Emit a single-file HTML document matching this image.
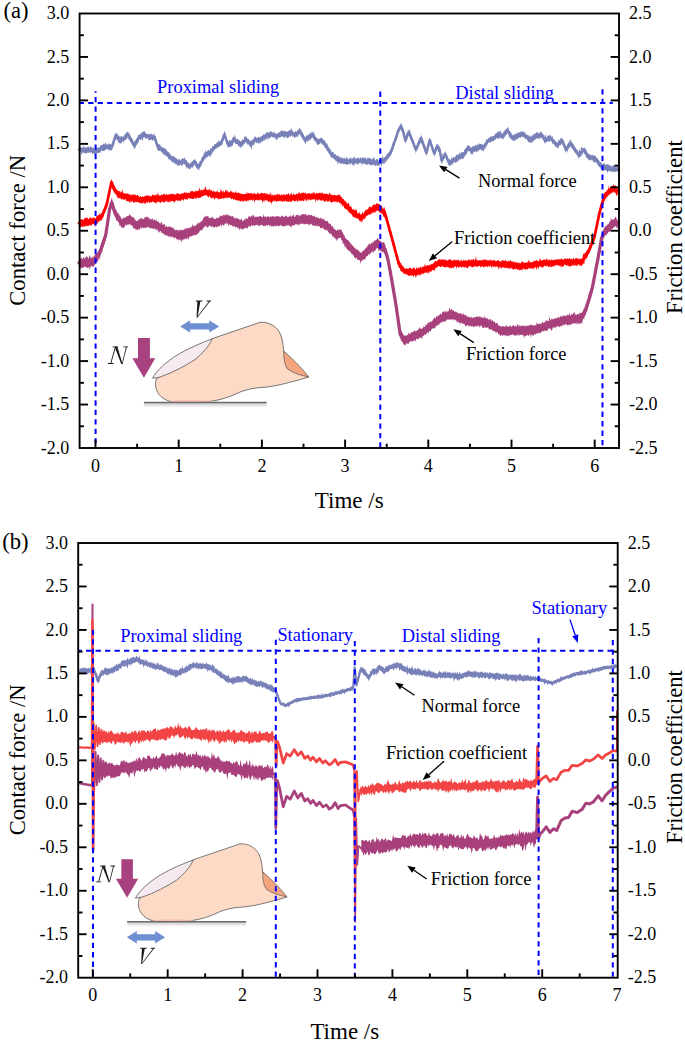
<!DOCTYPE html><html><head><meta charset="utf-8"><style>html,body{margin:0;padding:0;background:#fff;}svg{display:block;}text{font-variant-ligatures:none;font-feature-settings:"liga" 0;}</style></head><body>
<svg width="685" height="1043" viewBox="0 0 685 1043" font-family='"Liberation Serif", serif'>
<defs><linearGradient id="shd" x1="0" y1="0" x2="0" y2="1"><stop offset="0" stop-color="#c8c8c8"/><stop offset="1" stop-color="#ffffff"/></linearGradient></defs>
<rect width="685" height="1043" fill="#fff"/>
<g>
<path d="M79,147.58 79.61,146.82 80.22,147.89 80.83,146.4 81.44,147.79 82.05,147.15 82.66,147.55 83.27,147.48 83.88,145.12 84.49,147.35 85.1,148.71 85.72,146.64 86.34,148.05 86.96,146.08 87.58,147.57 88.2,146.83 88.82,146.47 89.44,148.16 90.06,146.7 90.68,145.65 91.3,147.34 91.87,147.1 92.44,148.49 93.01,147.02 93.59,148.08 94.16,148.92 94.73,148.87 95.3,148.9 95.89,148.3 96.47,147.44 97.06,146.5 97.64,148.54 98.23,148.12 98.81,146.49 99.4,147.84 99.97,147.31 100.53,144.84 101.1,145.17 101.67,145.26 102.23,144.99 102.8,144.52 103.37,143.24 103.93,144.49 104.5,144.29 105.1,142.67 105.7,142.73 106.3,144.32 106.9,144.77 107.5,144.12 108.1,145.36 108.7,143.6 109.3,143.56 109.9,144 110.5,143.99 111.1,145.31 111.7,145.02 111.9,143.86 112.09,142.36 112.29,142.25 112.48,141.68 112.68,142.78 112.87,140.17 113.07,139.81 113.26,139.56 113.46,139.62 113.65,138.26 113.85,137.13 114.04,137.73 114.24,135.93 114.43,136.95 114.63,134.79 114.82,134.18 115.02,135.32 115.21,135.16 115.41,133.21 115.6,133.45 115.8,131.46 116.21,132.72 116.62,134.45 117.03,133.61 117.44,133.57 117.85,135.96 118.26,134.3 118.67,135.94 119.08,135.81 119.49,136.26 119.9,137.04 120.5,136.78 121.1,135.99 121.7,136.06 122.3,137.28 122.9,136.33 123.33,136.97 123.75,135.89 124.18,135.22 124.6,134.24 125.03,135.03 125.45,132.95 125.88,133.5 126.3,132.18 126.72,132.98 127.15,131.39 127.58,132.6 128,130.78 128.3,132.3 128.59,133.57 128.89,133.56 129.18,132.87 129.48,134.2 129.77,133.87 130.07,136.03 130.36,135.43 130.66,135.53 130.95,137.88 131.25,137.97 131.54,137.59 131.84,137.59 132.13,138.01 132.43,139.92 132.72,139.34 133.02,139.33 133.31,141.45 133.61,142.73 133.9,142.31 134.2,142.25 134.54,141.82 134.88,140.35 135.22,140.39 135.56,140.15 135.9,140.08 136.24,138.8 136.58,138.23 136.92,138.5 137.26,137.06 137.6,136.95 137.94,135.76 138.28,134.25 138.62,135.77 138.96,133.97 139.3,134.25 139.87,134.75 140.43,134.22 141,133.23 141.57,133.04 142.13,132.3 142.7,131.59 143.27,132.11 143.83,131.42 144.4,130.66 144.97,131.84 145.53,133.27 146.1,133.32 146.67,133.94 147.23,134.05 147.8,134.28 148.37,132.79 148.93,135.12 149.5,134.51 150.14,133.73 150.78,133.98 151.41,133.31 152.05,134.93 152.69,134.74 153.32,133.51 153.96,135.56 154.6,132.66 154.79,136.17 154.99,136.78 155.18,135.4 155.38,135.67 155.57,136.33 155.76,137.81 155.96,138.73 156.15,138.71 156.34,139.07 156.54,139.25 156.73,140.07 156.92,142.5 157.12,142.23 157.31,143.53 157.51,142.57 157.7,142.96 158.21,144.68 158.71,143.75 159.22,144.43 159.73,144.35 160.24,144.73 160.74,145.84 161.25,147.35 161.76,147.1 162.26,146.98 162.77,147.76 163.28,147.76 163.79,147.31 164.29,149.31 164.8,148.12 165.24,148.17 165.69,148.52 166.13,149.66 166.57,149.66 167.01,151.54 167.46,151.35 167.9,151.51 168.34,151.45 168.79,152.49 169.23,152.74 169.67,153.05 170.11,154.75 170.56,154.5 171,154.7 171.54,155.98 172.08,156.05 172.62,155.82 173.16,156.16 173.7,156.29 174.24,156.73 174.78,156.95 175.32,157.94 175.86,157.55 176.4,158.58 176.94,158.04 177.48,159.9 178.02,159.9 178.56,158.47 179.1,159.54 179.68,159.26 180.26,160.54 180.83,160.47 181.41,159.35 181.99,158.62 182.57,159.03 183.14,158.32 183.72,158.79 184.3,157.14 184.69,158.73 185.08,157.97 185.48,159.68 185.87,160.08 186.26,160.36 186.65,160.19 187.05,160.91 187.44,161.66 187.83,162.87 188.22,163.58 188.62,162.06 189.01,163.84 189.4,164.79 189.83,163.42 190.25,163.17 190.68,162.48 191.1,162.42 191.53,162.56 191.95,161.4 192.38,160.96 192.8,161.17 193.22,159.84 193.65,159.81 194.07,160.02 194.5,158.46 194.91,160.59 195.32,158.98 195.73,161.07 196.14,161.39 196.55,161.3 196.96,161.77 197.37,162.82 197.78,164.15 198.19,163.75 198.6,164.03 198.89,163.87 199.18,162.21 199.47,162.06 199.76,161.06 200.05,161.83 200.34,161.18 200.63,160.92 200.92,161.01 201.21,159.59 201.5,158.1 201.8,156.62 202.09,158.9 202.38,157.15 202.67,155.65 202.96,156.71 203.25,155.91 203.54,155.48 203.83,151.55 204.12,154.46 204.41,150.88 204.7,153.69 205.21,149.38 205.72,151.42 206.22,152.27 206.73,151.63 207.24,150.66 207.75,150.68 208.26,149.76 208.77,149.53 209.28,150.65 209.78,150.64 210.29,148.15 210.8,147.64 211.2,148.96 211.6,148.65 212,146.7 212.4,146.49 212.8,145.81 213.2,145.87 213.6,146.18 214,145.62 214.4,144.13 214.8,144.16 215.2,143.97 215.71,144.15 216.22,142.63 216.74,143.13 217.25,142.99 217.76,141.04 218.28,140.48 218.79,141.72 219.3,141.66 219.97,140.38 220.63,141.22 221.3,139.43 221.49,139.52 221.69,138.66 221.88,138.13 222.08,138.89 222.27,136.98 222.46,136.3 222.66,136.56 222.85,135.23 223.04,133.77 223.24,134.22 223.43,134.83 223.62,133.69 223.82,133.31 224.01,133.44 224.21,131.2 224.4,130.64 224.59,130.88 224.79,132.5 224.98,131.97 225.18,133.8 225.37,131.41 225.56,134.04 225.76,134.6 225.95,136.07 226.14,136.63 226.34,137.99 226.53,136.85 226.72,137.1 226.92,138.7 227.11,139.77 227.31,140.06 227.5,139.38 228.1,141.49 228.7,141.44 229.3,139.33 229.9,140.63 230.5,141.42 230.91,140.04 231.32,140.04 231.73,140.12 232.14,138.42 232.55,138.03 232.96,137.34 233.37,137.1 233.78,136.62 234.19,137.93 234.6,134.25 235.08,135.78 235.55,137.06 236.03,138.85 236.51,139.18 236.98,138.48 237.46,139.59 237.94,138.21 238.42,140.59 238.89,140.19 239.37,140.61 239.85,140.02 240.32,141.26 240.8,141.72 241.23,141.12 241.65,141.33 242.08,139.38 242.5,138.88 242.93,139.63 243.35,140.23 243.78,139.79 244.2,137.31 244.62,136.6 245.05,136.25 245.47,136.44 245.9,136.32 246.33,136.86 246.75,138.07 247.18,137.46 247.6,139.04 248.03,139.82 248.45,138.63 248.88,138.58 249.3,139.7 249.72,141.5 250.15,140.75 250.57,140 251,142.55 251.41,140.08 251.82,140.02 252.23,139.15 252.64,140.05 253.05,139.74 253.46,138.65 253.87,137.69 254.28,136.55 254.69,137.86 255.1,136.87 255.69,136.25 256.27,137.71 256.86,137.44 257.44,138.19 258.03,137.32 258.61,136.48 259.2,136.71 259.75,138.11 260.29,136.79 260.84,136.86 261.38,136.31 261.93,135.76 262.48,135.71 263.02,135.02 263.57,134.12 264.12,133.73 264.66,135.38 265.21,133.49 265.75,133.7 266.3,133.1 266.87,132.1 267.43,131.84 268,133.15 268.57,132.04 269.13,132.6 269.7,132.52 270.27,130.88 270.83,131.43 271.4,131.56 271.97,132.5 272.53,132.93 273.1,131.19 273.67,132.67 274.23,131.35 274.8,133.85 275.37,133.83 275.93,133.02 276.5,133.23 277.09,134.16 277.67,133.24 278.26,133.01 278.84,131.94 279.43,132.65 280.01,131.5 280.6,131.76 281.24,130.5 281.88,130.27 282.51,130.82 283.15,130.92 283.79,131.41 284.43,130.82 285.06,130.63 285.7,131.87 286.32,132.05 286.94,130.92 287.56,132.1 288.18,130.74 288.8,131.17 289.42,129.45 290.04,130.45 290.66,129.84 291.28,127.64 291.9,130.09 292.4,130.38 292.9,131.74 293.4,131.24 293.9,132.65 294.4,132.23 294.9,132.17 295.41,131.31 295.92,130.82 296.43,132.36 296.94,130.9 297.45,129.62 297.96,131.03 298.47,129.06 298.98,129.19 299.49,127.63 300,128.12 300.32,128.64 300.64,129.9 300.96,129.57 301.27,130.36 301.59,131.49 301.91,132.62 302.23,131.88 302.55,132.04 302.87,133.26 303.19,134.71 303.51,134.34 303.83,134.2 304.14,136.52 304.46,135.89 304.78,137.93 305.1,136.94 305.58,137.27 306.06,135.6 306.54,135.23 307.02,135.78 307.5,134.9 307.98,135.56 308.46,134.87 308.94,134.3 309.42,133.14 309.9,133.63 310.38,132.34 310.86,133.69 311.34,133.5 311.82,130.99 312.3,132.66 312.66,132.5 313.03,131.59 313.39,130.46 313.76,134.92 314.12,133.37 314.49,132.24 314.85,135.14 315.21,136.3 315.58,137.33 315.94,137.79 316.31,137.31 316.67,137.54 317.04,138.01 317.4,138.65 317.99,138.22 318.57,139.23 319.16,139.12 319.74,138.43 320.33,138.07 320.91,137.37 321.5,137.93 321.89,138.53 322.28,138.25 322.68,138.31 323.07,139.18 323.46,140.93 323.85,139.58 324.25,140.74 324.64,140.12 325.03,140.81 325.42,142.18 325.82,142.84 326.21,142.76 326.6,143.45 326.94,144.37 327.28,143.22 327.62,145.79 327.96,144.98 328.3,146.25 328.64,147.54 328.98,148.63 329.32,148.17 329.66,149.68 330,148.26 330.34,148.46 330.68,150.5 331.02,151.3 331.36,152.2 331.7,153 332.21,150.95 332.72,152.77 333.23,151.95 333.73,152.24 334.24,154.47 334.75,154.19 335.26,154.35 335.77,154.23 336.27,155.37 336.78,155.77 337.29,156.5 337.8,155.22 338.35,155.15 338.91,156.9 339.46,157.75 340.02,155.72 340.57,158.22 341.12,156.92 341.68,157.93 342.23,158.27 342.78,157.19 343.34,158.88 343.89,158.04 344.45,157.33 345,158.32 345.6,159.53 346.21,157.92 346.81,156.56 347.41,158.34 348.02,158.75 348.62,159.76 349.23,158.55 349.83,158.55 350.43,158.34 351.04,156.62 351.64,159.61 352.24,159.07 352.85,157.45 353.45,158.17 354.06,156.35 354.66,157.3 355.26,159.43 355.87,157.3 356.47,158.92 357.07,157.28 357.68,158.31 358.28,157.23 358.89,158.86 359.49,159.03 360.09,156.91 360.7,157.79 361.3,157.85 361.9,159.04 362.5,158.01 363.1,157.27 363.7,157.19 364.3,158.13 364.9,157.4 365.5,157.12 366.1,159.32 366.7,159.47 367.3,157.89 367.9,157.53 368.5,158.24 369.1,157.92 369.7,158.3 370.3,157.78 370.9,158.66 371.5,159.82 372.1,159.22 372.7,158.38 373.3,158.85 373.9,156.41 374.5,158.27 375.1,160.61 375.7,160.18 376.3,159.32 376.9,158.63 377.5,158.94 378.1,159.8 378.7,160.91 379.27,159.78 379.85,159.31 380.42,159.54 380.99,158.61 381.56,157.52 382.14,158.72 382.71,154.62 383.28,158.41 383.85,157.16 384.43,157.06 385,157.63 385.41,156.51 385.82,156.15 386.22,155.49 386.63,153.76 387.04,154.25 387.45,153.16 387.85,154.16 388.26,152.41 388.67,152.86 389.08,152.48 389.48,151.49 389.89,150.29 390.3,149.8 390.51,151.39 390.73,149.85 390.94,148.02 391.16,148.69 391.37,147.4 391.59,147.76 391.8,146.2 392.01,146.52 392.23,144.86 392.44,144.45 392.66,140.73 392.87,143.48 393.09,144.23 393.3,142.26 393.51,141.41 393.73,140.92 393.94,140.97 394.16,139 394.37,139.57 394.59,139.25 394.8,137.83 395,137.21 395.2,136.5 395.4,135.94 395.6,136.99 395.8,134.67 396,133.69 396.2,134.06 396.4,132.85 396.6,132.64 396.8,129.67 397,131.39 397.2,130.22 397.4,131.58 397.6,129.4 397.8,129.8 398,128.47 398.2,128.98 398.4,127.42 398.6,127.99 398.8,127.43 399.13,126.69 399.47,125.8 399.8,125.76 400.13,124.9 400.47,123.43 400.8,124.11 401.07,123.31 401.35,123.48 401.62,124.05 401.9,124.72 402.18,126.61 402.45,125.86 402.73,127.88 403,127.49 403.15,127.97 403.3,127.59 403.45,130.69 403.6,129.66 403.75,131.93 403.9,130.66 404.05,131.29 404.2,131.87 404.35,134.1 404.5,134.5 404.65,133.7 404.8,135.8 404.95,136.17 405.1,136.51 405.25,135.97 405.4,137.9 405.61,138.02 405.83,136.72 406.04,136.14 406.25,134.7 406.47,133.7 406.68,133.86 406.89,132.75 407.11,133.2 407.32,131.89 407.53,132.67 407.75,132.49 407.96,130.23 408.17,130.05 408.39,130.25 408.6,129.9 408.87,130.95 409.14,129.84 409.41,130.53 409.69,129.93 409.96,128.15 410.23,132.75 410.5,132.99 410.73,133.45 410.95,134.83 411.18,135.16 411.4,133.2 411.62,136.4 411.85,136.82 412.07,136.48 412.3,138.18 412.52,137.99 412.75,138.89 412.97,140.48 413.2,139.13 413.43,140.3 413.65,141.33 413.88,142.46 414.1,143.31 414.32,142.71 414.55,144.53 414.77,143.57 415,145.57 415.22,144.3 415.45,146.51 415.67,147.24 415.9,146.1 416.15,147.23 416.4,145.03 416.64,144.97 416.89,145.44 417.14,143.65 417.39,142.43 417.63,142.36 417.88,142.34 418.13,141.71 418.38,141.15 418.62,141.04 418.87,137.03 419.12,138.72 419.37,139.34 419.61,138.99 419.86,137.11 420.11,138.03 420.36,137.5 420.6,136.92 420.85,136.28 421.1,132.14 421.3,135.56 421.51,136.42 421.71,135.73 421.92,138.54 422.12,138.78 422.32,138.12 422.53,136.64 422.73,138.66 422.93,140.71 423.14,140.18 423.34,140.52 423.55,140.89 423.75,142.58 423.95,144.09 424.16,144.68 424.36,143.25 424.57,144.65 424.77,144.75 424.97,145.51 425.18,145.67 425.38,144.92 425.58,146.76 425.79,147.52 425.99,148.05 426.2,150.17 426.4,150.67 426.55,148.56 426.7,148.51 426.85,147.48 427,146.99 427.15,148.1 427.3,147.36 427.45,146.93 427.6,146.62 427.75,144.95 427.9,145.12 428.05,144.15 428.2,142.22 428.35,141.28 428.5,141.36 428.65,141.93 428.8,141.35 428.95,140.44 429.1,140.19 429.25,138.39 429.4,139.06 429.55,136.67 429.7,138.15 429.89,137.99 430.08,139.27 430.27,139.18 430.47,139.85 430.66,139.46 430.85,141.59 431.04,140.05 431.23,140.4 431.43,142.23 431.62,143.7 431.81,144.43 432,144.71 432.19,145.15 432.38,145.9 432.57,144.55 432.77,147.37 432.96,146.25 433.15,147.15 433.34,149.06 433.53,147.42 433.73,149.58 433.92,149.14 434.11,150.84 434.3,151.48 434.52,150.06 434.73,150.6 434.95,148.71 435.17,147.21 435.38,146.97 435.6,148.37 435.82,146.96 436.03,146.91 436.25,144.34 436.47,145.07 436.68,144.17 436.9,143.59 437.33,144.51 437.77,144.06 438.2,145.58 438.63,144.39 439.07,146.28 439.5,146.33 439.61,146.05 439.72,148.05 439.83,148.28 439.94,149.72 440.06,148.6 440.17,150.45 440.28,150.15 440.39,150.74 440.5,148.86 440.61,151.26 440.72,152.9 440.83,152.66 440.94,153.34 441.06,155.3 441.17,156.69 441.28,153.25 441.39,157.04 441.5,157.4 441.85,156.93 442.21,156.93 442.56,153.09 442.92,154.25 443.27,155.72 443.63,153.8 443.98,152.75 444.34,153.61 444.69,151.82 445.05,151.98 445.4,150.71 445.65,152.91 445.9,152.75 446.15,153.49 446.4,153.45 446.65,155.27 446.9,155.49 447.15,155.79 447.4,156.76 447.65,155.71 447.9,156.93 448.15,158.08 448.4,159.42 448.65,160.03 448.9,159.16 449.15,160.34 449.4,158.49 449.89,159.65 450.38,159.47 450.86,159.88 451.35,157.14 451.84,158.34 452.32,158.81 452.81,157.81 453.3,157.06 453.87,156.89 454.44,157.56 455.01,157.52 455.59,156.15 456.16,154.81 456.73,155.05 457.3,154.29 457.84,155.15 458.38,154.63 458.93,154.08 459.47,151.04 460.01,154.81 460.55,153.57 461.09,152.85 461.63,151.82 462.18,151.9 462.72,152.56 463.26,152.55 463.8,151.97 464.15,150.02 464.51,150.25 464.86,149.06 465.22,148.87 465.57,148.02 465.92,149.07 466.28,147.74 466.63,147.33 466.98,146.44 467.34,145.51 467.69,144.82 468.05,145.94 468.4,145.01 468.87,145.34 469.34,146.77 469.81,145.77 470.29,146.62 470.76,148.12 471.23,147.74 471.7,147.45 472.25,146.62 472.8,146.13 473.35,146.62 473.9,145.76 474.45,146.48 475,145.52 475.7,144.91 476.4,144.98 477.1,146.08 477.8,143.51 478.15,144.38 478.5,145.06 478.85,143.17 479.2,143.65 479.81,143.56 480.43,144.26 481.04,144.09 481.66,143.5 482.27,145.11 482.89,144.18 483.5,145.17 483.85,144 484.2,144.48 484.55,142.97 484.9,142.51 485.25,142.37 485.6,142.59 485.95,141.4 486.3,139.62 486.65,139.1 487,138.59 487.35,139.76 487.7,139.15 488.3,138.43 488.9,137.36 489.5,138.14 490.1,136.64 490.7,136.02 491.3,136.59 491.9,137.17 492.43,135.75 492.97,135.96 493.5,136.06 494.03,135.63 494.57,135.33 495.1,134.18 495.63,133.51 496.17,132.95 496.7,133.15 497.23,131.76 497.77,132.39 498.3,131.95 498.9,130.47 499.5,131.83 500.1,132.09 500.7,130.26 501.3,132.72 501.9,133.71 502.5,133.85 502.94,133.68 503.38,131.43 503.82,132.3 504.27,130.17 504.71,130.76 505.15,130.52 505.59,129.28 506.03,128.87 506.48,129.39 506.92,127.73 507.36,127.51 507.8,127.76 508.1,129.25 508.4,125.39 508.7,128.31 509,130.54 509.3,130.6 509.6,131.35 509.9,130.97 510.2,132.27 510.5,133.26 510.8,131.81 511.1,131.36 511.4,133.18 511.7,135.51 512,135.87 512.59,135.3 513.18,134.44 513.77,134.35 514.36,134.13 514.94,134.77 515.53,134.01 516.12,134.07 516.71,132.24 517.3,133.36 517.89,133.5 518.48,131.65 519.07,132.75 519.66,132.4 520.24,131.52 520.83,131.82 521.42,132.38 522.01,131.61 522.6,130.95 523.06,131.4 523.52,132.09 523.99,132.81 524.45,132.9 524.91,130.64 525.38,133.27 525.84,134.24 526.3,134.43 526.76,134.63 527.23,135.1 527.69,135.19 528.15,134.51 528.61,136.08 529.08,135.52 529.54,135.79 530,137.46 530.53,135.29 531.07,137.51 531.6,135.77 532.13,135.19 532.67,134.84 533.2,136.19 533.73,133.7 534.27,133.37 534.8,134.41 535.33,133.04 535.87,133.69 536.4,131.91 536.99,132.48 537.58,132.07 538.17,132.99 538.76,133.68 539.34,133.35 539.93,131.16 540.52,132.41 541.11,130.98 541.7,132.97 542.02,133.12 542.34,133.49 542.66,133.99 542.98,133.24 543.3,134.51 543.62,134.98 543.94,136.59 544.26,134.33 544.58,136.82 544.9,138.11 545.48,133.19 546.06,137.57 546.63,137.38 547.21,136.02 547.79,134.95 548.37,136.39 548.94,134.67 549.52,135.63 550.1,134.28 550.54,135.41 550.98,136.01 551.42,136.31 551.86,137.7 552.31,136.1 552.75,136.74 553.19,139.15 553.63,138.95 554.07,140.15 554.51,138.43 554.95,140.94 555.39,140.72 555.84,141.96 556.28,142.39 556.72,142.31 557.16,141.12 557.6,143.29 557.98,143.08 558.36,140.49 558.75,139.95 559.13,139.6 559.51,140.45 559.89,140.26 560.27,139.68 560.65,137.59 561.04,138.5 561.42,138.4 561.8,137.84 562.05,137.13 562.29,139.29 562.54,139.57 562.79,138.59 563.04,140.94 563.28,139.84 563.53,141.3 563.78,140.82 564.02,140.57 564.27,142.87 564.52,144.2 564.76,143.81 565.01,144.58 565.26,145.68 565.51,144.86 565.75,146.5 566,146.94 566.36,146.61 566.72,145.63 567.08,146.05 567.43,143.95 567.79,143.25 568.15,144.55 568.51,141.95 568.87,141.66 569.22,142.5 569.58,141.38 569.94,138.99 570.3,140.92 570.67,140.2 571.03,140 571.4,140.57 571.76,143.25 572.13,143.02 572.49,142.41 572.86,143.21 573.22,144.35 573.59,143.8 573.95,145.62 574.32,145.05 574.68,147.07 575.05,147.97 575.41,148.28 575.78,146.73 576.14,148.52 576.51,149.2 576.87,150.43 577.24,149.37 577.6,151.35 577.97,149.83 578.33,150.96 578.7,152.93 579.14,151.08 579.58,147.58 580.03,151.32 580.47,151.17 580.91,148.66 581.35,146.73 581.79,146.7 582.23,147.73 582.67,148.61 583.12,148.7 583.56,147.45 584,147.74 584.31,147.72 584.61,146.92 584.92,149.01 585.23,148.68 585.54,148.82 585.84,149.37 586.15,149.28 586.46,150.25 586.76,152.65 587.07,152.92 587.38,151.66 587.69,152.73 587.99,153.73 588.3,154.6 588.92,153.46 589.53,154.01 590.15,155.1 590.77,155.16 591.38,154.67 592,155.77 592.62,154.22 593.23,155.87 593.85,155.57 594.47,155.55 595.08,155.87 595.7,155.8 596.09,156.85 596.49,158.17 596.88,158.39 597.28,157.21 597.67,158.27 598.06,159.91 598.46,159.67 598.85,159.67 599.24,161.25 599.64,161.92 600.03,161.86 600.42,162.29 600.82,163.1 601.21,160.06 601.61,163.16 602,164.86 602.61,164.6 603.21,163.54 603.82,163.21 604.43,163.31 605.04,165.27 605.64,164.26 606.25,164.69 606.86,164.59 607.46,163.98 608.07,164.39 608.68,164.48 609.29,164.97 609.89,166.3 610.5,164.76 611.12,166.4 611.73,166.64 612.35,166 612.97,165.25 613.58,165.37 614.2,165.33 614.82,165.11 615.43,167.05 616.05,166.98 616.67,166.31 617.28,166.58 617.9,166.69 L617.9,171.67 617.28,171.87 616.67,171.34 616.05,171.44 615.43,171.87 614.82,172.56 614.2,171.48 613.58,172.13 612.97,170.79 612.35,171.72 611.73,171.63 611.12,172.45 610.5,170.81 609.89,171.5 609.29,170.8 608.68,171.36 608.07,170.69 607.46,174 606.86,170.69 606.25,170.97 605.64,170.32 605.04,169.63 604.43,170.08 603.82,170.85 603.21,170.81 602.61,169.8 602,169.15 601.61,168.94 601.21,169.59 600.82,169.81 600.42,166.8 600.03,167.6 599.64,167.52 599.24,166.52 598.85,166.45 598.46,165.75 598.06,165.99 597.67,164.38 597.28,164.27 596.88,162.72 596.49,162.55 596.09,162.75 595.7,162.66 595.08,161.98 594.47,161.76 593.85,163.29 593.23,160.91 592.62,160.49 592,159.9 591.38,159.7 590.77,159.63 590.15,161.1 589.53,159.86 588.92,159.86 588.3,159.66 587.99,159.61 587.69,158.77 587.38,158.37 587.07,157.48 586.76,157.08 586.46,157.69 586.15,158.17 585.84,155.93 585.54,155.46 585.23,153.96 584.92,154.26 584.61,153.97 584.31,154.04 584,151.92 583.56,152.35 583.12,153.21 582.67,153.46 582.23,155.39 581.79,153.83 581.35,155.73 580.91,156.79 580.47,157.19 580.03,156.43 579.58,157.79 579.14,157.37 578.7,157.62 578.33,160.86 577.97,155.68 577.6,155.84 577.24,156.49 576.87,155.11 576.51,153.82 576.14,154.17 575.78,154.11 575.41,152.19 575.05,153.62 574.68,152.21 574.32,152.16 573.95,150.49 573.59,150.72 573.22,150.15 572.86,148.68 572.49,148.55 572.13,148.35 571.76,149.17 571.4,147.43 571.03,146.48 570.67,147.11 570.3,145.41 569.94,145.97 569.58,149.76 569.22,147 568.87,147.55 568.51,148.73 568.15,149.96 567.79,150.64 567.43,151.52 567.08,151.67 566.72,150.47 566.36,151.27 566,153.66 565.75,151.09 565.51,151.82 565.26,153.01 565.01,150.68 564.76,150.13 564.52,148.76 564.27,147.88 564.02,147.44 563.78,146.48 563.53,147.62 563.28,146.04 563.04,146.12 562.79,145.48 562.54,144.74 562.29,143.4 562.05,144.59 561.8,143.1 561.42,143.51 561.04,144.64 560.65,145.01 560.27,145.68 559.89,144.73 559.51,145.27 559.13,145.61 558.75,147.96 558.36,147.97 557.98,146.97 557.6,149.1 557.16,148.07 556.72,147.81 556.28,145.83 555.84,146.75 555.39,147.06 554.95,146.02 554.51,145.32 554.07,144.18 553.63,144.22 553.19,143.26 552.75,144.58 552.31,143.3 551.86,142.2 551.42,141.04 550.98,141.45 550.54,140.88 550.1,139.85 549.52,142.27 548.94,140.89 548.37,142.28 547.79,140.79 547.21,141.95 546.63,142.71 546.06,141.39 545.48,143.05 544.9,143.94 544.58,141.98 544.26,142.64 543.94,142.33 543.62,139.76 543.3,140.01 542.98,139.61 542.66,139.54 542.34,138.56 542.02,138.37 541.7,137.84 541.11,137.6 540.52,137.59 539.93,139.95 539.34,137.64 538.76,139.05 538.17,138.35 537.58,138.62 536.99,138.11 536.4,138.51 535.87,140.25 535.33,138.47 534.8,140.35 534.27,139.8 533.73,141.73 533.2,140.15 532.67,141.69 532.13,142.61 531.6,142.8 531.07,143.27 530.53,142.42 530,142.21 529.54,142.03 529.08,142.28 528.61,142.47 528.15,141.48 527.69,141.28 527.23,140.36 526.76,139.36 526.3,139.12 525.84,138.63 525.38,139.67 524.91,138.25 524.45,137.33 523.99,138.12 523.52,136.65 523.06,137.48 522.6,136.43 522.01,137.18 521.42,136.14 520.83,137.31 520.24,138.38 519.66,137.27 519.07,137.79 518.48,137.73 517.89,138.47 517.3,139.4 516.71,139.03 516.12,139.81 515.53,139.7 514.94,140.98 514.36,141.02 513.77,139.58 513.18,141.56 512.59,140.54 512,139.77 511.7,139.36 511.4,139.33 511.1,139.62 510.8,139.58 510.5,138.55 510.2,136.54 509.9,138.15 509.6,137.31 509.3,136.86 509,134.85 508.7,137.15 508.4,133.81 508.1,134.34 507.8,132.85 507.36,133.3 506.92,134.09 506.48,134.69 506.03,135.85 505.59,135.39 505.15,135.26 504.71,137.37 504.27,137.68 503.82,137.18 503.38,139.58 502.94,139.44 502.5,138.17 501.9,138.8 501.3,138.22 500.7,138.08 500.1,137.01 499.5,138.56 498.9,139 498.3,138.57 497.77,138.34 497.23,138.28 496.7,138.5 496.17,138.2 495.63,139.73 495.1,140.36 494.57,139.3 494.03,140.67 493.5,141.08 492.97,142.12 492.43,141.14 491.9,140.95 491.3,141.18 490.7,142.94 490.1,142.14 489.5,142.63 488.9,142.6 488.3,142.6 487.7,143.04 487.35,145.58 487,144.57 486.65,144.96 486.3,146.79 485.95,146.56 485.6,147.43 485.25,149.41 484.9,147.47 484.55,148.7 484.2,150.28 483.85,149.45 483.5,152.33 482.89,151.11 482.27,149.92 481.66,150.41 481.04,150.66 480.43,148.8 479.81,149.8 479.2,149.73 478.85,150.38 478.5,150.16 478.15,151.34 477.8,151.22 477.1,151.59 476.4,152.85 475.7,150.84 475,151.77 474.45,152.16 473.9,151.66 473.35,152.19 472.8,154.5 472.25,154.55 471.7,153.51 471.23,155.6 470.76,152.84 470.29,153.33 469.81,151.14 469.34,150.84 468.87,150.93 468.4,151.62 468.05,151.19 467.69,150.66 467.34,151.05 466.98,153.32 466.63,153.96 466.28,154.92 465.92,153.53 465.57,155.89 465.22,156.09 464.86,155.41 464.51,155.82 464.15,157.97 463.8,158.06 463.26,158.79 462.72,158.75 462.18,158.96 461.63,158.02 461.09,159.27 460.55,160.01 460.01,158.48 459.47,159.88 458.93,159.36 458.38,161.6 457.84,160.56 457.3,162.43 456.73,161.34 456.16,162.93 455.59,163.07 455.01,161.86 454.44,162.31 453.87,162.82 453.3,162.57 452.81,164.63 452.32,164.4 451.84,163.29 451.35,164.74 450.86,165.99 450.38,164.86 449.89,166.33 449.4,165.54 449.15,165.58 448.9,165 448.65,165.97 448.4,163.21 448.15,164.99 447.9,163.59 447.65,162.45 447.4,161.07 447.15,161.63 446.9,161.43 446.65,160.57 446.4,160.04 446.15,159.29 445.9,157.58 445.65,158.74 445.4,156.1 445.05,157.78 444.69,158.24 444.34,159.11 443.98,159.04 443.63,160.87 443.27,160.19 442.92,161.8 442.56,162.27 442.21,162.44 441.85,164.6 441.5,162.52 441.39,163.34 441.28,162.71 441.17,161.66 441.06,164.26 440.94,158.97 440.83,160.63 440.72,158.15 440.61,157.76 440.5,156.67 440.39,156.01 440.28,156.81 440.17,154.89 440.06,154.44 439.94,153.69 439.83,152.74 439.72,152.42 439.61,153.44 439.5,152.44 439.07,152.45 438.63,151.89 438.2,151.88 437.77,150.46 437.33,148.96 436.9,150.36 436.68,149.18 436.47,150.3 436.25,152 436.03,152.25 435.82,151.46 435.6,152.44 435.38,154.15 435.17,154.54 434.95,154.09 434.73,154.27 434.52,156.51 434.3,156.11 434.11,157.02 433.92,155.28 433.73,153.98 433.53,155.19 433.34,154.07 433.15,152.08 432.96,151.63 432.77,152.14 432.57,151.84 432.38,150.26 432.19,150.39 432,150.25 431.81,149.71 431.62,149.78 431.43,148.62 431.23,147.39 431.04,147.39 430.85,146.71 430.66,146.03 430.47,145.59 430.27,143.7 430.08,144.99 429.89,143.05 429.7,143.3 429.55,143.76 429.4,143.13 429.25,144.52 429.1,145.99 428.95,144.97 428.8,145.49 428.65,147.91 428.5,148.39 428.35,147.07 428.2,148.85 428.05,150.75 427.9,149.87 427.75,151.16 427.6,150.39 427.45,150.71 427.3,151.56 427.15,152.16 427,153.75 426.85,153.85 426.7,155.83 426.55,154.84 426.4,155.81 426.2,156.34 425.99,153.67 425.79,155.37 425.58,152.57 425.38,152.02 425.18,151.84 424.97,151.47 424.77,151.65 424.57,150.52 424.36,149.45 424.16,150.66 423.95,149.14 423.75,147.68 423.55,148.49 423.34,146.6 423.14,146.98 422.93,146.6 422.73,144.75 422.53,144.65 422.32,144.41 422.12,142.96 421.92,144.06 421.71,143.01 421.51,145.31 421.3,141.3 421.1,141.94 420.85,140.51 420.6,140.85 420.36,143.06 420.11,143.96 419.86,142.72 419.61,143.57 419.37,144.01 419.12,145.31 418.87,147.15 418.62,146.38 418.38,146.16 418.13,147.82 417.88,147.44 417.63,148.94 417.39,149.44 417.14,149.28 416.89,149.41 416.64,150.33 416.4,150.55 416.15,152.66 415.9,151.63 415.67,154.72 415.45,151.56 415.22,150.68 415,150.03 414.77,149.55 414.55,149.51 414.32,149.17 414.1,148.64 413.88,147.36 413.65,146.63 413.43,147.06 413.2,146.96 412.97,144.65 412.75,143.82 412.52,143.56 412.3,144.34 412.07,143.8 411.85,141.77 411.62,140.97 411.4,141.29 411.18,141.16 410.95,141.18 410.73,140.24 410.5,139.75 410.23,137.52 409.96,138.6 409.69,136.07 409.41,136.75 409.14,135.09 408.87,135.27 408.6,135.8 408.39,134.5 408.17,136.75 407.96,136.18 407.75,137.6 407.53,138.91 407.32,138.17 407.11,138.25 406.89,140.73 406.68,140.48 406.47,139.86 406.25,141.51 406.04,141 405.83,143.81 405.61,141.76 405.4,142.56 405.25,142.46 405.1,143.56 404.95,142.12 404.8,141.82 404.65,140.68 404.5,139.47 404.35,139.66 404.2,138.84 404.05,139.06 403.9,137.49 403.75,137.11 403.6,136.12 403.45,136.31 403.3,134.58 403.15,135.33 403,133.36 402.73,133.51 402.45,132.31 402.18,132.85 401.9,130.48 401.62,131.62 401.35,132.2 401.07,129.86 400.8,128.55 400.47,130.41 400.13,129.49 399.8,131.34 399.47,132.12 399.13,131.07 398.8,131.23 398.6,133.3 398.4,132.84 398.2,135.1 398,134.14 397.8,135.78 397.6,135.89 397.4,137.58 397.2,138.13 397,138.55 396.8,137.17 396.6,138.43 396.4,139.2 396.2,140.94 396,140.9 395.8,140.3 395.6,142.43 395.4,141.31 395.2,142.07 395,143.02 394.8,143.38 394.59,144.53 394.37,145.72 394.16,146.97 393.94,145.71 393.73,147.82 393.51,147.94 393.3,149.11 393.09,149.95 392.87,150.14 392.66,151.29 392.44,151.06 392.23,150.21 392.01,152.8 391.8,152.32 391.59,153.71 391.37,152.51 391.16,153.62 390.94,154.26 390.73,155.52 390.51,154.87 390.3,156.73 389.89,156.05 389.48,157.33 389.08,157.14 388.67,159.44 388.26,158.39 387.85,159.6 387.45,158.85 387.04,161.36 386.63,159.65 386.22,163.38 385.82,161.42 385.41,161.04 385,163.46 384.43,163.37 383.85,164.45 383.28,163.1 382.71,163.07 382.14,164.86 381.56,166.94 380.99,164.02 380.42,164.46 379.85,164.33 379.27,166.21 378.7,166.5 378.1,165.08 377.5,165.81 376.9,165.9 376.3,164.6 375.7,167.05 375.1,165.29 374.5,164.82 373.9,165.56 373.3,163.89 372.7,165.13 372.1,165.64 371.5,164.52 370.9,165.15 370.3,165.16 369.7,165.16 369.1,163.65 368.5,163.93 367.9,164.29 367.3,165.29 366.7,164.06 366.1,164.63 365.5,164.27 364.9,163.9 364.3,163.64 363.7,162.84 363.1,164.86 362.5,162.97 361.9,166.46 361.3,162.53 360.7,163.73 360.09,162.54 359.49,163 358.89,163.56 358.28,164.73 357.68,164.78 357.07,162.77 356.47,163.91 355.87,164.07 355.26,163.52 354.66,163.09 354.06,166.38 353.45,165.32 352.85,164.52 352.24,165.15 351.64,163.3 351.04,163.23 350.43,165.38 349.83,163.71 349.23,163.31 348.62,163.89 348.02,165.28 347.41,164.17 346.81,163.97 346.21,165.56 345.6,164.04 345,163.95 344.45,164.09 343.89,163.87 343.34,164.33 342.78,163.06 342.23,163.7 341.68,163.78 341.12,164.09 340.57,163.62 340.02,162.63 339.46,162.61 338.91,162.9 338.35,162.59 337.8,164.97 337.29,162.04 336.78,161.25 336.27,160.95 335.77,161.4 335.26,160.12 334.75,159.99 334.24,158.69 333.73,159.45 333.23,157.74 332.72,157.17 332.21,158.9 331.7,157.15 331.36,157.5 331.02,156.98 330.68,156.86 330.34,156.13 330,154.55 329.66,154.69 329.32,154.56 328.98,153.55 328.64,153.59 328.3,151.64 327.96,150.68 327.62,151.8 327.28,151.83 326.94,150.31 326.6,149.83 326.21,149.18 325.82,147.37 325.42,148.72 325.03,147.69 324.64,147.96 324.25,146.17 323.85,145.58 323.46,144.84 323.07,145.15 322.68,145.13 322.28,143.49 321.89,142.99 321.5,144.43 320.91,143.31 320.33,142.51 319.74,144.04 319.16,143.96 318.57,145.06 317.99,145.12 317.4,144.96 317.04,143.7 316.67,143.85 316.31,142.87 315.94,141.42 315.58,141.08 315.21,141.82 314.85,141.2 314.49,140.72 314.12,140.5 313.76,139.38 313.39,139.22 313.03,137.94 312.66,137.77 312.3,137.29 311.82,138.03 311.34,138.12 310.86,139.45 310.38,140.46 309.9,140.43 309.42,139.52 308.94,139.4 308.46,141.65 307.98,140.24 307.5,141.89 307.02,140.89 306.54,141.35 306.06,143.6 305.58,143.02 305.1,144.47 304.78,142.53 304.46,141.7 304.14,140.61 303.83,141.35 303.51,139.77 303.19,139.34 302.87,139.23 302.55,138.53 302.23,139.32 301.91,137.08 301.59,137 301.27,136.27 300.96,137.23 300.64,135.69 300.32,134.27 300,134.03 299.49,134.34 298.98,134.29 298.47,134.93 297.96,137.11 297.45,136.93 296.94,135.91 296.43,137.01 295.92,137.32 295.41,136.79 294.9,137.43 294.4,138.76 293.9,136.6 293.4,136.14 292.9,137 292.4,136.79 291.9,135.97 291.28,134.93 290.66,137.01 290.04,135.98 289.42,136.52 288.8,137.58 288.18,137.73 287.56,138.28 286.94,138.01 286.32,136.9 285.7,136.21 285.06,137.05 284.43,138.73 283.79,136.03 283.15,138.2 282.51,136.09 281.88,136.58 281.24,136.95 280.6,136.95 280.01,137.75 279.43,137.43 278.84,136.97 278.26,138.31 277.67,138.18 277.09,140.55 276.5,139.15 275.93,140.17 275.37,137.72 274.8,137.46 274.23,137.15 273.67,138.27 273.1,136.88 272.53,137.31 271.97,136.72 271.4,136.18 270.83,137.36 270.27,137.75 269.7,137.89 269.13,139.03 268.57,137.13 268,141.07 267.43,138.06 266.87,137.86 266.3,139.6 265.75,140.4 265.21,139.09 264.66,139.39 264.12,141.46 263.57,140.32 263.02,140.46 262.48,141.71 261.93,142.61 261.38,140.88 260.84,142.25 260.29,143.68 259.75,141.96 259.2,144.21 258.61,142.88 258.03,143.91 257.44,142.28 256.86,142.13 256.27,143.67 255.69,141.53 255.1,142.51 254.69,145.08 254.28,142.35 253.87,144.46 253.46,145.2 253.05,145.78 252.64,145.48 252.23,144.71 251.82,149.19 251.41,149.06 251,147.44 250.57,146.41 250.15,147.44 249.72,145.67 249.3,145.2 248.88,145.31 248.45,143.72 248.03,144.92 247.6,145.17 247.18,142.96 246.75,144.2 246.33,142.63 245.9,141.98 245.47,141.96 245.05,143.41 244.62,143.92 244.2,143.3 243.78,144.04 243.35,145.45 242.93,145.62 242.5,146.17 242.08,145.48 241.65,147.9 241.23,147.13 240.8,147.33 240.32,147.44 239.85,146.77 239.37,146.71 238.89,146.33 238.42,145.74 237.94,145.81 237.46,143.89 236.98,143.95 236.51,143.94 236.03,144.11 235.55,144.24 235.08,143.23 234.6,141.57 234.19,141.92 233.78,143.14 233.37,142.73 232.96,144.93 232.55,145.71 232.14,146.13 231.73,146.44 231.32,145.81 230.91,146.33 230.5,147.68 229.9,146.64 229.3,147.26 228.7,146.82 228.1,147.55 227.5,147.14 227.31,146.15 227.11,145.37 226.92,143.51 226.72,144.8 226.53,144.21 226.34,143.16 226.14,142.2 225.95,142.84 225.76,141.58 225.56,140.4 225.37,139.56 225.18,140.3 224.98,139.59 224.79,137.62 224.59,138 224.4,137.63 224.21,137.87 224.01,139.82 223.82,138.38 223.62,140.35 223.43,140.41 223.24,140.36 223.04,140.64 222.85,141.52 222.66,141.47 222.46,143.27 222.27,144.62 222.08,143.04 221.88,144.9 221.69,144.55 221.49,145.46 221.3,146.06 220.63,146.12 219.97,145.51 219.3,146.99 218.79,147.09 218.28,147.36 217.76,147.65 217.25,147.06 216.74,147.98 216.22,149.28 215.71,149.27 215.2,148.78 214.8,149.77 214.4,149.99 214,150.69 213.6,150.18 213.2,152.16 212.8,151.37 212.4,153.11 212,154.25 211.6,153.88 211.2,154.8 210.8,155.58 210.29,157.52 209.78,155.04 209.28,156.76 208.77,156.37 208.26,155.37 207.75,157.67 207.24,156.26 206.73,157.26 206.22,158.8 205.72,157.24 205.21,159.5 204.7,159.04 204.41,159.28 204.12,160.53 203.83,160.95 203.54,161.74 203.25,160.55 202.96,162.64 202.67,162.81 202.38,162.62 202.09,162.4 201.8,166.58 201.5,164.8 201.21,165.25 200.92,166.72 200.63,166.57 200.34,166.56 200.05,168.17 199.76,167.09 199.47,167.47 199.18,170.88 198.89,169.74 198.6,169.84 198.19,169.5 197.78,168.9 197.37,169.33 196.96,167.93 196.55,168.24 196.14,167.57 195.73,166.37 195.32,166.15 194.91,164.18 194.5,163.85 194.07,166.93 193.65,164.51 193.22,167.24 192.8,166.78 192.38,168.79 191.95,167.79 191.53,166.79 191.1,167.79 190.68,169.37 190.25,167.99 189.83,168.71 189.4,169.58 189.01,168.9 188.62,169.04 188.22,167.76 187.83,167.48 187.44,167.41 187.05,168.11 186.65,169.08 186.26,167.09 185.87,166.61 185.48,166.18 185.08,163.82 184.69,164.67 184.3,164.49 183.72,163.49 183.14,164.05 182.57,165.54 181.99,165.88 181.41,165.45 180.83,164.54 180.26,164.47 179.68,165.56 179.1,165.64 178.56,164.88 178.02,165.98 177.48,165.67 176.94,164.4 176.4,164.01 175.86,164.72 175.32,163.19 174.78,164.27 174.24,162.86 173.7,161.94 173.16,162.82 172.62,161.89 172.08,162.31 171.54,161.7 171,159.6 170.56,160.03 170.11,160.42 169.67,160.15 169.23,159.06 168.79,159.4 168.34,158.59 167.9,158.49 167.46,156.2 167.01,155.84 166.57,156.89 166.13,156.06 165.69,155.55 165.24,155.38 164.8,155.09 164.29,154.29 163.79,154.89 163.28,154.5 162.77,152.73 162.26,152.84 161.76,152.06 161.25,152.81 160.74,150.72 160.24,150.82 159.73,151.44 159.22,150.47 158.71,151.32 158.21,150 157.7,150.35 157.51,148.48 157.31,150.73 157.12,150.21 156.92,147.28 156.73,146.55 156.54,147.98 156.34,144.88 156.15,145.41 155.96,143.6 155.76,143.8 155.57,143.39 155.38,142.94 155.18,142.42 154.99,141.78 154.79,140.33 154.6,141.27 153.96,140.01 153.32,139.14 152.69,141.21 152.05,140.02 151.41,139.21 150.78,139.89 150.14,140.21 149.5,140.01 148.93,140.46 148.37,139.97 147.8,138.28 147.23,138.03 146.67,138.55 146.1,139.02 145.53,138.72 144.97,137.33 144.4,137.46 143.83,137.16 143.27,137.76 142.7,141.68 142.13,139.68 141.57,138.46 141,139.91 140.43,139.73 139.87,138.98 139.3,139.6 138.96,141.3 138.62,142.94 138.28,141.84 137.94,142.57 137.6,142.64 137.26,144.37 136.92,144.39 136.58,144.96 136.24,146.11 135.9,145.47 135.56,147.98 135.22,147.95 134.88,147.23 134.54,148.78 134.2,149.56 133.9,148.55 133.61,147.19 133.31,146.81 133.02,145.39 132.72,145.84 132.43,144.26 132.13,145.31 131.84,145.27 131.54,143 131.25,142.55 130.95,142.84 130.66,142.6 130.36,141.25 130.07,141.91 129.77,140.24 129.48,140.89 129.18,140.15 128.89,139.79 128.59,139.42 128.3,137.77 128,136.13 127.58,137.03 127.15,139 126.72,138.96 126.3,138.45 125.88,140.23 125.45,140.25 125.03,139.96 124.6,139.97 124.18,141.38 123.75,143.67 123.33,141.3 122.9,141.25 122.3,141.36 121.7,142.59 121.1,143.64 120.5,143.5 119.9,142.53 119.49,143.77 119.08,143.27 118.67,142.78 118.26,142.03 117.85,141.83 117.44,139.41 117.03,139.23 116.62,139.34 116.21,140.32 115.8,137.73 115.6,138.37 115.41,139.72 115.21,139.43 115.02,140.64 114.82,141.23 114.63,140.78 114.43,141.25 114.24,142.4 114.04,143.43 113.85,145.04 113.65,143.69 113.46,144.31 113.26,146.74 113.07,145.23 112.87,146.88 112.68,147.01 112.48,147.86 112.29,149.53 112.09,148.38 111.9,151 111.7,150.12 111.1,151.04 110.5,149.34 109.9,150.21 109.3,151.2 108.7,149.7 108.1,149.28 107.5,149.5 106.9,148.88 106.3,149.04 105.7,150.16 105.1,149.75 104.5,150.84 103.93,150.89 103.37,151.07 102.8,151.56 102.23,150.17 101.67,150.5 101.1,150.68 100.53,152.59 99.97,153.13 99.4,152.23 98.81,152.69 98.23,153.17 97.64,153.7 97.06,152.54 96.47,153.41 95.89,155.17 95.3,153.47 94.73,154.39 94.16,154.01 93.59,152.63 93.01,154.14 92.44,153.78 91.87,152.25 91.3,152.53 90.68,153.26 90.06,152.46 89.44,151.73 88.82,152.99 88.2,152.75 87.58,152.38 86.96,153.48 86.34,153.59 85.72,153.3 85.1,153.2 84.49,152.74 83.88,152.88 83.27,152.63 82.66,152.03 82.05,154.1 81.44,154.96 80.83,151.64 80.22,151.59 79.61,152.49 79,153.33Z" fill="#7880b8"/>
<path d="M79,149.6 79.61,149.71 80.22,149.82 80.83,149.93 81.44,150.04 82.05,150.15 82.66,150.26 83.27,150.37 83.88,150.48 84.49,150.59 85.1,150.7 85.72,150.59 86.34,150.48 86.96,150.37 87.58,150.26 88.2,150.15 88.82,150.04 89.44,149.93 90.06,149.82 90.68,149.71 91.3,149.6 91.87,149.9 92.44,150.2 93.01,150.5 93.59,150.8 94.16,151.1 94.73,151.4 95.3,151.7 95.89,151.4 96.47,151.1 97.06,150.8 97.64,150.5 98.23,150.2 98.81,149.9 99.4,149.6 99.97,149.27 100.53,148.93 101.1,148.6 101.67,148.27 102.23,147.93 102.8,147.6 103.37,147.27 103.93,146.93 104.5,146.6 105.1,146.68 105.7,146.77 106.3,146.85 106.9,146.93 107.5,147.02 108.1,147.1 108.7,147.18 109.3,147.27 109.9,147.35 110.5,147.43 111.1,147.52 111.7,147.6 111.9,147.01 112.09,146.43 112.29,145.84 112.48,145.26 112.68,144.67 112.87,144.09 113.07,143.5 113.26,142.91 113.46,142.33 113.65,141.74 113.85,141.16 114.04,140.57 114.24,139.99 114.43,139.4 114.63,138.81 114.82,138.23 115.02,137.64 115.21,137.06 115.41,136.47 115.6,135.89 115.8,135.3 116.21,135.81 116.62,136.32 117.03,136.83 117.44,137.34 117.85,137.85 118.26,138.36 118.67,138.87 119.08,139.38 119.49,139.89 119.9,140.4 120.5,140.2 121.1,140 121.7,139.8 122.3,139.6 122.9,139.4 123.33,138.97 123.75,138.55 124.18,138.12 124.6,137.7 125.03,137.28 125.45,136.85 125.88,136.43 126.3,136 126.72,135.58 127.15,135.15 127.58,134.73 128,134.3 128.3,134.83 128.59,135.37 128.89,135.9 129.18,136.43 129.48,136.97 129.77,137.5 130.07,138.03 130.36,138.57 130.66,139.1 130.95,139.63 131.25,140.17 131.54,140.7 131.84,141.23 132.13,141.77 132.43,142.3 132.72,142.83 133.02,143.37 133.31,143.9 133.61,144.43 133.9,144.97 134.2,145.5 134.54,144.96 134.88,144.42 135.22,143.88 135.56,143.34 135.9,142.8 136.24,142.26 136.58,141.72 136.92,141.18 137.26,140.64 137.6,140.1 137.94,139.56 138.28,139.02 138.62,138.48 138.96,137.94 139.3,137.4 139.87,137.1 140.43,136.8 141,136.5 141.57,136.2 142.13,135.9 142.7,135.6 143.27,135.3 143.83,135 144.4,134.7 144.97,135 145.53,135.3 146.1,135.6 146.67,135.9 147.23,136.2 147.8,136.5 148.37,136.8 148.93,137.1 149.5,137.4 150.14,137.4 150.78,137.4 151.41,137.4 152.05,137.4 152.69,137.4 153.32,137.4 153.96,137.4 154.6,137.4 154.79,137.97 154.99,138.55 155.18,139.12 155.38,139.7 155.57,140.28 155.76,140.85 155.96,141.43 156.15,142 156.34,142.57 156.54,143.15 156.73,143.72 156.92,144.3 157.12,144.88 157.31,145.45 157.51,146.03 157.7,146.6 158.21,146.96 158.71,147.33 159.22,147.69 159.73,148.06 160.24,148.42 160.74,148.79 161.25,149.15 161.76,149.51 162.26,149.88 162.77,150.24 163.28,150.61 163.79,150.97 164.29,151.34 164.8,151.7 165.24,152.14 165.69,152.57 166.13,153.01 166.57,153.44 167.01,153.88 167.46,154.31 167.9,154.75 168.34,155.19 168.79,155.62 169.23,156.06 169.67,156.49 170.11,156.93 170.56,157.36 171,157.8 171.54,158.14 172.08,158.48 172.62,158.82 173.16,159.16 173.7,159.5 174.24,159.84 174.78,160.18 175.32,160.52 175.86,160.86 176.4,161.2 176.94,161.54 177.48,161.88 178.02,162.22 178.56,162.56 179.1,162.9 179.68,162.68 180.26,162.46 180.83,162.23 181.41,162.01 181.99,161.79 182.57,161.57 183.14,161.34 183.72,161.12 184.3,160.9 184.69,161.37 185.08,161.84 185.48,162.31 185.87,162.78 186.26,163.25 186.65,163.72 187.05,164.18 187.44,164.65 187.83,165.12 188.22,165.59 188.62,166.06 189.01,166.53 189.4,167 189.83,166.57 190.25,166.15 190.68,165.72 191.1,165.3 191.53,164.88 191.95,164.45 192.38,164.03 192.8,163.6 193.22,163.18 193.65,162.75 194.07,162.33 194.5,161.9 194.91,162.41 195.32,162.92 195.73,163.43 196.14,163.94 196.55,164.45 196.96,164.96 197.37,165.47 197.78,165.98 198.19,166.49 198.6,167 198.89,166.47 199.18,165.93 199.47,165.4 199.76,164.87 200.05,164.33 200.34,163.8 200.63,163.27 200.92,162.73 201.21,162.2 201.5,161.67 201.8,161.13 202.09,160.6 202.38,160.07 202.67,159.53 202.96,159 203.25,158.47 203.54,157.93 203.83,157.4 204.12,156.87 204.41,156.33 204.7,155.8 205.21,155.46 205.72,155.12 206.22,154.78 206.73,154.43 207.24,154.09 207.75,153.75 208.26,153.41 208.77,153.07 209.28,152.72 209.78,152.38 210.29,152.04 210.8,151.7 211.2,151.24 211.6,150.77 212,150.31 212.4,149.85 212.8,149.38 213.2,148.92 213.6,148.45 214,147.99 214.4,147.53 214.8,147.06 215.2,146.6 215.71,146.21 216.22,145.82 216.74,145.44 217.25,145.05 217.76,144.66 218.28,144.28 218.79,143.89 219.3,143.5 219.97,143.5 220.63,143.5 221.3,143.5 221.49,142.93 221.69,142.35 221.88,141.78 222.08,141.2 222.27,140.62 222.46,140.05 222.66,139.47 222.85,138.9 223.04,138.33 223.24,137.75 223.43,137.18 223.62,136.6 223.82,136.03 224.01,135.45 224.21,134.88 224.4,134.3 224.59,134.88 224.79,135.45 224.98,136.03 225.18,136.6 225.37,137.18 225.56,137.75 225.76,138.33 225.95,138.9 226.14,139.47 226.34,140.05 226.53,140.62 226.72,141.2 226.92,141.78 227.11,142.35 227.31,142.93 227.5,143.5 228.1,143.7 228.7,143.9 229.3,144.1 229.9,144.3 230.5,144.5 230.91,143.99 231.32,143.48 231.73,142.97 232.14,142.46 232.55,141.95 232.96,141.44 233.37,140.93 233.78,140.42 234.19,139.91 234.6,139.4 235.08,139.79 235.55,140.18 236.03,140.58 236.51,140.97 236.98,141.36 237.46,141.75 237.94,142.15 238.42,142.54 238.89,142.93 239.37,143.32 239.85,143.72 240.32,144.11 240.8,144.5 241.23,144.07 241.65,143.65 242.08,143.22 242.5,142.8 242.93,142.38 243.35,141.95 243.78,141.53 244.2,141.1 244.62,140.68 245.05,140.25 245.47,139.83 245.9,139.4 246.33,139.83 246.75,140.25 247.18,140.68 247.6,141.1 248.03,141.53 248.45,141.95 248.88,142.38 249.3,142.8 249.72,143.22 250.15,143.65 250.57,144.07 251,144.5 251.41,143.99 251.82,143.48 252.23,142.97 252.64,142.46 253.05,141.95 253.46,141.44 253.87,140.93 254.28,140.42 254.69,139.91 255.1,139.4 255.69,139.54 256.27,139.69 256.86,139.83 257.44,139.97 258.03,140.11 258.61,140.26 259.2,140.4 259.75,140.08 260.29,139.77 260.84,139.45 261.38,139.14 261.93,138.82 262.48,138.51 263.02,138.19 263.57,137.88 264.12,137.56 264.66,137.25 265.21,136.93 265.75,136.62 266.3,136.3 266.87,136.08 267.43,135.86 268,135.63 268.57,135.41 269.13,135.19 269.7,134.97 270.27,134.74 270.83,134.52 271.4,134.3 271.97,134.52 272.53,134.74 273.1,134.97 273.67,135.19 274.23,135.41 274.8,135.63 275.37,135.86 275.93,136.08 276.5,136.3 277.09,136.01 277.67,135.73 278.26,135.44 278.84,135.16 279.43,134.87 280.01,134.59 280.6,134.3 281.24,134.3 281.88,134.3 282.51,134.3 283.15,134.3 283.79,134.3 284.43,134.3 285.06,134.3 285.7,134.3 286.32,134.14 286.94,133.98 287.56,133.82 288.18,133.66 288.8,133.5 289.42,133.34 290.04,133.18 290.66,133.02 291.28,132.86 291.9,132.7 292.4,133.13 292.9,133.57 293.4,134 293.9,134.43 294.4,134.87 294.9,135.3 295.41,134.93 295.92,134.56 296.43,134.19 296.94,133.82 297.45,133.45 297.96,133.08 298.47,132.71 298.98,132.34 299.49,131.97 300,131.6 300.32,132.15 300.64,132.7 300.96,133.25 301.27,133.8 301.59,134.35 301.91,134.9 302.23,135.45 302.55,136 302.87,136.55 303.19,137.1 303.51,137.65 303.83,138.2 304.14,138.75 304.46,139.3 304.78,139.85 305.1,140.4 305.58,140.02 306.06,139.64 306.54,139.26 307.02,138.88 307.5,138.5 307.98,138.12 308.46,137.74 308.94,137.36 309.42,136.98 309.9,136.6 310.38,136.22 310.86,135.84 311.34,135.46 311.82,135.08 312.3,134.7 312.66,135.19 313.03,135.67 313.39,136.16 313.76,136.64 314.12,137.13 314.49,137.61 314.85,138.1 315.21,138.59 315.58,139.07 315.94,139.56 316.31,140.04 316.67,140.53 317.04,141.01 317.4,141.5 317.99,141.34 318.57,141.19 319.16,141.03 319.74,140.87 320.33,140.71 320.91,140.56 321.5,140.4 321.89,140.88 322.28,141.35 322.68,141.83 323.07,142.31 323.46,142.78 323.85,143.26 324.25,143.74 324.64,144.22 325.03,144.69 325.42,145.17 325.82,145.65 326.21,146.12 326.6,146.6 326.94,147.14 327.28,147.68 327.62,148.22 327.96,148.76 328.3,149.3 328.64,149.84 328.98,150.38 329.32,150.92 329.66,151.46 330,152 330.34,152.54 330.68,153.08 331.02,153.62 331.36,154.16 331.7,154.7 332.21,155.04 332.72,155.38 333.23,155.72 333.73,156.07 334.24,156.41 334.75,156.75 335.26,157.09 335.77,157.43 336.27,157.78 336.78,158.12 337.29,158.46 337.8,158.8 338.35,159.04 338.91,159.28 339.46,159.52 340.02,159.75 340.57,159.99 341.12,160.23 341.68,160.47 342.23,160.71 342.78,160.95 343.34,161.18 343.89,161.42 344.45,161.66 345,161.9 345.6,161.86 346.21,161.81 346.81,161.77 347.41,161.72 348.02,161.68 348.62,161.63 349.23,161.59 349.83,161.54 350.43,161.5 351.04,161.46 351.64,161.41 352.24,161.37 352.85,161.32 353.45,161.28 354.06,161.23 354.66,161.19 355.26,161.14 355.87,161.1 356.47,161.06 357.07,161.01 357.68,160.97 358.28,160.92 358.89,160.88 359.49,160.83 360.09,160.79 360.7,160.74 361.3,160.7 361.9,160.77 362.5,160.84 363.1,160.92 363.7,160.99 364.3,161.06 364.9,161.13 365.5,161.21 366.1,161.28 366.7,161.35 367.3,161.42 367.9,161.5 368.5,161.57 369.1,161.64 369.7,161.71 370.3,161.79 370.9,161.86 371.5,161.93 372.1,162 372.7,162.08 373.3,162.15 373.9,162.22 374.5,162.29 375.1,162.37 375.7,162.44 376.3,162.51 376.9,162.58 377.5,162.66 378.1,162.73 378.7,162.8 379.27,162.51 379.85,162.22 380.42,161.93 380.99,161.64 381.56,161.35 382.14,161.05 382.71,160.76 383.28,160.47 383.85,160.18 384.43,159.89 385,159.6 385.41,159.15 385.82,158.69 386.22,158.24 386.63,157.78 387.04,157.33 387.45,156.88 387.85,156.42 388.26,155.97 388.67,155.52 389.08,155.06 389.48,154.61 389.89,154.15 390.3,153.7 390.51,153.11 390.73,152.52 390.94,151.93 391.16,151.34 391.37,150.75 391.59,150.16 391.8,149.57 392.01,148.98 392.23,148.39 392.44,147.8 392.66,147.2 392.87,146.61 393.09,146.02 393.3,145.43 393.51,144.84 393.73,144.25 393.94,143.66 394.16,143.07 394.37,142.48 394.59,141.89 394.8,141.3 395,140.71 395.2,140.11 395.4,139.52 395.6,138.92 395.8,138.33 396,137.73 396.2,137.14 396.4,136.54 396.6,135.95 396.8,135.35 397,134.75 397.2,134.16 397.4,133.56 397.6,132.97 397.8,132.38 398,131.78 398.2,131.19 398.4,130.59 398.6,130 398.8,129.4 399.13,128.87 399.47,128.33 399.8,127.8 400.13,127.27 400.47,126.73 400.8,126.2 401.07,126.8 401.35,127.4 401.62,128 401.9,128.6 402.18,129.2 402.45,129.8 402.73,130.4 403,131 403.15,131.6 403.3,132.2 403.45,132.8 403.6,133.4 403.75,134 403.9,134.6 404.05,135.2 404.2,135.8 404.35,136.4 404.5,137 404.65,137.6 404.8,138.2 404.95,138.8 405.1,139.4 405.25,140 405.4,140.6 405.61,140.03 405.83,139.47 406.04,138.9 406.25,138.33 406.47,137.77 406.68,137.2 406.89,136.63 407.11,136.07 407.32,135.5 407.53,134.93 407.75,134.37 407.96,133.8 408.17,133.23 408.39,132.67 408.6,132.1 408.87,132.66 409.14,133.21 409.41,133.77 409.69,134.33 409.96,134.89 410.23,135.44 410.5,136 410.73,136.57 410.95,137.15 411.18,137.72 411.4,138.3 411.62,138.88 411.85,139.45 412.07,140.03 412.3,140.6 412.52,141.18 412.75,141.75 412.97,142.33 413.2,142.9 413.43,143.47 413.65,144.05 413.88,144.62 414.1,145.2 414.32,145.78 414.55,146.35 414.77,146.93 415,147.5 415.22,148.08 415.45,148.65 415.67,149.23 415.9,149.8 416.15,149.24 416.4,148.68 416.64,148.11 416.89,147.55 417.14,146.99 417.39,146.43 417.63,145.87 417.88,145.3 418.13,144.74 418.38,144.18 418.62,143.62 418.87,143.06 419.12,142.5 419.37,141.93 419.61,141.37 419.86,140.81 420.11,140.25 420.36,139.69 420.6,139.12 420.85,138.56 421.1,138 421.3,138.58 421.51,139.16 421.71,139.74 421.92,140.32 422.12,140.9 422.32,141.48 422.53,142.07 422.73,142.65 422.93,143.23 423.14,143.81 423.34,144.39 423.55,144.97 423.75,145.55 423.95,146.13 424.16,146.71 424.36,147.29 424.57,147.87 424.77,148.45 424.97,149.03 425.18,149.62 425.38,150.2 425.58,150.78 425.79,151.36 425.99,151.94 426.2,152.52 426.4,153.1 426.55,152.5 426.7,151.91 426.85,151.31 427,150.72 427.15,150.12 427.3,149.53 427.45,148.93 427.6,148.34 427.75,147.74 427.9,147.15 428.05,146.55 428.2,145.95 428.35,145.36 428.5,144.76 428.65,144.17 428.8,143.57 428.95,142.98 429.1,142.38 429.25,141.79 429.4,141.19 429.55,140.6 429.7,140 429.89,140.57 430.08,141.14 430.27,141.71 430.47,142.28 430.66,142.85 430.85,143.43 431.04,144 431.23,144.57 431.43,145.14 431.62,145.71 431.81,146.28 432,146.85 432.19,147.42 432.38,147.99 432.57,148.56 432.77,149.13 432.96,149.7 433.15,150.27 433.34,150.85 433.53,151.42 433.73,151.99 433.92,152.56 434.11,153.13 434.3,153.7 434.52,153.1 434.73,152.5 434.95,151.9 435.17,151.3 435.38,150.7 435.6,150.1 435.82,149.5 436.03,148.9 436.25,148.3 436.47,147.7 436.68,147.1 436.9,146.5 437.33,146.93 437.77,147.37 438.2,147.8 438.63,148.23 439.07,148.67 439.5,149.1 439.61,149.72 439.72,150.34 439.83,150.97 439.94,151.59 440.06,152.21 440.17,152.83 440.28,153.46 440.39,154.08 440.5,154.7 440.61,155.32 440.72,155.94 440.83,156.57 440.94,157.19 441.06,157.81 441.17,158.43 441.28,159.06 441.39,159.68 441.5,160.3 441.85,159.76 442.21,159.23 442.56,158.69 442.92,158.15 443.27,157.62 443.63,157.08 443.98,156.55 444.34,156.01 444.69,155.47 445.05,154.94 445.4,154.4 445.65,154.97 445.9,155.55 446.15,156.12 446.4,156.7 446.65,157.28 446.9,157.85 447.15,158.43 447.4,159 447.65,159.57 447.9,160.15 448.15,160.72 448.4,161.3 448.65,161.88 448.9,162.45 449.15,163.03 449.4,163.6 449.89,163.19 450.38,162.78 450.86,162.36 451.35,161.95 451.84,161.54 452.32,161.12 452.81,160.71 453.3,160.3 453.87,160.01 454.44,159.73 455.01,159.44 455.59,159.16 456.16,158.87 456.73,158.59 457.3,158.3 457.84,157.98 458.38,157.65 458.93,157.33 459.47,157 460.01,156.68 460.55,156.35 461.09,156.03 461.63,155.7 462.18,155.38 462.72,155.05 463.26,154.72 463.8,154.4 464.15,153.89 464.51,153.38 464.86,152.88 465.22,152.37 465.57,151.86 465.92,151.35 466.28,150.85 466.63,150.34 466.98,149.83 467.34,149.32 467.69,148.82 468.05,148.31 468.4,147.8 468.87,148.27 469.34,148.74 469.81,149.21 470.29,149.69 470.76,150.16 471.23,150.63 471.7,151.1 472.25,150.77 472.8,150.43 473.35,150.1 473.9,149.77 474.45,149.43 475,149.1 475.7,148.95 476.4,148.8 477.1,148.65 477.8,148.5 478.15,148 478.5,147.5 478.85,147 479.2,146.5 479.81,146.64 480.43,146.79 481.04,146.93 481.66,147.07 482.27,147.21 482.89,147.36 483.5,147.5 483.85,146.97 484.2,146.45 484.55,145.93 484.9,145.4 485.25,144.88 485.6,144.35 485.95,143.82 486.3,143.3 486.65,142.77 487,142.25 487.35,141.72 487.7,141.2 488.3,140.89 488.9,140.57 489.5,140.26 490.1,139.94 490.7,139.63 491.3,139.31 491.9,139 492.43,138.65 492.97,138.3 493.5,137.95 494.03,137.6 494.57,137.25 495.1,136.9 495.63,136.55 496.17,136.2 496.7,135.85 497.23,135.5 497.77,135.15 498.3,134.8 498.9,134.96 499.5,135.11 500.1,135.27 500.7,135.43 501.3,135.59 501.9,135.74 502.5,135.9 502.94,135.46 503.38,135.02 503.82,134.57 504.27,134.13 504.71,133.69 505.15,133.25 505.59,132.81 506.03,132.37 506.48,131.93 506.92,131.48 507.36,131.04 507.8,130.6 508.1,131.13 508.4,131.66 508.7,132.19 509,132.71 509.3,133.24 509.6,133.77 509.9,134.3 510.2,134.83 510.5,135.36 510.8,135.89 511.1,136.41 511.4,136.94 511.7,137.47 512,138 512.59,137.77 513.18,137.53 513.77,137.3 514.36,137.07 514.94,136.83 515.53,136.6 516.12,136.37 516.71,136.13 517.3,135.9 517.89,135.67 518.48,135.43 519.07,135.2 519.66,134.97 520.24,134.73 520.83,134.5 521.42,134.27 522.01,134.03 522.6,133.8 523.06,134.19 523.52,134.59 523.99,134.98 524.45,135.38 524.91,135.77 525.38,136.16 525.84,136.56 526.3,136.95 526.76,137.34 527.23,137.74 527.69,138.13 528.15,138.53 528.61,138.92 529.08,139.31 529.54,139.71 530,140.1 530.53,139.75 531.07,139.4 531.6,139.05 532.13,138.7 532.67,138.35 533.2,138 533.73,137.65 534.27,137.3 534.8,136.95 535.33,136.6 535.87,136.25 536.4,135.9 536.99,135.78 537.58,135.66 538.17,135.53 538.76,135.41 539.34,135.29 539.93,135.17 540.52,135.04 541.11,134.92 541.7,134.8 542.02,135.33 542.34,135.86 542.66,136.39 542.98,136.92 543.3,137.45 543.62,137.98 543.94,138.51 544.26,139.04 544.58,139.57 544.9,140.1 545.48,139.87 546.06,139.63 546.63,139.4 547.21,139.17 547.79,138.93 548.37,138.7 548.94,138.47 549.52,138.23 550.1,138 550.54,138.44 550.98,138.87 551.42,139.31 551.86,139.74 552.31,140.18 552.75,140.61 553.19,141.05 553.63,141.48 554.07,141.92 554.51,142.35 554.95,142.79 555.39,143.22 555.84,143.66 556.28,144.09 556.72,144.53 557.16,144.96 557.6,145.4 557.98,144.92 558.36,144.44 558.75,143.95 559.13,143.47 559.51,142.99 559.89,142.51 560.27,142.03 560.65,141.55 561.04,141.06 561.42,140.58 561.8,140.1 562.05,140.66 562.29,141.22 562.54,141.78 562.79,142.34 563.04,142.89 563.28,143.45 563.53,144.01 563.78,144.57 564.02,145.13 564.27,145.69 564.52,146.25 564.76,146.81 565.01,147.36 565.26,147.92 565.51,148.48 565.75,149.04 566,149.6 566.36,149.07 566.72,148.55 567.08,148.03 567.43,147.5 567.79,146.97 568.15,146.45 568.51,145.93 568.87,145.4 569.22,144.88 569.58,144.35 569.94,143.83 570.3,143.3 570.67,143.8 571.03,144.31 571.4,144.81 571.76,145.32 572.13,145.82 572.49,146.33 572.86,146.83 573.22,147.33 573.59,147.84 573.95,148.34 574.32,148.85 574.68,149.35 575.05,149.86 575.41,150.36 575.78,150.87 576.14,151.37 576.51,151.87 576.87,152.38 577.24,152.88 577.6,153.39 577.97,153.89 578.33,154.4 578.7,154.9 579.14,154.46 579.58,154.02 580.03,153.57 580.47,153.13 580.91,152.69 581.35,152.25 581.79,151.81 582.23,151.37 582.67,150.93 583.12,150.48 583.56,150.04 584,149.6 584.31,150.13 584.61,150.66 584.92,151.19 585.23,151.71 585.54,152.24 585.84,152.77 586.15,153.3 586.46,153.83 586.76,154.36 587.07,154.89 587.38,155.41 587.69,155.94 587.99,156.47 588.3,157 588.92,157.18 589.53,157.37 590.15,157.55 590.77,157.73 591.38,157.92 592,158.1 592.62,158.28 593.23,158.47 593.85,158.65 594.47,158.83 595.08,159.02 595.7,159.2 596.09,159.66 596.49,160.12 596.88,160.59 597.28,161.05 597.67,161.51 598.06,161.97 598.46,162.44 598.85,162.9 599.24,163.36 599.64,163.82 600.03,164.29 600.42,164.75 600.82,165.21 601.21,165.67 601.61,166.14 602,166.6 602.61,166.72 603.21,166.84 603.82,166.96 604.43,167.09 605.04,167.21 605.64,167.33 606.25,167.45 606.86,167.57 607.46,167.69 608.07,167.81 608.68,167.94 609.29,168.06 609.89,168.18 610.5,168.3 611.12,168.42 611.73,168.53 612.35,168.65 612.97,168.77 613.58,168.88 614.2,169 614.82,169.12 615.43,169.23 616.05,169.35 616.67,169.47 617.28,169.58 617.9,169.7" fill="none" stroke="#7880b8" stroke-width="2.5" stroke-linejoin="round" stroke-linecap="round"/>
<path d="M79,217.54 79.61,219.06 80.21,219.29 80.82,219.72 81.43,219.28 82.04,219.4 82.64,219.17 83.25,220.03 83.86,219.84 84.47,218.02 85.07,217.77 85.68,218.33 86.29,217.75 86.9,217.77 87.5,217.6 88.11,218.95 88.72,219.01 89.33,217.88 89.93,218.09 90.54,217.18 91.15,217.6 91.76,219.13 92.36,217.09 92.97,218.52 93.58,217.31 94.19,217.34 94.79,218.83 95.4,218.36 95.92,218.09 96.43,216.33 96.95,215.94 97.47,215.36 97.98,215.51 98.5,214.65 99.02,215.17 99.53,212.61 100.05,215.59 100.57,213.86 101.08,212.65 101.6,213.28 101.83,213.53 102.06,212.61 102.3,212.8 102.53,211.23 102.76,211.42 102.99,210.33 103.22,209.56 103.45,209.38 103.69,209.01 103.92,208.91 104.15,208.56 104.38,207.55 104.61,206.6 104.85,206.47 105.08,204.57 105.31,205.63 105.54,203.61 105.77,202.98 106,202.25 106.24,201.32 106.47,202.34 106.7,201.47 106.82,199.95 106.95,200.96 107.07,198.57 107.19,199.42 107.32,198.49 107.44,196.67 107.57,196.64 107.69,196.08 107.81,195.79 107.94,194.46 108.06,195.02 108.18,194.26 108.31,193.22 108.43,192.72 108.56,192.09 108.68,190.91 108.8,190.68 108.93,191.6 109.05,189.46 109.17,190.33 109.3,188.71 109.42,189.3 109.54,187.3 109.67,187.49 109.79,185.89 109.92,186.13 110.04,186.19 110.16,185.21 110.29,184.45 110.41,182.65 110.53,182.85 110.66,182.82 110.78,182.02 110.91,181.43 111.03,180.27 111.15,180.63 111.28,178.63 111.4,179.81 111.64,179.91 111.88,179.68 112.12,181.26 112.36,181.59 112.6,181.53 112.84,181.55 113.08,181.99 113.32,182.63 113.56,184 113.8,185.68 114.14,184.47 114.48,187.07 114.83,185.53 115.17,187.6 115.51,187.15 115.85,188.97 116.19,188.71 116.53,189.66 116.88,188.91 117.22,190.24 117.56,189.75 117.9,191.35 118.5,190.99 119.1,191.24 119.7,190.81 120.3,192.9 120.9,190.93 121.5,191.52 122.1,193.12 122.7,188.7 123.3,192.73 123.9,193.92 124.5,192.99 125.1,193.24 125.7,194.09 126.3,193.28 126.9,193.73 127.5,193.16 128.1,194.59 128.72,193.49 129.33,194.83 129.94,193.93 130.56,195.24 131.18,194.32 131.79,195.82 132.41,194.6 133.02,194.61 133.63,193.9 134.25,195.85 134.87,194.29 135.48,194.83 136.09,194.98 136.71,195.97 137.32,194.66 137.94,195.09 138.56,195.95 139.17,196.73 139.78,196.89 140.4,195.92 141,196.62 141.61,197.29 142.21,196.51 142.81,196.18 143.42,196.88 144.02,197 144.63,195.93 145.23,196.36 145.83,195.34 146.44,195.74 147.04,195.35 147.64,195.86 148.25,195.96 148.85,194.87 149.46,196.66 150.06,196.51 150.66,195.31 151.27,196.61 151.87,195.85 152.47,194.32 153.08,194.94 153.68,194.92 154.29,195.65 154.89,194.54 155.49,194.45 156.1,196.28 156.7,193.9 157.3,194.97 157.91,192.27 158.51,194.23 159.11,196.09 159.71,195.19 160.32,195.96 160.92,194.89 161.52,194.8 162.13,195.01 162.73,194.63 163.33,193.69 163.94,194.52 164.54,193.57 165.14,194.83 165.74,195.33 166.35,194.34 166.95,193.47 167.55,195.18 168.16,194.63 168.76,194.61 169.36,194.47 169.96,193.35 170.57,194.53 171.17,194.12 171.77,193.65 172.38,193.98 172.98,193.57 173.58,194.5 174.19,193.84 174.79,195.14 175.39,193.63 175.99,195.17 176.6,193.3 177.2,193.59 177.8,193.06 178.4,193.74 179,194.31 179.6,193.83 180.2,194.28 180.8,194.19 181.4,193.28 182,193.37 182.6,193.64 183.2,192.2 183.8,194.01 184.4,192.37 185,192.14 185.6,192.69 186.2,193.55 186.8,191.58 187.4,193.62 188,193.02 188.6,192.62 189.2,193.06 189.8,193.08 190.4,191.43 191,191.06 191.6,191.32 192.2,190.81 192.8,191.25 193.4,191.38 194,192.5 194.6,191.59 195.2,190.34 195.8,191.72 196.4,191.12 197,190.16 197.6,191.5 198.19,191.16 198.77,189.78 199.36,187.3 199.94,190.69 200.53,190.25 201.11,189.67 201.7,189.55 202.29,190.53 202.87,190.39 203.46,189.01 204.04,190.11 204.63,188.51 205.21,187.89 205.8,185.72 206.38,189.64 206.95,189.97 207.53,190.04 208.1,189.14 208.68,190.46 209.25,187.85 209.83,190.45 210.4,190.62 210.97,189.99 211.55,189.81 212.12,191.94 212.7,191.29 213.28,190.83 213.85,191.6 214.43,191.21 215,191.32 215.63,192.62 216.26,191 216.88,192.36 217.51,190.33 218.14,191.96 218.77,191.96 219.39,192.59 220.02,192.44 220.65,188.85 221.28,191.18 221.91,190.51 222.53,192.62 223.16,189.77 223.79,192.48 224.42,192.21 225.04,191.42 225.67,189.19 226.3,191.72 226.91,189.2 227.51,190.97 228.12,192.14 228.73,192.49 229.34,192.17 229.94,191.4 230.55,190.68 231.16,192.05 231.77,190.99 232.37,191.86 232.98,192.96 233.59,192.18 234.2,192.84 234.8,193.04 235.41,190.13 236.02,193.37 236.63,192.57 237.23,192.95 237.84,192.61 238.45,192.32 239.06,193.39 239.66,192.81 240.27,193.74 240.88,193.4 241.49,193.67 242.09,194.39 242.7,193.48 243.31,194.25 243.93,194.58 244.54,193.79 245.15,194 245.77,194.03 246.38,193.4 246.99,191.32 247.61,194.07 248.22,192.88 248.83,192.98 249.45,193.13 250.06,193.86 250.67,193.33 251.29,192.64 251.9,193.6 252.51,193.44 253.13,194.72 253.74,192.45 254.35,193.49 254.97,193.37 255.58,194.36 256.19,194.15 256.81,194.23 257.42,193.03 258.03,192.12 258.65,193.83 259.26,194.27 259.87,193.91 260.49,192.88 261.1,193.53 261.7,192.45 262.3,193.37 262.9,192.78 263.5,193.65 264.1,192.95 264.7,193.32 265.3,192.81 265.9,194.79 266.5,193.17 267.1,193.39 267.7,193.92 268.3,194.48 268.9,194.58 269.5,194.63 270.1,191.63 270.7,194.29 271.3,195.88 271.91,193.57 272.51,195.31 273.12,195 273.73,195.88 274.34,194.53 274.94,194.49 275.55,195.62 276.16,193.58 276.77,195.73 277.37,193.94 277.98,193.7 278.59,194.7 279.2,193.54 279.8,195.18 280.41,195.78 281.02,195.08 281.63,193.64 282.23,195.09 282.84,195.18 283.45,194.04 284.06,195.83 284.66,193.79 285.27,195.58 285.88,194.26 286.49,194.26 287.09,194.5 287.7,194.28 288.31,193.32 288.93,193.61 289.54,195.71 290.15,194.25 290.77,194.24 291.38,192.01 291.99,195.09 292.61,195.29 293.22,193.75 293.83,193.68 294.45,194.98 295.06,194.74 295.67,194.77 296.29,193.16 296.9,194.51 297.51,194.01 298.13,193.49 298.74,192.63 299.35,191.54 299.97,193.91 300.58,193.66 301.19,192.38 301.81,193.2 302.42,192.92 303.03,192.79 303.65,192.34 304.26,193.5 304.87,192.56 305.49,192.5 306.1,193.8 306.7,194.21 307.31,193.53 307.91,193.03 308.51,193.31 309.12,193.12 309.72,193.55 310.33,194.12 310.93,193.83 311.53,193.15 312.14,193.69 312.74,192.98 313.34,191.23 313.95,194.2 314.55,192.3 315.16,192.95 315.76,194.39 316.36,192.27 316.97,193.38 317.57,193.18 318.17,192.93 318.78,193.52 319.38,192.48 319.99,193.32 320.59,192.83 321.19,193.83 321.8,192.33 322.4,192.6 323,193.81 323.6,194.16 324.2,193.41 324.8,193.49 325.4,193.92 326,193.48 326.6,194.18 327.2,193.7 327.8,194.02 328.4,194.92 329,193.53 329.6,192.68 330.2,193.78 330.8,194.82 331.4,194.49 332,194.74 332.6,195.21 333.25,195.5 333.91,194.39 334.56,194.95 335.22,195.09 335.87,195.61 336.53,195.57 337.18,194.82 337.84,196.01 338.49,194.18 339.15,195.02 339.8,194.86 340.18,195.01 340.55,196.84 340.93,196.72 341.3,196.77 341.68,196.69 342.05,197.64 342.43,199.53 342.8,198.32 343.24,199.3 343.68,198.47 344.12,200.77 344.56,200.27 345,200.68 345.43,201.85 345.86,201.29 346.29,201.67 346.73,203.74 347.16,203.05 347.59,204.08 348.02,203.61 348.45,202.09 348.88,203.14 349.32,205.23 349.75,206.5 350.18,205.35 350.61,206.77 351.04,207.04 351.47,206.56 351.91,208.68 352.34,208.98 352.77,209.68 353.2,208.57 353.71,209.65 354.21,211.12 354.72,209.21 355.23,210.04 355.73,209.86 356.24,210.5 356.74,208.81 357.25,213.11 357.76,213.3 358.26,213.82 358.77,212.47 359.27,211.54 359.78,213.79 360.29,213.23 360.79,215.06 361.3,213.87 361.76,215.32 362.21,212.08 362.67,212.29 363.12,214.14 363.58,212.64 364.03,213.32 364.49,210.66 364.94,211.86 365.4,210.2 365.86,209.73 366.31,209.2 366.77,210.41 367.22,208.71 367.68,209.43 368.13,209.16 368.59,207.77 369.04,206.89 369.5,206.97 370.05,206.06 370.59,207.16 371.14,207.56 371.69,207.14 372.23,206.1 372.78,204.74 373.33,205.59 373.87,204.23 374.42,204.59 374.97,203.95 375.51,205.56 376.06,203.14 376.61,203.48 377.15,203.51 377.7,203.97 378.18,203.61 378.66,203.97 379.14,204.54 379.62,203.81 380.1,205.89 380.58,204.86 381.06,205.82 381.54,206.47 382.02,206.53 382.5,208.07 382.98,208.89 383.46,207.21 383.94,209.51 384.42,208.48 384.9,205.91 385.06,209.8 385.23,208.69 385.39,210.9 385.56,210.98 385.72,211.79 385.89,212.63 386.05,214.2 386.22,215.17 386.38,213.76 386.55,216.33 386.71,216.58 386.87,217.14 387.04,217.21 387.2,216.75 387.37,217.13 387.53,218.09 387.7,220.21 387.86,220.83 388.03,220.73 388.19,222.16 388.35,221.68 388.52,222.84 388.68,222.93 388.85,222.91 389.01,223.2 389.18,225.79 389.34,224.3 389.51,226.99 389.67,226.04 389.84,227.02 390,227.77 390.16,229.38 390.32,228.67 390.48,230.5 390.64,230.32 390.8,229.92 390.96,231.88 391.12,230.91 391.28,232.75 391.44,231.19 391.61,232.91 391.77,232.73 391.93,234.76 392.09,234.38 392.25,236.7 392.41,236.97 392.57,236.22 392.73,238.79 392.89,238.53 393.05,238.29 393.21,240.62 393.37,240.59 393.53,240.13 393.69,242.24 393.85,242.08 394.01,243.26 394.17,240.15 394.33,244.56 394.49,245.54 394.66,242.47 394.82,244.61 394.98,245.59 395.14,243.31 395.3,246.45 395.46,247.09 395.62,249.69 395.78,249.38 395.94,249.89 396.1,251.29 396.26,250.18 396.43,251.49 396.59,251.85 396.75,253.36 396.92,253.76 397.08,254.84 397.24,254.71 397.41,255.4 397.57,255.39 397.73,255.97 397.89,256.55 398.06,256.47 398.22,258.02 398.38,258.96 398.55,258.04 398.71,258.62 398.87,259.46 399.04,260.82 399.2,261.47 399.59,261.18 399.98,262.43 400.38,262.43 400.77,262.71 401.16,263.2 401.55,265.32 401.95,264.46 402.34,265.5 402.73,266.85 403.12,265.21 403.52,266.92 403.91,267.81 404.3,267.85 404.91,268.67 405.52,268.63 406.13,268.31 406.74,268.52 407.35,268.97 407.96,268.28 408.57,269.03 409.18,267.65 409.79,267.87 410.4,268.1 411.01,268.35 411.62,268.62 412.23,269.54 412.84,267.96 413.45,267.58 414.06,267.53 414.67,267.89 415.28,269.48 415.89,269.21 416.5,266.42 417.1,268.48 417.69,268.75 418.29,267.14 418.88,268.45 419.48,267.52 420.07,267.37 420.67,266.42 421.27,267.58 421.86,267.99 422.46,266.73 423.05,265.68 423.65,267.11 424.25,266.72 424.84,263.41 425.44,265.85 426.03,266.56 426.63,265.17 427.23,264.75 427.82,265.61 428.42,265.2 429.01,265.74 429.61,264.69 430.2,264.14 430.8,265.18 431.31,263.41 431.82,264.5 432.34,264.26 432.85,263.73 433.36,263.06 433.88,262.58 434.39,262.53 434.9,260.87 435.41,261.27 435.93,260.41 436.44,262.26 436.95,260.72 437.46,260.97 437.98,259.62 438.49,259.52 439,259.6 439.61,259.27 440.23,259.21 440.84,260.18 441.45,258.87 442.07,260.35 442.68,259.52 443.29,258.94 443.91,259.8 444.52,259.82 445.13,260.57 445.75,259.19 446.36,259.73 446.97,260.51 447.59,260.93 448.2,259.47 448.81,260.11 449.43,258.99 450.04,260.23 450.65,259.03 451.27,259.5 451.88,261.14 452.49,260.43 453.11,260.8 453.72,259.46 454.33,259.87 454.95,259.81 455.56,260.59 456.17,260.11 456.79,260.44 457.4,259.51 458,260.83 458.6,259.7 459.2,259.93 459.8,261.39 460.4,261.31 461,259.83 461.6,259.82 462.2,261.43 462.8,260.67 463.4,259.38 464,260.77 464.6,260.5 465.2,259.31 465.8,261.14 466.4,260.63 467,259.85 467.6,260.96 468.2,259.11 468.8,260.17 469.4,258.9 470,261.15 470.6,259.47 471.2,260.29 471.8,258.99 472.4,260.81 473,258.77 473.6,259.12 474.2,259.38 474.8,260.92 475.4,259.11 476,256.1 476.6,260.13 477.2,259.78 477.8,260.91 478.4,260.36 479,260.14 479.6,260.54 480.2,259.28 480.8,260.71 481.4,260.5 482,260.67 482.6,259.2 483.2,260.18 483.8,259.61 484.4,259.76 485,259.53 485.6,259.94 486.2,259.05 486.8,260.73 487.4,259.79 488,260.91 488.6,259.74 489.2,261.03 489.8,259.91 490.4,259.1 491,261.03 491.6,259.97 492.2,260.4 492.8,260.87 493.4,259.35 494,260.77 494.6,259.77 495.2,261.38 495.8,260.68 496.4,261.1 497,260.89 497.6,260.32 498.2,259.6 498.8,260.75 499.4,261.49 500,261.35 500.6,261.28 501.2,261.92 501.8,260.42 502.41,259.75 503.01,260.56 503.61,260.54 504.21,260.65 504.82,260.63 505.42,260.26 506.02,260.2 506.63,261.38 507.23,261.59 507.83,261.82 508.43,260.35 509.04,261.11 509.64,261.56 510.24,260.92 510.85,259.83 511.45,262.21 512.05,260.8 512.65,261.9 513.26,261.1 513.86,262.7 514.46,261.61 515.07,262.41 515.67,262.76 516.27,261.14 516.87,263.29 517.48,262.92 518.08,261.95 518.68,263.13 519.29,262.16 519.89,263.65 520.49,263.6 521.09,262.2 521.7,261.72 522.3,261.17 522.91,262.02 523.51,262.33 524.12,263.17 524.72,262.81 525.33,262.01 525.93,262.4 526.54,263.03 527.15,261.68 527.75,262.51 528.36,260.91 528.96,259.33 529.57,262.7 530.17,262.27 530.78,261.97 531.39,262.25 531.99,262.04 532.6,262.39 533.2,260.33 533.81,261.82 534.41,261.53 535.02,260.04 535.63,261.2 536.23,260.73 536.84,259.52 537.44,261.02 538.05,260.78 538.65,261.44 539.26,261.01 539.87,257.76 540.47,258.97 541.08,260.32 541.68,260.76 542.29,260.46 542.89,260.03 543.5,259.64 544.11,259.08 544.71,260.36 545.32,259.06 545.92,260.38 546.53,258.68 547.13,258.39 547.74,260.69 548.35,260.21 548.95,259.1 549.56,259.78 550.16,260.28 550.77,260.55 551.37,259.07 551.98,259.89 552.59,260.22 553.19,259.97 553.8,259.65 554.4,260.04 555.01,259.73 555.61,259.08 556.22,259.77 556.83,259.7 557.43,258.72 558.04,259.97 558.64,258.83 559.25,259.72 559.85,258.9 560.46,259.57 561.07,258.67 561.67,258.46 562.28,259.52 562.88,259.28 563.49,259.77 564.09,259.71 564.7,257.83 565.3,258.71 565.91,258.78 566.51,258.83 567.11,258.55 567.72,258.43 568.32,259.28 568.93,258.27 569.53,258.33 570.13,258.62 570.74,259.59 571.34,258.65 571.94,259.3 572.55,259.66 573.15,257.75 573.75,258.09 574.36,259.43 574.96,259.37 575.56,258.01 576.17,258.07 576.77,258.13 577.38,258.23 577.98,258.75 578.58,259.43 579.19,257.67 579.79,259.41 580.39,259.05 581,258.14 581.6,259.13 581.94,258.2 582.27,258.19 582.61,257.16 582.95,255.71 583.28,253.9 583.62,252.83 583.96,254.27 584.29,252.72 584.63,254.38 584.97,252.58 585.31,252.54 585.64,252.13 585.98,253.12 586.32,251.16 586.65,250.02 586.99,250.32 587.33,250.78 587.66,249.42 588,250 588.24,248.32 588.48,247.85 588.73,247.8 588.97,246.04 589.21,247.13 589.45,244.7 589.7,245.43 589.94,243.84 590.18,243.18 590.42,244.51 590.67,242.04 590.91,241.98 591.15,241.6 591.39,241.68 591.63,240.23 591.88,240 592.12,239.99 592.36,239.04 592.6,238.76 592.85,238.28 593.09,237.72 593.33,236.83 593.57,236.02 593.82,235.96 594.06,233.86 594.3,235.41 594.42,232.68 594.55,232.34 594.67,231.49 594.79,232.67 594.92,231.25 595.04,231.86 595.16,229.85 595.29,228.87 595.41,229.23 595.53,229.18 595.66,226.88 595.78,226.5 595.9,227.74 596.03,226.34 596.15,224.58 596.27,223.85 596.4,223.33 596.52,224.61 596.64,223.37 596.77,220.46 596.89,222.96 597.01,222.46 597.13,221.43 597.26,221.04 597.38,219.08 597.5,218.57 597.63,217.95 597.75,218.75 597.87,217.87 598,216.92 598.12,217.07 598.24,213.97 598.37,213.69 598.49,213.83 598.61,214.56 598.74,212.43 598.86,212.53 598.98,211.96 599.11,211.55 599.23,210.99 599.35,209.7 599.48,208.95 599.6,207.88 599.77,208.63 599.94,208.81 600.1,207.78 600.27,206.77 600.44,205.26 600.61,204.32 600.78,203.94 600.94,204.42 601.11,203.63 601.28,203.95 601.45,202.94 601.62,201.26 601.78,200.46 601.95,201.52 602.12,199.32 602.29,199.6 602.46,198.44 602.62,198.69 602.79,198.12 602.96,197.02 603.13,192.57 603.3,197.06 603.46,194.11 603.63,194.14 603.8,195.26 604.21,193.39 604.62,192.87 605.02,191.99 605.43,192.12 605.84,191.47 606.25,191.81 606.65,189.74 607.06,191.21 607.47,189.09 607.88,189.77 608.28,189.35 608.69,184.73 609.1,188.48 609.64,187.4 610.17,187.45 610.71,186.09 611.25,187.35 611.79,185.56 612.33,186.55 612.86,186 613.4,184.16 613.89,184.75 614.38,186.2 614.87,185.58 615.36,184.93 615.84,186.43 616.33,186.43 616.82,187.25 617.31,187.59 617.8,187.28 L617.8,195.64 617.31,194.35 616.82,194.92 616.33,196.19 615.84,193.87 615.36,192.53 614.87,193.46 614.38,191.41 613.89,192.82 613.4,191.52 612.86,192.77 612.33,192.48 611.79,192.47 611.25,193.67 610.71,193 610.17,194.4 609.64,194.69 609.1,194.35 608.69,195.26 608.28,195.22 607.88,197.18 607.47,195.47 607.06,196.65 606.65,196.95 606.25,198.98 605.84,200.49 605.43,197.94 605.02,198.64 604.62,200.41 604.21,201.05 603.8,202.07 603.63,200.75 603.46,201.2 603.3,202.94 603.13,203.97 602.96,202.82 602.79,205.08 602.62,204.6 602.46,207.13 602.29,206.54 602.12,209.84 601.95,207.15 601.78,207.71 601.62,209.55 601.45,209.5 601.28,211.69 601.11,211.51 600.94,209.82 600.78,211.31 600.61,212.24 600.44,213.66 600.27,212.69 600.1,212.76 599.94,214.09 599.77,215.79 599.6,214.5 599.48,215.44 599.35,217.26 599.23,216.84 599.11,218.96 598.98,219.46 598.86,220.05 598.74,219.98 598.61,219.3 598.49,222.14 598.37,220.66 598.24,221.51 598.12,223.29 598,223.33 597.87,224.46 597.75,225.72 597.63,224.87 597.5,226.91 597.38,227 597.26,227.54 597.13,226.88 597.01,227.69 596.89,230.4 596.77,228.8 596.64,230.5 596.52,229.76 596.4,230.33 596.27,231.6 596.15,231.85 596.03,231.94 595.9,232.32 595.78,234.9 595.66,234.14 595.53,235.92 595.41,235.85 595.29,237.28 595.16,236.1 595.04,236.37 594.92,238.64 594.79,239.59 594.67,239.38 594.55,239.94 594.42,239.8 594.3,242.19 594.06,242.1 593.82,241.57 593.57,243.81 593.33,245.4 593.09,244.59 592.85,245.47 592.6,244.14 592.36,245.02 592.12,245.62 591.88,246.24 591.63,248.1 591.39,247.1 591.15,249.34 590.91,248.14 590.67,248.6 590.42,250.23 590.18,251.27 589.94,250.37 589.7,253.18 589.45,251.55 589.21,252.64 588.97,253.63 588.73,254.16 588.48,253.75 588.24,255.07 588,254.97 587.66,257.17 587.33,256.57 586.99,257.47 586.65,258.73 586.32,258.02 585.98,260.13 585.64,258.79 585.31,258.95 584.97,259.67 584.63,261.09 584.29,265.13 583.96,262.08 583.62,264.54 583.28,263.65 582.95,263.49 582.61,264.59 582.27,265.52 581.94,264.72 581.6,266.53 581,265.24 580.39,265.66 579.79,266.18 579.19,264.35 578.58,264.37 577.98,264.42 577.38,266.34 576.77,264.91 576.17,266.58 575.56,264.79 574.96,265.47 574.36,265.68 573.75,265.5 573.15,264.46 572.55,265.29 571.94,266.46 571.34,265.56 570.74,266.58 570.13,266.25 569.53,266.09 568.93,266.99 568.32,265.42 567.72,265.73 567.11,264.74 566.51,266.35 565.91,265.26 565.3,264.82 564.7,264.47 564.09,265 563.49,266.54 562.88,266.72 562.28,266.66 561.67,265.77 561.07,268.36 560.46,265.19 559.85,266.46 559.25,265.56 558.64,264.9 558.04,266.08 557.43,265.19 556.83,264.74 556.22,265.57 555.61,265.15 555.01,265.37 554.4,266.49 553.8,266.14 553.19,266.25 552.59,266.54 551.98,266.29 551.37,267.32 550.77,267.29 550.16,265.44 549.56,266.89 548.95,267.2 548.35,267.21 547.74,265.18 547.13,266.1 546.53,266.63 545.92,266.02 545.32,266.19 544.71,265.53 544.11,266.31 543.5,266.68 542.89,267.62 542.29,267.19 541.68,267.61 541.08,267.46 540.47,266.2 539.87,266.81 539.26,266.06 538.65,267.97 538.05,269.26 537.44,266.29 536.84,268.38 536.23,269.76 535.63,266.97 535.02,267.24 534.41,267.82 533.81,270.55 533.2,267.16 532.6,268.78 531.99,268.66 531.39,268.56 530.78,268.74 530.17,267.58 529.57,269.33 528.96,267.97 528.36,268.21 527.75,269.43 527.15,269.57 526.54,268.81 525.93,269.32 525.33,270.29 524.72,269.22 524.12,268.9 523.51,268.43 522.91,268.55 522.3,270.71 521.7,269.48 521.09,270.22 520.49,269.85 519.89,270.34 519.29,270.51 518.68,268.6 518.08,270.16 517.48,269.64 516.87,269.5 516.27,268.45 515.67,268.7 515.07,269.17 514.46,268.94 513.86,269.52 513.26,269.73 512.65,268.87 512.05,268.73 511.45,267.48 510.85,269.57 510.24,267.31 509.64,269.59 509.04,267.33 508.43,269.01 507.83,267.87 507.23,268.46 506.63,267.42 506.02,268.36 505.42,267.63 504.82,267.37 504.21,268.53 503.61,266.89 503.01,267.86 502.41,267.22 501.8,268.84 501.2,267.89 500.6,266.39 500,268.49 499.4,266.62 498.8,270.27 498.2,267.2 497.6,266.46 497,267.49 496.4,266.18 495.8,265.98 495.2,268.28 494.6,265.97 494,266.9 493.4,266.77 492.8,265.73 492.2,267.43 491.6,267.92 491,265.68 490.4,265.54 489.8,267.03 489.2,266.77 488.6,266.09 488,266.08 487.4,267.64 486.8,265.75 486.2,266.72 485.6,267.12 485,265.76 484.4,267.26 483.8,267.32 483.2,267.34 482.6,265.66 482,266.81 481.4,266.78 480.8,267.63 480.2,266.16 479.6,265.63 479,266.14 478.4,265.75 477.8,267.62 477.2,266.33 476.6,266.47 476,266.78 475.4,266.21 474.8,266.54 474.2,266.06 473.6,266.7 473,267.3 472.4,267.14 471.8,267.76 471.2,265.77 470.6,267.2 470,266.03 469.4,265.96 468.8,266 468.2,267.92 467.6,268.39 467,267.65 466.4,268.03 465.8,266.27 465.2,267.55 464.6,267.19 464,267.8 463.4,266.68 462.8,266.29 462.2,267.97 461.6,267.71 461,266.67 460.4,266.46 459.8,266.7 459.2,267.32 458.6,267.88 458,267.12 457.4,266.34 456.79,269.12 456.17,266.82 455.56,266.12 454.95,266.53 454.33,267.38 453.72,267.7 453.11,267.52 452.49,267.53 451.88,268.58 451.27,267.95 450.65,267.01 450.04,268.88 449.43,268.02 448.81,267.43 448.2,267.01 447.59,267.36 446.97,267.21 446.36,266.24 445.75,267.49 445.13,267.8 444.52,267.14 443.91,266.81 443.29,267.08 442.68,265.53 442.07,267.06 441.45,266.3 440.84,266.89 440.23,266.95 439.61,266.45 439,266.24 438.49,266.2 437.98,266.06 437.46,268.01 436.95,266.69 436.44,267.9 435.93,268 435.41,267.71 434.9,271.61 434.39,269.68 433.88,270.65 433.36,269.82 432.85,270.41 432.34,269.43 431.82,270.68 431.31,271.86 430.8,271.48 430.2,271.78 429.61,271.12 429.01,274.03 428.42,272.6 427.82,273.39 427.23,271.45 426.63,272.48 426.03,273.55 425.44,272.36 424.84,273.26 424.25,272.36 423.65,274.46 423.05,273.24 422.46,273.82 421.86,273.14 421.27,275.2 420.67,273.65 420.07,276.55 419.48,274.36 418.88,275.68 418.29,274.03 417.69,275.11 417.1,275.76 416.5,275.41 415.89,278.32 415.28,276.06 414.67,274.71 414.06,275.84 413.45,276.71 412.84,276.19 412.23,274.65 411.62,276.27 411.01,274.76 410.4,275.3 409.79,275.67 409.18,276.04 408.57,275.71 407.96,275.33 407.35,274.23 406.74,275.88 406.13,273.51 405.52,274.08 404.91,274.45 404.3,273.34 403.91,274.52 403.52,272.43 403.12,273.63 402.73,272.29 402.34,271.14 401.95,271.67 401.55,272.22 401.16,270.84 400.77,270.96 400.38,270.46 399.98,268.21 399.59,267.96 399.2,267.95 399.04,267.59 398.87,268.03 398.71,267.18 398.55,265.04 398.38,264.24 398.22,264.19 398.06,263.07 397.89,264.43 397.73,263.75 397.57,262.54 397.41,260.87 397.24,261.26 397.08,261.69 396.92,260.85 396.75,258.82 396.59,259.1 396.43,258.49 396.26,256.92 396.1,256.54 395.94,257.59 395.78,256.91 395.62,254.73 395.46,254.86 395.3,254.96 395.14,252.81 394.98,254.11 394.82,252.2 394.66,252.1 394.49,251.7 394.33,250.45 394.17,249.91 394.01,249.04 393.85,248.99 393.69,247.28 393.53,247.25 393.37,246.58 393.21,245.74 393.05,248.65 392.89,245.38 392.73,243.8 392.57,244.24 392.41,243.84 392.25,246.09 392.09,243.27 391.93,241.35 391.77,241.23 391.61,240.52 391.44,240.54 391.28,238.3 391.12,238.67 390.96,237.31 390.8,237.79 390.64,236.87 390.48,237.06 390.32,235.2 390.16,234.8 390,234.23 389.84,233.91 389.67,232.89 389.51,232.42 389.34,232.01 389.18,231.67 389.01,230.57 388.85,231.41 388.68,229.41 388.52,229.15 388.35,229.74 388.19,228.89 388.03,227.97 387.86,227.56 387.7,225.87 387.53,224.84 387.37,223.94 387.2,225.44 387.04,224.09 386.87,223.31 386.71,223.22 386.55,222.98 386.38,220.74 386.22,220.05 386.05,220.05 385.89,219.1 385.72,220.15 385.56,217.82 385.39,218.72 385.23,217.57 385.06,217.1 384.9,219.31 384.42,216.47 383.94,216.54 383.46,217.01 382.98,215.31 382.5,213.93 382.02,213.32 381.54,214.22 381.06,212.55 380.58,212.68 380.1,212.96 379.62,212.56 379.14,211.53 378.66,210.51 378.18,212.12 377.7,209.63 377.15,211.4 376.61,211.4 376.06,210.31 375.51,212.93 374.97,211.44 374.42,212.41 373.87,212.82 373.33,213.11 372.78,212.16 372.23,212.53 371.69,213.74 371.14,213.91 370.59,214.6 370.05,213.72 369.5,215.09 369.04,214.53 368.59,215.41 368.13,214.22 367.68,214.78 367.22,215.91 366.77,216.34 366.31,216.09 365.86,216.56 365.4,217.89 364.94,218.85 364.49,219.42 364.03,218.73 363.58,218.62 363.12,219.74 362.67,219.48 362.21,223.04 361.76,222.16 361.3,220.45 360.79,222.24 360.29,220.5 359.78,221.61 359.27,220.39 358.77,219.12 358.26,219.59 357.76,217.97 357.25,219.1 356.74,218.58 356.24,218.06 355.73,217.02 355.23,218.34 354.72,218.3 354.21,216.44 353.71,217.28 353.2,216.8 352.77,216.85 352.34,215.31 351.91,215.58 351.47,213.57 351.04,213.76 350.61,214.27 350.18,213.25 349.75,212.58 349.32,212.03 348.88,212.95 348.45,211.24 348.02,211.85 347.59,209.9 347.16,209.5 346.73,209.89 346.29,209.22 345.86,209.05 345.43,209.35 345,208.29 344.56,208.16 344.12,208.24 343.68,206.35 343.24,205.36 342.8,206.99 342.43,205.68 342.05,204.27 341.68,204.33 341.3,203.33 340.93,206.5 340.55,202.82 340.18,203.55 339.8,202.44 339.15,202.83 338.49,201.35 337.84,201.99 337.18,203.09 336.53,201.67 335.87,201.11 335.22,202.4 334.56,201.43 333.91,201.48 333.25,201.76 332.6,202.36 332,201.83 331.4,203.05 330.8,202.13 330.2,201.68 329.6,200.59 329,200.66 328.4,201.97 327.8,201.21 327.2,202.17 326.6,199.8 326,201.53 325.4,201.62 324.8,201.72 324.2,201.39 323.6,199.96 323,201.49 322.4,199.39 321.8,200.68 321.19,200.38 320.59,200.29 319.99,200.66 319.38,199.52 318.78,199.2 318.17,200.85 317.57,200.8 316.97,200.07 316.36,199.34 315.76,202.93 315.16,199.26 314.55,199.76 313.95,199.01 313.34,199.04 312.74,199.57 312.14,199.9 311.53,199.2 310.93,200.73 310.33,199.72 309.72,199.94 309.12,198.85 308.51,200.04 307.91,201.12 307.31,198.82 306.7,200.47 306.1,201.76 305.49,199.47 304.87,198.86 304.26,200.82 303.65,201.15 303.03,201.16 302.42,200.12 301.81,200.51 301.19,200.9 300.58,200.85 299.97,201.06 299.35,200.71 298.74,199.59 298.13,201.79 297.51,201.67 296.9,201.49 296.29,199.62 295.67,201.42 295.06,201.32 294.45,201.06 293.83,201.73 293.22,200.3 292.61,200 291.99,201.54 291.38,201.92 290.77,201.54 290.15,201.9 289.54,201.47 288.93,201.36 288.31,201.63 287.7,202.16 287.09,201.34 286.49,201.55 285.88,200.38 285.27,200.96 284.66,201.73 284.06,201.31 283.45,201.11 282.84,201.47 282.23,202.11 281.63,200.48 281.02,202.24 280.41,200.53 279.8,200.82 279.2,201.2 278.59,200.96 277.98,201.32 277.37,201.26 276.77,201.39 276.16,201.92 275.55,201.04 274.94,200.35 274.34,202.12 273.73,200.35 273.12,200.95 272.51,201.89 271.91,201.88 271.3,204.81 270.7,202.34 270.1,202.06 269.5,201.1 268.9,201.76 268.3,202.22 267.7,201.07 267.1,200.27 266.5,200.16 265.9,201.07 265.3,200.21 264.7,199.78 264.1,202.69 263.5,200.55 262.9,200.75 262.3,203.35 261.7,199.62 261.1,199.97 260.49,200.42 259.87,198.91 259.26,200.74 258.65,200.24 258.03,200.3 257.42,200.36 256.81,199.38 256.19,200.45 255.58,200.11 254.97,200.59 254.35,203.08 253.74,199.62 253.13,199.63 252.51,201.21 251.9,200.04 251.29,199.84 250.67,199.41 250.06,201.05 249.45,200 248.83,199.76 248.22,201.77 247.61,199.72 246.99,201.54 246.38,201.6 245.77,200.56 245.15,201.14 244.54,200.14 243.93,201.13 243.31,201.69 242.7,201.78 242.09,199.76 241.49,201.5 240.88,201.73 240.27,200.89 239.66,200.99 239.06,200.32 238.45,200.91 237.84,200.6 237.23,200.12 236.63,200.6 236.02,200.37 235.41,200.28 234.8,199 234.2,199.71 233.59,199.18 232.98,199.42 232.37,198.05 231.77,199.2 231.16,199.17 230.55,197.58 229.94,198.07 229.34,197.46 228.73,198.32 228.12,197.35 227.51,197.6 226.91,198.98 226.3,197.22 225.67,198.06 225.04,197.38 224.42,198.46 223.79,198.33 223.16,199.11 222.53,197.53 221.91,198.56 221.28,198.96 220.65,198.6 220.02,199.15 219.39,198.98 218.77,197.91 218.14,200.58 217.51,197.92 216.88,198.24 216.26,197.71 215.63,197.71 215,198.9 214.43,199.66 213.85,198.04 213.28,197.22 212.7,198.69 212.12,196.9 211.55,198.67 210.97,198.11 210.4,197.68 209.83,196.17 209.25,195.94 208.68,196.95 208.1,197.74 207.53,196.18 206.95,195.55 206.38,195.16 205.8,195.06 205.21,195.77 204.63,195.31 204.04,195.39 203.46,195.82 202.87,196.18 202.29,196.59 201.7,196.94 201.11,196.23 200.53,198.12 199.94,197.94 199.36,197.83 198.77,197.97 198.19,198.13 197.6,196.92 197,198.16 196.4,198.99 195.8,198.99 195.2,197.33 194.6,197.85 194,199 193.4,199.04 192.8,198.81 192.2,198.97 191.6,198.79 191,197.74 190.4,199.31 189.8,198.4 189.2,198.03 188.6,198.33 188,198.18 187.4,200.14 186.8,198.44 186.2,200.31 185.6,199.6 185,198.58 184.4,199.11 183.8,200.3 183.2,200.84 182.6,199.34 182,199.38 181.4,199.65 180.8,201.12 180.2,201.29 179.6,200.02 179,201.43 178.4,200.06 177.8,201.94 177.2,199.82 176.6,199.96 175.99,201.2 175.39,200.22 174.79,202.08 174.19,203.25 173.58,201.43 172.98,200.88 172.38,200.92 171.77,200.8 171.17,201.83 170.57,202.34 169.96,200.33 169.36,202.24 168.76,202.4 168.16,201.73 167.55,201.88 166.95,201.51 166.35,200.3 165.74,202.06 165.14,201.4 164.54,201.85 163.94,202.95 163.33,202.29 162.73,201.65 162.13,201.54 161.52,201.43 160.92,203.09 160.32,202.79 159.71,202.73 159.11,201.17 158.51,202.23 157.91,201.03 157.3,202.13 156.7,202.42 156.1,203.79 155.49,202.93 154.89,201.69 154.29,203.08 153.68,202.04 153.08,201.99 152.47,201.23 151.87,202.32 151.27,202.22 150.66,202.8 150.06,202.37 149.46,202.89 148.85,201.45 148.25,201.79 147.64,203.64 147.04,201.68 146.44,201.96 145.83,203.53 145.23,203.79 144.63,203.44 144.02,202.97 143.42,201.96 142.81,204.69 142.21,202.29 141.61,203.81 141,202.26 140.4,203.38 139.78,203.15 139.17,202.72 138.56,202.1 137.94,202.45 137.32,201.76 136.71,202.46 136.09,201.72 135.48,202.05 134.87,202.22 134.25,202.73 133.63,202.8 133.02,201.85 132.41,200.53 131.79,202.18 131.18,202.01 130.56,200.59 129.94,203.69 129.33,201.75 128.72,201.75 128.1,200.73 127.5,201.03 126.9,201.55 126.3,201.23 125.7,199.12 125.1,199.13 124.5,200.28 123.9,198.94 123.3,199.63 122.7,199.67 122.1,198.29 121.5,199.67 120.9,199.21 120.3,197.67 119.7,198.32 119.1,198.35 118.5,197.64 117.9,199.09 117.56,196.99 117.22,197.54 116.88,195.3 116.53,196.1 116.19,194.72 115.85,193.94 115.51,193.44 115.17,194.57 114.83,193.88 114.48,192.38 114.14,191.46 113.8,192.8 113.56,191.5 113.32,191.09 113.08,190.45 112.84,190.28 112.6,188.41 112.36,188.75 112.12,186.68 111.88,187.85 111.64,187.16 111.4,185.5 111.28,185.9 111.15,186.25 111.03,186.92 110.91,188.04 110.78,189.38 110.66,189.5 110.53,190.74 110.41,189.88 110.29,191.02 110.16,190.35 110.04,191.3 109.92,193.13 109.79,192.51 109.67,194.39 109.54,195.09 109.42,193.88 109.3,195.59 109.17,196.53 109.05,197.06 108.93,198.2 108.8,198.29 108.68,201.75 108.56,198.05 108.43,199.58 108.31,201.03 108.18,202.1 108.06,202.09 107.94,201.41 107.81,204 107.69,203.13 107.57,203.37 107.44,205.16 107.32,205.2 107.19,205.09 107.07,207.5 106.95,206.72 106.82,206.54 106.7,208.53 106.47,208.01 106.24,209.94 106,209.21 105.77,210.31 105.54,209.73 105.31,212.27 105.08,211.73 104.85,212.71 104.61,214.14 104.38,213.86 104.15,214.08 103.92,214.29 103.69,218.73 103.45,215.91 103.22,215.65 102.99,218.73 102.76,218.5 102.53,218 102.3,217.87 102.06,218.26 101.83,220.53 101.6,220.6 101.08,220 100.57,221 100.05,220.21 99.53,221.47 99.02,221.15 98.5,221.46 97.98,222.25 97.47,223.53 96.95,223.95 96.43,224.58 95.92,222.95 95.4,227.72 94.79,223.89 94.19,225.9 93.58,223.51 92.97,224.02 92.36,223.84 91.76,225.23 91.15,225.92 90.54,225.32 89.93,224.65 89.33,225.19 88.72,226.24 88.11,225.81 87.5,225.95 86.9,226.45 86.29,225.57 85.68,225.55 85.07,226.83 84.47,226.43 83.86,226.82 83.25,225.98 82.64,227.72 82.04,225.68 81.43,227.01 80.82,226.8 80.21,226.54 79.61,226.83 79,227.57Z" fill="#ff0000"/>
<path d="M79,223.1 79.61,223.02 80.21,222.94 80.82,222.87 81.43,222.79 82.04,222.71 82.64,222.63 83.25,222.56 83.86,222.48 84.47,222.4 85.07,222.32 85.68,222.24 86.29,222.17 86.9,222.09 87.5,222.01 88.11,221.93 88.72,221.86 89.33,221.78 89.93,221.7 90.54,221.62 91.15,221.54 91.76,221.47 92.36,221.39 92.97,221.31 93.58,221.23 94.19,221.16 94.79,221.08 95.4,221 95.92,220.66 96.43,220.32 96.95,219.97 97.47,219.63 97.98,219.29 98.5,218.95 99.02,218.61 99.53,218.27 100.05,217.93 100.57,217.58 101.08,217.24 101.6,216.9 101.83,216.35 102.06,215.79 102.3,215.24 102.53,214.68 102.76,214.13 102.99,213.57 103.22,213.02 103.45,212.46 103.69,211.91 103.92,211.35 104.15,210.8 104.38,210.25 104.61,209.69 104.85,209.14 105.08,208.58 105.31,208.03 105.54,207.47 105.77,206.92 106,206.36 106.24,205.81 106.47,205.25 106.7,204.7 106.82,204.11 106.95,203.52 107.07,202.92 107.19,202.33 107.32,201.74 107.44,201.15 107.57,200.56 107.69,199.96 107.81,199.37 107.94,198.78 108.06,198.19 108.18,197.59 108.31,197 108.43,196.41 108.56,195.82 108.68,195.23 108.8,194.63 108.93,194.04 109.05,193.45 109.17,192.86 109.3,192.27 109.42,191.67 109.54,191.08 109.67,190.49 109.79,189.9 109.92,189.31 110.04,188.71 110.16,188.12 110.29,187.53 110.41,186.94 110.53,186.34 110.66,185.75 110.78,185.16 110.91,184.57 111.03,183.98 111.15,183.38 111.28,182.79 111.4,182.2 111.64,182.81 111.88,183.42 112.12,184.03 112.36,184.64 112.6,185.25 112.84,185.86 113.08,186.47 113.32,187.08 113.56,187.69 113.8,188.3 114.14,188.82 114.48,189.33 114.83,189.85 115.17,190.37 115.51,190.88 115.85,191.4 116.19,191.92 116.53,192.43 116.88,192.95 117.22,193.47 117.56,193.98 117.9,194.5 118.5,194.68 119.1,194.85 119.7,195.03 120.3,195.21 120.9,195.38 121.5,195.56 122.1,195.74 122.7,195.91 123.3,196.09 123.9,196.26 124.5,196.44 125.1,196.62 125.7,196.79 126.3,196.97 126.9,197.15 127.5,197.32 128.1,197.5 128.72,197.6 129.33,197.71 129.94,197.81 130.56,197.92 131.18,198.03 131.79,198.13 132.41,198.23 133.02,198.34 133.63,198.44 134.25,198.55 134.87,198.66 135.48,198.76 136.09,198.87 136.71,198.97 137.32,199.07 137.94,199.18 138.56,199.28 139.17,199.39 139.78,199.5 140.4,199.6 141,199.56 141.61,199.52 142.21,199.48 142.81,199.44 143.42,199.4 144.02,199.36 144.63,199.31 145.23,199.27 145.83,199.23 146.44,199.19 147.04,199.15 147.64,199.11 148.25,199.07 148.85,199.03 149.46,198.99 150.06,198.95 150.66,198.91 151.27,198.87 151.87,198.83 152.47,198.79 153.08,198.74 153.68,198.7 154.29,198.66 154.89,198.62 155.49,198.58 156.1,198.54 156.7,198.5 157.3,198.47 157.91,198.44 158.51,198.41 159.11,198.38 159.71,198.35 160.32,198.32 160.92,198.29 161.52,198.26 162.13,198.24 162.73,198.21 163.33,198.18 163.94,198.15 164.54,198.12 165.14,198.09 165.74,198.06 166.35,198.03 166.95,198 167.55,197.97 168.16,197.94 168.76,197.91 169.36,197.88 169.96,197.85 170.57,197.82 171.17,197.79 171.77,197.76 172.38,197.74 172.98,197.71 173.58,197.68 174.19,197.65 174.79,197.62 175.39,197.59 175.99,197.56 176.6,197.53 177.2,197.5 177.8,197.41 178.4,197.32 179,197.24 179.6,197.15 180.2,197.06 180.8,196.97 181.4,196.88 182,196.79 182.6,196.71 183.2,196.62 183.8,196.53 184.4,196.44 185,196.35 185.6,196.26 186.2,196.18 186.8,196.09 187.4,196 188,195.91 188.6,195.82 189.2,195.74 189.8,195.65 190.4,195.56 191,195.47 191.6,195.38 192.2,195.29 192.8,195.21 193.4,195.12 194,195.03 194.6,194.94 195.2,194.85 195.8,194.76 196.4,194.68 197,194.59 197.6,194.5 198.19,194.35 198.77,194.2 199.36,194.05 199.94,193.9 200.53,193.75 201.11,193.6 201.7,193.45 202.29,193.3 202.87,193.15 203.46,193 204.04,192.85 204.63,192.7 205.21,192.55 205.8,192.4 206.38,192.59 206.95,192.79 207.53,192.98 208.1,193.18 208.68,193.37 209.25,193.56 209.83,193.76 210.4,193.95 210.97,194.14 211.55,194.34 212.12,194.53 212.7,194.72 213.28,194.92 213.85,195.11 214.43,195.31 215,195.5 215.63,195.44 216.26,195.39 216.88,195.33 217.51,195.28 218.14,195.22 218.77,195.17 219.39,195.11 220.02,195.06 220.65,195 221.28,194.94 221.91,194.89 222.53,194.83 223.16,194.78 223.79,194.72 224.42,194.67 225.04,194.61 225.67,194.56 226.3,194.5 226.91,194.61 227.51,194.72 228.12,194.83 228.73,194.94 229.34,195.06 229.94,195.17 230.55,195.28 231.16,195.39 231.77,195.5 232.37,195.61 232.98,195.72 233.59,195.83 234.2,195.94 234.8,196.06 235.41,196.17 236.02,196.28 236.63,196.39 237.23,196.5 237.84,196.61 238.45,196.72 239.06,196.83 239.66,196.94 240.27,197.06 240.88,197.17 241.49,197.28 242.09,197.39 242.7,197.5 243.31,197.47 243.93,197.43 244.54,197.4 245.15,197.37 245.77,197.33 246.38,197.3 246.99,197.27 247.61,197.23 248.22,197.2 248.83,197.17 249.45,197.13 250.06,197.1 250.67,197.07 251.29,197.03 251.9,197 252.51,196.97 253.13,196.93 253.74,196.9 254.35,196.87 254.97,196.83 255.58,196.8 256.19,196.77 256.81,196.73 257.42,196.7 258.03,196.67 258.65,196.63 259.26,196.6 259.87,196.57 260.49,196.53 261.1,196.5 261.7,196.59 262.3,196.69 262.9,196.78 263.5,196.88 264.1,196.97 264.7,197.06 265.3,197.16 265.9,197.25 266.5,197.35 267.1,197.44 267.7,197.54 268.3,197.63 268.9,197.72 269.5,197.82 270.1,197.91 270.7,198.01 271.3,198.1 271.91,198.1 272.51,198.1 273.12,198.1 273.73,198.1 274.34,198.1 274.94,198.1 275.55,198.1 276.16,198.1 276.77,198.1 277.37,198.1 277.98,198.1 278.59,198.1 279.2,198.1 279.8,198.1 280.41,198.1 281.02,198.1 281.63,198.1 282.23,198.1 282.84,198.1 283.45,198.1 284.06,198.1 284.66,198.1 285.27,198.1 285.88,198.1 286.49,198.1 287.09,198.1 287.7,198.1 288.31,198.05 288.93,197.99 289.54,197.94 290.15,197.89 290.77,197.83 291.38,197.78 291.99,197.73 292.61,197.67 293.22,197.62 293.83,197.57 294.45,197.51 295.06,197.46 295.67,197.41 296.29,197.35 296.9,197.3 297.51,197.25 298.13,197.19 298.74,197.14 299.35,197.09 299.97,197.03 300.58,196.98 301.19,196.93 301.81,196.87 302.42,196.82 303.03,196.77 303.65,196.71 304.26,196.66 304.87,196.61 305.49,196.55 306.1,196.5 306.7,196.51 307.31,196.53 307.91,196.54 308.51,196.56 309.12,196.57 309.72,196.59 310.33,196.6 310.93,196.62 311.53,196.63 312.14,196.65 312.74,196.66 313.34,196.68 313.95,196.69 314.55,196.71 315.16,196.72 315.76,196.74 316.36,196.75 316.97,196.77 317.57,196.78 318.17,196.8 318.78,196.81 319.38,196.83 319.99,196.84 320.59,196.86 321.19,196.87 321.8,196.89 322.4,196.9 323,196.99 323.6,197.09 324.2,197.18 324.8,197.28 325.4,197.37 326,197.46 326.6,197.56 327.2,197.65 327.8,197.75 328.4,197.84 329,197.94 329.6,198.03 330.2,198.12 330.8,198.22 331.4,198.31 332,198.41 332.6,198.5 333.25,198.5 333.91,198.5 334.56,198.5 335.22,198.5 335.87,198.5 336.53,198.5 337.18,198.5 337.84,198.5 338.49,198.5 339.15,198.5 339.8,198.5 340.18,199.01 340.55,199.53 340.93,200.04 341.3,200.55 341.68,201.06 342.05,201.57 342.43,202.09 342.8,202.6 343.24,203.02 343.68,203.44 344.12,203.86 344.56,204.28 345,204.7 345.43,205.13 345.86,205.55 346.29,205.98 346.73,206.41 347.16,206.83 347.59,207.26 348.02,207.68 348.45,208.11 348.88,208.54 349.32,208.96 349.75,209.39 350.18,209.82 350.61,210.24 351.04,210.67 351.47,211.09 351.91,211.52 352.34,211.95 352.77,212.37 353.2,212.8 353.71,213.12 354.21,213.45 354.72,213.78 355.23,214.1 355.73,214.43 356.24,214.75 356.74,215.08 357.25,215.4 357.76,215.72 358.26,216.05 358.77,216.38 359.27,216.7 359.78,217.03 360.29,217.35 360.79,217.68 361.3,218 361.76,217.6 362.21,217.2 362.67,216.8 363.12,216.4 363.58,216 364.03,215.6 364.49,215.2 364.94,214.8 365.4,214.4 365.86,214 366.31,213.6 366.77,213.2 367.22,212.8 367.68,212.4 368.13,212 368.59,211.6 369.04,211.2 369.5,210.8 370.05,210.53 370.59,210.25 371.14,209.98 371.69,209.71 372.23,209.43 372.78,209.16 373.33,208.89 373.87,208.61 374.42,208.34 374.97,208.07 375.51,207.79 376.06,207.52 376.61,207.25 377.15,206.97 377.7,206.7 378.18,207.11 378.66,207.51 379.14,207.92 379.62,208.33 380.1,208.73 380.58,209.14 381.06,209.55 381.54,209.95 382.02,210.36 382.5,210.77 382.98,211.17 383.46,211.58 383.94,211.99 384.42,212.39 384.9,212.8 385.06,213.39 385.23,213.99 385.39,214.58 385.56,215.17 385.72,215.77 385.89,216.36 386.05,216.95 386.22,217.55 386.38,218.14 386.55,218.74 386.71,219.33 386.87,219.92 387.04,220.52 387.2,221.11 387.37,221.7 387.53,222.3 387.7,222.89 387.86,223.48 388.03,224.08 388.19,224.67 388.35,225.26 388.52,225.86 388.68,226.45 388.85,227.05 389.01,227.64 389.18,228.23 389.34,228.83 389.51,229.42 389.67,230.01 389.84,230.61 390,231.2 390.16,231.79 390.32,232.38 390.48,232.98 390.64,233.57 390.8,234.16 390.96,234.75 391.12,235.34 391.28,235.94 391.44,236.53 391.61,237.12 391.77,237.71 391.93,238.31 392.09,238.9 392.25,239.49 392.41,240.08 392.57,240.67 392.73,241.27 392.89,241.86 393.05,242.45 393.21,243.04 393.37,243.63 393.53,244.23 393.69,244.82 393.85,245.41 394.01,246 394.17,246.59 394.33,247.19 394.49,247.78 394.66,248.37 394.82,248.96 394.98,249.56 395.14,250.15 395.3,250.74 395.46,251.33 395.62,251.92 395.78,252.52 395.94,253.11 396.1,253.7 396.26,254.29 396.43,254.89 396.59,255.48 396.75,256.08 396.92,256.67 397.08,257.27 397.24,257.86 397.41,258.46 397.57,259.05 397.73,259.65 397.89,260.24 398.06,260.84 398.22,261.43 398.38,262.03 398.55,262.62 398.71,263.22 398.87,263.81 399.04,264.41 399.2,265 399.59,265.47 399.98,265.94 400.38,266.41 400.77,266.88 401.16,267.35 401.55,267.82 401.95,268.28 402.34,268.75 402.73,269.22 403.12,269.69 403.52,270.16 403.91,270.63 404.3,271.1 404.91,271.15 405.52,271.2 406.13,271.25 406.74,271.3 407.35,271.35 407.96,271.4 408.57,271.45 409.18,271.5 409.79,271.55 410.4,271.6 411.01,271.65 411.62,271.7 412.23,271.75 412.84,271.8 413.45,271.85 414.06,271.9 414.67,271.95 415.28,272 415.89,272.05 416.5,272.1 417.1,271.93 417.69,271.76 418.29,271.59 418.88,271.42 419.48,271.25 420.07,271.08 420.67,270.9 421.27,270.73 421.86,270.56 422.46,270.39 423.05,270.22 423.65,270.05 424.25,269.88 424.84,269.71 425.44,269.54 426.03,269.37 426.63,269.2 427.23,269.02 427.82,268.85 428.42,268.68 429.01,268.51 429.61,268.34 430.2,268.17 430.8,268 431.31,267.68 431.82,267.36 432.34,267.04 432.85,266.73 433.36,266.41 433.88,266.09 434.39,265.77 434.9,265.45 435.41,265.13 435.93,264.81 436.44,264.49 436.95,264.17 437.46,263.86 437.98,263.54 438.49,263.22 439,262.9 439.61,262.93 440.23,262.97 440.84,263 441.45,263.03 442.07,263.07 442.68,263.1 443.29,263.13 443.91,263.17 444.52,263.2 445.13,263.23 445.75,263.27 446.36,263.3 446.97,263.33 447.59,263.37 448.2,263.4 448.81,263.43 449.43,263.47 450.04,263.5 450.65,263.53 451.27,263.57 451.88,263.6 452.49,263.63 453.11,263.67 453.72,263.7 454.33,263.73 454.95,263.77 455.56,263.8 456.17,263.83 456.79,263.87 457.4,263.9 458,263.88 458.6,263.86 459.2,263.83 459.8,263.81 460.4,263.79 461,263.77 461.6,263.75 462.2,263.73 462.8,263.7 463.4,263.68 464,263.66 464.6,263.64 465.2,263.62 465.8,263.6 466.4,263.57 467,263.55 467.6,263.53 468.2,263.51 468.8,263.49 469.4,263.47 470,263.44 470.6,263.42 471.2,263.4 471.8,263.38 472.4,263.36 473,263.33 473.6,263.31 474.2,263.29 474.8,263.27 475.4,263.25 476,263.23 476.6,263.2 477.2,263.18 477.8,263.16 478.4,263.14 479,263.12 479.6,263.1 480.2,263.07 480.8,263.05 481.4,263.03 482,263.01 482.6,262.99 483.2,262.97 483.8,262.94 484.4,262.92 485,262.9 485.6,262.95 486.2,263 486.8,263.04 487.4,263.09 488,263.14 488.6,263.19 489.2,263.24 489.8,263.29 490.4,263.33 491,263.38 491.6,263.43 492.2,263.48 492.8,263.53 493.4,263.57 494,263.62 494.6,263.67 495.2,263.72 495.8,263.77 496.4,263.81 497,263.86 497.6,263.91 498.2,263.96 498.8,264.01 499.4,264.06 500,264.1 500.6,264.15 501.2,264.2 501.8,264.26 502.41,264.32 503.01,264.38 503.61,264.44 504.21,264.5 504.82,264.56 505.42,264.62 506.02,264.68 506.63,264.74 507.23,264.8 507.83,264.86 508.43,264.92 509.04,264.98 509.64,265.04 510.24,265.1 510.85,265.16 511.45,265.22 512.05,265.28 512.65,265.34 513.26,265.4 513.86,265.46 514.46,265.52 515.07,265.58 515.67,265.64 516.27,265.7 516.87,265.76 517.48,265.82 518.08,265.88 518.68,265.94 519.29,266 519.89,266.06 520.49,266.12 521.09,266.18 521.7,266.24 522.3,266.3 522.91,266.21 523.51,266.12 524.12,266.03 524.72,265.93 525.33,265.84 525.93,265.75 526.54,265.66 527.15,265.57 527.75,265.48 528.36,265.39 528.96,265.29 529.57,265.2 530.17,265.11 530.78,265.02 531.39,264.93 531.99,264.84 532.6,264.75 533.2,264.65 533.81,264.56 534.41,264.47 535.02,264.38 535.63,264.29 536.23,264.2 536.84,264.11 537.44,264.01 538.05,263.92 538.65,263.83 539.26,263.74 539.87,263.65 540.47,263.56 541.08,263.47 541.68,263.37 542.29,263.28 542.89,263.19 543.5,263.1 544.11,263.07 544.71,263.04 545.32,263.01 545.92,262.99 546.53,262.96 547.13,262.93 547.74,262.9 548.35,262.87 548.95,262.84 549.56,262.81 550.16,262.79 550.77,262.76 551.37,262.73 551.98,262.7 552.59,262.67 553.19,262.64 553.8,262.61 554.4,262.59 555.01,262.56 555.61,262.53 556.22,262.5 556.83,262.47 557.43,262.44 558.04,262.41 558.64,262.39 559.25,262.36 559.85,262.33 560.46,262.3 561.07,262.27 561.67,262.24 562.28,262.21 562.88,262.19 563.49,262.16 564.09,262.13 564.7,262.1 565.3,262.1 565.91,262.1 566.51,262.1 567.11,262.1 567.72,262.1 568.32,262.1 568.93,262.1 569.53,262.1 570.13,262.1 570.74,262.1 571.34,262.1 571.94,262.1 572.55,262.1 573.15,262.1 573.75,262.1 574.36,262.1 574.96,262.1 575.56,262.1 576.17,262.1 576.77,262.1 577.38,262.1 577.98,262.1 578.58,262.1 579.19,262.1 579.79,262.1 580.39,262.1 581,262.1 581.6,262.1 581.94,261.6 582.27,261.1 582.61,260.6 582.95,260.1 583.28,259.6 583.62,259.1 583.96,258.6 584.29,258.1 584.63,257.6 584.97,257.1 585.31,256.6 585.64,256.1 585.98,255.6 586.32,255.1 586.65,254.6 586.99,254.1 587.33,253.6 587.66,253.1 588,252.6 588.24,252.03 588.48,251.45 588.73,250.88 588.97,250.31 589.21,249.73 589.45,249.16 589.7,248.59 589.94,248.02 590.18,247.44 590.42,246.87 590.67,246.3 590.91,245.72 591.15,245.15 591.39,244.58 591.63,244 591.88,243.43 592.12,242.86 592.36,242.28 592.6,241.71 592.85,241.14 593.09,240.57 593.33,239.99 593.57,239.42 593.82,238.85 594.06,238.27 594.3,237.7 594.42,237.11 594.55,236.52 594.67,235.93 594.79,235.34 594.92,234.75 595.04,234.16 595.16,233.57 595.29,232.97 595.41,232.38 595.53,231.79 595.66,231.2 595.78,230.61 595.9,230.02 596.03,229.43 596.15,228.84 596.27,228.25 596.4,227.66 596.52,227.07 596.64,226.48 596.77,225.89 596.89,225.3 597.01,224.7 597.13,224.11 597.26,223.52 597.38,222.93 597.5,222.34 597.63,221.75 597.75,221.16 597.87,220.57 598,219.98 598.12,219.39 598.24,218.8 598.37,218.21 598.49,217.62 598.61,217.03 598.74,216.43 598.86,215.84 598.98,215.25 599.11,214.66 599.23,214.07 599.35,213.48 599.48,212.89 599.6,212.3 599.77,211.71 599.94,211.12 600.1,210.52 600.27,209.93 600.44,209.34 600.61,208.75 600.78,208.16 600.94,207.56 601.11,206.97 601.28,206.38 601.45,205.79 601.62,205.2 601.78,204.6 601.95,204.01 602.12,203.42 602.29,202.83 602.46,202.24 602.62,201.64 602.79,201.05 602.96,200.46 603.13,199.87 603.3,199.28 603.46,198.68 603.63,198.09 603.8,197.5 604.21,197.02 604.62,196.53 605.02,196.05 605.43,195.56 605.84,195.08 606.25,194.59 606.65,194.11 607.06,193.62 607.47,193.14 607.88,192.65 608.28,192.17 608.69,191.68 609.1,191.2 609.64,190.8 610.17,190.4 610.71,190 611.25,189.6 611.79,189.2 612.33,188.8 612.86,188.4 613.4,188 613.89,188.36 614.38,188.71 614.87,189.07 615.36,189.42 615.84,189.78 616.33,190.13 616.82,190.49 617.31,190.84 617.8,191.2" fill="none" stroke="#ff0000" stroke-width="2.75" stroke-linejoin="round" stroke-linecap="round"/>
<path d="M79,258.93 79.6,255.4 80.2,258.85 80.8,258.23 81.4,257.25 82,259.14 82.6,259.18 83.2,257.1 83.8,257.24 84.4,258.89 85,258.04 85.6,258.12 86.2,256.83 86.8,256.58 87.4,256.6 88,258.37 88.6,258.68 89.2,256.87 89.8,254.79 90.4,257.91 91,256.27 91.6,258.55 92.2,258.21 92.8,256.24 93.4,257.25 93.76,256.53 94.12,255.81 94.48,254.08 94.84,256.52 95.19,254.58 95.55,252.89 95.91,252.81 96.27,253.87 96.63,252.73 96.99,253.61 97.35,252.66 97.71,251.67 98.06,251.43 98.42,251.34 98.78,250.18 99.14,250.32 99.5,249.63 99.69,248.9 99.89,248.5 100.08,247.59 100.28,245.89 100.47,245.2 100.66,245.26 100.86,245.73 101.05,243.76 101.24,242.91 101.44,244.52 101.63,242.38 101.83,241.93 102.02,241.68 102.21,240.97 102.41,239.46 102.6,239.03 102.79,239.26 102.99,239.95 103.18,239.21 103.38,237.59 103.57,236.67 103.76,236.86 103.96,236.16 104.15,235.05 104.34,234.43 104.54,233.66 104.73,234.19 104.92,233.18 105.12,232.73 105.31,231.94 105.51,230.35 105.7,230.55 105.79,229.44 105.88,226.02 105.97,228.07 106.06,225.68 106.15,227.17 106.25,228.14 106.34,227.1 106.43,225.27 106.52,225.64 106.61,223.54 106.7,223.62 106.79,223.51 106.88,223.84 106.97,222.4 107.06,222.39 107.15,220.6 107.25,220.67 107.34,220.54 107.43,220.04 107.52,219.51 107.61,218.13 107.7,217.49 107.79,216.29 107.88,216.88 107.97,214.79 108.06,215.79 108.15,215.03 108.25,213.29 108.34,213.73 108.43,213.82 108.52,212.73 108.61,211.32 108.7,211.75 108.79,209.16 108.88,210.11 108.97,209.58 109.06,208.33 109.15,207.29 109.25,206.86 109.34,206.24 109.43,206.41 109.52,205.05 109.61,205.84 109.7,203.62 109.91,202.69 110.12,202.31 110.33,202.24 110.54,202.65 110.75,200.43 110.96,200.68 111.17,199.64 111.38,199.17 111.59,197.94 111.8,196.92 111.98,198.28 112.16,198.34 112.35,200.99 112.53,200.34 112.71,202.11 112.89,201.44 113.08,199.89 113.26,203.81 113.44,202.51 113.62,203.76 113.81,204.98 113.99,205.35 114.17,206.9 114.35,206.41 114.54,206.64 114.72,207.84 114.9,208.52 115.22,209.38 115.55,210.08 115.87,210.53 116.19,210.11 116.51,209.29 116.84,212.42 117.16,211.86 117.48,213.21 117.8,212.13 118.13,213.94 118.45,214.22 118.77,213.06 119.1,215.99 119.42,216.11 119.74,213.4 120.06,215.35 120.39,217.86 120.71,216.42 121.03,217.15 121.35,218.68 121.68,219.54 122,218.99 122.51,218.63 123.03,218.35 123.54,218.07 124.06,217.09 124.57,218.71 125.09,217.15 125.6,217.57 126.11,216.38 126.63,216.89 127.14,215.61 127.66,216.27 128.17,216.27 128.69,215.76 129.2,214.12 129.67,215.18 130.15,214.41 130.62,215.53 131.09,216.4 131.57,215.87 132.04,217.53 132.51,217.41 132.99,216.62 133.46,217.79 133.93,217.39 134.41,218.22 134.88,219.78 135.35,219.15 135.83,221.2 136.3,220.87 136.9,221.27 137.5,220.97 138.1,218.8 138.7,220.22 139.3,219.92 139.9,218.48 140.5,218.49 141.1,217.65 141.7,218.94 142.3,218.04 142.9,219.57 143.5,218.92 144.1,219.22 144.7,216.96 145.3,217.14 145.9,217.46 146.5,216.45 147.1,216.55 147.7,217.72 148.3,216.77 148.9,218.24 149.5,219.14 150.1,217.65 150.7,219.8 151.3,219.39 151.9,218.64 152.5,218.12 153.1,220.17 153.7,220.14 154.3,220.03 154.9,218.8 155.5,221.14 156.1,218.54 156.7,221.53 157.24,220.71 157.78,222 158.33,221.04 158.87,222.56 159.41,223.19 159.95,223.37 160.49,223.63 161.04,222.07 161.58,222.2 162.12,222.63 162.66,225.18 163.21,224.19 163.75,224.59 164.29,223.96 164.83,224.5 165.37,226.71 165.92,226.88 166.46,225.1 167,227.58 167.57,226.54 168.15,227.39 168.72,226.09 169.3,226.17 169.87,226.93 170.44,226.55 171.02,226.95 171.59,227.74 172.17,227.54 172.74,227.23 173.31,227.64 173.89,229.07 174.46,229.22 175.03,229.94 175.61,230.14 176.18,230.58 176.76,229.06 177.33,229.95 177.9,230.28 178.48,230.91 179.05,228.93 179.63,231.06 180.2,230.39 180.77,229.36 181.35,229.72 181.92,230.32 182.5,230.14 183.07,230.02 183.65,229.52 184.22,229.46 184.8,228.04 185.38,229.5 185.95,228.54 186.53,227.78 187.1,228.9 187.68,227.49 188.25,228.32 188.83,228.17 189.4,227.97 189.99,227.01 190.57,227.4 191.16,227.72 191.74,226.21 192.33,223.83 192.91,226.4 193.5,225.7 194.09,226.3 194.67,225.19 195.26,226.43 195.84,225.17 196.43,224.84 197.01,224.19 197.6,223.68 198.03,221.33 198.46,224.1 198.89,222.83 199.33,222.74 199.76,222.7 200.19,222.95 200.62,221.57 201.05,220.13 201.48,221.76 201.92,221.2 202.35,220.42 202.78,219.4 203.21,218.29 203.64,218.07 204.07,216.99 204.51,217.29 204.94,216.37 205.37,217.01 205.8,214.96 206.41,217.23 207.03,215.85 207.64,216.23 208.25,215.81 208.87,217.94 209.48,218.05 210.09,218.25 210.71,217.78 211.32,216.77 211.93,218.59 212.55,216.81 213.16,217.35 213.77,218.88 214.39,219.01 215,218.33 215.56,219.44 216.13,217.92 216.69,217.5 217.26,218.14 217.82,218.44 218.39,217.42 218.96,217.39 219.52,216.91 220.09,215.52 220.65,215.48 221.22,216.31 221.78,215.74 222.34,216.58 222.91,214.98 223.48,215.01 224.04,214.8 224.61,214.87 225.17,215.94 225.74,214.67 226.3,213.82 226.87,215 227.43,214.55 228,215.8 228.56,215.09 229.13,214.85 229.69,216.34 230.26,215.53 230.82,216.13 231.39,217.01 231.96,215.51 232.52,216.2 233.09,215.97 233.65,217.63 234.22,218.2 234.78,218 235.35,218.92 235.91,216.83 236.48,218.8 237.04,217.43 237.61,218.51 238.18,219.3 238.74,218.26 239.31,220.07 239.87,219.31 240.44,220.22 241,218.85 241.57,219.12 242.13,220.07 242.7,221.64 243.25,220.64 243.79,220.18 244.34,219.01 244.89,220.32 245.43,219.42 245.98,217.21 246.53,218.6 247.07,219.07 247.62,218.82 248.17,217.67 248.71,216.34 249.26,216.61 249.81,215.75 250.35,217.68 250.9,215.61 251.5,215.88 252.1,217.09 252.7,214.48 253.3,215.27 253.9,215.57 254.5,217.27 255.1,216.92 255.7,216.55 256.3,216.84 256.9,216.89 257.5,216.17 258.1,217.08 258.7,216.73 259.3,216.02 259.9,216.34 260.5,215.71 261.1,216.44 261.7,216.97 262.3,217.6 262.9,216.51 263.5,213.88 264.1,217.49 264.7,216.1 265.3,216.35 265.9,216.73 266.5,217.22 267.1,217.03 267.7,215.8 268.3,216.91 268.9,216.21 269.5,217.46 270.1,215.92 270.7,216.87 271.3,217.37 271.92,215.78 272.54,216.72 273.15,215.82 273.77,216.38 274.39,216.75 275.01,217.6 275.63,216.23 276.25,216.19 276.86,215.61 277.48,216.66 278.1,215.78 278.72,216.87 279.34,216.25 279.95,216.91 280.57,216.93 281.19,216.03 281.81,216.7 282.43,215.8 283.05,215.33 283.66,217.52 284.28,216.85 284.9,216.98 285.52,215.79 286.14,215.54 286.75,215.63 287.37,217.46 287.99,216.85 288.61,216.64 289.23,216.99 289.85,215.54 290.46,215.62 291.08,216.62 291.7,217.06 292.3,215.68 292.9,215.28 293.5,214.06 294.1,216.54 294.7,216.97 295.3,216.73 295.9,214.89 296.5,214.96 297.1,215.35 297.7,214.66 298.3,214.58 298.9,216.54 299.5,216.23 300.1,214.29 300.7,215.71 301.3,214.35 301.9,215.62 302.5,213.87 303.1,214.05 303.7,214.26 304.3,213.73 304.9,215.01 305.5,213.98 306.1,213.63 306.71,215.38 307.32,215.13 307.93,215.68 308.54,214.59 309.15,214.88 309.76,214.86 310.37,215.54 310.98,214.85 311.59,214.7 312.2,216.21 312.81,216.2 313.42,215.5 314.03,215.77 314.64,216.24 315.25,217.3 315.86,217.61 316.47,216.44 317.08,217.61 317.69,218 318.3,217.13 318.89,218.45 319.47,218.79 320.06,218.37 320.64,217.21 321.23,218.96 321.81,218.75 322.4,217.8 322.99,220.17 323.57,219.08 324.16,218.6 324.74,220.67 325.33,220.98 325.91,220.41 326.5,220.88 326.94,221.72 327.37,220.6 327.81,220.91 328.24,222.9 328.68,222.38 329.11,223.85 329.55,224.15 329.99,223.68 330.42,223.27 330.86,224.16 331.29,225.53 331.73,226.81 332.16,226.64 332.6,225.75 333.06,226.61 333.51,227.98 333.97,228.91 334.42,228.81 334.88,229.42 335.33,230.1 335.79,229.73 336.24,230.7 336.7,230.9 337.29,229.22 337.87,229.27 338.46,230.86 339.04,229.49 339.63,229.38 340.21,230.05 340.8,229.24 341.06,229.6 341.32,230.47 341.59,229.23 341.85,231.29 342.11,232.11 342.38,232.09 342.64,233.65 342.9,231.95 343.16,233.74 343.43,234.73 343.69,233.9 343.95,236.3 344.21,235.4 344.48,234.75 344.74,236.47 345,237.95 345.41,237.84 345.82,238.66 346.23,238.99 346.64,239.19 347.05,240.11 347.46,239.63 347.87,239.57 348.28,240.87 348.69,240.6 349.1,241.68 349.51,241.9 349.92,242.06 350.33,243.78 350.74,243.23 351.15,244.29 351.56,243.69 351.97,245.96 352.38,245.43 352.79,245.3 353.2,246.1 353.68,246.52 354.15,247.86 354.63,248.25 355.11,247.22 355.58,248.74 356.06,249.52 356.54,250.09 357.01,248.78 357.49,250.01 357.96,249.34 358.44,250.65 358.92,250.63 359.39,251.56 359.87,252.62 360.35,251.64 360.82,252.73 361.3,253.18 361.73,252.37 362.16,252.13 362.59,250.67 363.03,250.88 363.46,249.63 363.89,251 364.32,249.38 364.75,249.83 365.18,249.01 365.62,247.72 366.05,247.29 366.48,248.16 366.91,246.9 367.34,246.56 367.77,245.06 368.21,245.43 368.64,244.31 369.07,243.64 369.5,243.47 370.01,243.95 370.52,244.22 371.04,244.55 371.55,242.02 372.06,242.62 372.57,242.9 373.09,243.02 373.6,241.15 374.11,240.59 374.62,240.69 375.14,241.13 375.65,239.38 376.16,239.91 376.68,239.5 377.19,238.36 377.7,237.84 378.18,239.68 378.66,239.3 379.14,238.91 379.62,240.92 380.1,241.3 380.58,241.06 381.06,241.16 381.54,241.82 382.02,242.92 382.5,242.68 382.98,241.77 383.46,242.22 383.94,242.56 384.42,243.11 384.9,244.24 385.08,244.85 385.25,244.74 385.43,246.06 385.61,246.63 385.78,246.42 385.96,248.48 386.14,248.31 386.31,249.64 386.49,249.48 386.66,250.83 386.84,249.92 387.02,251.21 387.19,251.97 387.37,251.47 387.55,253.21 387.72,254.35 387.9,254.91 388.01,253.96 388.12,255.05 388.23,255.59 388.34,257.85 388.45,258.34 388.56,257.75 388.68,257.78 388.79,260.06 388.9,260.22 389.01,261 389.12,261.82 389.23,261.29 389.34,261.65 389.45,263.13 389.56,263.34 389.67,260.59 389.78,263.53 389.89,266.1 390.01,265.11 390.12,266.86 390.23,266.91 390.34,267.85 390.45,267.49 390.56,268.63 390.67,269.96 390.78,269.84 390.89,271.26 391,270.31 391.11,269.12 391.22,273.49 391.34,272.08 391.45,273.31 391.56,274.27 391.67,275.73 391.78,275.66 391.89,276.74 392,276.1 392.1,277.91 392.2,277.89 392.3,277.96 392.4,279.71 392.5,279.03 392.6,278.57 392.7,280.41 392.8,282.66 392.9,281.16 393,281.97 393.1,283.51 393.2,284.62 393.3,283.76 393.4,285.19 393.5,285.84 393.6,285.2 393.7,286 393.8,287.53 393.9,287 394,286.77 394.1,288.61 394.2,290.61 394.3,289.77 394.4,291.65 394.5,291.27 394.6,291.73 394.7,292.33 394.8,292.91 394.9,293.7 395,295.51 395.1,295.12 395.2,295.97 395.3,295.59 395.4,297.21 395.5,298.31 395.6,295.71 395.7,299.74 395.8,298.39 395.9,300.13 396,299.93 396.1,299.59 396.19,302.38 396.27,303.53 396.36,302.38 396.44,302.65 396.53,305.31 396.61,304.43 396.7,304.9 396.78,304.16 396.87,305.42 396.95,307.7 397.04,307.74 397.12,308.3 397.21,309.01 397.3,308.44 397.38,310.25 397.47,311.05 397.55,311.18 397.64,313.1 397.72,312.87 397.81,313.97 397.89,314.25 397.98,313.21 398.06,314.99 398.15,313.28 398.24,316.48 398.32,315.72 398.41,316.5 398.49,317.82 398.58,317.44 398.66,320.18 398.75,319.84 398.83,321.28 398.92,321.91 399,320.8 399.09,318.34 399.18,323.49 399.26,324.37 399.35,323.64 399.43,324.87 399.52,325.92 399.6,325.82 399.69,325.97 399.77,326.31 399.86,326.61 399.94,327.51 400.03,328.3 400.11,329.48 400.2,330.3 400.54,330.66 400.88,331.87 401.23,330.55 401.57,331.13 401.91,332.08 402.25,332.73 402.59,333.6 402.93,333.06 403.27,334.34 403.62,334.89 403.96,335.81 404.3,335.3 404.84,335.7 405.38,335.23 405.92,335.87 406.46,335.88 407,334.25 407.54,335.22 408.08,334.84 408.62,332.43 409.16,333.2 409.7,334.31 410.24,334.17 410.78,332.54 411.32,332.8 411.86,331.65 412.4,332.14 412.97,331.74 413.54,331.68 414.12,331.13 414.69,330.08 415.26,331.21 415.83,331.4 416.41,331.36 416.98,330.16 417.55,330.05 418.12,330.28 418.69,328.74 419.27,328.36 419.84,326.73 420.41,328.77 420.98,329.03 421.56,328.8 422.13,328.54 422.7,328.25 423.19,327.44 423.67,326.1 424.16,326.41 424.64,327.09 425.13,326.67 425.61,324.6 426.1,324 426.59,325.11 427.07,325.25 427.56,322.82 428.04,323.25 428.53,321.99 429.01,322.65 429.5,322.48 429.99,322.35 430.47,320.88 430.96,321.48 431.44,321.66 431.93,321.42 432.41,320.63 432.9,319.58 433.38,318.31 433.86,320.04 434.35,316.57 434.83,317.55 435.31,318.8 435.79,318.16 436.28,316 436.76,316.27 437.24,317.25 437.72,315.18 438.21,316.46 438.69,315.32 439.17,314.58 439.65,314.92 440.14,314.37 440.62,313.27 441.1,314.45 441.67,314.46 442.23,312.05 442.8,312.21 443.37,311.46 443.93,310.88 444.5,311.77 445.07,312.84 445.63,310.77 446.2,310.48 446.77,312.23 447.33,311.42 447.9,311.55 448.47,311.29 449.03,309.58 449.6,307.17 450.17,309.16 450.73,310.77 451.3,309.05 451.85,309.32 452.39,310.75 452.94,309.26 453.49,311.27 454.03,310.4 454.58,312.2 455.13,311.06 455.67,311.98 456.22,312.75 456.77,311.82 457.31,311.53 457.86,313.62 458.41,313.14 458.95,313.45 459.5,313.47 460.08,313.51 460.66,313.01 461.24,313.43 461.82,314.5 462.4,314.91 462.99,312.24 463.57,314.2 464.15,314.39 464.73,315.19 465.31,314.32 465.89,316.59 466.47,315.01 467.05,316.65 467.63,317.33 468.21,315.6 468.8,317.68 469.38,317.2 469.96,316.25 470.54,318.2 471.12,317.62 471.7,316.87 472.34,317.81 472.98,318.4 473.62,316.81 474.25,317.39 474.89,317.22 475.53,316.9 476.17,316.85 476.81,316.43 477.45,315.9 478.08,317.16 478.72,317.11 479.36,316.09 480,317.04 480.59,316.82 481.18,317.76 481.77,316.56 482.36,318.22 482.94,317.18 483.53,317.72 484.12,318.29 484.71,315.34 485.3,318.48 485.89,317.54 486.48,318.75 487.07,317.87 487.66,319.07 488.24,318.86 488.83,320.47 489.42,319.05 490.01,319.41 490.6,319.17 491.13,319.21 491.66,321.61 492.19,320.11 492.72,320.19 493.25,321.78 493.78,321.67 494.31,321.16 494.84,321.74 495.37,323.79 495.9,323.33 496.43,322.6 496.96,323.48 497.49,323.32 498.02,324.19 498.55,325.67 499.08,325.06 499.61,326.37 500.14,326.23 500.67,325.96 501.2,326.3 501.8,327.14 502.41,326.08 503.01,325.66 503.61,326.5 504.21,326.89 504.82,326.06 505.42,327.29 506.02,325.08 506.63,325.84 507.23,326.08 507.83,326.92 508.43,326.56 509.04,326.74 509.64,326.01 510.24,325.52 510.85,326.05 511.45,327.41 512.05,325.7 512.65,325.94 513.26,325.3 513.86,325.13 514.46,326.97 515.07,325.25 515.67,326.44 516.27,326.87 516.87,325.22 517.48,323.69 518.08,325.11 518.68,326.87 519.29,325.92 519.89,324.15 520.49,326.46 521.09,326.31 521.7,325.26 522.3,326.06 522.9,325.56 523.51,325.47 524.11,325.4 524.72,326.45 525.32,325.99 525.93,326.3 526.53,325.1 527.14,325.99 527.74,325.77 528.35,326.6 528.95,324.83 529.56,325.18 530.16,325.22 530.77,324.87 531.37,325.35 531.98,323.92 532.58,325.5 533.19,325.63 533.79,325.42 534.4,325.28 535,324.95 535.57,325.29 536.15,325.71 536.72,321.8 537.29,323.66 537.87,324.03 538.44,323.62 539.01,324.68 539.58,323.71 540.16,323.42 540.73,323.47 541.3,323.81 541.88,323.58 542.45,321.37 543.02,322.36 543.6,323.24 544.17,322.41 544.74,322.32 545.32,321.72 545.89,320.29 546.46,320.96 547.03,320.09 547.61,321.09 548.18,321.31 548.75,321.02 549.33,316.27 549.9,318.33 550.49,320.81 551.08,319.86 551.68,318.24 552.27,319.49 552.86,318.41 553.45,319.69 554.04,318.1 554.64,318.86 555.23,318.79 555.82,318.02 556.41,317.63 557,318.25 557.6,318.34 558.19,316.45 558.78,316.44 559.37,318.39 559.96,317.11 560.56,315.87 561.15,317.14 561.74,315.76 562.33,315.49 562.92,317.26 563.52,315.36 564.11,315.46 564.7,316.05 565.3,315.96 565.91,314.81 566.51,316.53 567.11,314.21 567.72,314.88 568.32,315.67 568.93,314.36 569.53,313.05 570.13,315.23 570.74,315.73 571.34,314.42 571.94,313.78 572.55,315.09 573.15,312.61 573.75,313.53 574.36,311.08 574.96,315.15 575.56,313.94 576.17,314.53 576.77,315.19 577.38,314.1 577.98,313.79 578.58,314.28 579.19,314.59 579.79,312.26 580.39,313.12 581,313.23 581.6,312.16 581.88,313.28 582.16,312.72 582.44,311.7 582.72,310.81 583,311.83 583.28,310.3 583.56,308.58 583.84,308.96 584.12,309.44 584.4,308.29 584.68,306.51 584.96,306.8 585.24,306.72 585.52,305.53 585.8,303.66 585.98,304.29 586.16,302.84 586.33,302.85 586.51,302.61 586.69,301.89 586.87,301.22 587.04,300.25 587.22,300.59 587.4,298.6 587.58,300.28 587.76,299.15 587.93,299.13 588.11,298.51 588.29,296.85 588.47,295.91 588.64,294.8 588.82,294.13 589,295.59 589.18,294.34 589.36,294.08 589.53,291.69 589.71,291.81 589.89,292.1 590.07,291.08 590.24,289.49 590.42,289.06 590.6,287.78 590.78,288.85 590.96,288.04 591.13,287.43 591.31,286.53 591.49,287.22 591.67,285.48 591.84,286.1 592.02,284.08 592.2,284.28 592.32,283.96 592.43,281.82 592.55,281.18 592.66,281.9 592.78,281.02 592.89,279.96 593.01,279.03 593.12,278.68 593.24,279.22 593.35,278.19 593.47,277.85 593.58,276.2 593.7,277.03 593.81,276.35 593.93,274.63 594.04,272.19 594.16,274.71 594.27,273.36 594.39,272.61 594.5,272.16 594.62,272.11 594.73,269.76 594.85,270.25 594.97,268.37 595.08,269.89 595.2,269.24 595.31,268.61 595.43,267.68 595.54,266.65 595.66,265.59 595.77,264.9 595.89,265.41 596,263.3 596.12,264.62 596.23,263.13 596.35,261.33 596.46,262.11 596.58,262.31 596.69,261.54 596.81,259.11 596.92,258.24 597.04,258.32 597.15,258.85 597.27,256.47 597.38,256.72 597.5,255.22 597.61,255.44 597.72,252 597.82,255.48 597.93,254.1 598.04,253.81 598.15,252.47 598.25,252.22 598.36,252.17 598.47,250.23 598.58,251.51 598.68,250.25 598.79,249.64 598.9,249.23 599.01,246.84 599.12,248.64 599.22,247.23 599.33,247.26 599.44,245.66 599.55,245.52 599.65,243.42 599.76,244.34 599.87,244.25 599.98,241.83 600.08,242.37 600.19,242.33 600.3,240.13 600.41,241.33 600.52,239.13 600.62,239.61 600.73,238.5 600.84,237.57 600.95,237.38 601.05,236.53 601.16,235.63 601.27,234.73 601.38,233.02 601.48,231.76 601.59,233.26 601.7,234.22 601.99,233.53 602.28,231.79 602.57,231.47 602.86,230.62 603.15,231.34 603.45,229.06 603.74,229.03 604.03,228.44 604.32,227.67 604.61,226.38 604.9,227.32 605.35,226.67 605.8,225.86 606.25,225.63 606.7,225.18 607.15,225.4 607.6,224.36 608.05,223.79 608.5,224.19 608.95,223.18 609.4,221.71 609.85,221.44 610.3,222.06 610.75,217.25 611.2,220.45 611.74,218.9 612.28,220.06 612.81,219.17 613.35,219.38 613.89,219.57 614.42,218.74 614.96,217.82 615.5,216.57 615.96,217.37 616.42,218.02 616.88,219.59 617.34,219.86 617.8,220.3 L617.8,228.29 617.34,227.85 616.88,228.49 616.42,226.15 615.96,228.05 615.5,226.1 614.96,226.09 614.42,227.29 613.89,227.2 613.35,227.68 612.81,228.8 612.28,229.13 611.74,229.56 611.2,228.45 610.75,231.69 610.3,230.18 609.85,231.3 609.4,232.05 608.95,231.95 608.5,231.79 608.05,233.07 607.6,233.99 607.15,233.33 606.7,234.94 606.25,234.64 605.8,235.24 605.35,234.98 604.9,235.85 604.61,236.48 604.32,236.78 604.03,237.68 603.74,238.74 603.45,238.11 603.15,239.97 602.86,238.98 602.57,241.58 602.28,242.27 601.99,242.45 601.7,243.47 601.59,242.44 601.48,242.85 601.38,244.45 601.27,244.97 601.16,245.97 601.05,246.7 600.95,246.3 600.84,247.61 600.73,246.93 600.62,248.45 600.52,248.5 600.41,250.6 600.3,249.9 600.19,252.93 600.08,252.15 599.98,252.59 599.87,253.64 599.76,253.75 599.65,254.46 599.55,254.15 599.44,256.03 599.33,255.46 599.22,255.13 599.12,259.67 599.01,256.38 598.9,257.84 598.79,257.33 598.68,261.47 598.58,260.08 598.47,259.97 598.36,260.39 598.25,260.57 598.15,261.25 598.04,262.73 597.93,264.17 597.82,263.39 597.72,264.75 597.61,265.88 597.5,265.04 597.38,267.19 597.27,267.78 597.15,266.48 597.04,268.4 596.92,269.11 596.81,269.41 596.69,269.6 596.58,270.18 596.46,269.88 596.35,270.55 596.23,272.07 596.12,273.21 596,272.56 595.89,273.24 595.77,274.29 595.66,274.93 595.54,276.04 595.43,276.9 595.31,276.51 595.2,278.52 595.08,277.35 594.97,279.07 594.85,278.28 594.73,279.98 594.62,279.81 594.5,280.63 594.39,281.93 594.27,283.16 594.16,283.57 594.04,283.45 593.93,283.76 593.81,285.04 593.7,285.26 593.58,286.37 593.47,285.49 593.35,286.52 593.24,286.78 593.12,288.86 593.01,289 592.89,290.43 592.78,290.88 592.66,289.97 592.55,291.02 592.43,293.4 592.32,292.31 592.2,293.77 592.02,293.15 591.84,293.87 591.67,295.47 591.49,294.67 591.31,298.81 591.13,295.61 590.96,296.87 590.78,298.78 590.6,299.29 590.42,298.12 590.24,300.64 590.07,299.18 589.89,299.83 589.71,301.22 589.53,302.91 589.36,303.59 589.18,302.95 589,304.3 588.82,303.92 588.64,303.86 588.47,306.07 588.29,307.01 588.11,306.83 587.93,307.44 587.76,308.25 587.58,309.07 587.4,310.04 587.22,310.3 587.04,311.06 586.87,311.32 586.69,310.52 586.51,311.65 586.33,311.97 586.16,312.89 585.98,314.6 585.8,314.17 585.52,315.73 585.24,315.23 584.96,317.05 584.68,315.81 584.4,316.8 584.12,319.42 583.84,319.21 583.56,317.97 583.28,318.75 583,319.26 582.72,319.93 582.44,321.35 582.16,324.56 581.88,322.8 581.6,322.96 581,322.77 580.39,323.82 579.79,323.22 579.19,324.13 578.58,324.29 577.98,322.07 577.38,324.44 576.77,322.54 576.17,324.65 575.56,323.39 574.96,322.94 574.36,323.27 573.75,323.94 573.15,322.76 572.55,323.85 571.94,324.68 571.34,323.51 570.74,325.03 570.13,325.37 569.53,325.09 568.93,323.88 568.32,325.6 567.72,325.48 567.11,325.09 566.51,324.43 565.91,323.82 565.3,324.49 564.7,324.82 564.11,326.02 563.52,324.12 562.92,325.27 562.33,325.31 561.74,326.48 561.15,326.34 560.56,325.46 559.96,326.88 559.37,326.9 558.78,326.5 558.19,326.28 557.6,326.36 557,326.08 556.41,327.07 555.82,326.81 555.23,328.73 554.64,327.19 554.04,327.85 553.45,327.03 552.86,327.46 552.27,329.62 551.68,331.32 551.08,329.5 550.49,328.8 549.9,328.67 549.33,328.27 548.75,328.71 548.18,328.53 547.61,330.64 547.03,330.62 546.46,330.9 545.89,331.6 545.32,330.61 544.74,329.81 544.17,331.55 543.6,331.36 543.02,330.64 542.45,331.31 541.88,331.7 541.3,331.7 540.73,333.16 540.16,333.02 539.58,333.2 539.01,331.9 538.44,333.7 537.87,332.66 537.29,334.33 536.72,333.7 536.15,333.11 535.57,335.03 535,334.13 534.4,333.64 533.79,335.58 533.19,335.45 532.58,335.55 531.98,334.56 531.37,335.36 530.77,337.96 530.16,333.68 529.56,334.65 528.95,335.48 528.35,336.04 527.74,334.17 527.14,335.63 526.53,335.1 525.93,336.19 525.32,336.06 524.72,335.72 524.11,338.86 523.51,334.61 522.9,335.83 522.3,334.87 521.7,334.76 521.09,335.16 520.49,334.8 519.89,334.33 519.29,335.43 518.68,336.14 518.08,334.36 517.48,334.52 516.87,336.31 516.27,335.02 515.67,335.07 515.07,336.04 514.46,335.56 513.86,334.49 513.26,335.5 512.65,334.31 512.05,334.48 511.45,335.07 510.85,334.95 510.24,335.18 509.64,334.83 509.04,336.57 508.43,335.71 507.83,335.28 507.23,336.62 506.63,334.78 506.02,336.33 505.42,336.36 504.82,334.95 504.21,335.1 503.61,335.48 503.01,334.81 502.41,336.6 501.8,334.8 501.2,334.9 500.67,336.27 500.14,335.58 499.61,334.91 499.08,334.06 498.55,333.92 498.02,333.91 497.49,332.09 496.96,332.54 496.43,331.96 495.9,332.81 495.37,332.16 494.84,330.92 494.31,330.96 493.78,331.07 493.25,331.63 492.72,329.38 492.19,330.88 491.66,329.67 491.13,328.94 490.6,329.05 490.01,330.01 489.42,328.73 488.83,329.76 488.24,327.29 487.66,327.04 487.07,328.17 486.48,327.58 485.89,328.04 485.3,327.69 484.71,326.21 484.12,327.94 483.53,328.11 482.94,328.05 482.36,327.5 481.77,325.93 481.18,325.19 480.59,325.86 480,327.05 479.36,327.15 478.72,325.15 478.08,325.13 477.45,326.76 476.81,326.81 476.17,325.7 475.53,326.42 474.89,325.77 474.25,327.34 473.62,326.82 472.98,327.06 472.34,325.57 471.7,325.91 471.12,327.26 470.54,325.39 469.96,325.72 469.38,326.57 468.8,325.24 468.21,326.65 467.63,324.73 467.05,325.2 466.47,325.72 465.89,326.74 465.31,325.69 464.73,324.46 464.15,324.1 463.57,323.71 462.99,324.27 462.4,323.27 461.82,322.68 461.24,322.95 460.66,323.3 460.08,323.76 459.5,322.97 458.95,321.96 458.41,321.82 457.86,323.64 457.31,321.11 456.77,322.25 456.22,320.19 455.67,319.96 455.13,319.53 454.58,319.53 454.03,321.36 453.49,319.13 452.94,319.71 452.39,318.69 451.85,320.03 451.3,319.17 450.73,319.87 450.17,319.25 449.6,320.14 449.03,318.46 448.47,320.35 447.9,318.8 447.33,320.16 446.77,320.29 446.2,319.5 445.63,322 445.07,320.81 444.5,321.81 443.93,322.24 443.37,321.33 442.8,322.45 442.23,321.19 441.67,321.8 441.1,323.75 440.62,322.86 440.14,322.55 439.65,323.15 439.17,324.97 438.69,325.63 438.21,323.68 437.72,325.67 437.24,324.9 436.76,325.79 436.28,325.64 435.79,326.58 435.31,327.38 434.83,328.14 434.35,328.43 433.86,328.11 433.38,328.15 432.9,328.15 432.41,328.83 431.93,329.27 431.44,329.31 430.96,330.3 430.47,331.8 429.99,331.09 429.5,331.26 429.01,331.25 428.53,333.18 428.04,333.5 427.56,331.92 427.07,332.38 426.59,333.58 426.1,334.56 425.61,335.6 425.13,333.96 424.64,334.34 424.16,335.48 423.67,336.57 423.19,335.59 422.7,336.07 422.13,338.58 421.56,337.84 420.98,339.36 420.41,337.06 419.84,337.85 419.27,337.52 418.69,338.95 418.12,339.21 417.55,339.32 416.98,338.88 416.41,338.33 415.83,340.74 415.26,341.03 414.69,340.93 414.12,339.4 413.54,341.26 412.97,341.58 412.4,341.21 411.86,341.87 411.32,340.88 410.78,341.54 410.24,341.38 409.7,342.06 409.16,341.86 408.62,343.95 408.08,344.09 407.54,343.71 407,342.93 406.46,343.6 405.92,343.88 405.38,345.61 404.84,345.25 404.3,344.8 403.96,344.9 403.62,343.19 403.27,344.32 402.93,342.92 402.59,341.59 402.25,342.92 401.91,340.56 401.57,341.05 401.23,341.33 400.88,340.63 400.54,338.34 400.2,337.98 400.11,337.98 400.03,337.47 399.94,336.67 399.86,339.96 399.77,336.45 399.69,334.82 399.6,335.51 399.52,335.23 399.43,334.73 399.35,333.8 399.26,331.43 399.18,333.02 399.09,332.14 399,330.02 398.92,330.22 398.83,328.54 398.75,328.71 398.66,329.06 398.58,328.32 398.49,327.45 398.41,327.46 398.32,325.57 398.24,324.23 398.15,324.95 398.06,325.14 397.98,322.99 397.89,323.31 397.81,323.28 397.72,321.1 397.64,320.93 397.55,324.11 397.47,320.84 397.38,319.03 397.3,318.89 397.21,318.05 397.12,317.71 397.04,317.49 396.95,316.23 396.87,315.63 396.78,314.08 396.7,314.65 396.61,313.24 396.53,314.32 396.44,312.83 396.36,313.16 396.27,312.22 396.19,311.68 396.1,309.67 396,310.22 395.9,308.07 395.8,309.32 395.7,307.75 395.6,306.43 395.5,307.59 395.4,307.03 395.3,306.5 395.2,305.56 395.1,304.37 395,303.13 394.9,304.39 394.8,302.2 394.7,301.16 394.6,300.52 394.5,302.47 394.4,299.6 394.3,302.78 394.2,297.89 394.1,297.8 394,297.57 393.9,297.24 393.8,297.16 393.7,296.32 393.6,295.62 393.5,294.61 393.4,295.17 393.3,293.35 393.2,292.48 393.1,293.48 393,293.51 392.9,291.13 392.8,291.27 392.7,289.78 392.6,289.33 392.5,288.01 392.4,289.33 392.3,288.78 392.2,286.22 392.1,286.03 392,285.55 391.89,286.49 391.78,285.4 391.67,284.28 391.56,282.43 391.45,283.32 391.34,282.84 391.22,282.72 391.11,280.5 391,280.75 390.89,279.03 390.78,278.26 390.67,278 390.56,278.39 390.45,276.69 390.34,276.99 390.23,276.42 390.12,275.48 390.01,274.71 389.89,275.43 389.78,275.01 389.67,274.11 389.56,271.62 389.45,272.56 389.34,271.83 389.23,271.79 389.12,270.23 389.01,270.05 388.9,268.25 388.79,269.26 388.68,268.03 388.56,267.93 388.45,267.07 388.34,266.69 388.23,265.78 388.12,265.34 388.01,265.24 387.9,263.68 387.72,262.54 387.55,261.32 387.37,261.19 387.19,261.13 387.02,259.9 386.84,259.63 386.66,259.84 386.49,259.06 386.31,258.93 386.14,257.45 385.96,257.43 385.78,255.76 385.61,258.47 385.43,256.05 385.25,255.53 385.08,253.87 384.9,253.15 384.42,254.42 383.94,252.88 383.46,251.5 382.98,253.26 382.5,251.65 382.02,251.42 381.54,251.27 381.06,251.76 380.58,250.61 380.1,250.39 379.62,250.18 379.14,250.05 378.66,251.82 378.18,249.28 377.7,247.77 377.19,248.17 376.68,248.85 376.16,248.12 375.65,249.92 375.14,250.86 374.62,251.04 374.11,250.99 373.6,253.9 373.09,250.43 372.57,251.54 372.06,252.39 371.55,252.57 371.04,251.82 370.52,253.7 370.01,253.93 369.5,254.75 369.07,254.68 368.64,253.51 368.21,254.42 367.77,255.95 367.34,256.18 366.91,255.86 366.48,257.21 366.05,256 365.62,259.59 365.18,258.56 364.75,258.96 364.32,259.68 363.89,259.52 363.46,260.25 363.03,259.01 362.59,260.12 362.16,261.25 361.73,260.64 361.3,261.37 360.82,261.84 360.35,264.22 359.87,260.2 359.39,260.46 358.92,259.51 358.44,260 357.96,259.81 357.49,260.02 357.01,259.52 356.54,257.21 356.06,258.19 355.58,258.14 355.11,258.11 354.63,257.75 354.15,256.96 353.68,255.54 353.2,255.13 352.79,253.95 352.38,254.91 351.97,253.26 351.56,253.72 351.15,253.92 350.74,251.93 350.33,251.71 349.92,251.11 349.51,251.63 349.1,250.75 348.69,250.18 348.28,250.62 347.87,250.44 347.46,248.93 347.05,250 346.64,248.64 346.23,247.59 345.82,246.76 345.41,246.29 345,248.41 344.74,246.84 344.48,245.84 344.21,244.14 343.95,244.26 343.69,243.76 343.43,243.97 343.16,242.49 342.9,244.63 342.64,242.53 342.38,241.09 342.11,240 341.85,240.09 341.59,240.65 341.32,239.91 341.06,237.78 340.8,238.28 340.21,237.56 339.63,237.93 339.04,237.9 338.46,237.88 337.87,238.81 337.29,240.44 336.7,240.75 336.24,239.02 335.79,238.66 335.33,238.4 334.88,239.07 334.42,236.78 333.97,238.31 333.51,235.99 333.06,236.44 332.6,236.66 332.16,236.03 331.73,234.82 331.29,233.32 330.86,234.67 330.42,232.8 329.99,233.98 329.55,233.74 329.11,233.08 328.68,231.93 328.24,232.34 327.81,230.87 327.37,230.27 326.94,230.94 326.5,229.64 325.91,229.6 325.33,230.12 324.74,229.65 324.16,229.77 323.57,227.41 322.99,229.13 322.4,227.04 321.81,228.53 321.23,228.04 320.64,228.19 320.06,227.69 319.47,226.27 318.89,225.63 318.3,226.3 317.69,225.35 317.08,226.99 316.47,225.67 315.86,225.06 315.25,226.66 314.64,225.12 314.03,226.46 313.42,224.93 312.81,225.4 312.2,225.59 311.59,223.76 310.98,223.94 310.37,225.03 309.76,223.77 309.15,225.42 308.54,225.32 307.93,223.47 307.32,224.09 306.71,223.86 306.1,224.12 305.5,224.86 304.9,224.19 304.3,224.07 303.7,223.43 303.1,224.78 302.5,222.97 301.9,223.99 301.3,224.05 300.7,223.45 300.1,223.78 299.5,225.65 298.9,223.62 298.3,225.16 297.7,225.62 297.1,223.71 296.5,224.58 295.9,223.96 295.3,224.47 294.7,224.82 294.1,226.07 293.5,224.68 292.9,226.2 292.3,224.72 291.7,226.3 291.08,228.07 290.46,225.79 289.85,225.82 289.23,226.25 288.61,224.59 287.99,226.35 287.37,225.41 286.75,224.43 286.14,226.23 285.52,225.32 284.9,226.64 284.28,225.89 283.66,226.3 283.05,225.98 282.43,226.76 281.81,225.81 281.19,224.91 280.57,224.87 279.95,226.75 279.34,225.45 278.72,226.57 278.1,225.78 277.48,224.9 276.86,226.4 276.25,226.49 275.63,225.54 275.01,225.96 274.39,225.87 273.77,226.2 273.15,226.63 272.54,225.43 271.92,227.47 271.3,226.19 270.7,224.7 270.1,225.88 269.5,226.61 268.9,224.76 268.3,225 267.7,224.95 267.1,226.11 266.5,224.63 265.9,226.66 265.3,225.22 264.7,225.8 264.1,226.3 263.5,226.01 262.9,225.76 262.3,224.83 261.7,224.72 261.1,225.46 260.5,225.12 259.9,225.58 259.3,225.84 258.7,226.67 258.1,224.64 257.5,225.37 256.9,224.58 256.3,225.21 255.7,225.34 255.1,224.96 254.5,226.15 253.9,225.47 253.3,224.92 252.7,226.08 252.1,226.09 251.5,224.49 250.9,226.39 250.35,226.81 249.81,226.57 249.26,226.3 248.71,225.62 248.17,227.78 247.62,227.95 247.07,228.67 246.53,227.67 245.98,227.74 245.43,228.37 244.89,227.82 244.34,228.73 243.79,228.76 243.25,228.5 242.7,230.59 242.13,228.89 241.57,229.04 241,228.62 240.44,228.35 239.87,230.42 239.31,229.56 238.74,227.2 238.18,228.83 237.61,227.95 237.04,227.2 236.48,226.72 235.91,226.65 235.35,228.04 234.78,226.62 234.22,225.86 233.65,227.19 233.09,225.22 232.52,227.06 231.96,224.97 231.39,225.24 230.82,224.99 230.26,225.62 229.69,224.21 229.13,224.32 228.56,226.41 228,224.23 227.43,223.4 226.87,222.75 226.3,224.7 225.74,223.22 225.17,223.54 224.61,223.95 224.04,225.44 223.48,225.69 222.91,224.85 222.34,224.04 221.78,227.06 221.22,224.97 220.65,224.57 220.09,225.79 219.52,225.45 218.96,227.46 218.39,225.57 217.82,227.7 217.26,225.83 216.69,227.65 216.13,226.73 215.56,226.36 215,227.81 214.39,227.36 213.77,227.31 213.16,227.15 212.55,226.18 211.93,225.88 211.32,227.34 210.71,226.61 210.09,225.4 209.48,225.57 208.87,226.41 208.25,226.73 207.64,227.03 207.03,228.43 206.41,226.36 205.8,225.33 205.37,226.76 204.94,227.05 204.51,226.34 204.07,226.91 203.64,228.36 203.21,228.75 202.78,227.9 202.35,230.16 201.92,230.56 201.48,229.38 201.05,231.23 200.62,229.98 200.19,230.14 199.76,230.91 199.33,231.64 198.89,232.66 198.46,232.89 198.03,232.87 197.6,233.9 197.01,234.15 196.43,235.02 195.84,235.34 195.26,234.75 194.67,234.52 194.09,236.32 193.5,234.68 192.91,235.76 192.33,235.65 191.74,235.76 191.16,236.65 190.57,236.61 189.99,236.3 189.4,236.13 188.83,239.63 188.25,238.47 187.68,238.51 187.1,236.92 186.53,240.17 185.95,237.68 185.38,239.17 184.8,238.79 184.22,239.45 183.65,238.95 183.07,240.73 182.5,239.35 181.92,240.28 181.35,242.56 180.77,240.17 180.2,240.28 179.63,239.45 179.05,239.19 178.48,240.14 177.9,239.13 177.33,239.45 176.76,239.62 176.18,238.75 175.61,237.47 175.03,237.62 174.46,238.48 173.89,237.46 173.31,237.6 172.74,237.26 172.17,236.35 171.59,236.19 171.02,238.22 170.44,236.76 169.87,236.31 169.3,235.96 168.72,237.2 168.15,235.82 167.57,235.55 167,235.9 166.46,235.92 165.92,233.99 165.37,235.98 164.83,233.72 164.29,235.03 163.75,234.67 163.21,233.47 162.66,232.86 162.12,232.87 161.58,233.74 161.04,231.25 160.49,231.1 159.95,231.36 159.41,232.41 158.87,230.24 158.33,233.42 157.78,231.32 157.24,228.93 156.7,229.14 156.1,230.28 155.5,229.4 154.9,228.14 154.3,228.45 153.7,229.87 153.1,228.33 152.5,228.77 151.9,227.93 151.3,228.56 150.7,228.06 150.1,228.48 149.5,227.07 148.9,228.06 148.3,227.26 147.7,226.17 147.1,227.54 146.5,227.57 145.9,228.43 145.3,227.66 144.7,227.89 144.1,227.16 143.5,228.24 142.9,227.8 142.3,227.12 141.7,229.21 141.1,227.44 140.5,227.25 139.9,229.34 139.3,229.63 138.7,228.88 138.1,230.06 137.5,229.97 136.9,229.04 136.3,230.28 135.83,229.88 135.35,228.39 134.88,229.52 134.41,227.85 133.93,228.63 133.46,228.3 132.99,227.4 132.51,225.45 132.04,225.68 131.57,225.45 131.09,225.19 130.62,224.73 130.15,224.64 129.67,224.25 129.2,223.94 128.69,223.88 128.17,225.45 127.66,223.68 127.14,225.75 126.63,225.57 126.11,224.61 125.6,225.07 125.09,225.58 124.57,226.64 124.06,227.8 123.54,228.52 123.03,227 122.51,227.19 122,228.43 121.68,227.39 121.35,227.02 121.03,227.29 120.71,225.86 120.39,225.87 120.06,224.63 119.74,226.16 119.42,225.73 119.1,223.01 118.77,222.37 118.45,222.07 118.13,221.97 117.8,221.94 117.48,220.43 117.16,220.19 116.84,221.6 116.51,220.46 116.19,219.43 115.87,219.83 115.55,218.33 115.22,216.72 114.9,217.09 114.72,216.03 114.54,215.73 114.35,216.08 114.17,213.99 113.99,215.02 113.81,214.54 113.62,214.22 113.44,213.07 113.26,212.09 113.08,211.7 112.89,211.9 112.71,210.2 112.53,209.51 112.35,209.65 112.16,208.36 111.98,208.94 111.8,206.92 111.59,206.69 111.38,208.6 111.17,208.21 110.96,210.26 110.75,210.85 110.54,210.37 110.33,212.19 110.12,211.81 109.91,211.68 109.7,213.06 109.61,214.52 109.52,214.5 109.43,215.74 109.34,214.9 109.25,216.73 109.15,217.44 109.06,216.69 108.97,218.83 108.88,219.24 108.79,219.12 108.7,220.95 108.61,219.71 108.52,221.43 108.43,221.44 108.34,222.09 108.25,222.04 108.15,224.51 108.06,224.73 107.97,224.22 107.88,225.97 107.79,227.15 107.7,227.18 107.61,228.06 107.52,229.03 107.43,228.12 107.34,227.91 107.25,230.51 107.15,231.35 107.06,231.07 106.97,231.99 106.88,232.67 106.79,233.02 106.7,233.89 106.61,233.67 106.52,234.28 106.43,234.83 106.34,234.92 106.25,235.86 106.15,235.94 106.06,238.21 105.97,238.51 105.88,237.93 105.79,238.2 105.7,240.13 105.51,241.18 105.31,240.15 105.12,242.58 104.92,242.02 104.73,242.86 104.54,243.16 104.34,243.76 104.15,245.18 103.96,244.07 103.76,244.75 103.57,246.43 103.38,246.36 103.18,248.51 102.99,246.88 102.79,248.34 102.6,248.02 102.41,252.55 102.21,251.01 102.02,251.5 101.83,251.02 101.63,252.03 101.44,253.14 101.24,254.08 101.05,252.61 100.86,253.24 100.66,254.9 100.47,254.76 100.28,257.17 100.08,260.35 99.89,256.78 99.69,256.84 99.5,259.04 99.14,259.52 98.78,258.6 98.42,259.36 98.06,261.03 97.71,261.19 97.35,261.92 96.99,261.84 96.63,261.68 96.27,262.31 95.91,262.53 95.55,264.18 95.19,264.01 94.84,264.85 94.48,265.17 94.12,264.91 93.76,267.08 93.4,266.85 92.8,267.49 92.2,265.49 91.6,265.9 91,266.21 90.4,267.62 89.8,269.97 89.2,266.58 88.6,267.68 88,267.67 87.4,267.89 86.8,267.37 86.2,267.44 85.6,266.68 85,267.39 84.4,266.25 83.8,267.03 83.2,267.72 82.6,268.13 82,267.91 81.4,267.39 80.8,267.71 80.2,268.61 79.6,266.42 79,267.61Z" fill="#a8407c"/>
<path d="M79,262.9 79.6,262.86 80.2,262.82 80.8,262.77 81.4,262.73 82,262.69 82.6,262.65 83.2,262.61 83.8,262.57 84.4,262.52 85,262.48 85.6,262.44 86.2,262.4 86.8,262.36 87.4,262.32 88,262.27 88.6,262.23 89.2,262.19 89.8,262.15 90.4,262.11 91,262.07 91.6,262.02 92.2,261.98 92.8,261.94 93.4,261.9 93.76,261.42 94.12,260.94 94.48,260.45 94.84,259.97 95.19,259.49 95.55,259.01 95.91,258.52 96.27,258.04 96.63,257.56 96.99,257.08 97.35,256.59 97.71,256.11 98.06,255.63 98.42,255.15 98.78,254.66 99.14,254.18 99.5,253.7 99.69,253.12 99.89,252.55 100.08,251.97 100.28,251.4 100.47,250.82 100.66,250.25 100.86,249.67 101.05,249.1 101.24,248.53 101.44,247.95 101.63,247.38 101.83,246.8 102.02,246.22 102.21,245.65 102.41,245.07 102.6,244.5 102.79,243.93 102.99,243.35 103.18,242.78 103.38,242.2 103.57,241.62 103.76,241.05 103.96,240.47 104.15,239.9 104.34,239.33 104.54,238.75 104.73,238.18 104.92,237.6 105.12,237.03 105.31,236.45 105.51,235.88 105.7,235.3 105.79,234.7 105.88,234.1 105.97,233.49 106.06,232.89 106.15,232.29 106.25,231.69 106.34,231.08 106.43,230.48 106.52,229.88 106.61,229.28 106.7,228.68 106.79,228.07 106.88,227.47 106.97,226.87 107.06,226.27 107.15,225.66 107.25,225.06 107.34,224.46 107.43,223.86 107.52,223.25 107.61,222.65 107.7,222.05 107.79,221.45 107.88,220.85 107.97,220.24 108.06,219.64 108.15,219.04 108.25,218.44 108.34,217.83 108.43,217.23 108.52,216.63 108.61,216.03 108.7,215.43 108.79,214.82 108.88,214.22 108.97,213.62 109.06,213.02 109.15,212.41 109.25,211.81 109.34,211.21 109.43,210.61 109.52,210 109.61,209.4 109.7,208.8 109.91,208.18 110.12,207.56 110.33,206.94 110.54,206.32 110.75,205.7 110.96,205.08 111.17,204.46 111.38,203.84 111.59,203.22 111.8,202.6 111.98,203.2 112.16,203.8 112.35,204.4 112.53,205 112.71,205.6 112.89,206.2 113.08,206.8 113.26,207.4 113.44,208 113.62,208.6 113.81,209.2 113.99,209.8 114.17,210.4 114.35,211 114.54,211.6 114.72,212.2 114.9,212.8 115.22,213.31 115.55,213.83 115.87,214.34 116.19,214.85 116.51,215.37 116.84,215.88 117.16,216.4 117.48,216.91 117.8,217.42 118.13,217.94 118.45,218.45 118.77,218.96 119.1,219.48 119.42,219.99 119.74,220.5 120.06,221.02 120.39,221.53 120.71,222.05 121.03,222.56 121.35,223.07 121.68,223.59 122,224.1 122.51,223.74 123.03,223.37 123.54,223.01 124.06,222.64 124.57,222.28 125.09,221.91 125.6,221.55 126.11,221.19 126.63,220.82 127.14,220.46 127.66,220.09 128.17,219.73 128.69,219.36 129.2,219 129.67,219.41 130.15,219.81 130.62,220.22 131.09,220.63 131.57,221.03 132.04,221.44 132.51,221.85 132.99,222.25 133.46,222.66 133.93,223.07 134.41,223.47 134.88,223.88 135.35,224.29 135.83,224.69 136.3,225.1 136.9,224.92 137.5,224.74 138.1,224.55 138.7,224.37 139.3,224.19 139.9,224.01 140.5,223.82 141.1,223.64 141.7,223.46 142.3,223.28 142.9,223.09 143.5,222.91 144.1,222.73 144.7,222.55 145.3,222.36 145.9,222.18 146.5,222 147.1,222.18 147.7,222.36 148.3,222.55 148.9,222.73 149.5,222.91 150.1,223.09 150.7,223.28 151.3,223.46 151.9,223.64 152.5,223.82 153.1,224.01 153.7,224.19 154.3,224.37 154.9,224.55 155.5,224.74 156.1,224.92 156.7,225.1 157.24,225.42 157.78,225.74 158.33,226.06 158.87,226.38 159.41,226.71 159.95,227.03 160.49,227.35 161.04,227.67 161.58,227.99 162.12,228.31 162.66,228.63 163.21,228.95 163.75,229.27 164.29,229.59 164.83,229.92 165.37,230.24 165.92,230.56 166.46,230.88 167,231.2 167.57,231.38 168.15,231.56 168.72,231.73 169.3,231.91 169.87,232.09 170.44,232.27 171.02,232.45 171.59,232.63 172.17,232.8 172.74,232.98 173.31,233.16 173.89,233.34 174.46,233.52 175.03,233.7 175.61,233.87 176.18,234.05 176.76,234.23 177.33,234.41 177.9,234.59 178.48,234.77 179.05,234.94 179.63,235.12 180.2,235.3 180.77,235.11 181.35,234.93 181.92,234.74 182.5,234.55 183.07,234.36 183.65,234.18 184.22,233.99 184.8,233.8 185.38,233.61 185.95,233.43 186.53,233.24 187.1,233.05 187.68,232.86 188.25,232.68 188.83,232.49 189.4,232.3 189.99,232.08 190.57,231.86 191.16,231.64 191.74,231.41 192.33,231.19 192.91,230.97 193.5,230.75 194.09,230.53 194.67,230.31 195.26,230.09 195.84,229.86 196.43,229.64 197.01,229.42 197.6,229.2 198.03,228.77 198.46,228.34 198.89,227.91 199.33,227.47 199.76,227.04 200.19,226.61 200.62,226.18 201.05,225.75 201.48,225.32 201.92,224.88 202.35,224.45 202.78,224.02 203.21,223.59 203.64,223.16 204.07,222.73 204.51,222.29 204.94,221.86 205.37,221.43 205.8,221 206.41,221.14 207.03,221.28 207.64,221.42 208.25,221.56 208.87,221.7 209.48,221.84 210.09,221.98 210.71,222.12 211.32,222.26 211.93,222.4 212.55,222.54 213.16,222.68 213.77,222.82 214.39,222.96 215,223.1 215.56,222.89 216.13,222.69 216.69,222.48 217.26,222.28 217.82,222.07 218.39,221.87 218.96,221.66 219.52,221.46 220.09,221.25 220.65,221.05 221.22,220.84 221.78,220.64 222.34,220.44 222.91,220.23 223.48,220.03 224.04,219.82 224.61,219.62 225.17,219.41 225.74,219.21 226.3,219 226.87,219.21 227.43,219.42 228,219.63 228.56,219.84 229.13,220.05 229.69,220.26 230.26,220.47 230.82,220.68 231.39,220.89 231.96,221.1 232.52,221.31 233.09,221.52 233.65,221.73 234.22,221.94 234.78,222.16 235.35,222.37 235.91,222.58 236.48,222.79 237.04,223 237.61,223.21 238.18,223.42 238.74,223.63 239.31,223.84 239.87,224.05 240.44,224.26 241,224.47 241.57,224.68 242.13,224.89 242.7,225.1 243.25,224.83 243.79,224.55 244.34,224.28 244.89,224.01 245.43,223.73 245.98,223.46 246.53,223.19 247.07,222.91 247.62,222.64 248.17,222.37 248.71,222.09 249.26,221.82 249.81,221.55 250.35,221.27 250.9,221 251.5,221 252.1,221 252.7,221 253.3,221 253.9,221 254.5,221 255.1,221 255.7,221 256.3,221 256.9,221 257.5,221 258.1,221 258.7,221 259.3,221 259.9,221 260.5,221 261.1,221 261.7,221 262.3,221 262.9,221 263.5,221 264.1,221 264.7,221 265.3,221 265.9,221 266.5,221 267.1,221 267.7,221 268.3,221 268.9,221 269.5,221 270.1,221 270.7,221 271.3,221 271.92,221 272.54,221 273.15,221 273.77,221 274.39,221 275.01,221 275.63,221 276.25,221 276.86,221 277.48,221 278.1,221 278.72,221 279.34,221 279.95,221 280.57,221 281.19,221 281.81,221 282.43,221 283.05,221 283.66,221 284.28,221 284.9,221 285.52,221 286.14,221 286.75,221 287.37,221 287.99,221 288.61,221 289.23,221 289.85,221 290.46,221 291.08,221 291.7,221 292.3,220.92 292.9,220.83 293.5,220.75 294.1,220.67 294.7,220.58 295.3,220.5 295.9,220.42 296.5,220.33 297.1,220.25 297.7,220.17 298.3,220.08 298.9,220 299.5,219.92 300.1,219.83 300.7,219.75 301.3,219.67 301.9,219.58 302.5,219.5 303.1,219.42 303.7,219.33 304.3,219.25 304.9,219.17 305.5,219.08 306.1,219 306.71,219.15 307.32,219.3 307.93,219.45 308.54,219.6 309.15,219.75 309.76,219.9 310.37,220.05 310.98,220.2 311.59,220.35 312.2,220.5 312.81,220.65 313.42,220.8 314.03,220.95 314.64,221.1 315.25,221.25 315.86,221.4 316.47,221.55 317.08,221.7 317.69,221.85 318.3,222 318.89,222.22 319.47,222.44 320.06,222.66 320.64,222.89 321.23,223.11 321.81,223.33 322.4,223.55 322.99,223.77 323.57,223.99 324.16,224.21 324.74,224.44 325.33,224.66 325.91,224.88 326.5,225.1 326.94,225.54 327.37,225.97 327.81,226.41 328.24,226.84 328.68,227.28 329.11,227.71 329.55,228.15 329.99,228.59 330.42,229.02 330.86,229.46 331.29,229.89 331.73,230.33 332.16,230.76 332.6,231.2 333.06,231.66 333.51,232.11 333.97,232.57 334.42,233.02 334.88,233.48 335.33,233.93 335.79,234.39 336.24,234.84 336.7,235.3 337.29,235.01 337.87,234.73 338.46,234.44 339.04,234.16 339.63,233.87 340.21,233.59 340.8,233.3 341.06,233.84 341.32,234.39 341.59,234.93 341.85,235.48 342.11,236.02 342.38,236.56 342.64,237.11 342.9,237.65 343.16,238.19 343.43,238.74 343.69,239.28 343.95,239.82 344.21,240.37 344.48,240.91 344.74,241.46 345,242 345.41,242.45 345.82,242.9 346.23,243.35 346.64,243.8 347.05,244.25 347.46,244.7 347.87,245.15 348.28,245.6 348.69,246.05 349.1,246.5 349.51,246.95 349.92,247.4 350.33,247.85 350.74,248.3 351.15,248.75 351.56,249.2 351.97,249.65 352.38,250.1 352.79,250.55 353.2,251 353.68,251.37 354.15,251.74 354.63,252.11 355.11,252.48 355.58,252.85 356.06,253.22 356.54,253.59 357.01,253.96 357.49,254.34 357.96,254.71 358.44,255.08 358.92,255.45 359.39,255.82 359.87,256.19 360.35,256.56 360.82,256.93 361.3,257.3 361.73,256.86 362.16,256.43 362.59,255.99 363.03,255.55 363.46,255.12 363.89,254.68 364.32,254.24 364.75,253.81 365.18,253.37 365.62,252.93 366.05,252.49 366.48,252.06 366.91,251.62 367.34,251.18 367.77,250.75 368.21,250.31 368.64,249.87 369.07,249.44 369.5,249 370.01,248.66 370.52,248.31 371.04,247.97 371.55,247.62 372.06,247.28 372.57,246.94 373.09,246.59 373.6,246.25 374.11,245.91 374.62,245.56 375.14,245.22 375.65,244.88 376.16,244.53 376.68,244.19 377.19,243.84 377.7,243.5 378.18,243.87 378.66,244.23 379.14,244.6 379.62,244.97 380.1,245.33 380.58,245.7 381.06,246.07 381.54,246.43 382.02,246.8 382.5,247.17 382.98,247.53 383.46,247.9 383.94,248.27 384.42,248.63 384.9,249 385.08,249.59 385.25,250.18 385.43,250.76 385.61,251.35 385.78,251.94 385.96,252.53 386.14,253.12 386.31,253.71 386.49,254.29 386.66,254.88 386.84,255.47 387.02,256.06 387.19,256.65 387.37,257.24 387.55,257.82 387.72,258.41 387.9,259 388.01,259.6 388.12,260.21 388.23,260.81 388.34,261.41 388.45,262.01 388.56,262.62 388.68,263.22 388.79,263.82 388.9,264.42 389.01,265.03 389.12,265.63 389.23,266.23 389.34,266.84 389.45,267.44 389.56,268.04 389.67,268.64 389.78,269.25 389.89,269.85 390.01,270.45 390.12,271.05 390.23,271.66 390.34,272.26 390.45,272.86 390.56,273.46 390.67,274.07 390.78,274.67 390.89,275.27 391,275.88 391.11,276.48 391.22,277.08 391.34,277.68 391.45,278.29 391.56,278.89 391.67,279.49 391.78,280.09 391.89,280.7 392,281.3 392.1,281.9 392.2,282.5 392.3,283.09 392.4,283.69 392.5,284.29 392.6,284.89 392.7,285.48 392.8,286.08 392.9,286.68 393,287.28 393.1,287.87 393.2,288.47 393.3,289.07 393.4,289.67 393.5,290.26 393.6,290.86 393.7,291.46 393.8,292.06 393.9,292.65 394,293.25 394.1,293.85 394.2,294.45 394.3,295.04 394.4,295.64 394.5,296.24 394.6,296.84 394.7,297.43 394.8,298.03 394.9,298.63 395,299.23 395.1,299.82 395.2,300.42 395.3,301.02 395.4,301.62 395.5,302.21 395.6,302.81 395.7,303.41 395.8,304.01 395.9,304.6 396,305.2 396.1,305.8 396.19,306.4 396.27,306.99 396.36,307.59 396.44,308.18 396.53,308.78 396.61,309.38 396.7,309.97 396.78,310.57 396.87,311.16 396.95,311.76 397.04,312.35 397.12,312.95 397.21,313.55 397.3,314.14 397.38,314.74 397.47,315.33 397.55,315.93 397.64,316.52 397.72,317.12 397.81,317.72 397.89,318.31 397.98,318.91 398.06,319.5 398.15,320.1 398.24,320.7 398.32,321.29 398.41,321.89 398.49,322.48 398.58,323.08 398.66,323.68 398.75,324.27 398.83,324.87 398.92,325.46 399,326.06 399.09,326.65 399.18,327.25 399.26,327.85 399.35,328.44 399.43,329.04 399.52,329.63 399.6,330.23 399.69,330.82 399.77,331.42 399.86,332.02 399.94,332.61 400.03,333.21 400.11,333.8 400.2,334.4 400.54,334.92 400.88,335.43 401.23,335.95 401.57,336.47 401.91,336.98 402.25,337.5 402.59,338.02 402.93,338.53 403.27,339.05 403.62,339.57 403.96,340.08 404.3,340.6 404.84,340.33 405.38,340.05 405.92,339.78 406.46,339.51 407,339.23 407.54,338.96 408.08,338.69 408.62,338.41 409.16,338.14 409.7,337.87 410.24,337.59 410.78,337.32 411.32,337.05 411.86,336.77 412.4,336.5 412.97,336.27 413.54,336.04 414.12,335.82 414.69,335.59 415.26,335.36 415.83,335.13 416.41,334.91 416.98,334.68 417.55,334.45 418.12,334.22 418.69,333.99 419.27,333.77 419.84,333.54 420.41,333.31 420.98,333.08 421.56,332.86 422.13,332.63 422.7,332.4 423.19,332.01 423.67,331.62 424.16,331.23 424.64,330.84 425.13,330.45 425.61,330.06 426.1,329.67 426.59,329.28 427.07,328.89 427.56,328.5 428.04,328.1 428.53,327.71 429.01,327.32 429.5,326.93 429.99,326.54 430.47,326.15 430.96,325.76 431.44,325.37 431.93,324.98 432.41,324.59 432.9,324.2 433.38,323.84 433.86,323.48 434.35,323.12 434.83,322.76 435.31,322.41 435.79,322.05 436.28,321.69 436.76,321.33 437.24,320.97 437.72,320.61 438.21,320.25 438.69,319.89 439.17,319.54 439.65,319.18 440.14,318.82 440.62,318.46 441.1,318.1 441.67,317.87 442.23,317.64 442.8,317.42 443.37,317.19 443.93,316.96 444.5,316.73 445.07,316.51 445.63,316.28 446.2,316.05 446.77,315.82 447.33,315.59 447.9,315.37 448.47,315.14 449.03,314.91 449.6,314.68 450.17,314.46 450.73,314.23 451.3,314 451.85,314.27 452.39,314.55 452.94,314.82 453.49,315.09 454.03,315.37 454.58,315.64 455.13,315.91 455.67,316.19 456.22,316.46 456.77,316.73 457.31,317.01 457.86,317.28 458.41,317.55 458.95,317.83 459.5,318.1 460.08,318.3 460.66,318.49 461.24,318.69 461.82,318.88 462.4,319.08 462.99,319.27 463.57,319.47 464.15,319.66 464.73,319.86 465.31,320.05 465.89,320.25 466.47,320.44 467.05,320.64 467.63,320.83 468.21,321.03 468.8,321.22 469.38,321.42 469.96,321.61 470.54,321.81 471.12,322 471.7,322.2 472.34,322.14 472.98,322.08 473.62,322.02 474.25,321.95 474.89,321.89 475.53,321.83 476.17,321.77 476.81,321.71 477.45,321.65 478.08,321.58 478.72,321.52 479.36,321.46 480,321.4 480.59,321.57 481.18,321.74 481.77,321.92 482.36,322.09 482.94,322.26 483.53,322.43 484.12,322.61 484.71,322.78 485.3,322.95 485.89,323.12 486.48,323.29 487.07,323.47 487.66,323.64 488.24,323.81 488.83,323.98 489.42,324.16 490.01,324.33 490.6,324.5 491.13,324.82 491.66,325.14 492.19,325.46 492.72,325.78 493.25,326.1 493.78,326.42 494.31,326.74 494.84,327.06 495.37,327.38 495.9,327.7 496.43,328.02 496.96,328.34 497.49,328.66 498.02,328.98 498.55,329.3 499.08,329.62 499.61,329.94 500.14,330.26 500.67,330.58 501.2,330.9 501.8,330.9 502.41,330.9 503.01,330.9 503.61,330.9 504.21,330.9 504.82,330.9 505.42,330.9 506.02,330.9 506.63,330.9 507.23,330.9 507.83,330.9 508.43,330.9 509.04,330.9 509.64,330.9 510.24,330.9 510.85,330.9 511.45,330.9 512.05,330.9 512.65,330.9 513.26,330.9 513.86,330.9 514.46,330.9 515.07,330.9 515.67,330.9 516.27,330.9 516.87,330.9 517.48,330.9 518.08,330.9 518.68,330.9 519.29,330.9 519.89,330.9 520.49,330.9 521.09,330.9 521.7,330.9 522.3,330.9 522.9,330.85 523.51,330.8 524.11,330.74 524.72,330.69 525.32,330.64 525.93,330.59 526.53,330.53 527.14,330.48 527.74,330.43 528.35,330.38 528.95,330.32 529.56,330.27 530.16,330.22 530.77,330.17 531.37,330.11 531.98,330.06 532.58,330.01 533.19,329.96 533.79,329.9 534.4,329.85 535,329.8 535.57,329.6 536.15,329.39 536.72,329.19 537.29,328.98 537.87,328.78 538.44,328.58 539.01,328.37 539.58,328.17 540.16,327.97 540.73,327.76 541.3,327.56 541.88,327.35 542.45,327.15 543.02,326.95 543.6,326.74 544.17,326.54 544.74,326.33 545.32,326.13 545.89,325.93 546.46,325.72 547.03,325.52 547.61,325.32 548.18,325.11 548.75,324.91 549.33,324.7 549.9,324.5 550.49,324.33 551.08,324.16 551.68,324 552.27,323.83 552.86,323.66 553.45,323.49 554.04,323.32 554.64,323.16 555.23,322.99 555.82,322.82 556.41,322.65 557,322.48 557.6,322.32 558.19,322.15 558.78,321.98 559.37,321.81 559.96,321.64 560.56,321.48 561.15,321.31 561.74,321.14 562.33,320.97 562.92,320.8 563.52,320.64 564.11,320.47 564.7,320.3 565.3,320.23 565.91,320.15 566.51,320.07 567.11,320 567.72,319.93 568.32,319.85 568.93,319.77 569.53,319.7 570.13,319.62 570.74,319.55 571.34,319.48 571.94,319.4 572.55,319.32 573.15,319.25 573.75,319.18 574.36,319.1 574.96,319.02 575.56,318.95 576.17,318.88 576.77,318.8 577.38,318.73 577.98,318.65 578.58,318.57 579.19,318.5 579.79,318.43 580.39,318.35 581,318.27 581.6,318.2 581.88,317.63 582.16,317.07 582.44,316.5 582.72,315.93 583,315.37 583.28,314.8 583.56,314.23 583.84,313.67 584.12,313.1 584.4,312.53 584.68,311.97 584.96,311.4 585.24,310.83 585.52,310.27 585.8,309.7 585.98,309.11 586.16,308.52 586.33,307.93 586.51,307.34 586.69,306.76 586.87,306.17 587.04,305.58 587.22,304.99 587.4,304.4 587.58,303.81 587.76,303.22 587.93,302.63 588.11,302.04 588.29,301.46 588.47,300.87 588.64,300.28 588.82,299.69 589,299.1 589.18,298.51 589.36,297.92 589.53,297.33 589.71,296.74 589.89,296.16 590.07,295.57 590.24,294.98 590.42,294.39 590.6,293.8 590.78,293.21 590.96,292.62 591.13,292.03 591.31,291.44 591.49,290.86 591.67,290.27 591.84,289.68 592.02,289.09 592.2,288.5 592.32,287.9 592.43,287.3 592.55,286.71 592.66,286.11 592.78,285.51 592.89,284.91 593.01,284.32 593.12,283.72 593.24,283.12 593.35,282.52 593.47,281.92 593.58,281.33 593.7,280.73 593.81,280.13 593.93,279.53 594.04,278.93 594.16,278.34 594.27,277.74 594.39,277.14 594.5,276.54 594.62,275.95 594.73,275.35 594.85,274.75 594.97,274.15 595.08,273.55 595.2,272.96 595.31,272.36 595.43,271.76 595.54,271.16 595.66,270.57 595.77,269.97 595.89,269.37 596,268.77 596.12,268.17 596.23,267.58 596.35,266.98 596.46,266.38 596.58,265.78 596.69,265.18 596.81,264.59 596.92,263.99 597.04,263.39 597.15,262.79 597.27,262.2 597.38,261.6 597.5,261 597.61,260.4 597.72,259.81 597.82,259.21 597.93,258.61 598.04,258.01 598.15,257.42 598.25,256.82 598.36,256.22 598.47,255.62 598.58,255.03 598.68,254.43 598.79,253.83 598.9,253.23 599.01,252.64 599.12,252.04 599.22,251.44 599.33,250.84 599.44,250.25 599.55,249.65 599.65,249.05 599.76,248.45 599.87,247.86 599.98,247.26 600.08,246.66 600.19,246.06 600.3,245.47 600.41,244.87 600.52,244.27 600.62,243.67 600.73,243.08 600.84,242.48 600.95,241.88 601.05,241.28 601.16,240.69 601.27,240.09 601.38,239.49 601.48,238.89 601.59,238.3 601.7,237.7 601.99,237.13 602.28,236.55 602.57,235.98 602.86,235.41 603.15,234.84 603.45,234.26 603.74,233.69 604.03,233.12 604.32,232.55 604.61,231.97 604.9,231.4 605.35,230.94 605.8,230.49 606.25,230.03 606.7,229.57 607.15,229.11 607.6,228.66 608.05,228.2 608.5,227.74 608.95,227.29 609.4,226.83 609.85,226.37 610.3,225.91 610.75,225.46 611.2,225 611.74,224.61 612.28,224.22 612.81,223.84 613.35,223.45 613.89,223.06 614.42,222.68 614.96,222.29 615.5,221.9 615.96,222.32 616.42,222.74 616.88,223.16 617.34,223.58 617.8,224" fill="none" stroke="#a8407c" stroke-width="3.25" stroke-linejoin="round" stroke-linecap="round"/>
</g>
<line x1="79.9" y1="102.9" x2="612.8" y2="102.9" stroke="#0000ff" stroke-width="2" stroke-dasharray="5.3 4.18" stroke-dashoffset="1.2"/>
<line x1="95.6" y1="91.3" x2="95.6" y2="447" stroke="#0000ff" stroke-width="2" stroke-dasharray="5.3 4.18" stroke-dashoffset="3.8"/>
<line x1="380.3" y1="91.6" x2="380.3" y2="447" stroke="#0000ff" stroke-width="2" stroke-dasharray="5.3 4.18" stroke-dashoffset="0"/>
<line x1="602.5" y1="89.3" x2="602.5" y2="447" stroke="#0000ff" stroke-width="2" stroke-dasharray="5.3 4.18" stroke-dashoffset="0"/>
<rect x="79.6" y="13.5" width="539.4" height="434.5" fill="none" stroke="#000" stroke-width="1.9"/>
<text x="69.3" y="19.1" text-anchor="end" font-size="18">3.0</text>
<text x="629" y="19.1" text-anchor="start" font-size="18">2.5</text>
<line x1="79.6" y1="35.23" x2="83.9" y2="35.23" stroke="#000" stroke-width="1.9"/>
<line x1="619" y1="35.23" x2="614.7" y2="35.23" stroke="#000" stroke-width="1.9"/>
<line x1="79.6" y1="56.95" x2="88" y2="56.95" stroke="#000" stroke-width="1.9"/>
<line x1="619" y1="56.95" x2="610.6" y2="56.95" stroke="#000" stroke-width="1.9"/>
<text x="69.3" y="62.55" text-anchor="end" font-size="18">2.5</text>
<text x="629" y="62.55" text-anchor="start" font-size="18">2.0</text>
<line x1="79.6" y1="78.68" x2="83.9" y2="78.68" stroke="#000" stroke-width="1.9"/>
<line x1="619" y1="78.68" x2="614.7" y2="78.68" stroke="#000" stroke-width="1.9"/>
<line x1="79.6" y1="100.4" x2="88" y2="100.4" stroke="#000" stroke-width="1.9"/>
<line x1="619" y1="100.4" x2="610.6" y2="100.4" stroke="#000" stroke-width="1.9"/>
<text x="69.3" y="106" text-anchor="end" font-size="18">2.0</text>
<text x="629" y="106" text-anchor="start" font-size="18">1.5</text>
<line x1="79.6" y1="122.12" x2="83.9" y2="122.12" stroke="#000" stroke-width="1.9"/>
<line x1="619" y1="122.12" x2="614.7" y2="122.12" stroke="#000" stroke-width="1.9"/>
<line x1="79.6" y1="143.85" x2="88" y2="143.85" stroke="#000" stroke-width="1.9"/>
<line x1="619" y1="143.85" x2="610.6" y2="143.85" stroke="#000" stroke-width="1.9"/>
<text x="69.3" y="149.45" text-anchor="end" font-size="18">1.5</text>
<text x="629" y="149.45" text-anchor="start" font-size="18">1.0</text>
<line x1="79.6" y1="165.58" x2="83.9" y2="165.58" stroke="#000" stroke-width="1.9"/>
<line x1="619" y1="165.58" x2="614.7" y2="165.58" stroke="#000" stroke-width="1.9"/>
<line x1="79.6" y1="187.3" x2="88" y2="187.3" stroke="#000" stroke-width="1.9"/>
<line x1="619" y1="187.3" x2="610.6" y2="187.3" stroke="#000" stroke-width="1.9"/>
<text x="69.3" y="192.9" text-anchor="end" font-size="18">1.0</text>
<text x="629" y="192.9" text-anchor="start" font-size="18">0.5</text>
<line x1="79.6" y1="209.03" x2="83.9" y2="209.03" stroke="#000" stroke-width="1.9"/>
<line x1="619" y1="209.03" x2="614.7" y2="209.03" stroke="#000" stroke-width="1.9"/>
<line x1="79.6" y1="230.75" x2="88" y2="230.75" stroke="#000" stroke-width="1.9"/>
<line x1="619" y1="230.75" x2="610.6" y2="230.75" stroke="#000" stroke-width="1.9"/>
<text x="69.3" y="236.35" text-anchor="end" font-size="18">0.5</text>
<text x="629" y="236.35" text-anchor="start" font-size="18">0.0</text>
<line x1="79.6" y1="252.48" x2="83.9" y2="252.48" stroke="#000" stroke-width="1.9"/>
<line x1="619" y1="252.48" x2="614.7" y2="252.48" stroke="#000" stroke-width="1.9"/>
<line x1="79.6" y1="274.2" x2="88" y2="274.2" stroke="#000" stroke-width="1.9"/>
<line x1="619" y1="274.2" x2="610.6" y2="274.2" stroke="#000" stroke-width="1.9"/>
<text x="69.3" y="279.8" text-anchor="end" font-size="18">0.0</text>
<text x="629" y="279.8" text-anchor="start" font-size="18">-0.5</text>
<line x1="79.6" y1="295.93" x2="83.9" y2="295.93" stroke="#000" stroke-width="1.9"/>
<line x1="619" y1="295.93" x2="614.7" y2="295.93" stroke="#000" stroke-width="1.9"/>
<line x1="79.6" y1="317.65" x2="88" y2="317.65" stroke="#000" stroke-width="1.9"/>
<line x1="619" y1="317.65" x2="610.6" y2="317.65" stroke="#000" stroke-width="1.9"/>
<text x="69.3" y="323.25" text-anchor="end" font-size="18">-0.5</text>
<text x="629" y="323.25" text-anchor="start" font-size="18">-1.0</text>
<line x1="79.6" y1="339.38" x2="83.9" y2="339.38" stroke="#000" stroke-width="1.9"/>
<line x1="619" y1="339.38" x2="614.7" y2="339.38" stroke="#000" stroke-width="1.9"/>
<line x1="79.6" y1="361.1" x2="88" y2="361.1" stroke="#000" stroke-width="1.9"/>
<line x1="619" y1="361.1" x2="610.6" y2="361.1" stroke="#000" stroke-width="1.9"/>
<text x="69.3" y="366.7" text-anchor="end" font-size="18">-1.0</text>
<text x="629" y="366.7" text-anchor="start" font-size="18">-1.5</text>
<line x1="79.6" y1="382.83" x2="83.9" y2="382.83" stroke="#000" stroke-width="1.9"/>
<line x1="619" y1="382.83" x2="614.7" y2="382.83" stroke="#000" stroke-width="1.9"/>
<line x1="79.6" y1="404.55" x2="88" y2="404.55" stroke="#000" stroke-width="1.9"/>
<line x1="619" y1="404.55" x2="610.6" y2="404.55" stroke="#000" stroke-width="1.9"/>
<text x="69.3" y="410.15" text-anchor="end" font-size="18">-1.5</text>
<text x="629" y="410.15" text-anchor="start" font-size="18">-2.0</text>
<line x1="79.6" y1="426.28" x2="83.9" y2="426.28" stroke="#000" stroke-width="1.9"/>
<line x1="619" y1="426.28" x2="614.7" y2="426.28" stroke="#000" stroke-width="1.9"/>
<text x="69.3" y="453.6" text-anchor="end" font-size="18">-2.0</text>
<text x="629" y="453.6" text-anchor="start" font-size="18">-2.5</text>
<line x1="95.5" y1="448" x2="95.5" y2="439.6" stroke="#000" stroke-width="1.9"/>
<text x="95.5" y="471.5" text-anchor="middle" font-size="18">0</text>
<line x1="137.1" y1="448" x2="137.1" y2="443.7" stroke="#000" stroke-width="1.9"/>
<line x1="178.7" y1="448" x2="178.7" y2="439.6" stroke="#000" stroke-width="1.9"/>
<text x="178.7" y="471.5" text-anchor="middle" font-size="18">1</text>
<line x1="220.3" y1="448" x2="220.3" y2="443.7" stroke="#000" stroke-width="1.9"/>
<line x1="261.9" y1="448" x2="261.9" y2="439.6" stroke="#000" stroke-width="1.9"/>
<text x="261.9" y="471.5" text-anchor="middle" font-size="18">2</text>
<line x1="303.5" y1="448" x2="303.5" y2="443.7" stroke="#000" stroke-width="1.9"/>
<line x1="345.1" y1="448" x2="345.1" y2="439.6" stroke="#000" stroke-width="1.9"/>
<text x="345.1" y="471.5" text-anchor="middle" font-size="18">3</text>
<line x1="386.7" y1="448" x2="386.7" y2="443.7" stroke="#000" stroke-width="1.9"/>
<line x1="428.3" y1="448" x2="428.3" y2="439.6" stroke="#000" stroke-width="1.9"/>
<text x="428.3" y="471.5" text-anchor="middle" font-size="18">4</text>
<line x1="469.9" y1="448" x2="469.9" y2="443.7" stroke="#000" stroke-width="1.9"/>
<line x1="511.5" y1="448" x2="511.5" y2="439.6" stroke="#000" stroke-width="1.9"/>
<text x="511.5" y="471.5" text-anchor="middle" font-size="18">5</text>
<line x1="553.1" y1="448" x2="553.1" y2="443.7" stroke="#000" stroke-width="1.9"/>
<line x1="594.7" y1="448" x2="594.7" y2="439.6" stroke="#000" stroke-width="1.9"/>
<text x="594.7" y="471.5" text-anchor="middle" font-size="18">6</text>
<text transform="translate(24.9,230.3) rotate(-90)" text-anchor="middle" font-size="22.65">Contact force /N</text>
<text transform="translate(682.4,227.1) rotate(-90)" text-anchor="middle" font-size="22.65">Friction coefficient</text>
<text x="349.2" y="508.2" text-anchor="middle" font-size="23">Time /s</text>
<text x="3.5" y="18.3" font-size="22.6">(a)</text>
<text x="157.1" y="92.6" font-size="18.4" fill="#0000ff">Proximal sliding</text>
<text x="455.3" y="98.5" font-size="18.4" fill="#0000ff">Distal sliding</text>
<text x="478.1" y="186.9" font-size="18.4" fill="#000">Normal force</text>
<text x="454.1" y="243.7" font-size="18.4" fill="#000">Friction coefficient</text>
<text x="465.9" y="360" font-size="18.4" fill="#000">Friction force</text>
<line x1="459.5" y1="178.1" x2="445.8" y2="169.61" stroke="#000" stroke-width="1.3"/>
<path d="M439,165.4 L447.49,166.89 L444.12,172.33 Z" fill="#000"/>
<line x1="452.3" y1="241.5" x2="434.97" y2="255.81" stroke="#000" stroke-width="1.3"/>
<path d="M428.8,260.9 L432.93,253.34 L437.01,258.27 Z" fill="#000"/>
<line x1="473.8" y1="342.6" x2="460.01" y2="333.65" stroke="#000" stroke-width="1.3"/>
<path d="M453.3,329.3 L461.75,330.97 L458.27,336.34 Z" fill="#000"/>
<g transform="translate(0,0) scale(1.0)">
<rect x="144" y="402.8" width="122.6" height="5" fill="url(#shd)"/>
<path d="M156.4,378.9 C154.6,384 155.2,391 161,396.6 C165,400 170,402.3 177,402.6 L205.7,401.9 C214,401.2 222,399.5 231.5,395.8 C237,393.5 241,391.2 245,390.4 C252,388.2 258,387.6 266.6,387.1 C276,386 286,383.4 298.1,380.1 L308.6,377.2 L283.7,351.2 C283,343 282,336 278.8,331 C275,326 270,322.6 263.1,322.3 C260,322 258,322.8 256.1,323.7 L212.3,338.6 Z" fill="#fddac5" stroke="#555" stroke-width="0.8"/>
<path d="M170,401.2 C180,399.8 200,399.8 212,401 L212,402.4 L170,402.4 Z" fill="#f7b9b4" opacity="0.8"/>
<path d="M283.7,351.2 C292,358 301,367 308.6,376.8 C302,376 293,373 287.5,369 C284.5,365 283.5,358 283.7,351.2 Z" fill="#f4a57f" stroke="#555" stroke-width="0.7"/>
<path d="M152.5,378.2 C157,370 166,362 178,354.5 C189,348 201,343 212.3,338.8 C209,346 203,353 195,359.6 C185,366 172,373 160,377 C157,377.8 155,378 152.5,378.2 Z" fill="#f6eaf1" stroke="#555" stroke-width="0.8"/>
<line x1="143.9" y1="402.5" x2="266.6" y2="402.5" stroke="#6c6c6c" stroke-width="1.5"/>
<path d="M138,338.1 L149.9,338.1 L149.9,358.2 L155.3,358.2 L143.9,377.8 L132.4,358.2 L138,358.2 Z" fill="#a8417f"/>
</g>
<path d="M180.1,326.4 L190.1,320.2 L190.1,323.3 L209.2,323.3 L209.2,320.2 L219.2,326.4 L209.2,332.6 L209.2,329.5 L190.1,329.5 L190.1,332.6 Z" fill="#6e8fd2"/>
<g transform="translate(108,346.4) scale(1.0)" fill="#1a1416">
<path d="M7.0,0.3 L7.9,0.3 L3.2,17.1 L2.3,17.1 Z"/>
<path d="M6.6,0.3 L9.3,0.3 L14.6,17.5 L13.3,17.5 Z"/>
<path d="M18.0,0.3 L18.9,0.3 L14.6,17.5 L13.9,17.5 Z"/>
<path d="M4.6,0 L10.2,0 L10.1,0.9 L4.5,0.9 Z"/>
<path d="M15.4,0 L20.2,0 L20.1,0.9 L15.3,0.9 Z"/>
<path d="M0,16.6 L5.6,16.6 L5.5,17.5 L-0.1,17.5 Z"/>
</g>
<g transform="translate(195.8,300.5) scale(1.0)" fill="#1a1416">
<path d="M1.6,0.4 L4.6,0.4 L1.6,17.0 L0.8,17.0 Z"/>
<path d="M13.4,0.4 L14.5,0.4 L1.7,17.0 L0.9,17.0 Z"/>
<path d="M0,0 L6.6,0 L6.5,0.9 L-0.1,0.9 Z"/>
<path d="M10.8,0 L15.2,0 L15.1,0.9 L10.7,0.9 Z"/>
</g>
<g>
<path d="M79.1,669.12 79.72,669.49 80.34,667.81 80.97,669.17 81.59,667.59 82.21,668.78 82.83,667.4 83.46,668.25 84.08,667.21 84.7,667.24 85.32,668.15 85.94,668.93 86.57,667.8 87.19,668.44 87.81,668.74 88.43,667.42 89.06,668.91 89.68,667.66 90.3,668 90.74,666.4 91.19,665.94 91.63,666.33 92.07,666.32 92.51,664.94 92.96,665.65 93.4,664.09 93.6,663.25 93.8,664.95 94,666.94 94.2,667.55 94.4,667.03 94.6,669.17 94.8,670.02 95,668.62 95.2,669.7 95.4,671.68 95.64,671.94 95.88,671.36 96.12,673.21 96.35,672.1 96.59,674.65 96.83,675.11 97.07,671.19 97.31,676.34 97.55,675.87 97.78,676.94 98.02,674.99 98.26,676.79 98.5,675.05 98.64,678.52 98.78,677.33 98.92,677.18 99.06,675.53 99.2,675.92 99.47,673.56 99.73,672.93 100,673.65 100.27,673.89 100.53,671.67 100.8,670.81 101.07,670.79 101.33,669.57 101.6,669.13 102.17,670.65 102.73,670.47 103.3,670.16 103.89,669.65 104.49,668.17 105.08,666.84 105.67,668.29 106.26,668.7 106.86,668.19 107.45,668.29 108.04,669.07 108.64,667.56 109.23,668.81 109.82,668.54 110.41,668.41 111.01,667.64 111.6,667.71 112.13,666.52 112.66,668.31 113.19,666.09 113.71,667.16 114.24,665.93 114.77,665.97 115.3,666.59 115.83,664.45 116.36,663.97 116.89,664.26 117.41,665.2 117.94,664.84 118.47,663.3 119,663.58 119.53,663.89 120.06,663.38 120.59,663.16 121.11,661.09 121.64,660.97 122.17,660.46 122.7,660.86 123.28,660.08 123.86,660.45 124.44,659.65 125.02,660.15 125.6,661.21 126.17,659.82 126.75,659.21 127.33,658.57 127.91,656.92 128.49,660.19 129.07,658.43 129.65,660.1 130.23,657.97 130.81,658.17 131.39,657.46 131.97,658 132.55,657.3 133.12,656.97 133.7,656.63 134.28,656.58 134.86,658.34 135.44,658.04 136.02,655.96 136.6,655.94 137.18,656.62 137.76,658.06 138.34,656.46 138.92,658.61 139.5,654.99 140.07,657.9 140.65,659.39 141.23,659.09 141.81,660.09 142.39,659.06 142.97,659.79 143.55,660.06 144.13,659.17 144.71,661.25 145.29,661.25 145.87,658.35 146.45,661.06 147.03,660.17 147.6,662.09 148.18,661.04 148.76,662.65 149.34,662.19 149.92,662.63 150.5,661.47 151.08,662.54 151.67,662.85 152.25,661.78 152.84,664.13 153.42,662.17 154.01,663.91 154.59,664.18 155.17,662.55 155.76,664.95 156.34,664.93 156.93,663.09 157.51,663.45 158.09,661.72 158.68,664.67 159.26,664.32 159.85,665.8 160.43,664.3 161.02,664.85 161.6,664.13 162.17,665.61 162.75,665.61 163.32,666.68 163.9,665.94 164.47,665.93 165.05,666.99 165.62,667.27 166.2,667.38 166.78,666.6 167.35,667.59 167.93,668.94 168.5,668.6 169.07,668.37 169.65,666.89 170.22,668.86 170.8,669.3 171.38,668.55 171.95,669.56 172.53,668.46 173.1,669.97 173.68,670.53 174.25,669.36 174.83,669.43 175.4,670.29 176,669.6 176.6,670.09 177.2,670.25 177.8,670.19 178.4,670.95 179,669.03 179.6,669.95 180.2,668.08 180.8,667.99 181.4,668.2 182,668.2 182.6,665.31 183.2,668.66 183.8,668.81 184.34,668.23 184.88,666.87 185.42,668.11 185.96,664.26 186.49,666.3 187.03,666.55 187.57,666.81 188.11,664.67 188.65,665.27 189.19,664.62 189.73,663.87 190.27,663.35 190.81,664.13 191.34,664.04 191.88,663.96 192.42,662.21 192.96,663.61 193.5,662.05 194.12,662.3 194.75,663.64 195.38,663.65 196,662.13 196.62,661.71 197.25,663.69 197.88,662.46 198.5,663.81 199.12,662.55 199.75,663.92 200.38,663.33 201,662.68 201.62,664.26 202.25,662.42 202.88,664.45 203.5,663.28 204.12,663.88 204.75,663.91 205.38,664.2 206,662.28 206.59,663.23 207.19,663.55 207.78,664.59 208.37,664.42 208.96,663.65 209.56,665.13 210.15,664.57 210.74,664.76 211.34,666.69 211.93,664.67 212.52,663.71 213.11,665.48 213.71,665.64 214.3,666.05 214.76,668.12 215.22,668.42 215.68,668.71 216.14,668.68 216.61,667.89 217.07,669.73 217.53,669.68 217.99,669.67 218.45,670.58 218.91,670.76 219.37,671.29 219.83,671.63 220.29,670.5 220.76,671.69 221.22,671.58 221.68,671.91 222.14,674.15 222.6,673.35 223.15,672.83 223.71,674.94 224.26,674.29 224.81,674.44 225.37,675.18 225.92,675.71 226.47,675.34 227.03,675.93 227.58,675.96 228.13,675.95 228.69,673.96 229.24,677.02 229.79,677.93 230.35,678.39 230.9,678.71 231.5,677.21 232.11,678.41 232.71,677.29 233.32,676.3 233.92,677.72 234.53,677.24 235.13,678.3 235.73,676.4 236.34,676.74 236.94,676.23 237.55,675.88 238.15,676.08 238.76,676.33 239.36,676.33 239.97,676.83 240.57,677.36 241.17,677.45 241.78,677.08 242.38,675.67 242.99,676.59 243.59,675.41 244.2,675.68 244.8,676.64 245.38,675.98 245.97,675.6 246.55,676.03 247.14,677.11 247.72,677.02 248.31,678.08 248.89,678.88 249.47,678.13 250.06,677.48 250.64,678 251.23,679.13 251.81,679.81 252.39,678.28 252.98,678.87 253.56,680.19 254.15,678.9 254.73,680.39 255.32,679.73 255.9,680.88 256.49,680.29 257.09,681.58 257.68,681.67 258.27,680.79 258.86,681.36 259.46,681.96 260.05,680.44 260.64,680.62 261.24,681.88 261.83,680.49 262.42,681.45 263.01,682.46 263.61,681.87 264.2,682.44 264.75,683.22 265.31,682.42 265.86,682.89 266.41,682.66 266.97,684.21 267.52,683.67 268.07,684.1 268.63,685.03 269.18,685.4 269.73,684.47 270.29,683.97 270.84,684.52 271.39,684.4 271.95,685.92 272.5,685.29 273.08,686.81 273.66,686.93 274.24,687.7 274.82,687.61 275.4,688.22 275.62,688.94 275.84,689.22 276.07,690.12 276.29,690.62 276.51,691.58 276.73,691.3 276.95,693.16 277.17,692.93 277.4,694.04 277.62,694.43 277.84,694.04 278.06,693.67 278.28,695.36 278.5,695.48 278.73,696.72 278.95,697.02 279.17,698.34 279.39,698.57 279.61,698.93 279.83,700.12 280.06,700.49 280.28,701.61 280.5,702.47 281.07,702.69 281.63,702.66 282.2,702.4 282.77,702.71 283.33,703.08 283.9,702.51 284.47,702.61 285.03,703.89 285.6,704.13 286.14,703.41 286.67,703.13 287.21,703.34 287.75,702.1 288.28,702.03 288.82,702.57 289.36,702.3 289.89,701.94 290.43,701.13 290.97,701.5 291.51,700.9 292.04,700.4 292.58,700.24 293.12,700.59 293.65,699.33 294.19,699.5 294.73,699.29 295.26,698.85 295.8,698.44 296.42,698.24 297.03,697.86 297.65,697.91 298.26,698.22 298.88,697.68 299.49,698.24 300.11,697.58 300.72,698.01 301.34,698.32 301.95,697.4 302.56,697.08 303.18,697.86 303.8,696.95 304.41,697.49 305.03,697.03 305.64,697.41 306.25,697.24 306.87,696.68 307.49,697.15 308.1,696.82 308.7,695.99 309.29,697.07 309.89,695.77 310.48,695.83 311.08,695.84 311.68,696 312.27,696.33 312.87,696.38 313.46,695.29 314.06,696.36 314.65,695.22 315.25,695.17 315.85,695.37 316.44,696.01 317.04,694.71 317.63,694.83 318.23,694.76 318.82,694.45 319.42,695.03 320.02,695.58 320.61,694.66 321.21,695.53 321.8,692.44 322.4,694.49 323,694.98 323.59,694.46 324.19,694.31 324.78,693.69 325.38,693.82 325.97,694.48 326.57,693.49 327.17,694.34 327.76,694.1 328.36,694.01 328.95,693.13 329.55,692.69 330.15,692.25 330.74,693.31 331.34,692.6 331.93,691.9 332.53,691.93 333.12,692.62 333.72,692.81 334.32,691.41 334.91,691.37 335.51,691.33 336.1,691.83 336.7,690.89 337.29,690.59 337.89,691.1 338.48,690.91 339.07,690.79 339.66,690.57 340.26,690.24 340.85,688.87 341.44,690 342.04,689.51 342.63,687.94 343.22,689.5 343.81,689.62 344.41,688.93 345,689.8 345.59,688.87 346.17,689.34 346.76,687.75 347.34,687.83 347.93,688.06 348.51,687.98 349.1,687.57 349.69,688.19 350.27,686.92 350.86,686.74 351.44,686.31 352.03,686.38 352.61,686.79 353.2,686.97 353.24,685.56 353.28,684.74 353.32,683.88 353.36,683.91 353.41,683.17 353.45,681.45 353.49,682.73 353.53,682.08 353.57,679.89 353.61,680.52 353.65,679.9 353.69,678.31 353.74,677.57 353.78,678.24 353.82,677.01 353.86,676.16 353.9,675.59 353.94,675.65 353.98,675.02 354.02,673.16 354.06,673.37 354.11,671.52 354.15,670.77 354.19,671.06 354.23,669.8 354.27,669.88 354.31,670.07 354.35,668.34 354.39,668.78 354.44,666.89 354.48,667.42 354.52,666.02 354.56,665.98 354.6,665.72 354.67,665.23 354.73,664.88 354.8,665.62 354.86,666.2 354.93,667.84 354.99,667.49 355.06,668.17 355.12,670.56 355.19,669.83 355.26,669.08 355.32,670.97 355.39,672.51 355.45,671.73 355.52,672.68 355.58,674.52 355.65,675.01 355.71,674.91 355.78,674.81 355.84,676.22 355.91,676.22 355.98,676.7 356.04,679.06 356.11,678.43 356.17,679.38 356.24,679.78 356.3,679.37 356.37,681.58 356.43,681.71 356.5,682.72 356.65,680.53 356.81,680.59 356.96,680.21 357.12,678.84 357.27,678.78 357.42,677.8 357.58,679.14 357.73,677.17 357.88,677.47 358.04,675.41 358.19,675.85 358.35,675.08 358.5,675.55 358.65,670.73 358.81,672.73 358.96,673.86 359.12,673.14 359.27,670.34 359.42,671.38 359.58,671.08 359.73,669.03 359.88,669.6 360.04,669.89 360.19,667.38 360.35,666.89 360.5,666.41 361.07,668.48 361.65,666.58 362.23,667.74 362.8,667.31 363.38,668.5 363.95,668.65 364.53,669.61 365.1,668.49 365.42,669.14 365.74,671.06 366.05,671.91 366.37,672.02 366.69,673.12 367.01,673.36 367.33,672.92 367.65,674.76 367.96,674.35 368.28,674.33 368.6,674.93 368.92,674.7 369.24,673.53 369.55,674.22 369.87,672.73 370.19,672.44 370.51,670.85 370.83,670.83 371.15,670.61 371.46,670.91 371.78,670.63 372.1,669.46 372.69,668.22 373.28,668.78 373.86,668.98 374.45,668.01 375.04,669.37 375.62,668.33 376.21,668.91 376.8,667.33 377.14,667.04 377.49,666.06 377.83,666.02 378.17,666.01 378.51,665.15 378.86,664.39 379.2,665.02 379.71,664.56 380.22,666.37 380.73,665.35 381.24,666.04 381.76,666.24 382.27,666.84 382.78,667.23 383.29,666.54 383.8,668.33 384.34,668.57 384.87,668.54 385.41,666.52 385.95,666.72 386.48,666.32 387.02,665.56 387.55,666.96 388.09,664.61 388.63,666.31 389.16,663.93 389.7,665.53 390.29,664.41 390.87,665.53 391.46,664.28 392.04,664.74 392.63,663.67 393.21,664.05 393.8,662.43 394.39,663.02 394.97,664.06 395.56,662.65 396.14,662.98 396.73,661.94 397.31,662.57 397.9,661.66 398.47,663.41 399.05,663.15 399.62,662.88 400.2,663.54 400.77,663.14 401.35,663.36 401.93,663.44 402.5,665.59 403.04,664.93 403.58,665.86 404.12,666.22 404.65,666.75 405.19,666.93 405.73,665.49 406.27,667.46 406.81,667.3 407.35,663.93 407.88,668.22 408.42,668.69 408.96,668.19 409.5,667.5 410.12,667.42 410.74,668.99 411.35,668.06 411.97,665.87 412.59,667.11 413.21,669.76 413.82,669.55 414.44,668.75 415.06,667.84 415.68,668.16 416.29,670.03 416.91,668.65 417.53,667.99 418.15,668.24 418.76,668.63 419.38,669.47 420,668.56 420.61,669.63 421.22,670.72 421.83,670.9 422.44,670.17 423.05,671.14 423.65,669.75 424.26,668.76 424.87,671.46 425.48,670.29 426.09,671.6 426.7,670.43 427.31,672.23 427.91,670.69 428.52,670.66 429.12,668.75 429.73,671.28 430.34,671.47 430.94,671.54 431.55,671 432.15,672.96 432.76,671.61 433.36,671.63 433.97,671.54 434.58,673.18 435.18,672.71 435.79,673.28 436.39,673.65 437,673.7 437.6,673.5 438.2,672.65 438.8,671.89 439.4,669.93 440,672.62 440.6,671.54 441.2,672.14 441.8,673.52 442.4,672.85 443,672.05 443.6,670.91 444.2,673.21 444.8,671.49 445.4,671.3 446,671.79 446.6,673.09 447.2,673.03 447.81,671.15 448.43,672.33 449.05,673.33 449.66,671.28 450.27,672.44 450.89,673.18 451.5,672.97 452.12,672.07 452.74,673.69 453.35,672.21 453.96,673.12 454.58,673.51 455.19,671.45 455.81,673.32 456.43,674.08 457.04,671.05 457.65,672.88 458.27,674 458.88,673.42 459.5,671.59 460.08,673.21 460.66,673.86 461.24,673.65 461.81,674.22 462.39,672.59 462.97,673.05 463.55,673.32 464.13,672.54 464.71,672.86 465.29,672.26 465.86,671.32 466.44,672.11 467.02,672.1 467.6,670.13 468.22,670.38 468.84,671.1 469.46,671.49 470.08,670.49 470.7,671.85 471.32,671.45 471.94,671.98 472.56,671.66 473.18,670.6 473.8,672.46 474.42,671.16 475.04,669.84 475.66,671.4 476.28,672.06 476.9,672.55 477.52,670.86 478.14,672.91 478.76,672.25 479.38,672.16 480,672.48 480.61,671.58 481.21,671.94 481.82,671.78 482.42,671.42 483.03,672.76 483.63,672.8 484.24,673.05 484.85,672.3 485.45,671.65 486.06,672.42 486.66,673.13 487.27,671.96 487.87,673.3 488.48,673.55 489.09,673.2 489.69,672.12 490.3,671.89 490.9,673.24 491.51,673.42 492.11,672.7 492.72,673.34 493.33,673.32 493.93,673.62 494.54,674.38 495.14,672.82 495.75,673.28 496.35,672.5 496.96,672.96 497.57,672.61 498.17,672.91 498.78,674.01 499.38,673.43 499.99,673.09 500.59,674.09 501.2,675.11 501.8,674.07 502.41,674.62 503.01,674.19 503.61,673.21 504.21,673.57 504.82,675.19 505.42,673.04 506.02,673.34 506.63,673.79 507.23,673.25 507.83,674.74 508.43,675.13 509.04,674.57 509.64,674.73 510.24,675.27 510.85,673.72 511.45,675.51 512.05,673.85 512.65,674.93 513.26,674.3 513.86,675.4 514.46,675.3 515.07,673.87 515.67,674.38 516.27,674.78 516.87,675.68 517.48,675.08 518.08,675.77 518.68,673.67 519.29,673.87 519.89,674.98 520.49,673.74 521.09,674.48 521.7,675.87 522.3,676.05 522.92,675.82 523.54,676.03 524.16,674.58 524.78,674.95 525.4,675.13 526.02,675.89 526.65,675.21 527.27,674.7 527.89,675.61 528.51,674.9 529.13,676.86 529.75,676.6 530.37,675.41 530.99,676.11 531.61,676.64 532.23,676.48 532.85,676.27 533.48,676.36 534.1,676.59 534.72,677.52 535.34,676.09 535.96,676.47 536.58,677.89 537.2,676.92 537.79,676.66 538.38,676.77 538.98,677.08 539.57,677.67 540.16,677.33 540.75,678 541.34,678.48 541.94,678.77 542.53,678.86 543.12,679.01 543.71,679.02 544.3,678.6 544.9,678.84 545.49,679.64 546.08,679.6 546.67,679.48 547.26,680.77 547.86,680.79 548.45,680.09 549.04,680.07 549.63,681.11 550.22,681.08 550.82,680.75 551.41,680.76 552,681.38 552.58,681.92 553.15,681.61 553.73,680.18 554.31,680.98 554.89,680.23 555.46,680.07 556.04,679.64 556.62,679.97 557.2,678.6 557.77,678.13 558.35,678.95 558.93,679.21 559.5,678.91 560.08,676.15 560.66,677.16 561.24,675.98 561.81,678.02 562.39,676.83 562.97,676.5 563.55,677.34 564.12,675.96 564.7,676.58 565.28,676.55 565.85,676.24 566.43,675.4 567.01,674.7 567.59,675.62 568.16,675.49 568.74,675.31 569.32,674.96 569.9,674.33 570.47,673.79 571.05,673.6 571.63,673.44 572.2,672.96 572.78,673.56 573.36,673.12 573.94,672.35 574.51,672.31 575.09,672.57 575.67,672.83 576.25,671.96 576.82,672.32 577.4,672.04 578,671.74 578.61,671.84 579.21,671.67 579.82,670.91 580.42,671 581.03,671 581.63,669.08 582.24,671.72 582.84,671.58 583.45,671.27 584.05,671.31 584.66,670.87 585.26,671.06 585.87,670.69 586.47,670.81 587.08,670.63 587.68,670.48 588.29,669.41 588.89,669.18 589.5,670.03 590.1,670.08 590.7,669.81 591.31,669.35 591.91,668.69 592.52,667.15 593.12,669.01 593.73,668.99 594.33,668.02 594.94,669.26 595.54,667.85 596.15,668.21 596.75,668.21 597.36,667.88 597.96,667.81 598.57,667.12 599.17,667.24 599.78,667.78 600.38,667.27 600.99,666.46 601.59,666.95 602.2,667.12 602.8,666.02 603.4,665.71 603.99,665.74 604.59,666.16 605.18,665.84 605.78,665.89 606.37,666.31 606.97,665.6 607.57,665.44 608.16,665.74 608.76,666.06 609.35,665.4 609.95,665.03 610.54,666.21 611.14,664.96 611.73,664.82 612.33,665.85 612.93,665.52 613.52,665.31 614.12,664.09 614.71,664.51 615.31,663.99 615.9,664.67 616.5,664.7 L616.5,667.26 615.9,668.02 615.31,667.63 614.71,668.66 614.12,668.98 613.52,668.77 612.93,668.11 612.33,668.1 611.73,667.86 611.14,668.86 610.54,669.48 609.95,668.21 609.35,668.35 608.76,669.57 608.16,668.99 607.57,668.54 606.97,669.54 606.37,669.04 605.78,668.99 605.18,669.63 604.59,669.2 603.99,669.1 603.4,669.62 602.8,670.33 602.2,670.34 601.59,670.87 600.99,670.3 600.38,671.15 599.78,670.32 599.17,672.29 598.57,671.74 597.96,671.45 597.36,671.09 596.75,670.89 596.15,671.76 595.54,671.75 594.94,672.72 594.33,671.58 593.73,672.62 593.12,672.53 592.52,672.15 591.91,672.82 591.31,672.41 590.7,673.73 590.1,674.5 589.5,673.93 588.89,672.87 588.29,672.86 587.68,673.25 587.08,673.93 586.47,674.16 585.87,675.06 585.26,673.94 584.66,674.69 584.05,674.16 583.45,674.37 582.84,674.65 582.24,675.28 581.63,675.08 581.03,675.16 580.42,674.96 579.82,674.91 579.21,675.76 578.61,675.81 578,674.78 577.4,676 576.82,674.89 576.25,675.11 575.67,676.22 575.09,676.47 574.51,675.97 573.94,676.41 573.36,676.97 572.78,676.29 572.2,676.95 571.63,677.61 571.05,678.14 570.47,677.76 569.9,679.3 569.32,677.32 568.74,678.38 568.16,678.91 567.59,678.3 567.01,678.14 566.43,678.28 565.85,679.01 565.28,679.8 564.7,679.21 564.12,679.49 563.55,680.22 562.97,679.63 562.39,680.44 561.81,680.94 561.24,681.63 560.66,681.39 560.08,680.91 559.5,682.41 558.93,682.1 558.35,682.82 557.77,681.71 557.2,682.35 556.62,683.54 556.04,683.79 555.46,682.89 554.89,683.83 554.31,684.52 553.73,683.55 553.15,684.16 552.58,686.07 552,685.79 551.41,685.04 550.82,683.74 550.22,684.25 549.63,683.48 549.04,684.66 548.45,683.23 547.86,684.22 547.26,684.55 546.67,683.02 546.08,683.28 545.49,683.1 544.9,683.45 544.3,685.25 543.71,682.59 543.12,681.54 542.53,681.73 541.94,682.51 541.34,681.61 540.75,681.61 540.16,682.09 539.57,681.61 538.98,681.33 538.38,681.67 537.79,681.37 537.2,680.83 536.58,679.81 535.96,681.24 535.34,681.07 534.72,681.09 534.1,679.92 533.48,680.69 532.85,680.08 532.23,680.55 531.61,680.26 530.99,680.92 530.37,681.3 529.75,681.5 529.13,680.32 528.51,680.31 527.89,681.46 527.27,679.65 526.65,681.13 526.02,680.66 525.4,680.61 524.78,680.8 524.16,681.18 523.54,681.54 522.92,681.13 522.3,681.41 521.7,679.85 521.09,680.63 520.49,680.53 519.89,679.94 519.29,681.2 518.68,680.79 518.08,679.32 517.48,679.54 516.87,682.49 516.27,681.04 515.67,682.39 515.07,680.02 514.46,681.37 513.86,679.96 513.26,680.58 512.65,680.96 512.05,680.74 511.45,680.35 510.85,680.16 510.24,679.12 509.64,679.17 509.04,680.11 508.43,681.03 507.83,680.79 507.23,680.5 506.63,680.97 506.02,679.05 505.42,678.85 504.82,680.75 504.21,679.11 503.61,679.35 503.01,678.53 502.41,679.76 501.8,678.78 501.2,678.57 500.59,678.81 499.99,679.93 499.38,680.05 498.78,679.95 498.17,679.67 497.57,678.79 496.96,678.6 496.35,680.24 495.75,681.29 495.14,679.82 494.54,679.04 493.93,679.42 493.33,678.79 492.72,678.86 492.11,678.24 491.51,677.81 490.9,677.4 490.3,678.85 489.69,679.55 489.09,679.01 488.48,679.24 487.87,677.86 487.27,677.47 486.66,677.62 486.06,677.14 485.45,678.22 484.85,678.55 484.24,678.54 483.63,676.8 483.03,677.25 482.42,678.76 481.82,677.33 481.21,678.44 480.61,677.45 480,677.05 479.38,678.88 478.76,678.51 478.14,677.78 477.52,677.03 476.9,676.62 476.28,676.44 475.66,677.92 475.04,677.26 474.42,677.87 473.8,677.63 473.18,676.22 472.56,678.71 471.94,676.62 471.32,677.5 470.7,677.01 470.08,676.84 469.46,676.21 468.84,675.59 468.22,677.37 467.6,677.52 467.02,677.41 466.44,676.63 465.86,677.05 465.29,678.35 464.71,676.57 464.13,676.93 463.55,678.57 462.97,678.87 462.39,677.46 461.81,679.2 461.24,679.29 460.66,678.56 460.08,678.62 459.5,679.83 458.88,681.5 458.27,678.95 457.65,680.54 457.04,680.16 456.43,678.55 455.81,678.86 455.19,678.39 454.58,679.08 453.96,682.17 453.35,679.09 452.74,677.62 452.12,677.34 451.5,678.18 450.89,678.55 450.27,678.69 449.66,677.48 449.05,678.64 448.43,677.04 447.81,678.4 447.2,677.52 446.6,677.35 446,678.7 445.4,677.76 444.8,678.07 444.2,678.57 443.6,676.96 443,678.65 442.4,677.67 441.8,677.97 441.2,677.49 440.6,679.23 440,677.13 439.4,677.39 438.8,677.31 438.2,677.38 437.6,679.51 437,677.62 436.39,678.76 435.79,678.14 435.18,678.38 434.58,678.05 433.97,678.33 433.36,677.78 432.76,677.27 432.15,678.39 431.55,677.29 430.94,678.16 430.34,677.46 429.73,677.01 429.12,676.55 428.52,675.99 427.91,677.65 427.31,676.78 426.7,676.66 426.09,676.68 425.48,676.11 424.87,677.32 424.26,675.94 423.65,675.37 423.05,674.99 422.44,676.63 421.83,675.15 421.22,675.56 420.61,675.43 420,674.25 419.38,675.97 418.76,675.51 418.15,674.71 417.53,673.99 416.91,675.41 416.29,675.18 415.68,675.31 415.06,674.41 414.44,675.1 413.82,673.26 413.21,674.67 412.59,675.15 411.97,674.91 411.35,674.49 410.74,675.02 410.12,674.12 409.5,674.12 408.96,673.46 408.42,672.29 407.88,673.8 407.35,675.05 406.81,673.4 406.27,671.24 405.73,672.78 405.19,672.52 404.65,671.41 404.12,672.12 403.58,671.13 403.04,671.3 402.5,670.99 401.93,670.87 401.35,669.78 400.77,669.65 400.2,669.14 399.62,671.35 399.05,669.22 398.47,667.14 397.9,668.72 397.31,667.35 396.73,668.28 396.14,669.5 395.56,668.07 394.97,667.97 394.39,668.57 393.8,670.11 393.21,670.69 392.63,668.52 392.04,668.57 391.46,669.01 390.87,669.06 390.29,669 389.7,671.23 389.16,670.02 388.63,671.49 388.09,672.42 387.55,672.01 387.02,671.95 386.48,672.33 385.95,671.47 385.41,673.17 384.87,673.05 384.34,674.56 383.8,674.81 383.29,673.32 382.78,672.99 382.27,671.73 381.76,672.14 381.24,670.8 380.73,671.07 380.22,670.63 379.71,670.1 379.2,669.79 378.86,671.88 378.51,673.09 378.17,672.42 377.83,673.28 377.49,672.28 377.14,675.19 376.8,674.84 376.21,673.65 375.62,673.76 375.04,673.69 374.45,675.37 373.86,675.23 373.28,674.49 372.69,674.3 372.1,673.86 371.78,675.75 371.46,676.19 371.15,675.98 370.83,676.33 370.51,678.22 370.19,677.11 369.87,678.4 369.55,678.7 369.24,679.98 368.92,679.92 368.6,681.13 368.28,680.86 367.96,678.62 367.65,678.16 367.33,678.12 367.01,677.61 366.69,678.16 366.37,678.26 366.05,675.82 365.74,676.09 365.42,676.48 365.1,675.52 364.53,674.95 363.95,675.68 363.38,674.39 362.8,673.19 362.23,672.62 361.65,672.8 361.07,672.46 360.5,671.55 360.35,672.43 360.19,673.33 360.04,674.61 359.88,675.25 359.73,674.9 359.58,675.68 359.42,676.74 359.27,678.02 359.12,678.38 358.96,678.85 358.81,678.21 358.65,678.71 358.5,681.02 358.35,681.23 358.19,681.41 358.04,681.83 357.88,681.57 357.73,683.09 357.58,684.31 357.42,684.59 357.27,684.97 357.12,686.57 356.96,686.98 356.81,686.47 356.65,687.25 356.5,688.01 356.43,686.03 356.37,686.67 356.3,685.52 356.24,685.12 356.17,684.76 356.11,683.42 356.04,684.1 355.98,681.87 355.91,681.31 355.84,682.74 355.78,681.67 355.71,683.98 355.65,679.26 355.58,679.1 355.52,678.46 355.45,678.53 355.39,677.11 355.32,677.74 355.26,677.28 355.19,675.56 355.12,674.89 355.06,673.97 354.99,674.53 354.93,672.68 354.86,671.69 354.8,671.38 354.73,672.32 354.67,671.77 354.6,670.83 354.56,671.2 354.52,671.11 354.48,672.96 354.44,672.7 354.39,673.72 354.35,674.57 354.31,674.21 354.27,675.97 354.23,675.66 354.19,676.95 354.15,675.6 354.11,677.24 354.06,677.11 354.02,677.92 353.98,678.7 353.94,680.86 353.9,679.28 353.86,681.31 353.82,681.58 353.78,681.58 353.74,681.61 353.69,682.88 353.65,683.64 353.61,684.3 353.57,685.31 353.53,684.88 353.49,685.08 353.45,686.06 353.41,686.21 353.36,687.28 353.32,687.95 353.28,688.38 353.24,689.01 353.2,689.01 352.61,691.26 352.03,690.25 351.44,691.11 350.86,691.34 350.27,690.14 349.69,691.41 349.1,691.01 348.51,690.82 347.93,691.21 347.34,691.28 346.76,692.38 346.17,692.08 345.59,692.5 345,692.42 344.41,694.72 343.81,693.29 343.22,692.55 342.63,692.84 342.04,694.21 341.44,694.2 340.85,693.19 340.26,694.68 339.66,694.57 339.07,694.18 338.48,693.76 337.89,694.17 337.29,694.24 336.7,695 336.1,694.95 335.51,694.71 334.91,695.6 334.32,695.66 333.72,696.03 333.12,696.17 332.53,695.55 331.93,695.41 331.34,696.85 330.74,697.45 330.15,696.84 329.55,696.95 328.95,696.81 328.36,696.27 327.76,697.2 327.17,697.19 326.57,696.54 325.97,697.44 325.38,697.28 324.78,698.22 324.19,696.89 323.59,697.99 323,697.95 322.4,698.25 321.8,699.17 321.21,698.83 320.61,697.97 320.02,698.83 319.42,698.29 318.82,698.87 318.23,699.19 317.63,698.68 317.04,698.32 316.44,698.45 315.85,698.91 315.25,698.51 314.65,699.63 314.06,698.81 313.46,698.64 312.87,699.11 312.27,698.92 311.68,699.87 311.08,698.91 310.48,699.38 309.89,699.66 309.29,699.51 308.7,699.97 308.1,699.9 307.49,700.07 306.87,699.5 306.25,700.06 305.64,700.8 305.03,700.24 304.41,700.17 303.8,700.02 303.18,700.12 302.56,701.02 301.95,700.61 301.34,700.6 300.72,702.05 300.11,700.86 299.49,700.8 298.88,702.35 298.26,701.82 297.65,701.57 297.03,702.62 296.42,702.75 295.8,701.8 295.26,701.63 294.73,702.74 294.19,702.61 293.65,702.5 293.12,703.41 292.58,703.46 292.04,703.82 291.51,704.06 290.97,704 290.43,704.4 289.89,706.51 289.36,706.08 288.82,705.64 288.28,707.43 287.75,705.95 287.21,705.88 286.67,707.17 286.14,706.82 285.6,707.31 285.03,707.22 284.47,706.44 283.9,705.91 283.33,705.58 282.77,705.93 282.2,705.83 281.63,704.98 281.07,705.13 280.5,705.79 280.28,704.64 280.06,703.65 279.83,702.76 279.61,703.06 279.39,702.83 279.17,702.33 278.95,701.2 278.73,700.14 278.5,700.34 278.28,699.07 278.06,698.53 277.84,698.14 277.62,697.71 277.4,697.6 277.17,696.43 276.95,695.98 276.73,694.96 276.51,695.46 276.29,695.67 276.07,693.5 275.84,692.63 275.62,691.79 275.4,692.59 274.82,692.35 274.24,691.58 273.66,692.49 273.08,692.67 272.5,691.99 271.95,691.07 271.39,692 270.84,690.79 270.29,691.24 269.73,690.06 269.18,689.57 268.63,689.38 268.07,690 267.52,689.61 266.97,687.99 266.41,689.27 265.86,688.92 265.31,688.23 264.75,686.75 264.2,687.75 263.61,686.25 263.01,688.48 262.42,687.39 261.83,687.56 261.24,686.06 260.64,685.92 260.05,685.64 259.46,686.95 258.86,687.37 258.27,685.81 257.68,686.65 257.09,687.08 256.49,686.89 255.9,685.95 255.32,686.3 254.73,686.78 254.15,684.33 253.56,685.8 252.98,684.27 252.39,684.15 251.81,685.3 251.23,685.13 250.64,684.29 250.06,684.99 249.47,684.32 248.89,683.27 248.31,683.84 247.72,682.76 247.14,682.85 246.55,681.44 245.97,682.32 245.38,681.4 244.8,681.17 244.2,681.92 243.59,681.01 242.99,681.58 242.38,683.24 241.78,682.87 241.17,681.71 240.57,682.47 239.97,681.55 239.36,682.83 238.76,682.38 238.15,683.12 237.55,681.96 236.94,682.35 236.34,682.94 235.73,682.79 235.13,682.67 234.53,683.95 233.92,683.48 233.32,683.45 232.71,685.1 232.11,684.12 231.5,682.86 230.9,683.48 230.35,682.17 229.79,681.74 229.24,683.02 228.69,683.05 228.13,682.88 227.58,681.05 227.03,682.9 226.47,682.13 225.92,681.15 225.37,681.4 224.81,680.26 224.26,680.15 223.71,679.38 223.15,678.48 222.6,678.37 222.14,678.8 221.68,677.85 221.22,678.96 220.76,677.66 220.29,678.3 219.83,676.21 219.37,676.76 218.91,676.16 218.45,676.09 217.99,675.66 217.53,674.4 217.07,675.36 216.61,674.2 216.14,674.69 215.68,673.54 215.22,673.24 214.76,672.21 214.3,672.71 213.71,672.89 213.11,672.48 212.52,672.6 211.93,670.23 211.34,671.63 210.74,669.97 210.15,669.97 209.56,670.27 208.96,671.03 208.37,669.94 207.78,669.7 207.19,672.75 206.59,668.5 206,669.81 205.38,668.8 204.75,668.49 204.12,668.45 203.5,668.33 202.88,668.78 202.25,669.02 201.62,669.32 201,669.6 200.38,668.41 199.75,668.43 199.12,668.6 198.5,670.54 197.88,667.82 197.25,668.47 196.62,669.4 196,667.62 195.38,668.37 194.75,667.77 194.12,667.43 193.5,667.84 192.96,669.06 192.42,668.21 191.88,667.85 191.34,669.48 190.81,670.49 190.27,669.01 189.73,670.72 189.19,671.42 188.65,670.58 188.11,670.88 187.57,672.32 187.03,672.09 186.49,672.25 185.96,671.72 185.42,674.21 184.88,673.32 184.34,672.25 183.8,674.35 183.2,672.73 182.6,673.24 182,673.62 181.4,675.08 180.8,675.17 180.2,675.44 179.6,675.51 179,674.68 178.4,675.87 177.8,676.41 177.2,676.69 176.6,676.41 176,678.29 175.4,677.29 174.83,676.95 174.25,675 173.68,676.1 173.1,676.03 172.53,674.55 171.95,675.54 171.38,674.94 170.8,675.77 170.22,674.86 169.65,673.11 169.07,674.38 168.5,674.7 167.93,673.73 167.35,674.3 166.78,672.5 166.2,673.05 165.62,671.75 165.05,671.74 164.47,672.5 163.9,671.9 163.32,671.46 162.75,671.35 162.17,670.57 161.6,669.99 161.02,669.76 160.43,670.1 159.85,670.22 159.26,670.26 158.68,669.13 158.09,668.79 157.51,669.1 156.93,669.15 156.34,669.36 155.76,669.45 155.17,670.15 154.59,669.03 154.01,667.91 153.42,669.48 152.84,669.42 152.25,667.68 151.67,667.49 151.08,667.93 150.5,667.53 149.92,668.28 149.34,667.2 148.76,666.32 148.18,666.04 147.6,667.2 147.03,666.66 146.45,665.56 145.87,665.37 145.29,665.71 144.71,665.31 144.13,666.08 143.55,667.69 142.97,665.56 142.39,664.11 141.81,663.78 141.23,664.94 140.65,664.08 140.07,664.71 139.5,664.8 138.92,662.76 138.34,663.45 137.76,661.87 137.18,661.62 136.6,661.5 136.02,662.19 135.44,662.25 134.86,662.65 134.28,663.6 133.7,662.59 133.12,662.68 132.55,663.75 131.97,664.71 131.39,663.55 130.81,666.71 130.23,663.95 129.65,664.39 129.07,664.3 128.49,664.62 127.91,667.23 127.33,668.6 126.75,666.44 126.17,665.06 125.6,666.33 125.02,666.06 124.44,667.08 123.86,665.97 123.28,666.91 122.7,665.61 122.17,666.57 121.64,667.56 121.11,668.72 120.59,668.78 120.06,668.47 119.53,667.86 119,670.64 118.47,670.18 117.94,670.54 117.41,670.8 116.89,670.84 116.36,671.54 115.83,671.45 115.3,670.26 114.77,672.32 114.24,672.07 113.71,673.34 113.19,673.27 112.66,672.37 112.13,674.26 111.6,672.79 111.01,673.97 110.41,672.65 109.82,673.67 109.23,674.3 108.64,674.58 108.04,675.21 107.45,674.88 106.86,675.51 106.26,674.49 105.67,675.33 105.08,673.57 104.49,674.04 103.89,675.19 103.3,675.95 102.73,674.21 102.17,676.04 101.6,676.28 101.33,676.07 101.07,677.11 100.8,676.9 100.53,677.74 100.27,677.88 100,678.97 99.73,678.65 99.47,679.77 99.2,681.4 99.06,681 98.92,680.91 98.78,681.85 98.64,683.24 98.5,683.85 98.26,683.5 98.02,681.57 97.78,683.06 97.55,682.48 97.31,681.76 97.07,682.4 96.83,680.24 96.59,680.47 96.35,682.54 96.12,679.26 95.88,677.77 95.64,677.52 95.4,677.48 95.2,676.57 95,675.15 94.8,673.71 94.6,673.47 94.4,675.71 94.2,671.85 94,673.48 93.8,670.83 93.6,670.28 93.4,669.81 92.96,670.43 92.51,670.2 92.07,670.93 91.63,672.96 91.19,673.29 90.74,675.07 90.3,672.42 89.68,672.91 89.06,672.53 88.43,673.18 87.81,673.95 87.19,674.84 86.57,673.18 85.94,674.25 85.32,673.56 84.7,673.97 84.08,674.7 83.46,673.11 82.83,672.92 82.21,674.23 81.59,674.69 80.97,673.07 80.34,673.38 79.72,673.83 79.1,673.16Z" fill="#7880b8"/>
<path d="M79.1,671.3 79.72,671.27 80.34,671.23 80.97,671.2 81.59,671.17 82.21,671.13 82.83,671.1 83.46,671.07 84.08,671.03 84.7,671 85.32,670.97 85.94,670.93 86.57,670.9 87.19,670.87 87.81,670.83 88.43,670.8 89.06,670.77 89.68,670.73 90.3,670.7 90.74,670.27 91.19,669.84 91.63,669.41 92.07,668.99 92.51,668.56 92.96,668.13 93.4,667.7 93.6,668.31 93.8,668.92 94,669.53 94.2,670.14 94.4,670.75 94.6,671.36 94.8,671.97 95,672.58 95.2,673.19 95.4,673.8 95.64,674.35 95.88,674.91 96.12,675.46 96.35,676.02 96.59,676.57 96.83,677.12 97.07,677.68 97.31,678.23 97.55,678.78 97.78,679.34 98.02,679.89 98.26,680.45 98.5,681 98.64,680.34 98.78,679.68 98.92,679.02 99.06,678.36 99.2,677.7 99.47,677.16 99.73,676.61 100,676.07 100.27,675.52 100.53,674.98 100.8,674.43 101.07,673.89 101.33,673.34 101.6,672.8 102.17,672.6 102.73,672.4 103.3,672.2 103.89,672.1 104.49,672 105.08,671.9 105.67,671.8 106.26,671.7 106.86,671.6 107.45,671.5 108.04,671.4 108.64,671.3 109.23,671.2 109.82,671.1 110.41,671 111.01,670.9 111.6,670.8 112.13,670.47 112.66,670.14 113.19,669.81 113.71,669.49 114.24,669.16 114.77,668.83 115.3,668.5 115.83,668.17 116.36,667.84 116.89,667.51 117.41,667.19 117.94,666.86 118.47,666.53 119,666.2 119.53,665.87 120.06,665.54 120.59,665.21 121.11,664.89 121.64,664.56 122.17,664.23 122.7,663.9 123.28,663.73 123.86,663.55 124.44,663.38 125.02,663.2 125.6,663.02 126.17,662.85 126.75,662.67 127.33,662.5 127.91,662.33 128.49,662.15 129.07,661.98 129.65,661.8 130.23,661.62 130.81,661.45 131.39,661.27 131.97,661.1 132.55,660.93 133.12,660.75 133.7,660.58 134.28,660.4 134.86,660.23 135.44,660.05 136.02,659.88 136.6,659.7 137.18,659.93 137.76,660.17 138.34,660.4 138.92,660.63 139.5,660.87 140.07,661.1 140.65,661.33 141.23,661.57 141.81,661.8 142.39,662.03 142.97,662.27 143.55,662.5 144.13,662.73 144.71,662.97 145.29,663.2 145.87,663.43 146.45,663.67 147.03,663.9 147.6,664.13 148.18,664.37 148.76,664.6 149.34,664.83 149.92,665.07 150.5,665.3 151.08,665.44 151.67,665.58 152.25,665.73 152.84,665.87 153.42,666.01 154.01,666.15 154.59,666.29 155.17,666.44 155.76,666.58 156.34,666.72 156.93,666.86 157.51,667.01 158.09,667.15 158.68,667.29 159.26,667.43 159.85,667.57 160.43,667.72 161.02,667.86 161.6,668 162.17,668.23 162.75,668.47 163.32,668.7 163.9,668.93 164.47,669.17 165.05,669.4 165.62,669.63 166.2,669.87 166.78,670.1 167.35,670.33 167.93,670.57 168.5,670.8 169.07,671.03 169.65,671.27 170.22,671.5 170.8,671.73 171.38,671.97 171.95,672.2 172.53,672.43 173.1,672.67 173.68,672.9 174.25,673.13 174.83,673.37 175.4,673.6 176,673.4 176.6,673.2 177.2,673 177.8,672.8 178.4,672.6 179,672.4 179.6,672.2 180.2,672 180.8,671.8 181.4,671.6 182,671.4 182.6,671.2 183.2,671 183.8,670.8 184.34,670.49 184.88,670.19 185.42,669.88 185.96,669.58 186.49,669.27 187.03,668.97 187.57,668.66 188.11,668.36 188.65,668.05 189.19,667.74 189.73,667.44 190.27,667.13 190.81,666.83 191.34,666.52 191.88,666.22 192.42,665.91 192.96,665.61 193.5,665.3 194.12,665.37 194.75,665.43 195.38,665.5 196,665.56 196.62,665.62 197.25,665.69 197.88,665.75 198.5,665.82 199.12,665.88 199.75,665.95 200.38,666.01 201,666.08 201.62,666.14 202.25,666.21 202.88,666.27 203.5,666.34 204.12,666.4 204.75,666.47 205.38,666.53 206,666.6 206.59,666.8 207.19,667 207.78,667.2 208.37,667.4 208.96,667.6 209.56,667.8 210.15,668 210.74,668.2 211.34,668.4 211.93,668.6 212.52,668.8 213.11,669 213.71,669.2 214.3,669.4 214.76,669.79 215.22,670.18 215.68,670.57 216.14,670.96 216.61,671.34 217.07,671.73 217.53,672.12 217.99,672.51 218.45,672.9 218.91,673.29 219.37,673.68 219.83,674.07 220.29,674.46 220.76,674.84 221.22,675.23 221.68,675.62 222.14,676.01 222.6,676.4 223.15,676.67 223.71,676.95 224.26,677.22 224.81,677.49 225.37,677.77 225.92,678.04 226.47,678.31 227.03,678.59 227.58,678.86 228.13,679.13 228.69,679.41 229.24,679.68 229.79,679.95 230.35,680.23 230.9,680.5 231.5,680.44 232.11,680.38 232.71,680.32 233.32,680.26 233.92,680.2 234.53,680.13 235.13,680.07 235.73,680.01 236.34,679.95 236.94,679.89 237.55,679.83 238.15,679.77 238.76,679.71 239.36,679.65 239.97,679.59 240.57,679.53 241.17,679.47 241.78,679.4 242.38,679.34 242.99,679.28 243.59,679.22 244.2,679.16 244.8,679.1 245.38,679.32 245.97,679.54 246.55,679.76 247.14,679.98 247.72,680.21 248.31,680.43 248.89,680.65 249.47,680.87 250.06,681.09 250.64,681.31 251.23,681.53 251.81,681.75 252.39,681.97 252.98,682.19 253.56,682.42 254.15,682.64 254.73,682.86 255.32,683.08 255.9,683.3 256.49,683.4 257.09,683.5 257.68,683.6 258.27,683.7 258.86,683.8 259.46,683.9 260.05,684 260.64,684.1 261.24,684.2 261.83,684.3 262.42,684.4 263.01,684.5 263.61,684.6 264.2,684.7 264.75,684.97 265.31,685.25 265.86,685.52 266.41,685.79 266.97,686.07 267.52,686.34 268.07,686.61 268.63,686.89 269.18,687.16 269.73,687.43 270.29,687.71 270.84,687.98 271.39,688.25 271.95,688.53 272.5,688.8 273.08,689.06 273.66,689.32 274.24,689.58 274.82,689.84 275.4,690.1 275.62,690.68 275.84,691.26 276.07,691.83 276.29,692.41 276.51,692.99 276.73,693.57 276.95,694.15 277.17,694.73 277.4,695.3 277.62,695.88 277.84,696.46 278.06,697.04 278.28,697.62 278.5,698.2 278.73,698.77 278.95,699.35 279.17,699.93 279.39,700.51 279.61,701.09 279.83,701.67 280.06,702.24 280.28,702.82 280.5,703.4 281.07,703.63 281.63,703.87 282.2,704.1 282.77,704.33 283.33,704.57 283.9,704.8 284.47,705.03 285.03,705.27 285.6,705.5 286.14,705.23 286.67,704.96 287.21,704.69 287.75,704.43 288.28,704.16 288.82,703.89 289.36,703.62 289.89,703.35 290.43,703.08 290.97,702.82 291.51,702.55 292.04,702.28 292.58,702.01 293.12,701.74 293.65,701.47 294.19,701.21 294.73,700.94 295.26,700.67 295.8,700.4 296.42,700.29 297.03,700.19 297.65,700.08 298.26,699.98 298.88,699.88 299.49,699.77 300.11,699.66 300.72,699.56 301.34,699.45 301.95,699.35 302.56,699.25 303.18,699.14 303.8,699.03 304.41,698.93 305.03,698.82 305.64,698.72 306.25,698.62 306.87,698.51 307.49,698.4 308.1,698.3 308.7,698.22 309.29,698.13 309.89,698.05 310.48,697.97 311.08,697.88 311.68,697.8 312.27,697.72 312.87,697.63 313.46,697.55 314.06,697.47 314.65,697.38 315.25,697.3 315.85,697.22 316.44,697.13 317.04,697.05 317.63,696.97 318.23,696.88 318.82,696.8 319.42,696.72 320.02,696.63 320.61,696.55 321.21,696.47 321.8,696.38 322.4,696.3 323,696.17 323.59,696.04 324.19,695.91 324.78,695.78 325.38,695.65 325.97,695.52 326.57,695.4 327.17,695.27 327.76,695.14 328.36,695.01 328.95,694.88 329.55,694.75 330.15,694.62 330.74,694.49 331.34,694.36 331.93,694.23 332.53,694.1 333.12,693.98 333.72,693.85 334.32,693.72 334.91,693.59 335.51,693.46 336.1,693.33 336.7,693.2 337.29,693.04 337.89,692.89 338.48,692.73 339.07,692.57 339.66,692.41 340.26,692.26 340.85,692.1 341.44,691.94 342.04,691.79 342.63,691.63 343.22,691.47 343.81,691.31 344.41,691.16 345,691 345.59,690.79 346.17,690.59 346.76,690.38 347.34,690.17 347.93,689.96 348.51,689.76 349.1,689.55 349.69,689.34 350.27,689.14 350.86,688.93 351.44,688.72 352.03,688.51 352.61,688.31 353.2,688.1 353.24,687.49 353.28,686.89 353.32,686.28 353.36,685.68 353.41,685.07 353.45,684.46 353.49,683.86 353.53,683.25 353.57,682.65 353.61,682.04 353.65,681.44 353.69,680.83 353.74,680.22 353.78,679.62 353.82,679.01 353.86,678.41 353.9,677.8 353.94,677.19 353.98,676.59 354.02,675.98 354.06,675.38 354.11,674.77 354.15,674.16 354.19,673.56 354.23,672.95 354.27,672.35 354.31,671.74 354.35,671.14 354.39,670.53 354.44,669.92 354.48,669.32 354.52,668.71 354.56,668.11 354.6,667.5 354.67,668.1 354.73,668.71 354.8,669.31 354.86,669.91 354.93,670.52 354.99,671.12 355.06,671.72 355.12,672.33 355.19,672.93 355.26,673.53 355.32,674.14 355.39,674.74 355.45,675.34 355.52,675.95 355.58,676.55 355.65,677.16 355.71,677.76 355.78,678.36 355.84,678.97 355.91,679.57 355.98,680.17 356.04,680.78 356.11,681.38 356.17,681.98 356.24,682.59 356.3,683.19 356.37,683.79 356.43,684.4 356.5,685 356.65,684.42 356.81,683.84 356.96,683.26 357.12,682.68 357.27,682.1 357.42,681.52 357.58,680.93 357.73,680.35 357.88,679.77 358.04,679.19 358.19,678.61 358.35,678.03 358.5,677.45 358.65,676.87 358.81,676.29 358.96,675.71 359.12,675.13 359.27,674.55 359.42,673.97 359.58,673.38 359.73,672.8 359.88,672.22 360.04,671.64 360.19,671.06 360.35,670.48 360.5,669.9 361.07,670.19 361.65,670.48 362.23,670.76 362.8,671.05 363.38,671.34 363.95,671.62 364.53,671.91 365.1,672.2 365.42,672.73 365.74,673.25 366.05,673.78 366.37,674.31 366.69,674.84 367.01,675.36 367.33,675.89 367.65,676.42 367.96,676.95 368.28,677.47 368.6,678 368.92,677.47 369.24,676.95 369.55,676.42 369.87,675.89 370.19,675.36 370.51,674.84 370.83,674.31 371.15,673.78 371.46,673.25 371.78,672.73 372.1,672.2 372.69,672.05 373.28,671.9 373.86,671.75 374.45,671.6 375.04,671.45 375.62,671.3 376.21,671.15 376.8,671 377.14,670.5 377.49,670 377.83,669.5 378.17,669 378.51,668.5 378.86,668 379.2,667.5 379.71,667.89 380.22,668.28 380.73,668.67 381.24,669.06 381.76,669.44 382.27,669.83 382.78,670.22 383.29,670.61 383.8,671 384.34,670.68 384.87,670.36 385.41,670.05 385.95,669.73 386.48,669.41 387.02,669.09 387.55,668.77 388.09,668.45 388.63,668.14 389.16,667.82 389.7,667.5 390.29,667.34 390.87,667.17 391.46,667.01 392.04,666.84 392.63,666.68 393.21,666.51 393.8,666.35 394.39,666.19 394.97,666.02 395.56,665.86 396.14,665.69 396.73,665.53 397.31,665.36 397.9,665.2 398.47,665.49 399.05,665.78 399.62,666.06 400.2,666.35 400.77,666.64 401.35,666.92 401.93,667.21 402.5,667.5 403.04,667.77 403.58,668.04 404.12,668.31 404.65,668.58 405.19,668.85 405.73,669.12 406.27,669.38 406.81,669.65 407.35,669.92 407.88,670.19 408.42,670.46 408.96,670.73 409.5,671 410.12,671.07 410.74,671.14 411.35,671.21 411.97,671.28 412.59,671.35 413.21,671.42 413.82,671.49 414.44,671.56 415.06,671.64 415.68,671.71 416.29,671.78 416.91,671.85 417.53,671.92 418.15,671.99 418.76,672.06 419.38,672.13 420,672.2 420.61,672.35 421.22,672.49 421.83,672.64 422.44,672.78 423.05,672.93 423.65,673.07 424.26,673.22 424.87,673.36 425.48,673.51 426.09,673.65 426.7,673.8 427.31,673.92 427.91,674.04 428.52,674.15 429.12,674.27 429.73,674.39 430.34,674.51 430.94,674.62 431.55,674.74 432.15,674.86 432.76,674.98 433.36,675.09 433.97,675.21 434.58,675.33 435.18,675.45 435.79,675.56 436.39,675.68 437,675.8 437.6,675.74 438.2,675.68 438.8,675.62 439.4,675.56 440,675.51 440.6,675.45 441.2,675.39 441.8,675.33 442.4,675.27 443,675.21 443.6,675.15 444.2,675.09 444.8,675.04 445.4,674.98 446,674.92 446.6,674.86 447.2,674.8 447.81,674.9 448.43,675.01 449.05,675.12 449.66,675.22 450.27,675.32 450.89,675.43 451.5,675.53 452.12,675.64 452.74,675.75 453.35,675.85 453.96,675.95 454.58,676.06 455.19,676.16 455.81,676.27 456.43,676.38 457.04,676.48 457.65,676.58 458.27,676.69 458.88,676.79 459.5,676.9 460.08,676.68 460.66,676.46 461.24,676.24 461.81,676.01 462.39,675.79 462.97,675.57 463.55,675.35 464.13,675.13 464.71,674.91 465.29,674.69 465.86,674.46 466.44,674.24 467.02,674.02 467.6,673.8 468.22,673.84 468.84,673.89 469.46,673.93 470.08,673.98 470.7,674.02 471.32,674.07 471.94,674.12 472.56,674.16 473.18,674.21 473.8,674.25 474.42,674.29 475.04,674.34 475.66,674.38 476.28,674.43 476.9,674.48 477.52,674.52 478.14,674.57 478.76,674.61 479.38,674.66 480,674.7 480.61,674.76 481.21,674.82 481.82,674.88 482.42,674.94 483.03,675 483.63,675.06 484.24,675.12 484.85,675.18 485.45,675.24 486.06,675.3 486.66,675.36 487.27,675.42 487.87,675.48 488.48,675.54 489.09,675.6 489.69,675.66 490.3,675.72 490.9,675.78 491.51,675.84 492.11,675.9 492.72,675.96 493.33,676.02 493.93,676.08 494.54,676.14 495.14,676.2 495.75,676.26 496.35,676.32 496.96,676.38 497.57,676.44 498.17,676.5 498.78,676.56 499.38,676.62 499.99,676.68 500.59,676.74 501.2,676.8 501.8,676.83 502.41,676.86 503.01,676.89 503.61,676.91 504.21,676.94 504.82,676.97 505.42,677 506.02,677.03 506.63,677.06 507.23,677.09 507.83,677.11 508.43,677.14 509.04,677.17 509.64,677.2 510.24,677.23 510.85,677.26 511.45,677.29 512.05,677.31 512.65,677.34 513.26,677.37 513.86,677.4 514.46,677.43 515.07,677.46 515.67,677.49 516.27,677.51 516.87,677.54 517.48,677.57 518.08,677.6 518.68,677.63 519.29,677.66 519.89,677.69 520.49,677.71 521.09,677.74 521.7,677.77 522.3,677.8 522.92,677.85 523.54,677.89 524.16,677.94 524.78,677.98 525.4,678.03 526.02,678.07 526.65,678.12 527.27,678.17 527.89,678.21 528.51,678.26 529.13,678.3 529.75,678.35 530.37,678.4 530.99,678.44 531.61,678.49 532.23,678.53 532.85,678.58 533.48,678.62 534.1,678.67 534.72,678.72 535.34,678.76 535.96,678.81 536.58,678.85 537.2,678.9 537.79,679.07 538.38,679.24 538.98,679.4 539.57,679.57 540.16,679.74 540.75,679.91 541.34,680.08 541.94,680.24 542.53,680.41 543.12,680.58 543.71,680.75 544.3,680.92 544.9,681.08 545.49,681.25 546.08,681.42 546.67,681.59 547.26,681.76 547.86,681.92 548.45,682.09 549.04,682.26 549.63,682.43 550.22,682.6 550.82,682.76 551.41,682.93 552,683.1 552.58,682.86 553.15,682.62 553.73,682.38 554.31,682.14 554.89,681.9 555.46,681.65 556.04,681.41 556.62,681.17 557.2,680.93 557.77,680.69 558.35,680.45 558.93,680.21 559.5,679.97 560.08,679.73 560.66,679.49 561.24,679.25 561.81,679 562.39,678.76 562.97,678.52 563.55,678.28 564.12,678.04 564.7,677.8 565.28,677.61 565.85,677.42 566.43,677.23 567.01,677.04 567.59,676.85 568.16,676.65 568.74,676.46 569.32,676.27 569.9,676.08 570.47,675.89 571.05,675.7 571.63,675.51 572.2,675.32 572.78,675.13 573.36,674.94 573.94,674.75 574.51,674.55 575.09,674.36 575.67,674.17 576.25,673.98 576.82,673.79 577.4,673.6 578,673.5 578.61,673.4 579.21,673.3 579.82,673.2 580.42,673.1 581.03,673 581.63,672.9 582.24,672.8 582.84,672.7 583.45,672.6 584.05,672.5 584.66,672.4 585.26,672.3 585.87,672.2 586.47,672.1 587.08,672 587.68,671.9 588.29,671.8 588.89,671.7 589.5,671.6 590.1,671.5 590.7,671.35 591.31,671.2 591.91,671.04 592.52,670.89 593.12,670.74 593.73,670.59 594.33,670.43 594.94,670.28 595.54,670.13 596.15,669.98 596.75,669.82 597.36,669.67 597.96,669.52 598.57,669.37 599.17,669.21 599.78,669.06 600.38,668.91 600.99,668.76 601.59,668.6 602.2,668.45 602.8,668.3 603.4,668.21 603.99,668.12 604.59,668.03 605.18,667.93 605.78,667.84 606.37,667.75 606.97,667.66 607.57,667.57 608.16,667.48 608.76,667.39 609.35,667.3 609.95,667.2 610.54,667.11 611.14,667.02 611.73,666.93 612.33,666.84 612.93,666.75 613.52,666.66 614.12,666.57 614.71,666.47 615.31,666.38 615.9,666.29 616.5,666.2" fill="none" stroke="#7880b8" stroke-width="2.25" stroke-linejoin="round" stroke-linecap="round"/>
<path d="M79.1,783.1 79.72,783.22 80.34,783.33 80.97,783.45 81.59,783.57 82.21,783.68 82.83,783.8 83.46,783.92 84.08,784.03 84.7,784.15 85.32,784.27 85.94,784.38 86.57,784.5 87.19,784.62 87.81,784.73 88.43,784.85 89.06,784.97 89.68,785.08 90.3,785.2 91.15,785.1" fill="none" stroke="#a8407c" stroke-width="2.5" stroke-linejoin="round" stroke-linecap="round"/>
<path d="M90.3,785.2 91.15,785.1 92,785" fill="none" stroke="#a8407c" stroke-width="2.25" stroke-linejoin="round" stroke-linecap="round"/>
<path d="M91.15,785.1 92,785 92,784.4 92,783.8 92,783.2 92.01,782.59 92.01,781.99 92.01,781.39 92.01,780.79 92.01,780.19 92.02,779.59 92.02,778.98 92.02,778.38 92.02,777.78 92.02,777.18 92.02,776.58 92.03,775.98 92.03,775.37 92.03,774.77 92.03,774.17 92.03,773.57 92.03,772.97 92.03,772.37 92.04,771.76 92.04,771.16 92.04,770.56 92.04,769.96 92.04,769.36 92.05,768.75 92.05,768.15 92.05,767.55 92.05,766.95 92.05,766.35 92.05,765.75 92.06,765.14 92.06,764.54 92.06,763.94 92.06,763.34 92.06,762.74 92.06,762.14 92.06,761.53 92.07,760.93 92.07,760.33 92.07,759.73 92.07,759.13 92.07,758.53 92.08,757.92 92.08,757.32 92.08,756.72 92.08,756.12 92.08,755.52 92.08,754.92 92.08,754.32 92.09,753.71 92.09,753.11 92.09,752.51 92.09,751.91 92.09,751.31 92.09,750.71 92.1,750.1 92.1,749.5 92.1,748.9 92.1,748.3 92.1,747.7 92.11,747.1 92.11,746.49 92.11,745.89 92.11,745.29 92.11,744.69 92.11,744.09 92.11,743.49 92.12,742.88 92.12,742.28 92.12,741.68 92.12,741.08 92.12,740.48 92.12,739.88 92.13,739.27 92.13,738.67 92.13,738.07 92.13,737.47 92.13,736.87 92.14,736.26 92.14,735.66 92.14,735.06 92.14,734.46 92.14,733.86 92.14,733.26 92.14,732.65 92.15,732.05 92.15,731.45 92.15,730.85 92.15,730.25 92.15,729.65 92.16,729.04 92.16,728.44 92.16,727.84 92.16,727.24 92.16,726.64 92.16,726.04 92.17,725.43 92.17,724.83 92.17,724.23 92.17,723.63 92.17,723.03 92.17,722.43 92.17,721.83 92.18,721.22 92.18,720.62 92.18,720.02 92.18,719.42 92.18,718.82 92.19,718.22 92.19,717.61 92.19,717.01 92.19,716.41 92.19,715.81 92.19,715.21 92.19,714.61 92.2,714 92.2,713.4 92.2,712.8 92.2,712.2 92.2,711.6 92.2,711 92.21,710.39 92.21,709.79 92.21,709.19 92.21,708.59 92.21,707.99 92.22,707.38 92.22,706.78 92.22,706.18 92.22,705.58 92.22,704.98 92.22,704.38 92.22,703.77 92.23,703.17 92.23,702.57 92.23,701.97 92.23,701.37 92.23,700.77 92.23,700.16 92.24,699.56 92.24,698.96 92.24,698.36 92.24,697.76 92.24,697.16 92.25,696.56 92.25,695.95 92.25,695.35 92.25,694.75 92.25,694.15 92.25,693.55 92.25,692.94 92.26,692.34 92.26,691.74 92.26,691.14 92.26,690.54 92.26,689.94 92.27,689.34 92.27,688.73 92.27,688.13 92.27,687.53 92.27,686.93 92.27,686.33 92.28,685.73 92.28,685.12 92.28,684.52 92.28,683.92 92.28,683.32 92.28,682.72 92.28,682.12 92.29,681.51 92.29,680.91 92.29,680.31 92.29,679.71 92.29,679.11 92.3,678.5 92.3,677.9 92.3,677.3 92.3,676.7 92.3,676.1 92.3,675.5 92.31,674.89 92.31,674.29 92.31,673.69 92.31,673.09 92.31,672.49 92.31,671.89 92.31,671.28 92.32,670.68 92.32,670.08 92.32,669.48 92.32,668.88 92.32,668.28 92.33,667.67 92.33,667.07 92.33,666.47 92.33,665.87 92.33,665.27 92.33,664.67 92.33,664.07 92.34,663.46 92.34,662.86 92.34,662.26 92.34,661.66 92.34,661.06 92.34,660.46 92.35,659.85 92.35,659.25 92.35,658.65 92.35,658.05 92.35,657.45 92.36,656.85 92.36,656.24 92.36,655.64 92.36,655.04 92.36,654.44 92.36,653.84 92.36,653.24 92.37,652.63 92.37,652.03 92.37,651.43 92.37,650.83 92.37,650.23 92.38,649.62 92.38,649.02 92.38,648.42 92.38,647.82 92.38,647.22 92.38,646.62 92.39,646.01 92.39,645.41 92.39,644.81 92.39,644.21 92.39,643.61 92.39,643.01 92.39,642.4 92.4,641.8 92.4,641.2 92.4,640.6 92.4,640 92.4,639.4 92.41,638.79 92.41,638.19 92.41,637.59 92.41,636.99 92.41,636.39 92.41,635.79 92.42,635.18 92.42,634.58 92.42,633.98 92.42,633.38 92.42,632.78 92.42,632.18 92.42,631.58 92.43,630.97 92.43,630.37 92.43,629.77 92.43,629.17 92.43,628.57 92.44,627.97 92.44,627.36 92.44,626.76 92.44,626.16 92.44,625.56 92.44,624.96 92.44,624.36 92.45,623.75 92.45,623.15 92.45,622.55 92.45,621.95 92.45,621.35 92.45,620.75 92.46,620.14 92.46,619.54 92.46,618.94 92.46,618.34 92.46,617.74 92.47,617.13 92.47,616.53 92.47,615.93 92.47,615.33 92.47,614.73 92.47,614.13 92.47,613.52 92.48,612.92 92.48,612.32 92.48,611.72 92.48,611.12 92.48,610.52 92.48,609.91 92.49,609.31 92.49,608.71 92.49,608.11 92.49,607.51 92.49,606.91 92.5,606.31 92.5,605.7 92.5,605.1 92.5,604.5 92.5,605.1 92.5,605.7 92.51,606.3 92.51,606.9 92.51,607.5 92.51,608.1 92.51,608.71 92.51,609.31 92.52,609.91 92.52,610.51 92.52,611.11 92.52,611.71 92.52,612.31 92.52,612.91 92.53,613.51 92.53,614.11 92.53,614.71 92.53,615.31 92.53,615.91 92.53,616.51 92.54,617.12 92.54,617.72 92.54,618.32 92.54,618.92 92.54,619.52 92.54,620.12 92.55,620.72 92.55,621.32 92.55,621.92 92.55,622.52 92.55,623.12 92.55,623.72 92.56,624.32 92.56,624.92 92.56,625.53 92.56,626.13 92.56,626.73 92.56,627.33 92.57,627.93 92.57,628.53 92.57,629.13 92.57,629.73 92.57,630.33 92.57,630.93 92.58,631.53 92.58,632.13 92.58,632.73 92.58,633.33 92.58,633.94 92.58,634.54 92.59,635.14 92.59,635.74 92.59,636.34 92.59,636.94 92.59,637.54 92.6,638.14 92.6,638.74 92.6,639.34 92.6,639.94 92.6,640.54 92.6,641.14 92.61,641.75 92.61,642.35 92.61,642.95 92.61,643.55 92.61,644.15 92.61,644.75 92.62,645.35 92.62,645.95 92.62,646.55 92.62,647.15 92.62,647.75 92.62,648.35 92.63,648.95 92.63,649.55 92.63,650.16 92.63,650.76 92.63,651.36 92.63,651.96 92.64,652.56 92.64,653.16 92.64,653.76 92.64,654.36 92.64,654.96 92.64,655.56 92.65,656.16 92.65,656.76 92.65,657.36 92.65,657.96 92.65,658.57 92.65,659.17 92.66,659.77 92.66,660.37 92.66,660.97 92.66,661.57 92.66,662.17 92.66,662.77 92.67,663.37 92.67,663.97 92.67,664.57 92.67,665.17 92.67,665.77 92.67,666.38 92.68,666.98 92.68,667.58 92.68,668.18 92.68,668.78 92.68,669.38 92.69,669.98 92.69,670.58 92.69,671.18 92.69,671.78 92.69,672.38 92.69,672.98 92.7,673.58 92.7,674.18 92.7,674.79 92.7,675.39 92.7,675.99 92.7,676.59 92.71,677.19 92.71,677.79 92.71,678.39 92.71,678.99 92.71,679.59 92.71,680.19 92.72,680.79 92.72,681.39 92.72,681.99 92.72,682.59 92.72,683.2 92.72,683.8 92.73,684.4 92.73,685 92.73,685.6 92.73,686.2 92.73,686.8 92.73,687.4 92.74,688 92.74,688.6 92.74,689.2 92.74,689.8 92.74,690.4 92.74,691 92.75,691.61 92.75,692.21 92.75,692.81 92.75,693.41 92.75,694.01 92.75,694.61 92.76,695.21 92.76,695.81 92.76,696.41 92.76,697.01 92.76,697.61 92.77,698.21 92.77,698.81 92.77,699.42 92.77,700.02 92.77,700.62 92.77,701.22 92.78,701.82 92.78,702.42 92.78,703.02 92.78,703.62 92.78,704.22 92.78,704.82 92.79,705.42 92.79,706.02 92.79,706.62 92.79,707.22 92.79,707.83 92.79,708.43 92.8,709.03 92.8,709.63 92.8,710.23 92.8,710.83 92.8,711.43 92.8,712.03 92.81,712.63 92.81,713.23 92.81,713.83 92.81,714.43 92.81,715.03 92.81,715.63 92.82,716.24 92.82,716.84 92.82,717.44 92.82,718.04 92.82,718.64 92.82,719.24 92.83,719.84 92.83,720.44 92.83,721.04 92.83,721.64 92.83,722.24 92.83,722.84 92.84,723.44 92.84,724.04 92.84,724.65 92.84,725.25 92.84,725.85 92.84,726.45 92.85,727.05 92.85,727.65 92.85,728.25 92.85,728.85 92.85,729.45 92.86,730.05 92.86,730.65 92.86,731.25 92.86,731.85 92.86,732.46 92.86,733.06 92.87,733.66 92.87,734.26 92.87,734.86 92.87,735.46 92.87,736.06 92.87,736.66 92.88,737.26 92.88,737.86 92.88,738.46 92.88,739.06 92.88,739.66 92.88,740.26 92.89,740.87 92.89,741.47 92.89,742.07 92.89,742.67 92.89,743.27 92.89,743.87 92.9,744.47 92.9,745.07 92.9,745.67 92.9,746.27 92.9,746.87 92.9,747.47 92.91,748.07 92.91,748.67 92.91,749.28 92.91,749.88 92.91,750.48 92.91,751.08 92.92,751.68 92.92,752.28 92.92,752.88 92.92,753.48 92.92,754.08 92.92,754.68 92.93,755.28 92.93,755.88 92.93,756.48 92.93,757.08 92.93,757.69 92.93,758.29 92.94,758.89 92.94,759.49 92.94,760.09 92.94,760.69 92.94,761.29 92.95,761.89 92.95,762.49 92.95,763.09 92.95,763.69 92.95,764.29 92.95,764.89 92.96,765.5 92.96,766.1 92.96,766.7 92.96,767.3 92.96,767.9 92.96,768.5 92.97,769.1 92.97,769.7 92.97,770.3 92.97,770.9 92.97,771.5 92.97,772.1 92.98,772.7 92.98,773.3 92.98,773.91 92.98,774.51 92.98,775.11 92.98,775.71 92.99,776.31 92.99,776.91 92.99,777.51 92.99,778.11 92.99,778.71 92.99,779.31 93,779.91 93,780.51 93,781.11 93,781.71 93,782.32 93,782.92 93.01,783.52 93.01,784.12 93.01,784.72 93.01,785.32 93.01,785.92 93.01,786.52 93.02,787.12 93.02,787.72 93.02,788.32 93.02,788.92 93.02,789.52 93.03,790.12 93.03,790.73 93.03,791.33 93.03,791.93 93.03,792.53 93.03,793.13 93.04,793.73 93.04,794.33 93.04,794.93 93.04,795.53 93.04,796.13 93.04,796.73 93.05,797.33 93.05,797.93 93.05,798.54 93.05,799.14 93.05,799.74 93.05,800.34 93.06,800.94 93.06,801.54 93.06,802.14 93.06,802.74 93.06,803.34 93.06,803.94 93.07,804.54 93.07,805.14 93.07,805.74 93.07,806.34 93.07,806.95 93.07,807.55 93.08,808.15 93.08,808.75 93.08,809.35 93.08,809.95 93.08,810.55 93.08,811.15 93.09,811.75 93.09,812.35 93.09,812.95 93.09,813.55 93.09,814.15 93.09,814.75 93.1,815.36 93.1,815.96 93.1,816.56 93.1,817.16 93.1,817.76 93.1,818.36 93.11,818.96 93.11,819.56 93.11,820.16 93.11,820.76 93.11,821.36 93.12,821.96 93.12,822.56 93.12,823.17 93.12,823.77 93.12,824.37 93.12,824.97 93.13,825.57 93.13,826.17 93.13,826.77 93.13,827.37 93.13,827.97 93.13,828.57 93.14,829.17 93.14,829.77 93.14,830.37 93.14,830.97 93.14,831.58 93.14,832.18 93.15,832.78 93.15,833.38 93.15,833.98 93.15,834.58 93.15,835.18 93.15,835.78 93.16,836.38 93.16,836.98 93.16,837.58 93.16,838.18 93.16,838.78 93.16,839.38 93.17,839.99 93.17,840.59 93.17,841.19 93.17,841.79 93.17,842.39 93.17,842.99 93.18,843.59 93.18,844.19 93.18,844.79 93.18,845.39 93.18,845.99 93.18,846.59 93.19,847.19 93.19,847.79 93.19,848.4 93.19,849 93.19,849.6 93.19,850.2 93.2,850.8 93.2,851.4 93.2,852 93.21,851.4 93.21,850.79 93.22,850.19 93.23,849.59 93.24,848.99 93.24,848.38 93.25,847.78 93.26,847.18 93.27,846.57 93.27,845.97 93.28,845.37 93.29,844.76 93.3,844.16 93.3,843.56 93.31,842.96 93.32,842.35 93.33,841.75 93.33,841.15 93.34,840.54 93.35,839.94 93.35,839.34 93.36,838.74 93.37,838.13 93.38,837.53 93.38,836.93 93.39,836.32 93.4,835.72 93.41,835.12 93.41,834.51 93.42,833.91 93.43,833.31 93.44,832.71 93.44,832.1 93.45,831.5 93.46,830.9 93.46,830.29 93.47,829.69 93.48,829.09 93.49,828.49 93.49,827.88 93.5,827.28 93.51,826.68 93.52,826.07 93.52,825.47 93.53,824.87 93.54,824.26 93.55,823.66 93.55,823.06 93.56,822.46 93.57,821.85 93.58,821.25 93.58,820.65 93.59,820.04 93.6,819.44 93.6,818.84 93.61,818.24 93.62,817.63 93.63,817.03 93.63,816.43 93.64,815.82 93.65,815.22 93.66,814.62 93.66,814.01 93.67,813.41 93.68,812.81 93.69,812.21 93.69,811.6 93.7,811 93.71,810.4 93.71,809.79 93.72,809.19 93.73,808.59 93.74,807.99 93.74,807.38 93.75,806.78 93.76,806.18 93.77,805.57 93.77,804.97 93.78,804.37 93.79,803.76 93.8,803.16 93.8,802.56 93.81,801.96 93.82,801.35 93.83,800.75 93.83,800.15" fill="none" stroke="#a8407c" stroke-width="2" stroke-linejoin="round" stroke-linecap="round"/>
<path d="M93.83,800.75 93.83,800.15 93.84,799.54 93.85,798.94 93.85,798.34 93.86,797.74 93.87,797.13 93.88,796.53 93.88,795.93 93.89,795.32 93.9,794.72 93.91,794.12 93.91,793.51 93.92,792.91 93.93,792.31 93.94,791.71 93.94,791.1 93.95,790.5 93.96,789.9 93.96,789.29 93.97,788.69 93.98,788.09 93.99,787.49 93.99,786.88 94,786.28 94.01,785.68 94.02,785.07 94.02,784.47 94.03,783.87 94.04,783.26 94.05,782.66 94.05,782.06 94.06,781.46 94.07,780.85 94.08,780.25 94.08,779.65 94.09,779.04 94.1,778.44 94.1,777.84 94.11,777.24 94.12,776.63 94.13,776.03 94.13,775.43 94.14,774.82 94.15,774.22 94.16,773.62 94.16,773.01 94.17,772.41 94.18,771.81 94.19,771.21 94.19,770.6 94.2,770" fill="none" stroke="#a8407c" stroke-width="1.75" stroke-linejoin="round" stroke-linecap="round"/>
<path d="M94.2,789.5 94.22,788.89 94.24,788.28 94.26,787.67 94.28,787.06 94.3,786.45 94.33,785.84 94.35,785.24 94.37,784.63 94.39,784.02 94.41,783.41 94.43,782.8 94.45,782.19 94.47,781.58 94.49,780.97 94.51,780.36 94.54,779.75 94.56,779.14 94.58,778.53 94.6,777.93 94.62,777.32 94.64,776.71 94.66,776.1 94.68,775.49 94.7,774.88 94.72,774.27 94.75,773.66 94.77,773.05 94.79,772.44 94.81,771.83 94.83,771.22 94.85,770.61 94.87,770.01 94.89,769.4 94.91,768.79 94.93,768.18 94.95,767.57 94.98,766.96 95,766.35 95.02,765.74 95.04,765.13 95.06,764.52 95.08,763.91 95.1,763.3 95.12,762.69 95.14,762.09 95.16,761.48 95.19,760.87 95.21,760.26 95.23,759.65 95.25,759.04 95.27,758.43 95.29,757.82 95.31,757.21 95.33,756.6 95.35,755.99 95.37,755.38 95.4,754.78 95.42,754.17 95.44,753.56 95.46,752.95 95.48,752.34 95.5,751.73 95.52,752.34 95.55,752.95 95.57,753.56 95.59,754.17 95.62,754.78 95.64,755.39 95.67,756 95.69,756.61 95.71,757.22 95.74,757.83 95.76,758.44 95.78,759.05 95.81,759.66 95.83,760.27 95.85,760.88 95.88,761.49 95.9,762.1 95.93,762.71 95.95,763.32 95.97,763.93 96,764.54 96.02,765.15 96.04,765.76 96.07,766.37 96.09,766.98 96.11,767.59 96.14,768.2 96.16,768.81 96.19,769.42 96.21,770.04 96.23,770.65 96.26,771.26 96.28,771.87 96.3,772.48 96.33,773.09 96.35,773.7 96.37,774.31 96.4,774.92 96.42,775.53 96.45,776.14 96.47,776.75 96.49,777.36 96.52,777.97 96.54,778.58 96.56,779.19 96.59,779.8 96.61,780.41 96.63,781.02 96.66,781.63 96.68,782.24 96.71,782.85 96.73,783.46 96.75,784.07 96.78,784.68 96.8,785.29 96.83,784.68 96.85,784.07 96.88,783.46 96.91,782.86 96.93,782.25 96.96,781.64 96.99,781.03 97.01,780.42 97.04,779.81 97.07,779.2 97.09,778.6 97.12,777.99 97.14,777.38 97.17,776.77 97.2,776.16 97.22,775.55 97.25,774.94 97.28,774.34 97.3,773.73 97.33,773.12 97.36,772.51 97.38,771.9 97.41,771.29 97.44,770.68 97.46,770.08 97.49,769.47 97.52,768.86 97.54,768.25 97.57,767.64 97.6,767.03 97.62,766.42 97.65,765.82 97.68,765.21 97.7,764.6 97.73,763.99 97.76,763.38 97.78,762.77 97.81,762.16 97.83,761.56 97.86,760.95 97.89,760.34 97.91,759.73 97.94,759.12 97.97,758.51 97.99,757.9 98.02,757.3 98.05,756.69 98.07,756.08 98.1,755.47 98.13,756.07 98.16,756.67 98.19,757.28 98.22,757.88 98.25,758.48 98.28,759.08 98.31,759.69 98.34,760.29 98.37,760.89 98.4,761.49 98.43,762.09 98.45,762.7 98.48,763.3 98.51,763.9 98.54,764.5 98.57,765.11 98.6,765.71 98.63,766.31 98.66,766.91 98.69,767.51 98.72,768.12 98.75,768.72 98.78,769.32 98.81,769.92 98.84,770.52 98.87,771.13 98.9,771.73 98.93,772.33 98.96,772.93 98.99,773.54 99.02,774.14 99.05,774.74 99.08,775.34 99.1,775.94 99.13,776.55 99.16,777.15 99.19,777.75 99.22,778.35 99.25,778.96 99.28,779.56 99.31,780.16 99.34,780.76 99.37,781.36 99.4,781.97 99.43,781.36 99.47,780.76 99.5,780.16 99.53,779.55 99.57,778.95 99.6,778.34 99.63,777.74 99.67,777.14 99.7,776.53 99.73,775.93 99.77,775.33 99.8,774.72 99.83,774.12 99.87,773.51 99.9,772.91 99.93,772.31 99.97,771.7 100,771.1 100.03,770.5 100.07,769.89 100.1,769.29 100.13,768.69 100.17,768.08 100.2,767.48 100.23,766.87 100.27,766.27 100.3,765.67 100.33,765.06 100.37,764.46 100.4,763.86 100.43,763.25 100.47,762.65 100.5,762.05 100.53,761.44 100.57,760.84 100.6,760.23 100.63,759.63 100.67,759.03 100.7,758.42 100.74,759.04 100.78,759.65 100.81,760.27 100.85,760.88 100.89,761.5 100.93,762.11 100.97,762.73 101.01,763.35 101.04,763.96 101.08,764.58 101.12,765.19 101.16,765.81 101.2,766.42 101.24,767.04 101.27,767.65 101.31,768.27 101.35,768.88 101.39,769.5 101.43,770.11 101.46,770.73 101.5,771.34 101.54,771.96 101.58,772.57 101.62,773.19 101.66,773.8 101.69,774.42 101.73,775.04 101.77,775.65 101.81,776.27 101.85,776.88 101.89,777.5 101.92,778.11 101.96,778.73 102,779.34 102.04,778.74 102.08,778.14 102.13,777.54 102.17,776.94 102.21,776.34 102.25,775.74 102.29,775.14 102.34,774.55 102.38,773.95 102.42,773.35 102.46,772.75 102.5,772.15 102.55,771.55 102.59,770.95 102.63,770.35 102.67,769.75 102.71,769.15 102.75,768.55 102.8,767.95 102.84,767.35 102.88,766.75 102.92,766.15 102.96,765.55 103.01,764.95 103.05,764.35 103.09,763.75 103.13,763.15 103.17,762.55 103.22,761.95 103.26,761.35 103.3,760.76 103.35,761.37 103.4,761.98 103.44,762.59 103.49,763.2 103.54,763.81 103.59,764.43 103.64,765.04 103.69,765.65 103.73,766.26 103.78,766.87 103.83,767.48 103.88,768.1 103.93,768.71 103.97,769.32 104.02,769.93 104.07,770.54 104.12,771.15 104.17,771.77 104.21,772.38 104.26,772.99 104.31,773.6 104.36,774.21 104.41,774.82 104.46,775.44 104.5,776.05 104.55,776.66 104.6,777.27 104.65,776.66 104.71,776.05 104.76,775.44 104.82,774.82 104.87,774.21 104.93,773.6 104.98,772.99 105.03,772.38 105.09,771.77 105.14,771.16 105.2,770.54 105.25,769.93 105.3,769.32 105.36,768.71 105.41,768.1 105.47,767.49 105.52,766.88 105.58,766.26 105.63,765.65 105.68,765.04 105.74,764.43 105.79,763.82 105.85,763.21 105.9,762.6 105.96,763.22 106.02,763.84 106.09,764.46 106.15,765.08 106.21,765.7 106.27,766.32 106.33,766.94 106.4,767.56 106.46,768.18 106.52,768.8 106.58,769.43 106.64,770.05 106.7,770.67 106.77,771.29 106.83,771.91 106.89,772.53 106.95,773.15 107.01,773.77 107.08,774.39 107.14,775.01 107.2,775.63 107.27,775.02 107.34,774.41 107.41,773.81 107.47,773.2 107.54,772.59 107.61,771.98 107.68,771.37 107.75,770.76 107.82,770.15 107.88,769.54 107.95,768.93 108.02,768.32 108.09,767.71 108.16,767.1 108.23,766.49 108.29,765.88 108.36,765.27 108.43,764.66 108.5,764.05 108.58,764.65 108.65,765.26 108.73,765.87 108.81,766.47 108.88,767.08 108.96,767.68 109.04,768.29 109.11,768.89 109.19,769.5 109.26,770.1 109.34,770.71 109.42,771.32 109.49,771.92 109.57,772.53 109.65,773.13 109.72,773.74 109.8,774.34 109.89,773.73 109.97,773.12 110.06,772.51 110.15,771.9 110.23,771.29 110.32,770.68 110.41,770.07 110.49,769.47 110.58,768.86 110.67,768.25 110.75,767.64 110.84,767.03 110.93,766.42 111.01,765.81 111.1,765.2 111.2,765.82 111.3,766.45 111.4,767.07 111.5,767.7 111.6,768.32 111.7,768.95 111.8,769.57 111.9,770.2 112,770.82 112.1,771.45 112.2,772.07 112.3,772.7 112.4,773.32 112.51,772.72 112.62,772.12 112.73,771.52 112.83,770.92 112.94,770.31 113.05,769.71 113.16,769.11 113.27,768.51 113.38,767.91 113.48,767.31 113.59,766.7 113.7,766.1 113.83,766.74 113.96,767.39 114.09,768.03 114.22,768.67 114.35,769.31 114.48,769.95 114.61,770.59 114.74,771.24 114.87,771.88 115,772.52 115.14,771.89 115.29,771.25 115.43,770.62 115.58,769.98 115.72,769.35 115.87,768.72 116.01,768.08 116.16,767.45 116.3,766.82 116.46,767.45 116.63,768.08 116.79,768.72 116.95,769.35 117.11,769.98 117.28,770.62 117.44,771.25 117.6,771.88 117.79,771.24 117.97,770.6 118.16,769.95 118.34,769.31 118.53,768.67 118.71,768.03 118.9,767.38 119.09,767.95 119.27,768.53 119.46,769.1 119.64,769.67 119.83,770.24 120.01,770.81 120.2,771.38 120.42,770.79 120.63,770.2 120.85,769.6 121.07,769.01 121.28,768.42 121.5,767.83 121.76,768.46 122.02,769.09 122.28,769.72 122.54,770.35 122.8,770.99 123.06,770.42 123.32,769.86 123.58,769.3 123.84,768.74 124.1,768.18 124.43,768.8 124.75,769.43 125.08,770.05 125.4,770.67 125.73,770.12 126.05,769.57 126.38,769.01 126.7,768.46" fill="none" stroke="#a8407c" stroke-width="2" stroke-linejoin="round" stroke-linecap="round"/>
<path d="M95,764.71 96.07,765.11 97.14,762.38 98.21,764.62 99.28,766.07 100.35,762.09 101.42,761.42 102.49,763.78 103.56,764.42 104.63,762.16 105.7,763.53 106.72,764.09 107.74,765.04 108.76,765.66 109.78,761.66 110.8,764.36 111.82,762.26 112.84,764.24 113.86,765.3 114.88,765.63 115.9,765.25 116.92,764.31 117.94,765.09 118.96,765.37 119.98,765.32 121,760.29 122.02,762.11 123.04,760.71 124.06,759.83 125.08,763.03 126.1,760.6 127.12,762.82 128.14,762.47 129.16,763.28 130.18,762.56 131.2,761.86 132.22,762.56 133.24,760.96 134.26,760.49 135.28,761.87 136.3,757.23 137.32,761.41 138.34,757.97 139.36,757.14 140.38,758.81 141.4,760.96 142.42,758.7 143.44,756.87 144.46,757.47 145.48,758.79 146.5,759.31 147.52,755.59 148.54,755.82 149.56,755.58 150.58,758.05 151.6,758.68 152.62,758.86 153.64,756.8 154.66,759.01 155.68,756.87 156.7,755.46 157.72,758.95 158.75,758.14 159.77,757.46 160.8,755.93 161.82,752.89 162.85,753.68 163.88,753.44 164.9,754.35 165.92,757.15 166.95,754.6 167.97,755.59 169,755.27 170.02,755.5 171.05,755.16 172.07,752.79 173.1,754.67 174.12,755.85 175.15,755.38 176.17,751.36 177.2,755.78 178.22,753.86 179.24,751.88 180.26,752.42 181.28,753.93 182.3,753.09 183.32,755.33 184.34,751.76 185.36,752.64 186.38,755.96 187.4,756.64 188.42,753.7 189.44,755.52 190.46,753.36 191.48,757.58 192.5,753.13 193.52,754.04 194.54,754.73 195.56,754.13 196.58,750.85 197.6,756.06 198.62,754.19 199.65,756.35 200.67,755 201.69,757.98 202.72,754.57 203.74,756.97 204.76,754.43 205.79,755.93 206.81,757.56 207.84,755.58 208.86,757.2 209.88,757.78 210.91,759.31 211.93,752.03 212.95,757.18 213.98,753.65 215,757.72 216.03,758.41 217.05,758.05 218.08,755.49 219.11,757.68 220.13,759.22 221.16,761.41 222.19,759.97 223.21,762.23 224.24,761.05 225.27,762.37 226.29,760.16 227.32,761.31 228.35,761.33 229.37,761 230.4,762.49 231.43,763.05 232.45,764.16 233.47,761.61 234.5,763.67 235.53,761.69 236.55,760.92 237.58,762.41 238.6,765.04 239.62,765.97 240.65,759.38 241.68,765.92 242.7,766.6 243.72,763.12 244.75,764.33 245.78,763.32 246.8,759.96 247.83,765.73 248.85,764.51 249.88,759.14 250.9,767.49 251.92,765.29 252.95,763.85 253.97,767.25 254.99,766.37 256.01,765.04 257.04,766.56 258.06,767.16 259.08,764.51 260.1,765.69 261.13,766.33 262.15,764.47 263.17,768.59 264.2,767.21 265.22,766.44 266.24,767.54 267.26,764.61 268.29,765.21 269.31,769.22 270.33,765.06 271.35,769.69 272.38,765.78 273.4,768.82 L273.4,780.22 272.38,778.98 271.35,777.25 270.33,778.01 269.31,777.36 268.29,777.85 267.26,778.32 266.24,777.3 265.22,780.6 264.2,778.63 263.17,779.69 262.15,780.65 261.13,780.65 260.1,777.59 259.08,777.49 258.06,781.09 257.04,777.37 256.01,780.29 254.99,776.3 253.97,780.63 252.95,775.78 251.92,775.4 250.9,779.39 249.88,779.71 248.85,774.71 247.83,778.99 246.8,777.6 245.78,777.55 244.75,778.83 243.72,777.57 242.7,774.5 241.68,781.26 240.65,775.48 239.62,774.71 238.6,773.97 237.58,774.27 236.55,776.91 235.53,776.83 234.5,776.05 233.47,774.53 232.45,774.88 231.43,774.97 230.4,772.04 229.37,772.81 228.35,773.34 227.32,779.16 226.29,773.09 225.27,773.9 224.24,774.07 223.21,773.16 222.19,770.2 221.16,772.22 220.13,772.55 219.11,772.53 218.08,769.17 217.05,768.98 216.03,769.67 215,773.03 213.98,771.63 212.95,770.34 211.93,770 210.91,768.05 209.88,767.6 208.86,769.38 207.84,772.35 206.81,770.42 205.79,773.27 204.76,769.28 203.74,770.51 202.72,766.28 201.69,767.1 200.67,770.2 199.65,768.24 198.62,768.35 197.6,766.63 196.58,766.97 195.56,767.45 194.54,769.62 193.52,765.3 192.5,764.75 191.48,767.17 190.46,766.7 189.44,768.81 188.42,765.41 187.4,767.68 186.38,765.56 185.36,768.78 184.34,767.42 183.32,766.63 182.3,765.75 181.28,766.13 180.26,771.27 179.24,766.61 178.22,766.7 177.2,765.03 176.17,763.68 175.15,768.09 174.12,765.18 173.1,768.77 172.07,767.81 171.05,764.4 170.02,767.55 169,769.02 167.97,768.58 166.95,767.21 165.92,772.09 164.9,768.3 163.88,769.21 162.85,768.98 161.82,766.52 160.8,765.61 159.77,768.17 158.75,766.14 157.72,770.37 156.7,769.45 155.68,768.96 154.66,769.46 153.64,766.82 152.62,768.69 151.6,769.28 150.58,772.12 149.56,768.51 148.54,767.44 147.52,769.95 146.5,771.57 145.48,771.02 144.46,772.41 143.44,768.46 142.42,769.86 141.4,769.2 140.38,771.79 139.36,771.44 138.34,770.05 137.32,771.54 136.3,769.91 135.28,773.53 134.26,777.39 133.24,770.05 132.22,774.23 131.2,772.47 130.18,772.9 129.16,778.59 128.14,774.74 127.12,774.04 126.1,772.58 125.08,771.64 124.06,774.28 123.04,771.91 122.02,772.47 121,772.89 119.98,776.22 118.96,775.92 117.94,776.33 116.92,776.75 115.9,776.39 114.88,778.18 113.86,777.58 112.84,777.66 111.82,777.5 110.8,778.89 109.78,775.13 108.76,775.75 107.74,775.6 106.72,774.17 105.7,777.05 104.63,777.27 103.56,775.39 102.49,777 101.42,777.16 100.35,777.19 99.28,774.49 98.21,775.25 97.14,773.7 96.07,774.17 95,776.43Z" fill="#a8407c"/>
<path d="M95,769.5 96.07,769.53 97.14,769.56 98.21,769.59 99.28,769.62 100.35,769.65 101.42,769.68 102.49,769.71 103.56,769.74 104.63,769.77 105.7,769.8 106.72,769.8 107.74,769.8 108.76,769.8 109.78,769.8 110.8,769.8 111.82,769.8 112.84,769.8 113.86,769.8 114.88,769.8 115.9,769.8 116.92,769.6 117.94,769.4 118.96,769.2 119.98,769 121,768.8 122.02,768.6 123.04,768.4 124.06,768.2 125.08,768 126.1,767.8 127.12,767.6 128.14,767.4 129.16,767.2 130.18,767 131.2,766.8 132.22,766.6 133.24,766.4 134.26,766.2 135.28,766 136.3,765.8 137.32,765.64 138.34,765.49 139.36,765.33 140.38,765.18 141.4,765.02 142.42,764.87 143.44,764.72 144.46,764.56 145.48,764.4 146.5,764.25 147.52,764.1 148.54,763.94 149.56,763.78 150.58,763.63 151.6,763.48 152.62,763.32 153.64,763.17 154.66,763.01 155.68,762.86 156.7,762.7 157.72,762.55 158.75,762.39 159.77,762.24 160.8,762.08 161.82,761.93 162.85,761.77 163.88,761.62 164.9,761.46 165.92,761.31 166.95,761.15 167.97,761 169,760.84 170.02,760.69 171.05,760.53 172.07,760.38 173.1,760.22 174.12,760.07 175.15,759.91 176.17,759.75 177.2,759.6 178.22,759.71 179.24,759.81 180.26,759.92 181.28,760.02 182.3,760.12 183.32,760.23 184.34,760.34 185.36,760.44 186.38,760.55 187.4,760.65 188.42,760.75 189.44,760.86 190.46,760.97 191.48,761.07 192.5,761.18 193.52,761.28 194.54,761.38 195.56,761.49 196.58,761.6 197.6,761.7 198.62,761.88 199.65,762.05 200.67,762.23 201.69,762.41 202.72,762.58 203.74,762.76 204.76,762.94 205.79,763.11 206.81,763.29 207.84,763.46 208.86,763.64 209.88,763.82 210.91,763.99 211.93,764.17 212.95,764.35 213.98,764.52 215,764.7 216.03,764.93 217.05,765.17 218.08,765.4 219.11,765.63 220.13,765.87 221.16,766.1 222.19,766.33 223.21,766.57 224.24,766.8 225.27,767.03 226.29,767.27 227.32,767.5 228.35,767.73 229.37,767.97 230.4,768.2 231.43,768.37 232.45,768.53 233.47,768.7 234.5,768.86 235.53,769.03 236.55,769.19 237.58,769.36 238.6,769.52 239.62,769.69 240.65,769.85 241.68,770.01 242.7,770.18 243.72,770.35 244.75,770.51 245.78,770.67 246.8,770.84 247.83,771 248.85,771.17 249.88,771.34 250.9,771.5 251.92,771.59 252.95,771.68 253.97,771.77 254.99,771.86 256.01,771.95 257.04,772.05 258.06,772.14 259.08,772.23 260.1,772.32 261.13,772.41 262.15,772.5 263.17,772.59 264.2,772.68 265.22,772.77 266.24,772.86 267.26,772.95 268.29,773.05 269.31,773.14 270.33,773.23 271.35,773.32 272.38,773.41 273.4,773.5" fill="none" stroke="#a8407c" stroke-width="2.5" stroke-linejoin="round" stroke-linecap="round"/>
<path d="M273.4,773.5 273.9,773.88 274.4,774.25 274.9,774.62 275.4,775 275.4,775.6 275.41,776.2 275.41,776.8 275.42,777.4 275.42,778.01 275.43,778.61 275.43,779.21 275.44,779.81 275.44,780.41 275.45,781.01 275.45,781.61 275.45,782.21 275.46,782.81 275.46,783.42 275.47,784.02 275.47,784.62 275.48,785.22 275.48,785.82 275.49,786.42 275.49,787.02 275.5,787.62 275.5,788.23 275.5,788.83 275.51,789.43 275.51,790.03 275.52,790.63 275.52,791.23 275.53,791.83 275.53,792.43 275.54,793.03 275.54,793.64 275.55,794.24 275.55,794.84 275.55,795.44 275.56,796.04 275.56,796.64 275.57,797.24 275.57,797.84 275.58,798.44 275.58,799.05 275.59,799.65 275.59,800.25 275.6,800.85 275.6,801.45 275.6,802.05 275.61,802.65 275.61,803.25 275.62,803.85 275.62,804.46 275.63,805.06 275.63,805.66 275.64,806.26 275.64,806.86 275.65,807.46 275.65,808.06 275.65,808.66 275.66,809.26 275.66,809.87 275.67,810.47 275.67,811.07 275.68,811.67 275.68,812.27 275.69,812.87 275.69,813.47 275.7,814.07 275.7,814.67 275.7,815.28 275.71,815.88 275.71,816.48 275.72,817.08 275.72,817.68 275.73,818.28 275.73,818.88 275.74,819.48 275.74,820.09 275.75,820.69 275.75,821.29 275.75,821.89 275.76,822.49 275.76,823.09 275.77,823.69 275.77,824.29 275.78,824.89 275.78,825.5 275.79,826.1 275.79,826.7 275.8,827.3 275.8,827.9 275.81,827.3 275.83,826.7 275.84,826.1 275.85,825.49 275.86,824.89 275.88,824.29 275.89,823.69 275.9,823.09 275.91,822.49 275.93,821.88 275.94,821.28 275.95,820.68 275.97,820.08 275.98,819.48 275.99,818.88 276,818.27 276.02,817.67 276.03,817.07 276.04,816.47 276.05,815.87 276.07,815.27 276.08,814.67 276.09,814.06 276.1,813.46 276.12,812.86 276.13,812.26 276.14,811.66 276.16,811.06 276.17,810.45 276.18,809.85 276.19,809.25 276.21,808.65 276.22,808.05 276.23,807.45 276.24,806.84 276.26,806.24 276.27,805.64 276.28,805.04 276.3,804.44 276.31,803.84 276.32,803.23 276.33,802.63 276.35,802.03 276.36,801.43 276.37,800.83 276.38,800.23 276.4,799.63 276.41,799.02 276.42,798.42 276.43,797.82 276.45,797.22 276.46,796.62 276.47,796.02 276.49,795.41 276.5,794.81 276.51,794.21 276.52,793.61 276.54,793.01 276.55,792.41 276.56,791.8 276.57,791.2 276.59,790.6 276.6,790 276.65,789.37 276.71,788.73 276.76,788.1 276.81,787.47 276.87,786.83 276.92,786.2 276.97,785.57 277.03,784.93 277.08,784.3 277.13,783.67 277.19,783.03 277.24,782.4 277.29,781.77 277.35,781.13 277.4,780.5 277.57,781.12 277.75,781.75 277.92,782.38 278.1,783 278.27,783.62 278.45,784.25 278.62,784.88 278.8,785.5 278.98,786.12 279.15,786.75 279.32,787.38 279.5,788 279.62,788.61 279.74,789.21 279.86,789.82 279.98,790.43 280.1,791.03 280.22,791.64 280.34,792.25 280.45,792.85 280.57,793.46 280.69,794.06 280.81,794.67 280.93,795.28 281.05,795.88 281.17,796.49 281.29,797.1 281.41,797.7 281.53,798.31 281.65,798.92 281.77,799.52 281.89,800.13 282.01,800.74 282.13,801.34 282.25,801.95 282.36,802.55 282.48,803.16 282.6,803.77 282.72,804.37 282.84,804.98 282.96,805.59 283.08,806.19 283.2,806.8 283.39,806.22 283.59,805.63 283.78,805.05 283.98,804.47 284.17,803.88 284.37,803.3 284.56,802.72 284.76,802.13 284.95,801.55 285.14,800.97 285.34,800.38 285.53,799.8 285.73,799.22 285.92,798.63 286.12,798.05 286.31,797.47 286.51,796.88 286.7,796.3 287.2,796.71 287.7,797.13 288.2,797.54 288.7,797.96 289.2,798.37 289.7,798.79 290.2,799.2 290.47,798.65 290.75,798.11 291.02,797.56 291.29,797.01 291.57,796.47 291.84,795.92 292.11,795.37 292.39,794.83 292.66,794.28 292.93,793.73 293.21,793.19 293.48,792.64 293.75,792.09 294.03,791.55 294.3,791 294.57,791.54 294.84,792.08 295.11,792.62 295.38,793.15 295.65,793.69 295.92,794.23 296.18,794.77 296.45,795.31 296.72,795.85 296.99,796.38 297.26,796.92 297.53,797.46 297.8,798 298.19,797.49 298.58,796.98 298.97,796.47 299.36,795.96 299.74,795.44 300.13,794.93 300.52,794.42 300.91,793.91 301.3,793.4 301.57,793.98 301.84,794.57 302.11,795.15 302.38,795.74 302.65,796.32 302.92,796.91 303.18,797.49 303.45,798.08 303.72,798.66 303.99,799.25 304.26,799.83 304.53,800.42 304.8,801 305.28,800.6 305.77,800.2 306.25,799.8 306.73,799.4 307.22,799 307.7,798.6 308.02,799.12 308.34,799.64 308.67,800.17 308.99,800.69 309.31,801.21 309.63,801.73 309.96,802.26 310.28,802.78 310.6,803.3 311,802.82 311.4,802.33 311.8,801.85 312.2,801.37 312.6,800.88 313,800.4 313.35,800.92 313.7,801.44 314.05,801.96 314.4,802.48 314.75,803 315.1,803.52 315.45,804.04 315.8,804.56 316.15,805.08 316.5,805.6 316.91,805.1 317.33,804.6 317.74,804.1 318.16,803.6 318.57,803.1 318.99,802.6 319.4,802.1 319.79,802.62 320.18,803.14 320.57,803.67 320.96,804.19 321.34,804.71 321.73,805.23 322.12,805.76 322.51,806.28 322.9,806.8 323.48,806.5 324.07,806.2 324.65,805.9 325.23,805.6 325.82,805.3 326.4,805 326.76,805.51 327.12,806.02 327.49,806.54 327.85,807.05 328.21,807.56 328.57,808.08 328.94,808.59 329.3,809.1 329.88,808.76 330.46,808.42 331.04,808.08 331.62,807.74 332.2,807.4 332.52,806.88 332.84,806.36 333.17,805.83 333.49,805.31 333.81,804.79 334.13,804.27 334.46,803.74 334.78,803.22 335.1,802.7 335.4,803.28 335.7,803.86 336,804.44 336.3,805.02 336.6,805.6 336.9,806.18 337.2,806.76 337.5,807.34 337.8,807.92 338.1,808.5 338.48,808.02 338.87,807.53 339.25,807.05 339.63,806.57 340.02,806.08 340.4,805.6 341.06,805.52 341.72,805.45 342.39,805.38 343.05,805.3 343.71,805.23 344.38,805.15 345.04,805.08 345.7,805 346.2,805.38 346.7,805.75 347.2,806.12 347.7,806.5 348.2,806.88 348.7,807.25 349.2,807.62 349.7,808 350.3,808.34 350.9,808.68 351.5,809.02 352.1,809.36 352.7,809.7" fill="none" stroke="#a8407c" stroke-width="2.75" stroke-linejoin="round" stroke-linecap="round"/>
<path d="M352.7,809.7 352.82,810.32 352.93,810.93 353.05,811.55 353.16,812.16 353.28,812.78 353.39,813.39 353.51,814.01 353.62,814.62 353.74,815.24 353.85,815.85 353.97,816.47 354.08,817.08 354.2,817.7 354.21,818.3 354.21,818.9 354.22,819.51 354.22,820.11 354.23,820.71 354.23,821.31 354.24,821.92 354.25,822.52 354.25,823.12 354.26,823.72 354.26,824.33 354.27,824.93 354.28,825.53 354.28,826.13 354.29,826.73 354.29,827.34 354.3,827.94 354.3,828.54 354.31,829.14 354.32,829.75 354.32,830.35 354.33,830.95 354.33,831.55 354.34,832.16 354.34,832.76 354.35,833.36 354.36,833.96 354.36,834.56 354.37,835.17 354.37,835.77 354.38,836.37 354.38,836.97 354.39,837.58 354.4,838.18 354.4,838.78 354.41,839.38 354.41,839.99 354.42,840.59 354.43,841.19 354.43,841.79 354.44,842.39 354.44,843 354.45,843.6 354.45,844.2 354.46,844.8 354.47,845.41 354.47,846.01 354.48,846.61 354.48,847.21 354.49,847.82 354.49,848.42 354.5,849.02 354.51,849.62 354.51,850.22 354.52,850.83 354.52,851.43 354.53,852.03 354.54,852.63 354.54,853.24 354.55,853.84 354.55,854.44 354.56,855.04 354.56,855.65 354.57,856.25 354.58,856.85 354.58,857.45 354.59,858.05 354.59,858.66 354.6,859.26 354.6,859.86 354.61,860.46 354.62,861.07 354.62,861.67 354.63,862.27 354.63,862.87 354.64,863.48 354.65,864.08 354.65,864.68 354.66,865.28 354.66,865.88 354.67,866.49 354.67,867.09 354.68,867.69 354.69,868.29 354.69,868.9 354.7,869.5 354.7,870.1 354.71,870.7 354.71,871.31 354.72,871.91 354.73,872.51 354.73,873.11 354.74,873.72 354.74,874.32 354.75,874.92 354.75,875.52 354.76,876.12 354.77,876.73 354.77,877.33 354.78,877.93 354.78,878.53 354.79,879.14 354.8,879.74 354.8,880.34 354.81,880.94 354.81,881.55 354.82,882.15 354.82,882.75 354.83,883.35 354.84,883.95 354.84,884.56 354.85,885.16 354.85,885.76 354.86,886.36 354.86,886.97 354.87,887.57 354.88,888.17 354.88,888.77 354.89,889.38 354.89,889.98 354.9,890.58 354.91,891.18 354.91,891.78 354.92,892.39 354.92,892.99 354.93,893.59 354.93,894.19 354.94,894.8 354.95,895.4 354.95,896 354.96,896.6 354.96,897.21 354.97,897.81 354.97,898.41 354.98,899.01 354.99,899.61 354.99,900.22 355,900.82 355,901.42 355.01,902.02 355.02,902.63 355.02,903.23 355.03,903.83 355.03,904.43 355.04,905.04 355.04,905.64 355.05,906.24 355.06,906.84 355.06,907.44 355.07,908.05 355.07,908.65 355.08,909.25 355.08,909.85 355.09,910.46 355.1,911.06 355.1,911.66 355.11,912.26 355.11,912.87 355.12,913.47 355.12,914.07 355.13,914.67 355.14,915.27 355.14,915.88 355.15,916.48 355.15,917.08 355.16,917.68 355.17,918.29 355.17,918.89 355.18,919.49 355.18,920.09 355.19,920.7 355.19,921.3 355.2,921.9 355.21,921.3 355.21,920.7 355.22,920.1 355.22,919.5 355.23,918.9 355.23,918.3 355.24,917.7 355.25,917.1 355.25,916.49 355.26,915.89 355.26,915.29 355.27,914.69 355.28,914.09 355.28,913.49 355.29,912.89 355.29,912.29 355.3,911.69 355.3,911.09 355.31,910.49 355.32,909.89 355.32,909.29 355.33,908.69 355.33,908.09 355.34,907.49 355.34,906.89 355.35,906.28 355.36,905.68 355.36,905.08 355.37,904.48 355.37,903.88 355.38,903.28 355.38,902.68 355.39,902.08 355.4,901.48 355.4,900.88 355.41,900.28 355.41,899.68 355.42,899.08 355.43,898.48 355.43,897.88 355.44,897.28 355.44,896.68 355.45,896.08 355.45,895.47 355.46,894.87 355.47,894.27 355.47,893.67 355.48,893.07 355.48,892.47 355.49,891.87 355.49,891.27 355.5,890.67 355.51,890.07 355.51,889.47 355.52,888.87 355.52,888.27 355.53,887.67 355.54,887.07 355.54,886.47 355.55,885.87 355.55,885.26 355.56,884.66 355.56,884.06 355.57,883.46 355.58,882.86 355.58,882.26 355.59,881.66 355.59,881.06 355.6,880.46 355.6,879.86 355.61,879.26 355.62,878.66 355.62,878.06 355.63,877.46 355.63,876.86 355.64,876.26 355.65,875.66 355.65,875.05 355.66,874.45 355.66,873.85 355.67,873.25 355.67,872.65 355.68,872.05 355.69,871.45 355.69,870.85 355.7,870.25 355.7,869.65 355.71,869.05 355.71,868.45 355.72,867.85 355.73,867.25 355.73,866.65 355.74,866.05 355.74,865.45 355.75,864.85 355.75,864.24 355.76,863.64 355.77,863.04 355.77,862.44 355.78,861.84 355.78,861.24 355.79,860.64 355.8,860.04 355.8,859.44 355.81,858.84 355.81,858.24 355.82,857.64 355.82,857.04 355.83,856.44 355.84,855.84 355.84,855.24 355.85,854.64 355.85,854.03 355.86,853.43 355.86,852.83 355.87,852.23 355.88,851.63 355.88,851.03 355.89,850.43 355.89,849.83 355.9,849.23 355.91,848.63 355.91,848.03 355.92,847.43 355.92,846.83 355.93,846.23 355.93,845.63 355.94,845.03 355.95,844.43 355.95,843.82 355.96,843.22 355.96,842.62 355.97,842.02 355.97,841.42 355.98,840.82 355.99,840.22 355.99,839.62 356,839.02 356,838.42 356.01,837.82 356.02,837.22 356.02,836.62 356.03,836.02 356.03,835.42 356.04,834.82 356.04,834.22 356.05,833.62 356.06,833.01 356.06,832.41 356.07,831.81 356.07,831.21 356.08,830.61 356.08,830.01 356.09,829.41 356.1,828.81 356.1,828.21 356.11,827.61 356.11,827.01 356.12,826.41 356.12,825.81 356.13,825.21 356.14,824.61 356.14,824.01 356.15,823.41 356.15,822.8 356.16,822.2 356.17,821.6 356.17,821 356.18,820.4 356.18,819.8 356.19,819.2 356.19,818.6 356.2,818 356.21,818.61 356.23,819.21 356.24,819.82 356.26,820.43 356.27,821.03 356.29,821.64 356.3,822.25 356.31,822.85 356.33,823.46 356.34,824.06 356.36,824.67 356.37,825.28 356.39,825.88 356.4,826.49 356.41,827.1 356.43,827.7 356.44,828.31 356.46,828.92 356.47,829.52 356.49,830.13 356.5,830.74 356.51,831.34 356.53,831.95 356.54,832.56 356.56,833.16 356.57,833.77 356.59,834.38 356.6,834.98 356.61,835.59 356.63,836.19 356.64,836.8 356.66,837.41 356.67,838.01 356.69,838.62 356.7,839.23 356.71,839.83 356.73,840.44 356.74,841.05 356.76,841.65 356.77,842.26 356.79,842.87 356.8,843.47 356.81,844.08 356.83,844.69 356.84,845.29 356.86,845.9 356.87,846.51 356.89,847.11 356.9,847.72 356.91,848.32 356.93,848.93 356.94,849.54 356.96,850.14 356.97,850.75 356.99,851.36 357,851.96 357.01,852.57 357.03,853.18 357.04,853.78 357.06,854.39 357.07,855 357.09,855.6 357.1,856.21 357.11,856.82 357.13,857.42 357.14,858.03 357.16,858.64 357.17,859.24 357.19,859.85 357.2,860.45 357.21,861.06 357.23,861.67 357.24,862.27 357.26,862.88 357.27,863.49 357.29,864.09 357.3,864.7 357.34,864.1 357.38,863.49 357.42,862.89 357.45,862.29 357.49,861.68 357.53,861.08 357.57,860.48 357.61,859.87 357.65,859.27 357.69,858.67 357.73,858.06 357.76,857.46 357.8,856.86 357.84,856.25 357.88,855.65 357.92,855.05 357.96,854.45 358,853.84 358.04,853.24 358.07,852.64 358.11,852.03 358.15,851.43 358.19,850.83 358.23,850.22 358.27,849.62 358.31,849.02 358.35,848.41 358.38,847.81 358.42,847.21 358.46,846.6 358.5,846 358.97,846.38 359.43,846.77 359.9,847.15 360.37,847.53 360.83,847.92 361.3,848.3" fill="none" stroke="#a8407c" stroke-width="1.75" stroke-linejoin="round" stroke-linecap="round"/>
<path d="M361.3,840.23 362.33,839.99 363.36,840.47 364.39,841.06 365.41,840.19 366.44,839.72 367.47,842.03 368.5,841.16 369.53,839.59 370.56,843.56 371.59,840.14 372.61,839.04 373.64,839.13 374.67,842.21 375.7,841.42 376.72,836.81 377.74,840.41 378.76,838.53 379.78,842.31 380.8,839.98 381.82,838.2 382.84,839.31 383.86,840.47 384.88,838.98 385.9,837.88 386.92,841.71 387.94,839.15 388.96,839.96 389.98,839.91 391,841.07 392.02,840.73 393.04,834.23 394.06,838.38 395.08,837.1 396.1,837.64 397.12,837.95 398.14,837.71 399.16,837.95 400.18,838.37 401.2,837.82 402.22,834.74 403.24,835.58 404.26,835.9 405.28,834.68 406.3,838.51 407.32,836.77 408.34,836.07 409.36,836.11 410.38,833.35 411.4,836.94 412.42,835.32 413.44,833.51 414.46,834.05 415.48,834.75 416.5,834.2 417.52,834.27 418.55,835.16 419.57,832.51 420.6,833.38 421.62,836 422.65,832.11 423.68,834.81 424.7,833.32 425.73,832.79 426.75,834.88 427.77,836.27 428.8,831.94 429.82,835.49 430.85,835.83 431.88,835.95 432.9,834.01 433.93,833.27 434.95,835.65 435.98,833.86 437,833.54 438.02,832.52 439.04,836.63 440.06,834.01 441.08,833.24 442.1,833.26 443.12,832.73 444.14,836.76 445.16,834.21 446.18,836.51 447.2,833.28 448.22,837.3 449.24,833.82 450.26,834.15 451.28,833.62 452.3,836.38 453.32,833.9 454.34,835.5 455.36,838.13 456.38,835.91 457.4,835.45 458.43,834.85 459.45,838.57 460.48,837.26 461.51,834.25 462.54,838.01 463.56,834.96 464.59,838.98 465.62,838.78 466.65,835.27 467.67,833.44 468.7,835.92 469.73,837.32 470.75,837.47 471.78,837.9 472.81,838.39 473.84,835.01 474.86,837.36 475.89,838.55 476.92,836.92 477.95,838.96 478.97,840.11 480,832.54 481.01,835.69 482.02,835.86 483.03,839.64 484.04,839.2 485.05,835.06 486.06,835.48 487.07,837.13 488.08,834.69 489.09,838.79 490.1,838.91 491.1,838.22 492.11,838.89 493.12,837.69 494.13,834.44 495.14,838.57 496.15,836.91 497.16,838.28 498.17,836.98 499.18,837.83 500.19,834.55 501.2,836.16 502.2,834.91 503.21,835.9 504.21,835.7 505.22,835.58 506.22,833.92 507.23,835.5 508.23,834.31 509.24,835.85 510.24,834.07 511.25,835.33 512.25,833.37 513.26,833.22 514.26,835.64 515.27,832.69 516.27,836.39 517.28,832.23 518.28,836.43 519.29,828.58 520.29,833.95 521.3,831.56 522.3,833.21 523.36,831.48 524.42,834.9 525.48,832.52 526.55,831.2 527.61,834.09 528.67,831.57 529.73,833.49 530.79,831.76 531.85,833.66 532.92,830.4 533.98,832.41 535.04,829.66 536.1,829.54 L536.1,843.16 535.04,844.27 533.98,848.3 532.92,842.77 531.85,842.05 530.79,846.35 529.73,842.06 528.67,842.38 527.61,844 526.55,844.68 525.48,851.18 524.42,843.66 523.36,849.99 522.3,850.97 521.3,846 520.29,846.37 519.29,843.42 518.28,845.5 517.28,843.52 516.27,844.36 515.27,844.83 514.26,848.47 513.26,843.88 512.25,845.41 511.25,844.81 510.24,847.94 509.24,845.33 508.23,846.33 507.23,845.46 506.22,849.02 505.22,849.07 504.21,847.61 503.21,848.82 502.2,845.83 501.2,847.62 500.19,846.83 499.18,846.53 498.17,846.38 497.16,848.19 496.15,850.14 495.14,849.72 494.13,847.22 493.12,848.59 492.11,848.67 491.1,849.47 490.1,849.75 489.09,846.2 488.08,850.07 487.07,847.07 486.06,849.94 485.05,850.92 484.04,849.18 483.03,851.57 482.02,850.99 481.01,847.61 480,848.52 478.97,848.45 477.95,850.89 476.92,850.94 475.89,851.43 474.86,849.15 473.84,847.85 472.81,848.07 471.78,854 470.75,849.1 469.73,847.94 468.7,847.01 467.67,849.78 466.65,847.92 465.62,846.44 464.59,847.39 463.56,849.27 462.54,849.26 461.51,849.05 460.48,848.5 459.45,847.32 458.43,850.5 457.4,846.23 456.38,847.57 455.36,847.15 454.34,846.07 453.32,848.4 452.3,848.12 451.28,846.12 450.26,845.36 449.24,846.1 448.22,848.51 447.2,848.65 446.18,847.92 445.16,847.62 444.14,847.05 443.12,851.47 442.1,844.43 441.08,845.63 440.06,843.99 439.04,848.16 438.02,847.67 437,852.21 435.98,846.32 434.95,845.19 433.93,850.43 432.9,846.05 431.88,845.99 430.85,844.61 429.82,844.63 428.8,846.66 427.77,844.11 426.75,848.24 425.73,847.7 424.7,845.75 423.68,845.55 422.65,848.31 421.62,846.68 420.6,844.78 419.57,847.86 418.55,847.67 417.52,846.67 416.5,844.5 415.48,846.01 414.46,847.57 413.44,845.98 412.42,844.43 411.4,847.75 410.38,844.81 409.36,849.4 408.34,847.39 407.32,848.08 406.3,847.55 405.28,846.84 404.26,849.79 403.24,846.61 402.22,846.63 401.2,847.87 400.18,850.96 399.16,847.71 398.14,849.69 397.12,851.02 396.1,851.65 395.08,847.69 394.06,850.13 393.04,848.51 392.02,852.05 391,848.93 389.98,851.14 388.96,852.75 387.94,849.11 386.92,851.77 385.9,852.52 384.88,852.15 383.86,851.98 382.84,853.79 381.82,851.81 380.8,853.14 379.78,853.6 378.76,853.87 377.74,850.02 376.72,851.71 375.7,853.68 374.67,854.43 373.64,852.65 372.61,853.55 371.59,853.74 370.56,851.06 369.53,855.37 368.5,855.2 367.47,851.19 366.44,853.44 365.41,855.35 364.39,852.6 363.36,856.25 362.33,851.6 361.3,851.72Z" fill="#a8407c"/>
<path d="M361.3,848.3 362.33,848.16 363.36,848.01 364.39,847.87 365.41,847.73 366.44,847.59 367.47,847.44 368.5,847.3 369.53,847.16 370.56,847.01 371.59,846.87 372.61,846.73 373.64,846.59 374.67,846.44 375.7,846.3 376.72,846.19 377.74,846.09 378.76,845.99 379.78,845.88 380.8,845.77 381.82,845.67 382.84,845.56 383.86,845.46 384.88,845.36 385.9,845.25 386.92,845.14 387.94,845.04 388.96,844.94 389.98,844.83 391,844.73 392.02,844.62 393.04,844.51 394.06,844.41 395.08,844.31 396.1,844.2 397.12,844 398.14,843.79 399.16,843.59 400.18,843.38 401.2,843.18 402.22,842.97 403.24,842.76 404.26,842.56 405.28,842.36 406.3,842.15 407.32,841.95 408.34,841.74 409.36,841.54 410.38,841.33 411.4,841.12 412.42,840.92 413.44,840.72 414.46,840.51 415.48,840.31 416.5,840.1 417.52,840.1 418.55,840.1 419.57,840.1 420.6,840.1 421.62,840.1 422.65,840.1 423.68,840.1 424.7,840.1 425.73,840.1 426.75,840.1 427.77,840.1 428.8,840.1 429.82,840.1 430.85,840.1 431.88,840.1 432.9,840.1 433.93,840.1 434.95,840.1 435.98,840.1 437,840.1 438.02,840.21 439.04,840.31 440.06,840.42 441.08,840.52 442.1,840.62 443.12,840.73 444.14,840.84 445.16,840.94 446.18,841.05 447.2,841.15 448.22,841.25 449.24,841.36 450.26,841.47 451.28,841.57 452.3,841.68 453.32,841.78 454.34,841.88 455.36,841.99 456.38,842.1 457.4,842.2 458.43,842.27 459.45,842.34 460.48,842.4 461.51,842.47 462.54,842.54 463.56,842.61 464.59,842.68 465.62,842.75 466.65,842.81 467.67,842.88 468.7,842.95 469.73,843.02 470.75,843.09 471.78,843.15 472.81,843.22 473.84,843.29 474.86,843.36 475.89,843.43 476.92,843.5 477.95,843.56 478.97,843.63 480,843.7 481.01,843.6 482.02,843.5 483.03,843.4 484.04,843.3 485.05,843.2 486.06,843.1 487.07,843 488.08,842.9 489.09,842.8 490.1,842.7 491.1,842.6 492.11,842.5 493.12,842.4 494.13,842.3 495.14,842.2 496.15,842.1 497.16,842 498.17,841.9 499.18,841.8 500.19,841.7 501.2,841.6 502.2,841.5 503.21,841.4 504.21,841.3 505.22,841.2 506.22,841.1 507.23,841 508.23,840.9 509.24,840.8 510.24,840.7 511.25,840.6 512.25,840.5 513.26,840.4 514.26,840.3 515.27,840.2 516.27,840.1 517.28,840 518.28,839.9 519.29,839.8 520.29,839.7 521.3,839.6 522.3,839.5 523.36,839.34 524.42,839.18 525.48,839.02 526.55,838.85 527.61,838.69 528.67,838.53 529.73,838.37 530.79,838.21 531.85,838.05 532.92,837.88 533.98,837.72 535.04,837.56 536.1,837.4" fill="none" stroke="#a8407c" stroke-width="2.5" stroke-linejoin="round" stroke-linecap="round"/>
<path d="M536.6,838 536.61,837.4 536.63,836.79 536.64,836.19 536.66,835.59 536.67,834.99 536.69,834.38 536.7,833.78 536.72,833.18 536.73,832.57 536.75,831.97 536.76,831.37 536.78,830.76 536.79,830.16 536.81,829.56 536.82,828.96 536.84,828.35 536.85,827.75 536.86,827.15 536.88,826.54 536.89,825.94 536.91,825.34 536.92,824.74 536.94,824.13 536.95,823.53 536.97,822.93 536.98,822.32 537,821.72 537.01,821.12 537.03,820.51 537.04,819.91 537.06,819.31 537.07,818.71 537.09,818.1 537.1,817.5 537.11,816.9 537.13,816.29 537.14,815.69 537.16,815.09 537.17,814.49 537.19,813.88 537.2,813.28 537.22,812.68 537.23,812.07 537.25,811.47 537.26,810.87 537.28,810.26 537.29,809.66 537.31,809.06 537.32,808.46 537.34,807.85 537.35,807.25 537.36,806.65 537.38,806.04 537.39,805.44 537.41,804.84 537.42,804.24 537.44,803.63 537.45,803.03 537.47,802.43 537.48,801.82 537.5,801.22 537.51,800.62 537.53,800.01 537.54,799.41 537.56,798.81 537.57,798.21 537.59,797.6 537.6,797 537.61,797.6 537.63,798.21 537.64,798.81 537.66,799.41 537.67,800.01 537.69,800.62 537.7,801.22 537.72,801.82 537.73,802.43 537.75,803.03 537.76,803.63 537.78,804.24 537.79,804.84 537.81,805.44 537.82,806.04 537.84,806.65 537.85,807.25 537.86,807.85 537.88,808.46 537.89,809.06 537.91,809.66 537.92,810.26 537.94,810.87 537.95,811.47 537.97,812.07 537.98,812.68 538,813.28 538.01,813.88 538.03,814.49 538.04,815.09 538.06,815.69 538.07,816.29 538.09,816.9 538.1,817.5 538.11,818.1 538.13,818.71 538.14,819.31 538.16,819.91 538.17,820.51 538.19,821.12 538.2,821.72 538.22,822.32 538.23,822.93 538.25,823.53 538.26,824.13 538.28,824.74 538.29,825.34 538.31,825.94 538.32,826.54 538.34,827.15 538.35,827.75 538.36,828.35 538.38,828.96 538.39,829.56 538.41,830.16 538.42,830.76 538.44,831.37 538.45,831.97 538.47,832.57 538.48,833.18 538.5,833.78 538.51,834.38 538.53,834.99 538.54,835.59 538.56,836.19 538.57,836.79 538.59,837.4 538.6,838 538.83,837.38 539.07,836.77 539.3,836.15 539.53,835.53 539.77,834.92 540,834.3 540.48,833.8 540.96,833.3 541.44,832.8 541.92,832.3 542.4,831.8 542.78,831.3 543.16,830.8 543.54,830.3 543.92,829.8 544.3,829.3 544.68,828.8 545.06,828.3 545.44,827.8 545.82,827.3 546.2,826.8 546.54,827.31 546.87,827.82 547.21,828.33 547.55,828.84 547.88,829.35 548.22,829.85 548.55,830.36 548.89,830.87 549.23,831.38 549.56,831.89 549.9,832.4 550.36,831.94 550.83,831.48 551.29,831.01 551.75,830.55 552.21,830.09 552.67,829.62 553.14,829.16 553.6,828.7 554.22,829.06 554.84,829.42 555.46,829.78 556.08,830.14 556.7,830.5 556.94,829.95 557.19,829.4 557.43,828.85 557.68,828.3 557.92,827.75 558.17,827.2 558.41,826.65 558.66,826.1 558.9,825.55 559.14,825 559.39,824.45 559.63,823.9 559.88,823.35 560.12,822.8 560.37,822.25 560.61,821.7 560.86,821.15 561.1,820.6 561.63,820.24 562.16,819.89 562.69,819.53 563.21,819.17 563.74,818.81 564.27,818.46 564.8,818.1 565.42,818 566.03,817.9 566.65,817.8 567.27,817.7 567.88,817.6 568.5,817.5 568.81,816.98 569.12,816.47 569.42,815.95 569.73,815.43 570.04,814.92 570.35,814.4 570.66,813.88 570.97,813.37 571.28,812.85 571.58,812.33 571.89,811.82 572.2,811.3 572.83,811.45 573.45,811.6 574.08,811.75 574.7,811.9 575.33,812.05 575.95,812.2 576.58,812.35 577.2,812.5 577.74,812.16 578.29,811.81 578.83,811.47 579.38,811.12 579.92,810.78 580.47,810.43 581.01,810.09 581.56,809.74 582.1,809.4 582.42,808.88 582.73,808.37 583.05,807.85 583.37,807.33 583.68,806.82 584,806.3 584.32,805.78 584.63,805.27 584.95,804.75 585.27,804.23 585.58,803.72 585.9,803.2 586.52,803.32 587.13,803.43 587.75,803.55 588.37,803.67 588.98,803.78 589.6,803.9 590.22,803.58 590.83,803.27 591.45,802.95 592.07,802.63 592.68,802.32 593.3,802 593.68,801.52 594.07,801.05 594.45,800.57 594.84,800.09 595.22,799.62 595.61,799.14 595.99,798.66 596.38,798.18 596.76,797.71 597.15,797.23 597.53,796.75 597.92,796.28 598.3,795.8 598.67,796.3 599.04,796.8 599.41,797.3 599.78,797.8 600.15,798.3 600.52,798.8 600.89,799.3 601.26,799.8 601.63,800.3 602,800.8 602.34,800.29 602.67,799.78 603.01,799.27 603.35,798.76 603.68,798.25 604.02,797.75 604.35,797.24 604.69,796.73 605.03,796.22 605.36,795.71 605.7,795.2 606.16,794.74 606.62,794.28 607.09,793.81 607.55,793.35 608.01,792.89 608.48,792.42 608.94,791.96 609.4,791.5 609.88,791.1 610.35,790.7 610.83,790.3 611.3,789.9 611.77,789.5 612.25,789.1 612.73,788.7 613.2,788.3 613.82,788.06 614.44,787.82 615.06,787.58 615.68,787.34 616.3,787.1" fill="none" stroke="#a8407c" stroke-width="3" stroke-linejoin="round" stroke-linecap="round"/>
<path d="M79.1,747.4 79.72,747.42 80.34,747.44 80.97,747.47 81.59,747.49 82.21,747.51 82.83,747.53 83.46,747.56 84.08,747.58 84.7,747.6 85.32,747.62 85.94,747.64 86.57,747.67 87.19,747.69 87.81,747.71 88.43,747.73 89.06,747.76 89.68,747.78 90.3,747.8 90.87,747.53 91.43,747.27 92,747" fill="none" stroke="#f24444" stroke-width="2.25" stroke-linejoin="round" stroke-linecap="round"/>
<path d="M91.43,747.27 92,747 92,746.4 92,745.8 92.01,745.19 92.01,744.59 92.01,743.99 92.01,743.39 92.01,742.79 92.02,742.18 92.02,741.58 92.02,740.98 92.02,740.38 92.02,739.78 92.02,739.18 92.03,738.57 92.03,737.97 92.03,737.37 92.03,736.77 92.03,736.17 92.04,735.56 92.04,734.96 92.04,734.36 92.04,733.76 92.04,733.16 92.05,732.55 92.05,731.95 92.05,731.35 92.05,730.75 92.05,730.15 92.05,729.55 92.06,728.94 92.06,728.34 92.06,727.74 92.06,727.14 92.06,726.54 92.07,725.93 92.07,725.33 92.07,724.73 92.07,724.13 92.07,723.53 92.08,722.92 92.08,722.32 92.08,721.72 92.08,721.12 92.08,720.52 92.09,719.91 92.09,719.31 92.09,718.71 92.09,718.11 92.09,717.51 92.09,716.91 92.1,716.3 92.1,715.7 92.1,715.1 92.1,714.5 92.1,713.9 92.11,713.29 92.11,712.69 92.11,712.09 92.11,711.49 92.11,710.89 92.12,710.28 92.12,709.68 92.12,709.08 92.12,708.48 92.12,707.88 92.13,707.27 92.13,706.67 92.13,706.07 92.13,705.47 92.13,704.87 92.13,704.27 92.14,703.66 92.14,703.06 92.14,702.46 92.14,701.86 92.14,701.26 92.15,700.65 92.15,700.05 92.15,699.45 92.15,698.85 92.15,698.25 92.16,697.64 92.16,697.04 92.16,696.44 92.16,695.84 92.16,695.24 92.16,694.64 92.17,694.03 92.17,693.43 92.17,692.83 92.17,692.23 92.17,691.63 92.18,691.02 92.18,690.42 92.18,689.82 92.18,689.22 92.18,688.62 92.19,688.01 92.19,687.41 92.19,686.81 92.19,686.21 92.19,685.61 92.2,685 92.2,684.4 92.2,683.8 92.2,683.2 92.2,682.6 92.2,682 92.21,681.39 92.21,680.79 92.21,680.19 92.21,679.59 92.21,678.99 92.22,678.38 92.22,677.78 92.22,677.18 92.22,676.58 92.22,675.98 92.23,675.37 92.23,674.77 92.23,674.17 92.23,673.57 92.23,672.97 92.24,672.36 92.24,671.76 92.24,671.16 92.24,670.56 92.24,669.96 92.24,669.36 92.25,668.75 92.25,668.15 92.25,667.55 92.25,666.95 92.25,666.35 92.26,665.74 92.26,665.14 92.26,664.54 92.26,663.94 92.26,663.34 92.27,662.73 92.27,662.13 92.27,661.53 92.27,660.93 92.27,660.33 92.27,659.73 92.28,659.12 92.28,658.52 92.28,657.92 92.28,657.32 92.28,656.72 92.29,656.11 92.29,655.51 92.29,654.91 92.29,654.31 92.29,653.71 92.3,653.1 92.3,652.5 92.3,651.9 92.3,651.3 92.3,650.7 92.31,650.09 92.31,649.49 92.31,648.89 92.31,648.29 92.31,647.69 92.31,647.09 92.32,646.48 92.32,645.88 92.32,645.28 92.32,644.68 92.32,644.08 92.33,643.47 92.33,642.87 92.33,642.27 92.33,641.67 92.33,641.07 92.34,640.46 92.34,639.86 92.34,639.26 92.34,638.66 92.34,638.06 92.35,637.45 92.35,636.85 92.35,636.25 92.35,635.65 92.35,635.05 92.35,634.45 92.36,633.84 92.36,633.24 92.36,632.64 92.36,632.04 92.36,631.44 92.37,630.83 92.37,630.23 92.37,629.63 92.37,629.03 92.37,628.43 92.38,627.82 92.38,627.22 92.38,626.62 92.38,626.02 92.38,625.42 92.38,624.82 92.39,624.21 92.39,623.61 92.39,623.01 92.39,622.41 92.39,621.81 92.4,621.2 92.4,620.6 92.4,620 92.4,620.6 92.4,621.2 92.4,621.8 92.41,622.4 92.41,623 92.41,623.6 92.41,624.2 92.41,624.8 92.41,625.4 92.42,626.01 92.42,626.61 92.42,627.21 92.42,627.81 92.42,628.41 92.42,629.01 92.43,629.61 92.43,630.21 92.43,630.81 92.43,631.41 92.43,632.01 92.43,632.61 92.43,633.21 92.44,633.81 92.44,634.41 92.44,635.01 92.44,635.61 92.44,636.21 92.44,636.81 92.45,637.42 92.45,638.02 92.45,638.62 92.45,639.22 92.45,639.82 92.45,640.42 92.45,641.02 92.46,641.62 92.46,642.22 92.46,642.82 92.46,643.42 92.46,644.02 92.46,644.62 92.47,645.22 92.47,645.82 92.47,646.42 92.47,647.02 92.47,647.62 92.47,648.22 92.48,648.83 92.48,649.43 92.48,650.03 92.48,650.63 92.48,651.23 92.48,651.83 92.48,652.43 92.49,653.03 92.49,653.63 92.49,654.23 92.49,654.83 92.49,655.43 92.49,656.03 92.5,656.63 92.5,657.23 92.5,657.83 92.5,658.43 92.5,659.03 92.5,659.63 92.5,660.23 92.51,660.84 92.51,661.44 92.51,662.04 92.51,662.64 92.51,663.24 92.51,663.84 92.52,664.44 92.52,665.04 92.52,665.64 92.52,666.24 92.52,666.84 92.52,667.44 92.53,668.04 92.53,668.64 92.53,669.24 92.53,669.84 92.53,670.44 92.53,671.04 92.53,671.64 92.54,672.25 92.54,672.85 92.54,673.45 92.54,674.05 92.54,674.65 92.54,675.25 92.55,675.85 92.55,676.45 92.55,677.05 92.55,677.65 92.55,678.25 92.55,678.85 92.56,679.45 92.56,680.05 92.56,680.65 92.56,681.25 92.56,681.85 92.56,682.45 92.56,683.05 92.57,683.66 92.57,684.26 92.57,684.86 92.57,685.46 92.57,686.06 92.57,686.66 92.58,687.26 92.58,687.86 92.58,688.46 92.58,689.06 92.58,689.66 92.58,690.26 92.58,690.86 92.59,691.46 92.59,692.06 92.59,692.66 92.59,693.26 92.59,693.86 92.59,694.46 92.6,695.07 92.6,695.67 92.6,696.27 92.6,696.87 92.6,697.47 92.6,698.07 92.61,698.67 92.61,699.27 92.61,699.87 92.61,700.47 92.61,701.07 92.61,701.67 92.61,702.27 92.62,702.87 92.62,703.47 92.62,704.07 92.62,704.67 92.62,705.27 92.62,705.87 92.63,706.48 92.63,707.08 92.63,707.68 92.63,708.28 92.63,708.88 92.63,709.48 92.63,710.08 92.64,710.68 92.64,711.28 92.64,711.88 92.64,712.48 92.64,713.08 92.64,713.68 92.65,714.28 92.65,714.88 92.65,715.48 92.65,716.08 92.65,716.68 92.65,717.28 92.66,717.89 92.66,718.49 92.66,719.09 92.66,719.69 92.66,720.29 92.66,720.89 92.66,721.49 92.67,722.09 92.67,722.69 92.67,723.29 92.67,723.89 92.67,724.49 92.67,725.09 92.68,725.69 92.68,726.29 92.68,726.89 92.68,727.49 92.68,728.09 92.68,728.69 92.69,729.3 92.69,729.9 92.69,730.5 92.69,731.1 92.69,731.7 92.69,732.3 92.69,732.9 92.7,733.5 92.7,734.1 92.7,734.7 92.7,735.3 92.7,735.9 92.7,736.5 92.71,737.1 92.71,737.7 92.71,738.3 92.71,738.9 92.71,739.5 92.71,740.1 92.71,740.7 92.72,741.31 92.72,741.91 92.72,742.51 92.72,743.11 92.72,743.71 92.72,744.31 92.73,744.91 92.73,745.51 92.73,746.11 92.73,746.71 92.73,747.31 92.73,747.91 92.74,748.51 92.74,749.11 92.74,749.71 92.74,750.31 92.74,750.91 92.74,751.51 92.74,752.11 92.75,752.72 92.75,753.32 92.75,753.92 92.75,754.52 92.75,755.12 92.75,755.72 92.76,756.32 92.76,756.92 92.76,757.52 92.76,758.12 92.76,758.72 92.76,759.32 92.77,759.92 92.77,760.52 92.77,761.12 92.77,761.72 92.77,762.32 92.77,762.92 92.77,763.52 92.78,764.13 92.78,764.73 92.78,765.33 92.78,765.93 92.78,766.53 92.78,767.13 92.79,767.73 92.79,768.33 92.79,768.93 92.79,769.53 92.79,770.13 92.79,770.73 92.79,771.33 92.8,771.93 92.8,772.53 92.8,773.13 92.8,773.73 92.8,774.33 92.8,774.93 92.81,775.54 92.81,776.14 92.81,776.74 92.81,777.34 92.81,777.94 92.81,778.54 92.82,779.14 92.82,779.74 92.82,780.34 92.82,780.94 92.82,781.54 92.82,782.14 92.82,782.74 92.83,783.34 92.83,783.94 92.83,784.54 92.83,785.14 92.83,785.74 92.83,786.34 92.84,786.95 92.84,787.55 92.84,788.15 92.84,788.75 92.84,789.35 92.84,789.95 92.84,790.55 92.85,791.15 92.85,791.75 92.85,792.35 92.85,792.95 92.85,793.55 92.85,794.15 92.86,794.75 92.86,795.35 92.86,795.95 92.86,796.55 92.86,797.15 92.86,797.75 92.87,798.36 92.87,798.96 92.87,799.56 92.87,800.16 92.87,800.76 92.87,801.36 92.87,801.96 92.88,802.56 92.88,803.16 92.88,803.76 92.88,804.36 92.88,804.96 92.88,805.56 92.89,806.16 92.89,806.76 92.89,807.36 92.89,807.96 92.89,808.56 92.89,809.16 92.9,809.77 92.9,810.37 92.9,810.97 92.9,811.57 92.9,812.17 92.9,812.77 92.9,813.37 92.91,813.97 92.91,814.57 92.91,815.17 92.91,815.77 92.91,816.37 92.91,816.97 92.92,817.57 92.92,818.17 92.92,818.77 92.92,819.37 92.92,819.97 92.92,820.57 92.92,821.17 92.93,821.78 92.93,822.38 92.93,822.98 92.93,823.58 92.93,824.18 92.93,824.78 92.94,825.38 92.94,825.98 92.94,826.58 92.94,827.18 92.94,827.78 92.94,828.38 92.95,828.98 92.95,829.58 92.95,830.18 92.95,830.78 92.95,831.38 92.95,831.98 92.95,832.58 92.96,833.19 92.96,833.79 92.96,834.39 92.96,834.99 92.96,835.59 92.96,836.19 92.97,836.79 92.97,837.39 92.97,837.99 92.97,838.59 92.97,839.19 92.97,839.79 92.97,840.39 92.98,840.99 92.98,841.59 92.98,842.19 92.98,842.79 92.98,843.39 92.98,843.99 92.99,844.6 92.99,845.2 92.99,845.8 92.99,846.4 92.99,847 92.99,847.6 93,848.2 93,848.8 93,849.4 93,850 93,849.4 93.01,848.8 93.01,848.19 93.01,847.59 93.02,846.99 93.02,846.39 93.02,845.79 93.03,845.18 93.03,844.58 93.03,843.98 93.03,843.38 93.04,842.77" fill="none" stroke="#f24444" stroke-width="2.5" stroke-linejoin="round" stroke-linecap="round"/>
<path d="M93.03,843.38 93.04,842.77 93.04,842.17 93.04,841.57 93.05,840.97 93.05,840.37 93.05,839.76 93.06,839.16 93.06,838.56 93.06,837.96 93.07,837.36 93.07,836.75 93.07,836.15 93.08,835.55 93.08,834.95 93.08,834.35 93.08,833.74 93.09,833.14 93.09,832.54 93.09,831.94 93.1,831.34 93.1,830.73 93.1,830.13 93.11,829.53 93.11,828.93 93.11,828.32 93.12,827.72 93.12,827.12 93.12,826.52 93.13,825.92 93.13,825.31 93.13,824.71 93.14,824.11 93.14,823.51 93.14,822.91 93.14,822.3 93.15,821.7 93.15,821.1 93.15,820.5 93.16,819.9 93.16,819.29 93.16,818.69 93.17,818.09 93.17,817.49 93.17,816.88 93.18,816.28 93.18,815.68 93.18,815.08 93.19,814.48 93.19,813.87 93.19,813.27 93.19,812.67 93.2,812.07 93.2,811.47 93.2,810.86 93.21,810.26 93.21,809.66 93.21,809.06 93.22,808.46 93.22,807.85 93.22,807.25 93.23,806.65 93.23,806.05 93.23,805.45 93.24,804.84 93.24,804.24 93.24,803.64 93.25,803.04 93.25,802.43 93.25,801.83 93.25,801.23 93.26,800.63 93.26,800.03 93.26,799.42 93.27,798.82 93.27,798.22 93.27,797.62 93.28,797.02 93.28,796.41 93.28,795.81 93.29,795.21 93.29,794.61 93.29,794.01 93.3,793.4 93.3,792.8 93.3,792.2 93.3,791.6 93.31,790.99 93.31,790.39 93.31,789.79 93.32,789.19 93.32,788.59 93.32,787.98 93.33,787.38 93.33,786.78 93.33,786.18 93.34,785.58 93.34,784.97 93.34,784.37 93.35,783.77 93.35,783.17 93.35,782.57 93.35,781.96 93.36,781.36 93.36,780.76 93.36,780.16 93.37,779.55 93.37,778.95 93.37,778.35 93.38,777.75 93.38,777.15 93.38,776.54 93.39,775.94 93.39,775.34 93.39,774.74 93.4,774.14 93.4,773.53 93.4,772.93 93.41,772.33 93.41,771.73 93.41,771.13 93.41,770.52" fill="none" stroke="#f24444" stroke-width="2.25" stroke-linejoin="round" stroke-linecap="round"/>
<path d="M93.41,771.13 93.41,770.52 93.42,769.92 93.42,769.32 93.42,768.72 93.43,768.12 93.43,767.51 93.43,766.91 93.44,766.31 93.44,765.71 93.44,765.1 93.45,764.5 93.45,763.9 93.45,763.3 93.46,762.7 93.46,762.09 93.46,761.49 93.46,760.89 93.47,760.29 93.47,759.69 93.47,759.08 93.48,758.48 93.48,757.88 93.48,757.28 93.49,756.68 93.49,756.07 93.49,755.47 93.5,754.87 93.5,754.27 93.5,753.66 93.51,753.06 93.51,752.46 93.51,751.86 93.52,751.26 93.52,750.65 93.52,750.05 93.52,749.45 93.53,748.85 93.53,748.25 93.53,747.64 93.54,747.04 93.54,746.44 93.54,745.84 93.55,745.24 93.55,744.63 93.55,744.03 93.56,743.43 93.56,742.83 93.56,742.23 93.57,741.62 93.57,741.02 93.57,740.42 93.57,739.82 93.58,739.21 93.58,738.61 93.58,738.01 93.59,737.41 93.59,736.81 93.59,736.2 93.6,735.6 93.6,735" fill="none" stroke="#f24444" stroke-width="2" stroke-linejoin="round" stroke-linecap="round"/>
<path d="M93.6,722.5 93.63,723.1 93.66,723.7 93.69,724.3 93.72,724.9 93.75,725.5 93.78,726.11 93.81,726.71 93.84,727.31 93.87,727.91 93.9,728.51 93.92,729.11 93.95,729.71 93.98,730.31 94.01,730.91 94.04,731.51 94.07,732.11 94.1,732.72 94.13,733.32 94.16,733.92 94.19,734.52 94.22,735.12 94.25,735.72 94.28,736.32 94.31,736.92 94.34,737.52 94.37,738.12 94.4,738.72 94.43,739.33 94.46,739.93 94.49,740.53 94.52,741.13 94.55,741.73 94.57,742.33 94.6,742.93 94.63,743.53 94.66,744.13 94.69,744.73 94.72,745.33 94.75,745.93 94.78,746.54 94.81,747.14 94.84,747.74 94.87,748.34 94.9,748.94 94.93,748.34 94.97,747.73 95,747.13 95.03,746.53 95.07,745.93 95.1,745.33 95.13,744.72 95.17,744.12 95.2,743.52 95.23,742.92 95.27,742.31 95.3,741.71 95.33,741.11 95.37,740.51 95.4,739.9 95.43,739.3 95.47,738.7 95.5,738.1 95.53,737.49 95.57,736.89 95.6,736.29 95.63,735.69 95.67,735.08 95.7,734.48 95.73,733.88 95.77,733.28 95.8,732.68 95.83,732.07 95.87,731.47 95.9,730.87 95.93,730.27 95.97,729.66 96,729.06 96.03,728.46 96.07,727.86 96.1,727.25 96.13,726.65 96.17,726.05 96.2,725.45 96.24,726.06 96.28,726.67 96.31,727.29 96.35,727.9 96.39,728.52 96.43,729.13 96.47,729.74 96.51,730.36 96.54,730.97 96.58,731.59 96.62,732.2 96.66,732.81 96.7,733.43 96.74,734.04 96.77,734.66 96.81,735.27 96.85,735.88 96.89,736.5 96.93,737.11 96.96,737.73 97,738.34 97.04,738.95 97.08,739.57 97.12,740.18 97.16,740.8 97.19,741.41 97.23,742.02 97.27,742.64 97.31,743.25 97.35,743.87 97.39,744.48 97.42,745.09 97.46,745.71 97.5,746.32 97.54,745.7 97.59,745.08 97.63,744.47 97.67,743.85 97.72,743.23 97.76,742.61 97.8,741.99 97.85,741.38 97.89,740.76 97.93,740.14 97.98,739.52 98.02,738.9 98.06,738.28 98.11,737.67 98.15,737.05 98.19,736.43 98.24,735.81 98.28,735.19 98.32,734.57 98.37,733.96 98.41,733.34 98.45,732.72 98.5,732.1 98.54,731.48 98.58,730.86 98.63,730.25 98.67,729.63 98.71,729.01 98.76,728.39 98.8,727.77 98.85,728.38 98.9,728.99 98.94,729.6 98.99,730.22 99.04,730.83 99.09,731.44 99.14,732.05 99.19,732.66 99.23,733.27 99.28,733.88 99.33,734.49 99.38,735.1 99.43,735.71 99.47,736.32 99.52,736.93 99.57,737.54 99.62,738.15 99.67,738.76 99.71,739.37 99.76,739.98 99.81,740.59 99.86,741.2 99.91,741.81 99.96,742.42 100,743.03 100.05,743.64 100.1,744.25 100.15,743.64 100.21,743.03 100.26,742.42 100.32,741.81 100.37,741.2 100.42,740.59 100.48,739.98 100.53,739.37 100.59,738.76 100.64,738.15 100.7,737.54 100.75,736.93 100.8,736.32 100.86,735.71 100.91,735.1 100.97,734.49 101.02,733.88 101.07,733.27 101.13,732.66 101.18,732.05 101.24,731.44 101.29,730.83 101.35,730.22 101.4,729.61 101.46,730.23 101.52,730.85 101.59,731.47 101.65,732.09 101.71,732.71 101.77,733.33 101.83,733.95 101.9,734.57 101.96,735.19 102.02,735.81 102.08,736.43 102.14,737.05 102.2,737.66 102.27,738.28 102.33,738.9 102.39,739.52 102.45,740.14 102.51,740.76 102.58,741.38 102.64,742 102.7,742.62 102.77,742.01 102.84,741.4 102.91,740.8 102.97,740.19 103.04,739.58 103.11,738.97 103.18,738.36 103.25,737.75 103.32,737.15 103.38,736.54 103.45,735.93 103.52,735.32 103.59,734.71 103.66,734.1 103.73,733.49 103.79,732.89 103.86,732.28 103.93,731.67 104,731.06 104.08,731.67 104.15,732.27 104.23,732.87 104.31,733.48 104.38,734.08 104.46,734.69 104.54,735.29 104.61,735.89 104.69,736.5 104.76,737.1 104.84,737.71 104.92,738.31 104.99,738.92 105.07,739.52 105.15,740.12 105.22,740.73 105.3,741.33 105.39,740.72 105.47,740.12 105.56,739.51 105.65,738.9 105.73,738.29 105.82,737.68 105.91,737.07 105.99,736.47 106.08,735.86 106.17,735.25 106.25,734.64 106.34,734.03 106.43,733.42 106.51,732.81 106.6,732.21 106.7,732.83 106.8,733.45 106.9,734.08 107,734.7 107.1,735.32 107.2,735.95 107.3,736.57 107.4,737.2 107.5,737.82 107.6,738.44 107.7,739.07 107.8,739.69 107.9,740.32 108.01,739.71 108.12,739.11 108.22,738.51 108.33,737.91 108.44,737.31 108.55,736.71 108.66,736.11 108.77,735.51 108.87,734.91 108.98,734.31 109.09,733.71 109.2,733.11 109.33,733.75 109.46,734.39 109.59,735.03 109.72,735.67 109.85,736.31 109.98,736.95 110.11,737.59 110.24,738.23 110.37,738.87 110.5,739.51 110.64,738.88 110.79,738.25 110.93,737.62 111.08,736.98 111.22,736.35 111.37,735.72 111.51,735.09 111.66,734.46 111.8,733.82 111.96,734.46 112.12,735.09 112.29,735.72 112.45,736.35 112.61,736.98 112.77,737.61 112.94,738.25 113.1,738.88 113.29,738.24 113.47,737.59 113.66,736.95 113.84,736.31 114.03,735.67 114.21,735.03 114.4,734.39 114.62,735.05 114.83,735.72 115.05,736.38 115.27,737.05 115.48,737.71 115.7,738.38 115.92,737.79 116.13,737.2 116.35,736.6 116.57,736.01 116.78,735.42 117,734.83 117.26,735.46 117.52,736.09 117.78,736.72 118.04,737.35 118.3,737.98 118.56,737.42 118.82,736.86 119.08,736.3 119.34,735.74 119.6,735.18 119.92,735.8 120.25,736.43 120.57,737.05 120.9,737.67 121.22,737.12 121.55,736.57 121.87,736.01 122.2,735.46 122.63,736.11 123.07,736.77 123.5,737.42 123.93,736.84 124.37,736.26 124.8,735.68 125.23,736.2 125.67,736.71 126.1,737.23" fill="none" stroke="#f24444" stroke-width="1.75" stroke-linejoin="round" stroke-linecap="round"/>
<path d="M94.5,732.91 95.52,732.76 96.54,733.97 97.55,733.77 98.57,731.96 99.59,733.14 100.61,731.03 101.63,731.47 102.65,731.62 103.66,732.55 104.68,733.41 105.7,731.47 106.72,732.83 107.74,734.46 108.76,731.19 109.78,732.48 110.8,729.93 111.82,731.01 112.84,732.42 113.86,734.74 114.88,734.32 115.9,733.2 116.92,734.24 117.94,731.45 118.96,734.33 119.98,735.2 121,731.32 122.02,732.39 123.04,731.54 124.06,733.21 125.08,733.1 126.1,730.97 127.12,734.27 128.14,734.32 129.16,732.82 130.18,733.65 131.2,732.54 132.22,730.67 133.24,733.09 134.26,731.37 135.28,730.49 136.3,731.43 137.32,734.19 138.34,731.41 139.36,730.12 140.38,733.08 141.4,730.26 142.42,730.56 143.44,730.53 144.46,730.39 145.48,731.87 146.5,732.68 147.52,730.01 148.54,730.51 149.56,732.99 150.58,729.18 151.6,731.99 152.62,730.37 153.64,728.96 154.66,728.88 155.68,727.9 156.7,732.3 157.72,729.19 158.75,729.67 159.77,730.7 160.8,729.23 161.82,728.82 162.85,729.26 163.88,728.06 164.9,728.42 165.92,728.13 166.95,727.11 167.97,727.4 169,728.97 170.02,725.66 171.05,727.37 172.07,726.33 173.1,728.96 174.12,728.57 175.15,724.92 176.17,727.9 177.2,727.17 178.22,722.51 179.24,728.23 180.26,724.84 181.28,727.47 182.3,728.47 183.32,728.5 184.34,728.07 185.36,726.86 186.38,727.39 187.4,729.34 188.42,726.56 189.44,726.11 190.46,727.67 191.48,730.1 192.5,730.2 193.52,729.56 194.54,730.22 195.56,727.08 196.58,727.69 197.6,729.29 198.62,729.77 199.65,730.54 200.67,728.91 201.69,730.33 202.72,729.13 203.74,729.28 204.76,729.78 205.79,728.64 206.81,727.7 207.84,731.72 208.86,729.7 209.88,729.29 210.91,732.12 211.93,729.53 212.95,730.56 213.98,729.54 215,731.69 216.03,732.71 217.05,730.01 218.08,730.96 219.11,732.07 220.13,729.61 221.16,732.11 222.19,732.42 223.21,729.73 224.24,732.14 225.27,731.13 226.29,731.77 227.32,729.81 228.35,729.6 229.37,729.25 230.4,732.21 231.43,732.22 232.45,731.37 233.47,729.92 234.5,729.74 235.53,731.77 236.55,733.45 237.58,732.32 238.6,732.71 239.62,732.22 240.65,730.21 241.68,729.9 242.7,731.76 243.72,731.73 244.75,732.42 245.78,733.89 246.8,732.17 247.83,733.16 248.85,730.46 249.88,731.5 250.9,734.42 251.92,730.97 252.95,733.79 253.97,731.51 254.99,732.19 256.01,730.71 257.04,733.4 258.06,734.13 259.08,731.5 260.1,730.55 261.13,733.47 262.15,733.18 263.17,732.72 264.2,733.5 265.22,731.66 266.24,732.38 267.26,731.11 268.29,733.23 269.31,733.52 270.33,733.83 271.35,731.59 272.38,730.85 273.4,733.09 L273.4,740.73 272.38,742.94 271.35,740.19 270.33,741.57 269.31,741.67 268.29,743.82 267.26,740.91 266.24,740.81 265.22,740.78 264.2,740.12 263.17,741.02 262.15,740.07 261.13,740.98 260.1,742.58 259.08,742.41 258.06,742.1 257.04,742.55 256.01,742.59 254.99,740.14 253.97,742.59 252.95,742.09 251.92,743.9 250.9,741.56 249.88,743.54 248.85,744.59 247.83,740.82 246.8,742.3 245.78,740.83 244.75,741.77 243.72,743.18 242.7,740.92 241.68,741.3 240.65,741.44 239.62,740.05 238.6,741.97 237.58,740.47 236.55,742.95 235.53,742.19 234.5,744.48 233.47,742.32 232.45,739.76 231.43,742.71 230.4,739.08 229.37,741.22 228.35,739.97 227.32,739.25 226.29,743.21 225.27,740.5 224.24,743.48 223.21,740.66 222.19,740.68 221.16,742.34 220.13,742.39 219.11,744.82 218.08,740.28 217.05,741.09 216.03,738.57 215,741.28 213.98,742.29 212.95,739.66 211.93,738.86 210.91,742.84 209.88,739.9 208.86,743.87 207.84,741.08 206.81,738.55 205.79,739.9 204.76,739.49 203.74,740.34 202.72,737.47 201.69,741.18 200.67,740.02 199.65,739.41 198.62,738.58 197.6,739.61 196.58,738.17 195.56,738.78 194.54,738.22 193.52,737.24 192.5,739.5 191.48,738.94 190.46,738.99 189.44,737.03 188.42,737.07 187.4,738.64 186.38,735.94 185.36,739.58 184.34,737.93 183.32,734.92 182.3,736.68 181.28,736.63 180.26,737.7 179.24,737.88 178.22,734.3 177.2,734.39 176.17,735.69 175.15,735.26 174.12,738.37 173.1,735.94 172.07,734.89 171.05,736.38 170.02,738.58 169,739.26 167.97,736.21 166.95,739.45 165.92,740.81 164.9,740.05 163.88,739.98 162.85,738.8 161.82,738.9 160.8,740.13 159.77,738.39 158.75,740.64 157.72,739.92 156.7,741.11 155.68,740.1 154.66,739.79 153.64,739.63 152.62,739.35 151.6,739.42 150.58,740.26 149.56,742.53 148.54,740.14 147.52,739.42 146.5,739.45 145.48,740.66 144.46,740.48 143.44,742.27 142.42,739.7 141.4,742.85 140.38,740.36 139.36,743.52 138.34,743.63 137.32,739.99 136.3,740.9 135.28,743.47 134.26,741.41 133.24,740.81 132.22,743.66 131.2,743.44 130.18,747.37 129.16,740.68 128.14,743.81 127.12,741.45 126.1,741.95 125.08,741.91 124.06,743.14 123.04,743.85 122.02,740.9 121,743.52 119.98,742.47 118.96,742.79 117.94,741.49 116.92,742.61 115.9,744.55 114.88,744.87 113.86,741.02 112.84,740.77 111.82,743.9 110.8,743.16 109.78,742.22 108.76,741.55 107.74,742.88 106.72,743.14 105.7,741.14 104.68,742.28 103.66,741.16 102.65,741.65 101.63,742.12 100.61,740.62 99.59,740.46 98.57,744.95 97.55,740.74 96.54,740.19 95.52,742.4 94.5,743.03Z" fill="#f24444"/>
<path d="M94.5,737 95.52,737.02 96.54,737.04 97.55,737.05 98.57,737.07 99.59,737.09 100.61,737.11 101.63,737.13 102.65,737.15 103.66,737.16 104.68,737.18 105.7,737.2 106.72,737.3 107.74,737.4 108.76,737.5 109.78,737.6 110.8,737.7 111.82,737.8 112.84,737.9 113.86,738 114.88,738.1 115.9,738.2 116.92,738.15 117.94,738.1 118.96,738.05 119.98,738 121,737.95 122.02,737.9 123.04,737.85 124.06,737.8 125.08,737.75 126.1,737.7 127.12,737.65 128.14,737.6 129.16,737.55 130.18,737.5 131.2,737.45 132.22,737.4 133.24,737.35 134.26,737.3 135.28,737.25 136.3,737.2 137.32,737.1 138.34,736.99 139.36,736.88 140.38,736.78 141.4,736.68 142.42,736.57 143.44,736.47 144.46,736.36 145.48,736.25 146.5,736.15 147.52,736.05 148.54,735.94 149.56,735.84 150.58,735.73 151.6,735.62 152.62,735.52 153.64,735.42 154.66,735.31 155.68,735.21 156.7,735.1 157.72,734.89 158.75,734.69 159.77,734.49 160.8,734.28 161.82,734.08 162.85,733.87 163.88,733.66 164.9,733.46 165.92,733.25 166.95,733.05 167.97,732.85 169,732.64 170.02,732.44 171.05,732.23 172.07,732.02 173.1,731.82 174.12,731.62 175.15,731.41 176.17,731.21 177.2,731 178.22,731.15 179.24,731.31 180.26,731.47 181.28,731.62 182.3,731.77 183.32,731.93 184.34,732.09 185.36,732.24 186.38,732.39 187.4,732.55 188.42,732.71 189.44,732.86 190.46,733.01 191.48,733.17 192.5,733.33 193.52,733.48 194.54,733.63 195.56,733.79 196.58,733.95 197.6,734.1 198.62,734.18 199.65,734.26 200.67,734.35 201.69,734.43 202.72,734.51 203.74,734.59 204.76,734.68 205.79,734.76 206.81,734.84 207.84,734.92 208.86,735.01 209.88,735.09 210.91,735.17 211.93,735.25 212.95,735.34 213.98,735.42 215,735.5 216.03,735.54 217.05,735.58 218.08,735.62 219.11,735.66 220.13,735.7 221.16,735.74 222.19,735.78 223.21,735.82 224.24,735.86 225.27,735.9 226.29,735.94 227.32,735.98 228.35,736.02 229.37,736.06 230.4,736.1 231.43,736.15 232.45,736.21 233.47,736.26 234.5,736.32 235.53,736.38 236.55,736.43 237.58,736.49 238.6,736.54 239.62,736.6 240.65,736.65 241.68,736.71 242.7,736.76 243.72,736.82 244.75,736.87 245.78,736.93 246.8,736.98 247.83,737.04 248.85,737.09 249.88,737.15 250.9,737.2 251.92,737.2 252.95,737.2 253.97,737.2 254.99,737.2 256.01,737.2 257.04,737.2 258.06,737.2 259.08,737.2 260.1,737.2 261.13,737.2 262.15,737.2 263.17,737.2 264.2,737.2 265.22,737.2 266.24,737.2 267.26,737.2 268.29,737.2 269.31,737.2 270.33,737.2 271.35,737.2 272.38,737.2 273.4,737.2" fill="none" stroke="#f24444" stroke-width="2" stroke-linejoin="round" stroke-linecap="round"/>
<path d="M273.4,737.2 274.13,737.4 274.87,737.6 275.6,737.8 275.61,738.4 275.63,739 275.64,739.6 275.65,740.2 275.66,740.8 275.68,741.4 275.69,742 275.7,742.6 275.71,743.2 275.73,743.8 275.74,744.4 275.75,745 275.77,745.6 275.78,746.2 275.79,746.8 275.8,747.4 275.82,748 275.83,748.6 275.84,749.2 275.86,749.8 275.87,750.4 275.88,751 275.89,751.6 275.91,752.2 275.92,752.8 275.93,753.4 275.94,754 275.96,754.6 275.97,755.2 275.98,755.8 276,756.4 276.01,757 276.02,757.6 276.03,758.2 276.05,758.8 276.06,759.4 276.07,760 276.09,760.6 276.1,761.2 276.11,761.8 276.12,762.4 276.14,763 276.15,763.6 276.16,764.2 276.17,764.8 276.19,765.4 276.2,766 276.22,765.4 276.23,764.8 276.25,764.2 276.27,763.6 276.29,763 276.3,762.4 276.32,761.8 276.34,761.2 276.35,760.6 276.37,760 276.39,759.4 276.41,758.8 276.42,758.2 276.44,757.6 276.46,757 276.47,756.4 276.49,755.8 276.51,755.2 276.53,754.6 276.54,754 276.56,753.4 276.58,752.8 276.59,752.2 276.61,751.6 276.63,751 276.65,750.4 276.66,749.8 276.68,749.2 276.7,748.6 276.71,748 276.73,747.4 276.75,746.8 276.77,746.2 276.78,745.6 276.8,745 276.92,744.3 277.04,743.6 277.16,742.9 277.28,742.2 277.4,741.5 277.63,742.11 277.87,742.72 278.1,743.33 278.33,743.94 278.57,744.56 278.8,745.17 279.03,745.78 279.27,746.39 279.5,747 279.64,747.59 279.77,748.19 279.91,748.78 280.05,749.37 280.19,749.96 280.32,750.56 280.46,751.15 280.6,751.74 280.73,752.33 280.87,752.93 281.01,753.52 281.14,754.11 281.28,754.7 281.42,755.3 281.56,755.89 281.69,756.48 281.83,757.07 281.97,757.67 282.1,758.26 282.24,758.85 282.38,759.44 282.51,760.04 282.65,760.63 282.79,761.22 282.93,761.81 283.06,762.41 283.2,763 283.42,762.42 283.64,761.84 283.86,761.26 284.07,760.67 284.29,760.09 284.51,759.51 284.73,758.93 284.95,758.35 285.17,757.77 285.39,757.19 285.61,756.61 285.82,756.03 286.04,755.44 286.26,754.86 286.48,754.28 286.7,753.7 287.28,754.08 287.87,754.47 288.45,754.85 289.03,755.23 289.62,755.62 290.2,756 290.54,755.47 290.88,754.93 291.23,754.4 291.57,753.87 291.91,753.33 292.25,752.8 292.59,752.27 292.93,751.73 293.27,751.2 293.62,750.67 293.96,750.13 294.3,749.6 294.62,750.13 294.94,750.65 295.25,751.18 295.57,751.71 295.89,752.24 296.21,752.76 296.53,753.29 296.85,753.82 297.16,754.35 297.48,754.87 297.8,755.4 298.24,754.96 298.68,754.52 299.11,754.09 299.55,753.65 299.99,753.21 300.43,752.77 300.86,752.34 301.3,751.9 301.59,752.44 301.88,752.98 302.18,753.52 302.47,754.07 302.76,754.61 303.05,755.15 303.34,755.69 303.63,756.23 303.93,756.77 304.22,757.32 304.51,757.86 304.8,758.4 305.28,758 305.77,757.6 306.25,757.2 306.73,756.8 307.22,756.4 307.7,756 308.06,756.51 308.43,757.02 308.79,757.54 309.15,758.05 309.51,758.56 309.88,759.08 310.24,759.59 310.6,760.1 311,759.62 311.4,759.13 311.8,758.65 312.2,758.17 312.6,757.68 313,757.2 313.39,757.72 313.78,758.24 314.17,758.77 314.56,759.29 314.94,759.81 315.33,760.33 315.72,760.86 316.11,761.38 316.5,761.9 316.91,761.4 317.33,760.9 317.74,760.4 318.16,759.9 318.57,759.4 318.99,758.9 319.4,758.4 319.79,758.91 320.18,759.42 320.57,759.93 320.96,760.44 321.34,760.96 321.73,761.47 322.12,761.98 322.51,762.49 322.9,763 323.36,762.54 323.82,762.08 324.28,761.62 324.74,761.16 325.2,760.7 325.66,761.16 326.11,761.61 326.57,762.07 327.02,762.52 327.48,762.98 327.93,763.43 328.39,763.89 328.84,764.34 329.3,764.8 329.88,764.44 330.46,764.08 331.04,763.72 331.62,763.36 332.2,763 332.61,762.5 333.03,762 333.44,761.5 333.86,761 334.27,760.5 334.69,760 335.1,759.5 335.4,760.03 335.7,760.56 336,761.09 336.3,761.62 336.6,762.15 336.9,762.68 337.2,763.21 337.5,763.74 337.8,764.27 338.1,764.8 338.56,764.32 339.02,763.84 339.48,763.36 339.94,762.88 340.4,762.4 341.06,762.34 341.72,762.27 342.39,762.21 343.05,762.15 343.71,762.09 344.38,762.02 345.04,761.96 345.7,761.9 346.27,762.14 346.84,762.39 347.41,762.63 347.99,762.87 348.56,763.11 349.13,763.36 349.7,763.6 350.3,763.84 350.9,764.08 351.5,764.32 352.1,764.56 352.7,764.8" fill="none" stroke="#f24444" stroke-width="2.75" stroke-linejoin="round" stroke-linecap="round"/>
<path d="M352.7,764.8 352.85,765.39 353,765.98 353.15,766.57 353.3,767.16 353.45,767.75 353.6,768.34 353.75,768.93 353.9,769.52 354.05,770.11 354.2,770.7 354.2,771.3 354.21,771.9 354.21,772.51 354.21,773.11 354.22,773.71 354.22,774.31 354.23,774.92 354.23,775.52 354.23,776.12 354.24,776.72 354.24,777.32 354.24,777.93 354.25,778.53 354.25,779.13 354.25,779.73 354.26,780.34 354.26,780.94 354.26,781.54 354.27,782.14 354.27,782.74 354.28,783.35 354.28,783.95 354.28,784.55 354.29,785.15 354.29,785.76 354.29,786.36 354.3,786.96 354.3,787.56 354.3,788.17 354.31,788.77 354.31,789.37 354.31,789.97 354.32,790.57 354.32,791.18 354.33,791.78 354.33,792.38 354.33,792.98 354.34,793.59 354.34,794.19 354.34,794.79 354.35,795.39 354.35,795.99 354.35,796.6 354.36,797.2 354.36,797.8 354.37,798.4 354.37,799.01 354.37,799.61 354.38,800.21 354.38,800.81 354.38,801.41 354.39,802.02 354.39,802.62 354.39,803.22 354.4,803.82 354.4,804.43 354.4,805.03 354.41,805.63 354.41,806.23 354.42,806.83 354.42,807.44 354.42,808.04 354.43,808.64 354.43,809.24 354.43,809.85 354.44,810.45 354.44,811.05 354.44,811.65 354.45,812.25 354.45,812.86 354.45,813.46 354.46,814.06 354.46,814.66 354.47,815.27 354.47,815.87 354.47,816.47 354.48,817.07 354.48,817.67 354.48,818.28 354.49,818.88 354.49,819.48 354.49,820.08 354.5,820.69 354.5,821.29 354.5,821.89 354.51,822.49 354.51,823.1 354.52,823.7 354.52,824.3 354.52,824.9 354.53,825.5 354.53,826.11 354.53,826.71 354.54,827.31 354.54,827.91 354.54,828.52 354.55,829.12 354.55,829.72 354.56,830.32 354.56,830.92 354.56,831.53 354.57,832.13 354.57,832.73 354.57,833.33 354.58,833.94 354.58,834.54 354.58,835.14 354.59,835.74 354.59,836.34 354.59,836.95 354.6,837.55 354.6,838.15 354.61,838.75 354.61,839.36 354.61,839.96 354.62,840.56 354.62,841.16 354.62,841.76 354.63,842.37 354.63,842.97 354.63,843.57 354.64,844.17 354.64,844.78 354.64,845.38 354.65,845.98 354.65,846.58 354.66,847.18 354.66,847.79 354.66,848.39 354.67,848.99 354.67,849.59 354.67,850.2 354.68,850.8 354.68,851.4 354.68,852 354.69,852.6 354.69,853.21 354.7,853.81 354.7,854.41 354.7,855.01 354.71,855.62 354.71,856.22 354.71,856.82 354.72,857.42 354.72,858.03 354.72,858.63 354.73,859.23 354.73,859.83 354.73,860.43 354.74,861.04 354.74,861.64 354.75,862.24 354.75,862.84 354.75,863.45 354.76,864.05 354.76,864.65 354.76,865.25 354.77,865.85 354.77,866.46 354.77,867.06 354.78,867.66 354.78,868.26 354.78,868.87 354.79,869.47 354.79,870.07 354.8,870.67 354.8,871.27 354.8,871.88 354.81,872.48 354.81,873.08 354.81,873.68 354.82,874.29 354.82,874.89 354.82,875.49 354.83,876.09 354.83,876.69 354.83,877.3 354.84,877.9 354.84,878.5 354.85,879.1 354.85,879.71 354.85,880.31 354.86,880.91 354.86,881.51 354.86,882.11 354.87,882.72 354.87,883.32 354.87,883.92 354.88,884.52 354.88,885.13 354.89,885.73 354.89,886.33 354.89,886.93 354.9,887.53 354.9,888.14 354.9,888.74 354.91,889.34 354.91,889.94 354.91,890.55 354.92,891.15 354.92,891.75 354.92,892.35 354.93,892.96 354.93,893.56 354.94,894.16 354.94,894.76 354.94,895.36 354.95,895.97 354.95,896.57 354.95,897.17 354.96,897.77 354.96,898.38 354.96,898.98 354.97,899.58 354.97,900.18 354.97,900.78 354.98,901.39 354.98,901.99 354.99,902.59 354.99,903.19 354.99,903.8 355,904.4 355,905 355,904.4 355.01,903.8 355.01,903.19 355.02,902.59 355.02,901.99 355.02,901.39 355.03,900.79 355.03,900.19 355.04,899.58 355.04,898.98 355.04,898.38 355.05,897.78 355.05,897.18 355.06,896.57 355.06,895.97 355.07,895.37 355.07,894.77 355.07,894.17 355.08,893.57 355.08,892.96 355.09,892.36 355.09,891.76 355.09,891.16 355.1,890.56 355.1,889.95 355.11,889.35 355.11,888.75 355.11,888.15 355.12,887.55 355.12,886.95 355.13,886.34 355.13,885.74 355.13,885.14 355.14,884.54 355.14,883.94 355.15,883.33 355.15,882.73 355.15,882.13 355.16,881.53 355.16,880.93 355.17,880.33 355.17,879.72 355.18,879.12 355.18,878.52 355.18,877.92 355.19,877.32 355.19,876.71 355.2,876.11 355.2,875.51 355.2,874.91 355.21,874.31 355.21,873.71 355.22,873.1 355.22,872.5 355.22,871.9 355.23,871.3 355.23,870.7 355.24,870.1 355.24,869.49 355.24,868.89 355.25,868.29 355.25,867.69 355.26,867.09 355.26,866.48 355.26,865.88 355.27,865.28 355.27,864.68 355.28,864.08 355.28,863.48 355.29,862.87 355.29,862.27 355.29,861.67 355.3,861.07 355.3,860.47 355.31,859.86 355.31,859.26 355.31,858.66 355.32,858.06 355.32,857.46 355.33,856.86 355.33,856.25 355.33,855.65 355.34,855.05 355.34,854.45 355.35,853.85 355.35,853.24 355.35,852.64 355.36,852.04 355.36,851.44 355.37,850.84 355.37,850.24 355.37,849.63 355.38,849.03 355.38,848.43 355.39,847.83 355.39,847.23 355.4,846.62 355.4,846.02 355.4,845.42 355.41,844.82 355.41,844.22 355.42,843.62 355.42,843.01 355.42,842.41 355.43,841.81 355.43,841.21 355.44,840.61 355.44,840 355.44,839.4 355.45,838.8 355.45,838.2 355.46,837.6 355.46,837 355.46,836.39 355.47,835.79 355.47,835.19 355.48,834.59 355.48,833.99 355.48,833.38 355.49,832.78 355.49,832.18 355.5,831.58 355.5,830.98 355.5,830.38 355.51,829.77 355.51,829.17 355.52,828.57 355.52,827.97 355.53,827.37 355.53,826.76 355.53,826.16 355.54,825.56 355.54,824.96 355.55,824.36 355.55,823.76 355.55,823.15 355.56,822.55 355.56,821.95 355.57,821.35 355.57,820.75 355.57,820.14 355.58,819.54 355.58,818.94 355.59,818.34 355.59,817.74 355.59,817.14 355.6,816.53 355.6,815.93 355.61,815.33 355.61,814.73 355.61,814.13 355.62,813.52 355.62,812.92 355.63,812.32 355.63,811.72 355.64,811.12 355.64,810.52 355.64,809.91 355.65,809.31 355.65,808.71 355.66,808.11 355.66,807.51 355.66,806.9 355.67,806.3 355.67,805.7 355.68,805.1 355.68,804.5 355.68,803.9 355.69,803.29 355.69,802.69 355.7,802.09 355.7,801.49 355.7,800.89 355.71,800.29 355.71,799.68 355.72,799.08 355.72,798.48 355.72,797.88 355.73,797.28 355.73,796.67 355.74,796.07 355.74,795.47 355.75,794.87 355.75,794.27 355.75,793.67 355.76,793.06 355.76,792.46 355.77,791.86 355.77,791.26 355.77,790.66 355.78,790.05 355.78,789.45 355.79,788.85 355.79,788.25 355.79,787.65 355.8,787.05 355.8,786.44 355.81,785.84 355.81,785.24 355.81,784.64 355.82,784.04 355.82,783.43 355.83,782.83 355.83,782.23 355.83,781.63 355.84,781.03 355.84,780.43 355.85,779.82 355.85,779.22 355.86,778.62 355.86,778.02 355.86,777.42 355.87,776.81 355.87,776.21 355.88,775.61 355.88,775.01 355.88,774.41 355.89,773.81 355.89,773.2 355.9,772.6 355.9,772 356.4,771.35 356.9,770.7 356.93,771.3 356.95,771.9 356.98,772.5 357.01,773.1 357.04,773.7 357.06,774.3 357.09,774.9 357.12,775.5 357.15,776.1 357.17,776.7 357.2,777.3 357.23,777.9 357.26,778.5 357.28,779.1 357.31,779.7 357.34,780.3 357.37,780.9 357.39,781.5 357.42,782.1 357.45,782.7 357.48,783.3 357.5,783.9 357.53,784.5 357.56,785.1 357.59,785.7 357.61,786.3 357.64,786.9 357.67,787.5 357.7,788.1 357.72,788.7 357.75,789.3 357.78,789.9 357.81,790.5 357.83,791.1 357.86,791.7 357.89,792.3 357.92,792.9 357.94,793.5 357.97,794.1 358,794.7 358.03,795.3 358.05,795.9 358.08,796.5 358.11,797.1 358.14,797.7 358.16,798.3 358.19,798.9 358.22,799.5 358.25,800.1 358.27,800.7 358.3,801.3 358.41,800.71 358.51,800.11 358.62,799.52 358.72,798.92 358.83,798.33 358.93,797.73 359.04,797.14 359.14,796.54 359.25,795.95 359.35,795.35 359.46,794.76 359.56,794.16 359.67,793.57 359.77,792.97 359.88,792.38 359.98,791.78 360.09,791.19 360.19,790.59 360.3,790" fill="none" stroke="#f24444" stroke-width="1.75" stroke-linejoin="round" stroke-linecap="round"/>
<path d="M360.3,786.12 361.32,787.76 362.34,785.81 363.36,786.46 364.38,787.71 365.4,785.58 366.43,787 367.46,787.49 368.49,784.86 369.52,787.2 370.55,784.13 371.58,785.04 372.61,782.86 373.64,785.17 374.67,785.8 375.7,784.14 376.72,782.78 377.74,783.46 378.76,782.27 379.78,784.02 380.8,784 381.82,784.42 382.84,785.53 383.86,785.69 384.88,783.35 385.9,784.9 386.92,782.74 387.94,779.58 388.96,782.35 389.98,784.78 391,784.24 392.02,785.09 393.04,782.97 394.06,784.71 395.08,781.39 396.1,783.06 397.12,785.04 398.14,783.68 399.16,779.87 400.18,782.95 401.2,784.46 402.22,782.14 403.24,782.96 404.26,783.13 405.28,781.83 406.3,782.12 407.32,780.24 408.34,782.18 409.36,781.25 410.38,780.5 411.4,782.51 412.42,782.84 413.44,780.2 414.46,781.63 415.48,782.42 416.5,780.01 417.52,782.99 418.55,782.44 419.57,780.49 420.6,780.05 421.62,782.86 422.65,781.53 423.68,782.48 424.7,781.27 425.73,782.09 426.75,780.79 427.77,782.04 428.8,780.21 429.82,782.05 430.85,780.27 431.88,782.85 432.9,782.94 433.93,782.63 434.95,781 435.98,782.73 437,782.1 438.02,777.79 439.04,780.37 440.06,782.41 441.08,782.6 442.1,781.41 443.12,779.56 444.14,781.71 445.16,781.28 446.18,780.48 447.2,782.34 448.22,781.86 449.24,780.79 450.26,782.05 451.28,777.7 452.3,783.26 453.32,782.98 454.34,781.11 455.36,782.15 456.38,782.18 457.4,783.67 458.43,783.21 459.45,782.02 460.48,783.3 461.51,781.92 462.54,779.23 463.56,783.08 464.59,780.97 465.62,778.38 466.65,783.94 467.67,782.89 468.7,779.42 469.73,781.23 470.75,782.89 471.78,783 472.81,782.25 473.84,781.28 474.86,782.51 475.89,780.81 476.92,779.87 477.95,780.82 478.97,783.42 480,782.04 481.01,783.01 482.02,782.11 483.03,780.83 484.04,782.18 485.05,781.43 486.06,779.62 487.07,781.18 488.08,781.77 489.09,781.71 490.1,781.1 491.1,777.89 492.11,781.87 493.12,780.7 494.13,782.18 495.14,780.85 496.15,780.47 497.16,781.57 498.17,780.24 499.18,780.07 500.19,782.75 501.2,782.56 502.2,781.62 503.21,780.36 504.21,780.45 505.22,781.99 506.22,782.76 507.23,780.81 508.23,780.08 509.24,780.4 510.24,781.24 511.25,779.78 512.25,778.05 513.26,782.23 514.26,782.25 515.27,782.5 516.27,780.42 517.28,781.78 518.28,781.84 519.29,777.8 520.29,780.19 521.3,781.76 522.3,782.4 523.36,777.08 524.42,779.74 525.48,779.04 526.55,779.05 527.61,780.18 528.67,780.14 529.73,781.74 530.79,779.41 531.85,781.05 532.92,780.35 533.98,778.95 535.04,778.85 536.1,777.83 L536.1,787.31 535.04,787.44 533.98,788.36 532.92,786.41 531.85,788.23 530.79,789.52 529.73,788.85 528.67,787.53 527.61,787.66 526.55,787.58 525.48,787.68 524.42,789.25 523.36,789.6 522.3,789.42 521.3,789.41 520.29,789.09 519.29,789.52 518.28,788.59 517.28,789.54 516.27,789.35 515.27,790.43 514.26,790.39 513.26,790.16 512.25,787.94 511.25,790.58 510.24,788.67 509.24,790.57 508.23,787.91 507.23,790.18 506.22,789.48 505.22,790.8 504.21,788.4 503.21,789.16 502.2,788.26 501.2,790.07 500.19,793.06 499.18,788.59 498.17,793.37 497.16,791.94 496.15,791.75 495.14,790.89 494.13,789.49 493.12,788.48 492.11,789.73 491.1,788.61 490.1,788.36 489.09,792.95 488.08,788.7 487.07,788.5 486.06,789.91 485.05,790.96 484.04,790.94 483.03,789.13 482.02,790.74 481.01,791.82 480,789.3 478.97,790 477.95,791.91 476.92,790.07 475.89,789.27 474.86,788.88 473.84,790.96 472.81,791.2 471.78,790.23 470.75,793.6 469.73,789.93 468.7,791.89 467.67,793.18 466.65,788.8 465.62,790.6 464.59,790 463.56,789.52 462.54,789.47 461.51,789.45 460.48,790.85 459.45,789.12 458.43,790.43 457.4,790.09 456.38,791.61 455.36,789.39 454.34,791.91 453.32,788.74 452.3,791.37 451.28,789.1 450.26,791.6 449.24,791 448.22,793.25 447.2,789.88 446.18,793.47 445.16,789.64 444.14,791.2 443.12,790.37 442.1,791.32 441.08,789.13 440.06,788.45 439.04,790.2 438.02,791.86 437,789.11 435.98,790.14 434.95,789.15 433.93,788.14 432.9,789.19 431.88,790.23 430.85,788.91 429.82,787.88 428.8,790.28 427.77,789.32 426.75,790.03 425.73,788.39 424.7,789.3 423.68,788.75 422.65,788.99 421.62,788.89 420.6,790.77 419.57,791.1 418.55,788.02 417.52,788.66 416.5,787.89 415.48,789.66 414.46,789.26 413.44,789.37 412.42,788.59 411.4,789.1 410.38,791.73 409.36,788.55 408.34,788.71 407.32,789.33 406.3,792.53 405.28,793.35 404.26,791.97 403.24,793.11 402.22,791.64 401.2,791.48 400.18,791.18 399.16,792.68 398.14,790.2 397.12,790.31 396.1,790.1 395.08,790.2 394.06,792.32 393.04,792.54 392.02,793.9 391,790.54 389.98,791.43 388.96,794.63 387.94,791.09 386.92,791.51 385.9,793.56 384.88,791.2 383.86,793.04 382.84,792.59 381.82,791.24 380.8,790.63 379.78,792.14 378.76,793.27 377.74,792.77 376.72,791.18 375.7,791.32 374.67,795.3 373.64,794.85 372.61,791.48 371.58,795.82 370.55,792.2 369.52,795.24 368.49,792.89 367.46,793.32 366.43,794.89 365.4,794.11 364.38,794.42 363.36,795.06 362.34,792.66 361.32,796.35 360.3,793.57Z" fill="#f24444"/>
<path d="M360.3,790 361.32,790.1 362.34,790.2 363.36,790.3 364.38,790.4 365.4,790.5 366.43,790.3 367.46,790.1 368.49,789.9 369.52,789.7 370.55,789.5 371.58,789.3 372.61,789.1 373.64,788.9 374.67,788.7 375.7,788.5 376.72,788.45 377.74,788.4 378.76,788.35 379.78,788.3 380.8,788.25 381.82,788.2 382.84,788.15 383.86,788.1 384.88,788.05 385.9,788 386.92,787.95 387.94,787.9 388.96,787.85 389.98,787.8 391,787.75 392.02,787.7 393.04,787.65 394.06,787.6 395.08,787.55 396.1,787.5 397.12,787.4 398.14,787.3 399.16,787.2 400.18,787.1 401.2,787 402.22,786.9 403.24,786.8 404.26,786.7 405.28,786.6 406.3,786.5 407.32,786.4 408.34,786.3 409.36,786.2 410.38,786.1 411.4,786 412.42,785.9 413.44,785.8 414.46,785.7 415.48,785.6 416.5,785.5 417.52,785.5 418.55,785.5 419.57,785.5 420.6,785.5 421.62,785.5 422.65,785.5 423.68,785.5 424.7,785.5 425.73,785.5 426.75,785.5 427.77,785.5 428.8,785.5 429.82,785.5 430.85,785.5 431.88,785.5 432.9,785.5 433.93,785.5 434.95,785.5 435.98,785.5 437,785.5 438.02,785.55 439.04,785.6 440.06,785.65 441.08,785.7 442.1,785.75 443.12,785.8 444.14,785.85 445.16,785.9 446.18,785.95 447.2,786 448.22,786.05 449.24,786.1 450.26,786.15 451.28,786.2 452.3,786.25 453.32,786.3 454.34,786.35 455.36,786.4 456.38,786.45 457.4,786.5 458.43,786.49 459.45,786.48 460.48,786.47 461.51,786.46 462.54,786.45 463.56,786.45 464.59,786.44 465.62,786.43 466.65,786.42 467.67,786.41 468.7,786.4 469.73,786.39 470.75,786.38 471.78,786.37 472.81,786.36 473.84,786.35 474.86,786.35 475.89,786.34 476.92,786.33 477.95,786.32 478.97,786.31 480,786.3 481.01,786.25 482.02,786.2 483.03,786.14 484.04,786.09 485.05,786.04 486.06,785.99 487.07,785.93 488.08,785.88 489.09,785.83 490.1,785.78 491.1,785.72 492.11,785.67 493.12,785.62 494.13,785.57 495.14,785.51 496.15,785.46 497.16,785.41 498.17,785.36 499.18,785.3 500.19,785.25 501.2,785.2 502.2,785.19 503.21,785.18 504.21,785.17 505.22,785.16 506.22,785.15 507.23,785.14 508.23,785.13 509.24,785.12 510.24,785.11 511.25,785.1 512.25,785.1 513.26,785.09 514.26,785.08 515.27,785.07 516.27,785.06 517.28,785.05 518.28,785.04 519.29,785.03 520.29,785.02 521.3,785.01 522.3,785 523.36,784.88 524.42,784.77 525.48,784.65 526.55,784.54 527.61,784.42 528.67,784.31 529.73,784.19 530.79,784.08 531.85,783.96 532.92,783.85 533.98,783.73 535.04,783.62 536.1,783.5" fill="none" stroke="#f24444" stroke-width="2" stroke-linejoin="round" stroke-linecap="round"/>
<path d="M536.6,783.5 536.62,782.9 536.63,782.3 536.65,781.7 536.66,781.09 536.68,780.49 536.7,779.89 536.71,779.29 536.73,778.69 536.75,778.09 536.76,777.48 536.78,776.88 536.79,776.28 536.81,775.68 536.83,775.08 536.84,774.48 536.86,773.87 536.87,773.27 536.89,772.67 536.91,772.07 536.92,771.47 536.94,770.87 536.95,770.26 536.97,769.66 536.99,769.06 537,768.46 537.02,767.86 537.04,767.26 537.05,766.65 537.07,766.05 537.08,765.45 537.1,764.85 537.12,764.25 537.13,763.65 537.15,763.05 537.16,762.44 537.18,761.84 537.2,761.24 537.21,760.64 537.23,760.04 537.25,759.44 537.26,758.83 537.28,758.23 537.29,757.63 537.31,757.03 537.33,756.43 537.34,755.83 537.36,755.22 537.37,754.62 537.39,754.02 537.41,753.42 537.42,752.82 537.44,752.22 537.45,751.61 537.47,751.01 537.49,750.41 537.5,749.81 537.52,749.21 537.54,748.61 537.55,748 537.57,747.4 537.58,746.8 537.6,746.2 537.62,746.8 537.63,747.41 537.65,748.01 537.67,748.61 537.68,749.22 537.7,749.82 537.71,750.42 537.73,751.03 537.75,751.63 537.76,752.23 537.78,752.84 537.8,753.44 537.81,754.04 537.83,754.65 537.85,755.25 537.86,755.85 537.88,756.46 537.9,757.06 537.91,757.66 537.93,758.27 537.94,758.87 537.96,759.47 537.98,760.08 537.99,760.68 538.01,761.28 538.03,761.89 538.04,762.49 538.06,763.09 538.08,763.7 538.09,764.3 538.11,764.9 538.12,765.5 538.14,766.11 538.16,766.71 538.17,767.31 538.19,767.92 538.21,768.52 538.22,769.12 538.24,769.73 538.26,770.33 538.27,770.93 538.29,771.54 538.3,772.14 538.32,772.74 538.34,773.35 538.35,773.95 538.37,774.55 538.39,775.16 538.4,775.76 538.42,776.36 538.44,776.97 538.45,777.57 538.47,778.17 538.49,778.78 538.5,779.38 538.52,779.98 538.53,780.59 538.55,781.19 538.57,781.79 538.58,782.4 538.6,783 538.95,782.48 539.3,781.95 539.65,781.42 540,780.9 540.48,780.4 540.96,779.9 541.44,779.4 541.92,778.9 542.4,778.4 542.94,778.06 543.49,777.71 544.03,777.37 544.57,777.03 545.11,776.69 545.66,776.34 546.2,776 546.54,776.5 546.87,777 547.21,777.5 547.55,778 547.88,778.5 548.22,779 548.55,779.5 548.89,780 549.23,780.5 549.56,781 549.9,781.5 550.36,781.11 550.83,780.73 551.29,780.34 551.75,779.95 552.21,779.56 552.67,779.17 553.14,778.79 553.6,778.4 554.22,778.66 554.84,778.92 555.46,779.18 556.08,779.44 556.7,779.7 557.01,779.16 557.33,778.63 557.64,778.09 557.96,777.56 558.27,777.02 558.59,776.49 558.9,775.95 559.21,775.41 559.53,774.88 559.84,774.34 560.16,773.81 560.47,773.27 560.79,772.74 561.1,772.2 561.72,771.9 562.33,771.6 562.95,771.3 563.57,771 564.18,770.7 564.8,770.4 565.42,770.4 566.03,770.4 566.65,770.4 567.27,770.4 567.88,770.4 568.5,770.4 568.87,769.9 569.24,769.4 569.61,768.9 569.98,768.4 570.35,767.9 570.72,767.4 571.09,766.9 571.46,766.4 571.83,765.9 572.2,765.4 572.83,765.48 573.45,765.55 574.08,765.62 574.7,765.7 575.33,765.77 575.95,765.85 576.58,765.92 577.2,766 577.74,765.72 578.29,765.44 578.83,765.17 579.38,764.89 579.92,764.61 580.47,764.33 581.01,764.06 581.56,763.78 582.1,763.5 582.58,763.04 583.05,762.58 583.52,762.11 584,761.65 584.48,761.19 584.95,760.72 585.42,760.26 585.9,759.8 586.52,760.02 587.13,760.23 587.75,760.45 588.37,760.67 588.98,760.88 589.6,761.1 590.22,760.78 590.83,760.47 591.45,760.15 592.07,759.83 592.68,759.52 593.3,759.2 593.8,758.77 594.3,758.34 594.8,757.91 595.3,757.48 595.8,757.05 596.3,756.62 596.8,756.19 597.3,755.76 597.8,755.33 598.3,754.9 598.76,755.36 599.22,755.83 599.69,756.29 600.15,756.75 600.61,757.21 601.08,757.67 601.54,758.14 602,758.6 602.46,758.14 602.92,757.67 603.39,757.21 603.85,756.75 604.31,756.29 604.78,755.83 605.24,755.36 605.7,754.9 606.32,754.58 606.93,754.27 607.55,753.95 608.17,753.63 608.78,753.32 609.4,753 609.94,752.64 610.49,752.29 611.03,751.93 611.57,751.57 612.11,751.21 612.66,750.86 613.2,750.5 613.82,750.62 614.44,750.74 615.06,750.86 615.68,750.98 616.3,751.1" fill="none" stroke="#f24444" stroke-width="2.75" stroke-linejoin="round" stroke-linecap="round"/>
<line x1="616.6" y1="710.6" x2="616.6" y2="752" stroke="#e03040" stroke-width="1.1"/>
</g>
<g transform="translate(-12.5,531.25) scale(0.97)">
<rect x="144" y="402.8" width="122.6" height="5" fill="url(#shd)"/>
<path d="M156.4,378.9 C154.6,384 155.2,391 161,396.6 C165,400 170,402.3 177,402.6 L205.7,401.9 C214,401.2 222,399.5 231.5,395.8 C237,393.5 241,391.2 245,390.4 C252,388.2 258,387.6 266.6,387.1 C276,386 286,383.4 298.1,380.1 L308.6,377.2 L283.7,351.2 C283,343 282,336 278.8,331 C275,326 270,322.6 263.1,322.3 C260,322 258,322.8 256.1,323.7 L212.3,338.6 Z" fill="#fddac5" stroke="#555" stroke-width="0.8"/>
<path d="M170,401.2 C180,399.8 200,399.8 212,401 L212,402.4 L170,402.4 Z" fill="#f7b9b4" opacity="0.8"/>
<path d="M283.7,351.2 C292,358 301,367 308.6,376.8 C302,376 293,373 287.5,369 C284.5,365 283.5,358 283.7,351.2 Z" fill="#f4a57f" stroke="#555" stroke-width="0.7"/>
<path d="M152.5,378.2 C157,370 166,362 178,354.5 C189,348 201,343 212.3,338.8 C209,346 203,353 195,359.6 C185,366 172,373 160,377 C157,377.8 155,378 152.5,378.2 Z" fill="#f6eaf1" stroke="#555" stroke-width="0.8"/>
<line x1="143.9" y1="402.5" x2="266.6" y2="402.5" stroke="#6c6c6c" stroke-width="1.5"/>
<path d="M138,338.1 L149.9,338.1 L149.9,358.2 L155.3,358.2 L143.9,377.8 L132.4,358.2 L138,358.2 Z" fill="#a8417f"/>
</g>
<line x1="78.5" y1="650.7" x2="614" y2="650.7" stroke="#0000ff" stroke-width="2" stroke-dasharray="5.3 4.18" stroke-dashoffset="1.9"/>
<line x1="93" y1="630" x2="93" y2="976.7" stroke="#0000ff" stroke-width="2" stroke-dasharray="5.3 4.18" stroke-dashoffset="0.2"/>
<line x1="275.8" y1="639.8" x2="275.8" y2="976.7" stroke="#0000ff" stroke-width="2" stroke-dasharray="5.3 4.18" stroke-dashoffset="0"/>
<line x1="354.8" y1="641" x2="354.8" y2="976.7" stroke="#0000ff" stroke-width="2" stroke-dasharray="5.3 4.18" stroke-dashoffset="0"/>
<line x1="538.6" y1="637.9" x2="538.6" y2="976.7" stroke="#0000ff" stroke-width="2" stroke-dasharray="5.3 4.18" stroke-dashoffset="0"/>
<line x1="612.8" y1="639.9" x2="612.8" y2="976.7" stroke="#0000ff" stroke-width="2" stroke-dasharray="5.3 4.18" stroke-dashoffset="0"/>
<rect x="78.2" y="543" width="539.5" height="434.7" fill="none" stroke="#000" stroke-width="1.9"/>
<text x="67.9" y="548.6" text-anchor="end" font-size="18">3.0</text>
<text x="627.7" y="548.6" text-anchor="start" font-size="18">2.5</text>
<line x1="78.2" y1="564.74" x2="82.5" y2="564.74" stroke="#000" stroke-width="1.9"/>
<line x1="617.7" y1="564.74" x2="613.4" y2="564.74" stroke="#000" stroke-width="1.9"/>
<line x1="78.2" y1="586.47" x2="86.6" y2="586.47" stroke="#000" stroke-width="1.9"/>
<line x1="617.7" y1="586.47" x2="609.3" y2="586.47" stroke="#000" stroke-width="1.9"/>
<text x="67.9" y="592.07" text-anchor="end" font-size="18">2.5</text>
<text x="627.7" y="592.07" text-anchor="start" font-size="18">2.0</text>
<line x1="78.2" y1="608.21" x2="82.5" y2="608.21" stroke="#000" stroke-width="1.9"/>
<line x1="617.7" y1="608.21" x2="613.4" y2="608.21" stroke="#000" stroke-width="1.9"/>
<line x1="78.2" y1="629.94" x2="86.6" y2="629.94" stroke="#000" stroke-width="1.9"/>
<line x1="617.7" y1="629.94" x2="609.3" y2="629.94" stroke="#000" stroke-width="1.9"/>
<text x="67.9" y="635.54" text-anchor="end" font-size="18">2.0</text>
<text x="627.7" y="635.54" text-anchor="start" font-size="18">1.5</text>
<line x1="78.2" y1="651.67" x2="82.5" y2="651.67" stroke="#000" stroke-width="1.9"/>
<line x1="617.7" y1="651.67" x2="613.4" y2="651.67" stroke="#000" stroke-width="1.9"/>
<line x1="78.2" y1="673.41" x2="86.6" y2="673.41" stroke="#000" stroke-width="1.9"/>
<line x1="617.7" y1="673.41" x2="609.3" y2="673.41" stroke="#000" stroke-width="1.9"/>
<text x="67.9" y="679.01" text-anchor="end" font-size="18">1.5</text>
<text x="627.7" y="679.01" text-anchor="start" font-size="18">1.0</text>
<line x1="78.2" y1="695.14" x2="82.5" y2="695.14" stroke="#000" stroke-width="1.9"/>
<line x1="617.7" y1="695.14" x2="613.4" y2="695.14" stroke="#000" stroke-width="1.9"/>
<line x1="78.2" y1="716.88" x2="86.6" y2="716.88" stroke="#000" stroke-width="1.9"/>
<line x1="617.7" y1="716.88" x2="609.3" y2="716.88" stroke="#000" stroke-width="1.9"/>
<text x="67.9" y="722.48" text-anchor="end" font-size="18">1.0</text>
<text x="627.7" y="722.48" text-anchor="start" font-size="18">0.5</text>
<line x1="78.2" y1="738.62" x2="82.5" y2="738.62" stroke="#000" stroke-width="1.9"/>
<line x1="617.7" y1="738.62" x2="613.4" y2="738.62" stroke="#000" stroke-width="1.9"/>
<line x1="78.2" y1="760.35" x2="86.6" y2="760.35" stroke="#000" stroke-width="1.9"/>
<line x1="617.7" y1="760.35" x2="609.3" y2="760.35" stroke="#000" stroke-width="1.9"/>
<text x="67.9" y="765.95" text-anchor="end" font-size="18">0.5</text>
<text x="627.7" y="765.95" text-anchor="start" font-size="18">0.0</text>
<line x1="78.2" y1="782.09" x2="82.5" y2="782.09" stroke="#000" stroke-width="1.9"/>
<line x1="617.7" y1="782.09" x2="613.4" y2="782.09" stroke="#000" stroke-width="1.9"/>
<line x1="78.2" y1="803.82" x2="86.6" y2="803.82" stroke="#000" stroke-width="1.9"/>
<line x1="617.7" y1="803.82" x2="609.3" y2="803.82" stroke="#000" stroke-width="1.9"/>
<text x="67.9" y="809.42" text-anchor="end" font-size="18">0.0</text>
<text x="627.7" y="809.42" text-anchor="start" font-size="18">-0.5</text>
<line x1="78.2" y1="825.56" x2="82.5" y2="825.56" stroke="#000" stroke-width="1.9"/>
<line x1="617.7" y1="825.56" x2="613.4" y2="825.56" stroke="#000" stroke-width="1.9"/>
<line x1="78.2" y1="847.29" x2="86.6" y2="847.29" stroke="#000" stroke-width="1.9"/>
<line x1="617.7" y1="847.29" x2="609.3" y2="847.29" stroke="#000" stroke-width="1.9"/>
<text x="67.9" y="852.89" text-anchor="end" font-size="18">-0.5</text>
<text x="627.7" y="852.89" text-anchor="start" font-size="18">-1.0</text>
<line x1="78.2" y1="869.03" x2="82.5" y2="869.03" stroke="#000" stroke-width="1.9"/>
<line x1="617.7" y1="869.03" x2="613.4" y2="869.03" stroke="#000" stroke-width="1.9"/>
<line x1="78.2" y1="890.76" x2="86.6" y2="890.76" stroke="#000" stroke-width="1.9"/>
<line x1="617.7" y1="890.76" x2="609.3" y2="890.76" stroke="#000" stroke-width="1.9"/>
<text x="67.9" y="896.36" text-anchor="end" font-size="18">-1.0</text>
<text x="627.7" y="896.36" text-anchor="start" font-size="18">-1.5</text>
<line x1="78.2" y1="912.5" x2="82.5" y2="912.5" stroke="#000" stroke-width="1.9"/>
<line x1="617.7" y1="912.5" x2="613.4" y2="912.5" stroke="#000" stroke-width="1.9"/>
<line x1="78.2" y1="934.23" x2="86.6" y2="934.23" stroke="#000" stroke-width="1.9"/>
<line x1="617.7" y1="934.23" x2="609.3" y2="934.23" stroke="#000" stroke-width="1.9"/>
<text x="67.9" y="939.83" text-anchor="end" font-size="18">-1.5</text>
<text x="627.7" y="939.83" text-anchor="start" font-size="18">-2.0</text>
<line x1="78.2" y1="955.97" x2="82.5" y2="955.97" stroke="#000" stroke-width="1.9"/>
<line x1="617.7" y1="955.97" x2="613.4" y2="955.97" stroke="#000" stroke-width="1.9"/>
<text x="67.9" y="983.3" text-anchor="end" font-size="18">-2.0</text>
<text x="627.7" y="983.3" text-anchor="start" font-size="18">-2.5</text>
<line x1="92.8" y1="977.7" x2="92.8" y2="969.3" stroke="#000" stroke-width="1.9"/>
<text x="92.8" y="1001.2" text-anchor="middle" font-size="18">0</text>
<line x1="130.25" y1="977.7" x2="130.25" y2="973.4" stroke="#000" stroke-width="1.9"/>
<line x1="167.7" y1="977.7" x2="167.7" y2="969.3" stroke="#000" stroke-width="1.9"/>
<text x="167.7" y="1001.2" text-anchor="middle" font-size="18">1</text>
<line x1="205.15" y1="977.7" x2="205.15" y2="973.4" stroke="#000" stroke-width="1.9"/>
<line x1="242.6" y1="977.7" x2="242.6" y2="969.3" stroke="#000" stroke-width="1.9"/>
<text x="242.6" y="1001.2" text-anchor="middle" font-size="18">2</text>
<line x1="280.05" y1="977.7" x2="280.05" y2="973.4" stroke="#000" stroke-width="1.9"/>
<line x1="317.5" y1="977.7" x2="317.5" y2="969.3" stroke="#000" stroke-width="1.9"/>
<text x="317.5" y="1001.2" text-anchor="middle" font-size="18">3</text>
<line x1="354.95" y1="977.7" x2="354.95" y2="973.4" stroke="#000" stroke-width="1.9"/>
<line x1="392.4" y1="977.7" x2="392.4" y2="969.3" stroke="#000" stroke-width="1.9"/>
<text x="392.4" y="1001.2" text-anchor="middle" font-size="18">4</text>
<line x1="429.85" y1="977.7" x2="429.85" y2="973.4" stroke="#000" stroke-width="1.9"/>
<line x1="467.3" y1="977.7" x2="467.3" y2="969.3" stroke="#000" stroke-width="1.9"/>
<text x="467.3" y="1001.2" text-anchor="middle" font-size="18">5</text>
<line x1="504.75" y1="977.7" x2="504.75" y2="973.4" stroke="#000" stroke-width="1.9"/>
<line x1="542.2" y1="977.7" x2="542.2" y2="969.3" stroke="#000" stroke-width="1.9"/>
<text x="542.2" y="1001.2" text-anchor="middle" font-size="18">6</text>
<line x1="579.65" y1="977.7" x2="579.65" y2="973.4" stroke="#000" stroke-width="1.9"/>
<text x="617.1" y="1001.2" text-anchor="middle" font-size="18">7</text>
<text transform="translate(24.9,759.9) rotate(-90)" text-anchor="middle" font-size="22.65">Contact force /N</text>
<text transform="translate(682.4,757) rotate(-90)" text-anchor="middle" font-size="22.65">Friction coefficient</text>
<text x="344.8" y="1039.3" text-anchor="middle" font-size="23">Time /s</text>
<text x="2.3" y="549.4" font-size="22.6">(b)</text>
<text x="120.2" y="641.6" font-size="18.4" fill="#0000ff">Proximal sliding</text>
<text x="277.4" y="640.7" font-size="18.4" fill="#0000ff">Stationary</text>
<text x="401.8" y="642.1" font-size="18.4" fill="#0000ff">Distal sliding</text>
<text x="531.6" y="614.2" font-size="18.4" fill="#0000ff">Stationary</text>
<line x1="570" y1="619.6" x2="575.26" y2="635.31" stroke="#0000ff" stroke-width="1.3"/>
<path d="M577.8,642.9 L572.23,636.33 L578.29,634.3 Z" fill="#0000ff"/>
<text x="421.6" y="711.6" font-size="18.4" fill="#000">Normal force</text>
<text x="385.9" y="758.6" font-size="18.4" fill="#000">Friction coefficient</text>
<text x="430.8" y="885.4" font-size="18.4" fill="#000">Friction force</text>
<line x1="414.5" y1="695.3" x2="401.76" y2="686.83" stroke="#000" stroke-width="1.3"/>
<path d="M395.1,682.4 L403.53,684.17 L399.99,689.49 Z" fill="#000"/>
<line x1="444.1" y1="761.2" x2="428.71" y2="774.72" stroke="#000" stroke-width="1.3"/>
<path d="M422.7,780 L426.6,772.32 L430.82,777.12 Z" fill="#000"/>
<line x1="426.7" y1="879" x2="413.9" y2="870.22" stroke="#000" stroke-width="1.3"/>
<path d="M407.3,865.7 L415.71,867.58 L412.09,872.86 Z" fill="#000"/>
<path d="M126.8,937.3 L136.8,931.1 L136.8,934.2 L155.1,934.2 L155.1,931.1 L165.1,937.3 L155.1,943.5 L155.1,940.4 L136.8,940.4 L136.8,943.5 Z" fill="#6e8fd2"/>
<g transform="translate(95.9,865.6) scale(0.955)" fill="#1a1416">
<path d="M7.0,0.3 L7.9,0.3 L3.2,17.1 L2.3,17.1 Z"/>
<path d="M6.6,0.3 L9.3,0.3 L14.6,17.5 L13.3,17.5 Z"/>
<path d="M18.0,0.3 L18.9,0.3 L14.6,17.5 L13.9,17.5 Z"/>
<path d="M4.6,0 L10.2,0 L10.1,0.9 L4.5,0.9 Z"/>
<path d="M15.4,0 L20.2,0 L20.1,0.9 L15.3,0.9 Z"/>
<path d="M0,16.6 L5.6,16.6 L5.5,17.5 L-0.1,17.5 Z"/>
</g>
<g transform="translate(140.4,947.8) scale(0.96)" fill="#1a1416">
<path d="M1.6,0.4 L4.6,0.4 L1.6,17.0 L0.8,17.0 Z"/>
<path d="M13.4,0.4 L14.5,0.4 L1.7,17.0 L0.9,17.0 Z"/>
<path d="M0,0 L6.6,0 L6.5,0.9 L-0.1,0.9 Z"/>
<path d="M10.8,0 L15.2,0 L15.1,0.9 L10.7,0.9 Z"/>
</g>
</svg></body></html>
